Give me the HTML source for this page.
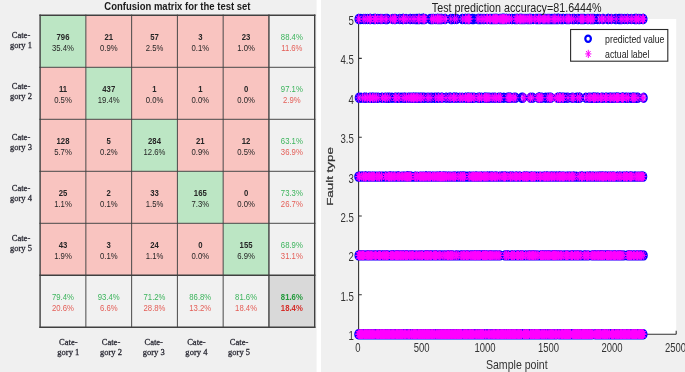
<!DOCTYPE html><html><head><meta charset="utf-8"><title>Confusion matrix and test prediction</title>
<style>html,body{margin:0;padding:0;background:#f0f0f0;overflow:hidden}svg{display:block}text{white-space:pre}.s{font-family:"Liberation Sans",Arial,sans-serif}.r{font-family:"Liberation Serif","Times New Roman",serif}</style></head><body>
<svg width="685" height="372" viewBox="0 0 685 372">
<rect width="685" height="372" fill="#f0f0f0"/>
<rect x="316.6" y="0" width="4.4" height="372" fill="#ffffff"/>
<rect x="40.10" y="15.30" width="45.77" height="52.00" fill="#bce6c4"/>
<rect x="85.87" y="15.30" width="45.77" height="52.00" fill="#f9c4c0"/>
<rect x="131.63" y="15.30" width="45.77" height="52.00" fill="#f9c4c0"/>
<rect x="177.40" y="15.30" width="45.77" height="52.00" fill="#f9c4c0"/>
<rect x="223.17" y="15.30" width="45.77" height="52.00" fill="#f9c4c0"/>
<rect x="268.93" y="15.30" width="45.77" height="52.00" fill="#f1f1f1"/>
<rect x="40.10" y="67.30" width="45.77" height="52.00" fill="#f9c4c0"/>
<rect x="85.87" y="67.30" width="45.77" height="52.00" fill="#bce6c4"/>
<rect x="131.63" y="67.30" width="45.77" height="52.00" fill="#f9c4c0"/>
<rect x="177.40" y="67.30" width="45.77" height="52.00" fill="#f9c4c0"/>
<rect x="223.17" y="67.30" width="45.77" height="52.00" fill="#f9c4c0"/>
<rect x="268.93" y="67.30" width="45.77" height="52.00" fill="#f1f1f1"/>
<rect x="40.10" y="119.30" width="45.77" height="52.00" fill="#f9c4c0"/>
<rect x="85.87" y="119.30" width="45.77" height="52.00" fill="#f9c4c0"/>
<rect x="131.63" y="119.30" width="45.77" height="52.00" fill="#bce6c4"/>
<rect x="177.40" y="119.30" width="45.77" height="52.00" fill="#f9c4c0"/>
<rect x="223.17" y="119.30" width="45.77" height="52.00" fill="#f9c4c0"/>
<rect x="268.93" y="119.30" width="45.77" height="52.00" fill="#f1f1f1"/>
<rect x="40.10" y="171.30" width="45.77" height="52.00" fill="#f9c4c0"/>
<rect x="85.87" y="171.30" width="45.77" height="52.00" fill="#f9c4c0"/>
<rect x="131.63" y="171.30" width="45.77" height="52.00" fill="#f9c4c0"/>
<rect x="177.40" y="171.30" width="45.77" height="52.00" fill="#bce6c4"/>
<rect x="223.17" y="171.30" width="45.77" height="52.00" fill="#f9c4c0"/>
<rect x="268.93" y="171.30" width="45.77" height="52.00" fill="#f1f1f1"/>
<rect x="40.10" y="223.30" width="45.77" height="52.00" fill="#f9c4c0"/>
<rect x="85.87" y="223.30" width="45.77" height="52.00" fill="#f9c4c0"/>
<rect x="131.63" y="223.30" width="45.77" height="52.00" fill="#f9c4c0"/>
<rect x="177.40" y="223.30" width="45.77" height="52.00" fill="#f9c4c0"/>
<rect x="223.17" y="223.30" width="45.77" height="52.00" fill="#bce6c4"/>
<rect x="268.93" y="223.30" width="45.77" height="52.00" fill="#f1f1f1"/>
<rect x="40.10" y="275.30" width="45.77" height="52.00" fill="#f1f1f1"/>
<rect x="85.87" y="275.30" width="45.77" height="52.00" fill="#f1f1f1"/>
<rect x="131.63" y="275.30" width="45.77" height="52.00" fill="#f1f1f1"/>
<rect x="177.40" y="275.30" width="45.77" height="52.00" fill="#f1f1f1"/>
<rect x="223.17" y="275.30" width="45.77" height="52.00" fill="#f1f1f1"/>
<rect x="268.93" y="275.30" width="45.77" height="52.00" fill="#d9d9d9"/>
<line x1="40.10" y1="14.60" x2="40.10" y2="328.00" stroke="#404040" stroke-width="1.4"/>
<line x1="39.40" y1="15.30" x2="315.40" y2="15.30" stroke="#404040" stroke-width="1.4"/>
<line x1="85.87" y1="14.60" x2="85.87" y2="328.00" stroke="#404040" stroke-width="0.95"/>
<line x1="39.40" y1="67.30" x2="315.40" y2="67.30" stroke="#404040" stroke-width="0.95"/>
<line x1="131.63" y1="14.60" x2="131.63" y2="328.00" stroke="#404040" stroke-width="0.95"/>
<line x1="39.40" y1="119.30" x2="315.40" y2="119.30" stroke="#404040" stroke-width="0.95"/>
<line x1="177.40" y1="14.60" x2="177.40" y2="328.00" stroke="#404040" stroke-width="0.95"/>
<line x1="39.40" y1="171.30" x2="315.40" y2="171.30" stroke="#404040" stroke-width="0.95"/>
<line x1="223.17" y1="14.60" x2="223.17" y2="328.00" stroke="#404040" stroke-width="0.95"/>
<line x1="39.40" y1="223.30" x2="315.40" y2="223.30" stroke="#404040" stroke-width="0.95"/>
<line x1="268.93" y1="14.60" x2="268.93" y2="328.00" stroke="#404040" stroke-width="1.4"/>
<line x1="39.40" y1="275.30" x2="315.40" y2="275.30" stroke="#404040" stroke-width="1.4"/>
<line x1="314.70" y1="14.60" x2="314.70" y2="328.00" stroke="#404040" stroke-width="1.4"/>
<line x1="39.40" y1="327.30" x2="315.40" y2="327.30" stroke="#404040" stroke-width="1.4"/>
<text class="s" transform="translate(62.98,39.55) scale(0.86,1.0)" font-size="9" fill="#262626" font-weight="bold" text-anchor="middle">796</text>
<text class="s" transform="translate(62.98,50.90) scale(0.86,1.0)" font-size="9" fill="#262626" font-weight="normal" text-anchor="middle">35.4%</text>
<text class="s" transform="translate(108.75,39.55) scale(0.86,1.0)" font-size="9" fill="#262626" font-weight="bold" text-anchor="middle">21</text>
<text class="s" transform="translate(108.75,50.90) scale(0.86,1.0)" font-size="9" fill="#262626" font-weight="normal" text-anchor="middle">0.9%</text>
<text class="s" transform="translate(154.52,39.55) scale(0.86,1.0)" font-size="9" fill="#262626" font-weight="bold" text-anchor="middle">57</text>
<text class="s" transform="translate(154.52,50.90) scale(0.86,1.0)" font-size="9" fill="#262626" font-weight="normal" text-anchor="middle">2.5%</text>
<text class="s" transform="translate(200.28,39.55) scale(0.86,1.0)" font-size="9" fill="#262626" font-weight="bold" text-anchor="middle">3</text>
<text class="s" transform="translate(200.28,50.90) scale(0.86,1.0)" font-size="9" fill="#262626" font-weight="normal" text-anchor="middle">0.1%</text>
<text class="s" transform="translate(246.05,39.55) scale(0.86,1.0)" font-size="9" fill="#262626" font-weight="bold" text-anchor="middle">23</text>
<text class="s" transform="translate(246.05,50.90) scale(0.86,1.0)" font-size="9" fill="#262626" font-weight="normal" text-anchor="middle">1.0%</text>
<text class="s" transform="translate(291.82,39.55) scale(0.86,1.0)" font-size="9" fill="#3cb45c" font-weight="normal" text-anchor="middle">88.4%</text>
<text class="s" transform="translate(291.82,50.90) scale(0.86,1.0)" font-size="9" fill="#e45e57" font-weight="normal" text-anchor="middle">11.6%</text>
<text class="s" transform="translate(62.98,91.55) scale(0.86,1.0)" font-size="9" fill="#262626" font-weight="bold" text-anchor="middle">11</text>
<text class="s" transform="translate(62.98,102.90) scale(0.86,1.0)" font-size="9" fill="#262626" font-weight="normal" text-anchor="middle">0.5%</text>
<text class="s" transform="translate(108.75,91.55) scale(0.86,1.0)" font-size="9" fill="#262626" font-weight="bold" text-anchor="middle">437</text>
<text class="s" transform="translate(108.75,102.90) scale(0.86,1.0)" font-size="9" fill="#262626" font-weight="normal" text-anchor="middle">19.4%</text>
<text class="s" transform="translate(154.52,91.55) scale(0.86,1.0)" font-size="9" fill="#262626" font-weight="bold" text-anchor="middle">1</text>
<text class="s" transform="translate(154.52,102.90) scale(0.86,1.0)" font-size="9" fill="#262626" font-weight="normal" text-anchor="middle">0.0%</text>
<text class="s" transform="translate(200.28,91.55) scale(0.86,1.0)" font-size="9" fill="#262626" font-weight="bold" text-anchor="middle">1</text>
<text class="s" transform="translate(200.28,102.90) scale(0.86,1.0)" font-size="9" fill="#262626" font-weight="normal" text-anchor="middle">0.0%</text>
<text class="s" transform="translate(246.05,91.55) scale(0.86,1.0)" font-size="9" fill="#262626" font-weight="bold" text-anchor="middle">0</text>
<text class="s" transform="translate(246.05,102.90) scale(0.86,1.0)" font-size="9" fill="#262626" font-weight="normal" text-anchor="middle">0.0%</text>
<text class="s" transform="translate(291.82,91.55) scale(0.86,1.0)" font-size="9" fill="#3cb45c" font-weight="normal" text-anchor="middle">97.1%</text>
<text class="s" transform="translate(291.82,102.90) scale(0.86,1.0)" font-size="9" fill="#e45e57" font-weight="normal" text-anchor="middle">2.9%</text>
<text class="s" transform="translate(62.98,143.55) scale(0.86,1.0)" font-size="9" fill="#262626" font-weight="bold" text-anchor="middle">128</text>
<text class="s" transform="translate(62.98,154.90) scale(0.86,1.0)" font-size="9" fill="#262626" font-weight="normal" text-anchor="middle">5.7%</text>
<text class="s" transform="translate(108.75,143.55) scale(0.86,1.0)" font-size="9" fill="#262626" font-weight="bold" text-anchor="middle">5</text>
<text class="s" transform="translate(108.75,154.90) scale(0.86,1.0)" font-size="9" fill="#262626" font-weight="normal" text-anchor="middle">0.2%</text>
<text class="s" transform="translate(154.52,143.55) scale(0.86,1.0)" font-size="9" fill="#262626" font-weight="bold" text-anchor="middle">284</text>
<text class="s" transform="translate(154.52,154.90) scale(0.86,1.0)" font-size="9" fill="#262626" font-weight="normal" text-anchor="middle">12.6%</text>
<text class="s" transform="translate(200.28,143.55) scale(0.86,1.0)" font-size="9" fill="#262626" font-weight="bold" text-anchor="middle">21</text>
<text class="s" transform="translate(200.28,154.90) scale(0.86,1.0)" font-size="9" fill="#262626" font-weight="normal" text-anchor="middle">0.9%</text>
<text class="s" transform="translate(246.05,143.55) scale(0.86,1.0)" font-size="9" fill="#262626" font-weight="bold" text-anchor="middle">12</text>
<text class="s" transform="translate(246.05,154.90) scale(0.86,1.0)" font-size="9" fill="#262626" font-weight="normal" text-anchor="middle">0.5%</text>
<text class="s" transform="translate(291.82,143.55) scale(0.86,1.0)" font-size="9" fill="#3cb45c" font-weight="normal" text-anchor="middle">63.1%</text>
<text class="s" transform="translate(291.82,154.90) scale(0.86,1.0)" font-size="9" fill="#e45e57" font-weight="normal" text-anchor="middle">36.9%</text>
<text class="s" transform="translate(62.98,195.55) scale(0.86,1.0)" font-size="9" fill="#262626" font-weight="bold" text-anchor="middle">25</text>
<text class="s" transform="translate(62.98,206.90) scale(0.86,1.0)" font-size="9" fill="#262626" font-weight="normal" text-anchor="middle">1.1%</text>
<text class="s" transform="translate(108.75,195.55) scale(0.86,1.0)" font-size="9" fill="#262626" font-weight="bold" text-anchor="middle">2</text>
<text class="s" transform="translate(108.75,206.90) scale(0.86,1.0)" font-size="9" fill="#262626" font-weight="normal" text-anchor="middle">0.1%</text>
<text class="s" transform="translate(154.52,195.55) scale(0.86,1.0)" font-size="9" fill="#262626" font-weight="bold" text-anchor="middle">33</text>
<text class="s" transform="translate(154.52,206.90) scale(0.86,1.0)" font-size="9" fill="#262626" font-weight="normal" text-anchor="middle">1.5%</text>
<text class="s" transform="translate(200.28,195.55) scale(0.86,1.0)" font-size="9" fill="#262626" font-weight="bold" text-anchor="middle">165</text>
<text class="s" transform="translate(200.28,206.90) scale(0.86,1.0)" font-size="9" fill="#262626" font-weight="normal" text-anchor="middle">7.3%</text>
<text class="s" transform="translate(246.05,195.55) scale(0.86,1.0)" font-size="9" fill="#262626" font-weight="bold" text-anchor="middle">0</text>
<text class="s" transform="translate(246.05,206.90) scale(0.86,1.0)" font-size="9" fill="#262626" font-weight="normal" text-anchor="middle">0.0%</text>
<text class="s" transform="translate(291.82,195.55) scale(0.86,1.0)" font-size="9" fill="#3cb45c" font-weight="normal" text-anchor="middle">73.3%</text>
<text class="s" transform="translate(291.82,206.90) scale(0.86,1.0)" font-size="9" fill="#e45e57" font-weight="normal" text-anchor="middle">26.7%</text>
<text class="s" transform="translate(62.98,247.55) scale(0.86,1.0)" font-size="9" fill="#262626" font-weight="bold" text-anchor="middle">43</text>
<text class="s" transform="translate(62.98,258.90) scale(0.86,1.0)" font-size="9" fill="#262626" font-weight="normal" text-anchor="middle">1.9%</text>
<text class="s" transform="translate(108.75,247.55) scale(0.86,1.0)" font-size="9" fill="#262626" font-weight="bold" text-anchor="middle">3</text>
<text class="s" transform="translate(108.75,258.90) scale(0.86,1.0)" font-size="9" fill="#262626" font-weight="normal" text-anchor="middle">0.1%</text>
<text class="s" transform="translate(154.52,247.55) scale(0.86,1.0)" font-size="9" fill="#262626" font-weight="bold" text-anchor="middle">24</text>
<text class="s" transform="translate(154.52,258.90) scale(0.86,1.0)" font-size="9" fill="#262626" font-weight="normal" text-anchor="middle">1.1%</text>
<text class="s" transform="translate(200.28,247.55) scale(0.86,1.0)" font-size="9" fill="#262626" font-weight="bold" text-anchor="middle">0</text>
<text class="s" transform="translate(200.28,258.90) scale(0.86,1.0)" font-size="9" fill="#262626" font-weight="normal" text-anchor="middle">0.0%</text>
<text class="s" transform="translate(246.05,247.55) scale(0.86,1.0)" font-size="9" fill="#262626" font-weight="bold" text-anchor="middle">155</text>
<text class="s" transform="translate(246.05,258.90) scale(0.86,1.0)" font-size="9" fill="#262626" font-weight="normal" text-anchor="middle">6.9%</text>
<text class="s" transform="translate(291.82,247.55) scale(0.86,1.0)" font-size="9" fill="#3cb45c" font-weight="normal" text-anchor="middle">68.9%</text>
<text class="s" transform="translate(291.82,258.90) scale(0.86,1.0)" font-size="9" fill="#e45e57" font-weight="normal" text-anchor="middle">31.1%</text>
<text class="s" transform="translate(62.98,299.55) scale(0.86,1.0)" font-size="9" fill="#3cb45c" font-weight="normal" text-anchor="middle">79.4%</text>
<text class="s" transform="translate(62.98,310.90) scale(0.86,1.0)" font-size="9" fill="#e45e57" font-weight="normal" text-anchor="middle">20.6%</text>
<text class="s" transform="translate(108.75,299.55) scale(0.86,1.0)" font-size="9" fill="#3cb45c" font-weight="normal" text-anchor="middle">93.4%</text>
<text class="s" transform="translate(108.75,310.90) scale(0.86,1.0)" font-size="9" fill="#e45e57" font-weight="normal" text-anchor="middle">6.6%</text>
<text class="s" transform="translate(154.52,299.55) scale(0.86,1.0)" font-size="9" fill="#3cb45c" font-weight="normal" text-anchor="middle">71.2%</text>
<text class="s" transform="translate(154.52,310.90) scale(0.86,1.0)" font-size="9" fill="#e45e57" font-weight="normal" text-anchor="middle">28.8%</text>
<text class="s" transform="translate(200.28,299.55) scale(0.86,1.0)" font-size="9" fill="#3cb45c" font-weight="normal" text-anchor="middle">86.8%</text>
<text class="s" transform="translate(200.28,310.90) scale(0.86,1.0)" font-size="9" fill="#e45e57" font-weight="normal" text-anchor="middle">13.2%</text>
<text class="s" transform="translate(246.05,299.55) scale(0.86,1.0)" font-size="9" fill="#3cb45c" font-weight="normal" text-anchor="middle">81.6%</text>
<text class="s" transform="translate(246.05,310.90) scale(0.86,1.0)" font-size="9" fill="#e45e57" font-weight="normal" text-anchor="middle">18.4%</text>
<text class="s" transform="translate(291.82,299.55) scale(0.86,1.0)" font-size="9" fill="#239a3c" font-weight="bold" text-anchor="middle">81.6%</text>
<text class="s" transform="translate(291.82,310.90) scale(0.86,1.0)" font-size="9" fill="#d62d28" font-weight="bold" text-anchor="middle">18.4%</text>
<text class="s" transform="translate(177.40,10.40) scale(0.95,1.0)" font-size="10" fill="#1a1a1a" font-weight="bold" text-anchor="middle">Confusion matrix for the test set</text>
<text class="r" transform="translate(21.00,38.20) scale(0.95,1.0)" font-size="9" fill="#1f1f2a" stroke="#1f1f2a" stroke-width="0.25" font-weight="normal" text-anchor="middle">Cate-</text>
<text class="r" transform="translate(21.00,48.10) scale(0.95,1.0)" font-size="9" fill="#1f1f2a" stroke="#1f1f2a" stroke-width="0.25" font-weight="normal" text-anchor="middle">gory 1</text>
<text class="r" transform="translate(21.00,89.00) scale(0.95,1.0)" font-size="9" fill="#1f1f2a" stroke="#1f1f2a" stroke-width="0.25" font-weight="normal" text-anchor="middle">Cate-</text>
<text class="r" transform="translate(21.00,98.90) scale(0.95,1.0)" font-size="9" fill="#1f1f2a" stroke="#1f1f2a" stroke-width="0.25" font-weight="normal" text-anchor="middle">gory 2</text>
<text class="r" transform="translate(21.00,139.80) scale(0.95,1.0)" font-size="9" fill="#1f1f2a" stroke="#1f1f2a" stroke-width="0.25" font-weight="normal" text-anchor="middle">Cate-</text>
<text class="r" transform="translate(21.00,149.70) scale(0.95,1.0)" font-size="9" fill="#1f1f2a" stroke="#1f1f2a" stroke-width="0.25" font-weight="normal" text-anchor="middle">gory 3</text>
<text class="r" transform="translate(21.00,190.60) scale(0.95,1.0)" font-size="9" fill="#1f1f2a" stroke="#1f1f2a" stroke-width="0.25" font-weight="normal" text-anchor="middle">Cate-</text>
<text class="r" transform="translate(21.00,200.50) scale(0.95,1.0)" font-size="9" fill="#1f1f2a" stroke="#1f1f2a" stroke-width="0.25" font-weight="normal" text-anchor="middle">gory 4</text>
<text class="r" transform="translate(21.00,241.40) scale(0.95,1.0)" font-size="9" fill="#1f1f2a" stroke="#1f1f2a" stroke-width="0.25" font-weight="normal" text-anchor="middle">Cate-</text>
<text class="r" transform="translate(21.00,251.30) scale(0.95,1.0)" font-size="9" fill="#1f1f2a" stroke="#1f1f2a" stroke-width="0.25" font-weight="normal" text-anchor="middle">gory 5</text>
<text class="r" transform="translate(68.30,345.00) scale(0.95,1.0)" font-size="9" fill="#1f1f2a" stroke="#1f1f2a" stroke-width="0.25" font-weight="normal" text-anchor="middle">Cate-</text>
<text class="r" transform="translate(68.30,354.90) scale(0.95,1.0)" font-size="9" fill="#1f1f2a" stroke="#1f1f2a" stroke-width="0.25" font-weight="normal" text-anchor="middle">gory 1</text>
<text class="r" transform="translate(111.00,345.00) scale(0.95,1.0)" font-size="9" fill="#1f1f2a" stroke="#1f1f2a" stroke-width="0.25" font-weight="normal" text-anchor="middle">Cate-</text>
<text class="r" transform="translate(111.00,354.90) scale(0.95,1.0)" font-size="9" fill="#1f1f2a" stroke="#1f1f2a" stroke-width="0.25" font-weight="normal" text-anchor="middle">gory 2</text>
<text class="r" transform="translate(153.70,345.00) scale(0.95,1.0)" font-size="9" fill="#1f1f2a" stroke="#1f1f2a" stroke-width="0.25" font-weight="normal" text-anchor="middle">Cate-</text>
<text class="r" transform="translate(153.70,354.90) scale(0.95,1.0)" font-size="9" fill="#1f1f2a" stroke="#1f1f2a" stroke-width="0.25" font-weight="normal" text-anchor="middle">gory 3</text>
<text class="r" transform="translate(196.40,345.00) scale(0.95,1.0)" font-size="9" fill="#1f1f2a" stroke="#1f1f2a" stroke-width="0.25" font-weight="normal" text-anchor="middle">Cate-</text>
<text class="r" transform="translate(196.40,354.90) scale(0.95,1.0)" font-size="9" fill="#1f1f2a" stroke="#1f1f2a" stroke-width="0.25" font-weight="normal" text-anchor="middle">gory 4</text>
<text class="r" transform="translate(239.10,345.00) scale(0.95,1.0)" font-size="9" fill="#1f1f2a" stroke="#1f1f2a" stroke-width="0.25" font-weight="normal" text-anchor="middle">Cate-</text>
<text class="r" transform="translate(239.10,354.90) scale(0.95,1.0)" font-size="9" fill="#1f1f2a" stroke="#1f1f2a" stroke-width="0.25" font-weight="normal" text-anchor="middle">gory 5</text>
<rect x="358.60" y="19.00" width="317.60" height="315.20" fill="#ffffff"/>
<path d="M358.60,19.00V334.20H676.20" fill="none" stroke="#333333" stroke-width="1.1"/>
<path d="M358.60,334.20h3.2M358.60,294.80h3.2M358.60,255.40h3.2M358.60,216.00h3.2M358.60,176.60h3.2M358.60,137.20h3.2M358.60,97.80h3.2M358.60,58.40h3.2M358.60,19.00h3.2M358.60,334.20v-3.4M422.12,334.20v-3.4M485.64,334.20v-3.4M549.16,334.20v-3.4M612.68,334.20v-3.4M676.20,334.20v-3.4" fill="none" stroke="#333333" stroke-width="1.1"/>
<path d="M355.3,334.2a2.95,4.1 0 1,0 5.9,0a2.95,4.1 0 1,0 -5.9,0m.5,0a2.95,4.1 0 1,0 5.9,0a2.95,4.1 0 1,0 -5.9,0m.75,0a2.95,4.1 0 1,0 5.9,0a2.95,4.1 0 1,0 -5.9,0m.25,0a2.95,4.1 0 1,0 5.9,0a2.95,4.1 0 1,0 -5.9,0m.5,0a2.95,4.1 0 1,0 5.9,0a2.95,4.1 0 1,0 -5.9,0m.25,0a2.95,4.1 0 1,0 5.9,0a2.95,4.1 0 1,0 -5.9,0m.25,0a2.95,4.1 0 1,0 5.9,0a2.95,4.1 0 1,0 -5.9,0m.25,0a2.95,4.1 0 1,0 5.9,0a2.95,4.1 0 1,0 -5.9,0m.5,0a2.95,4.1 0 1,0 5.9,0a2.95,4.1 0 1,0 -5.9,0m.25,0a2.95,4.1 0 1,0 5.9,0a2.95,4.1 0 1,0 -5.9,0m.25,0a2.95,4.1 0 1,0 5.9,0a2.95,4.1 0 1,0 -5.9,0m.25,0a2.95,4.1 0 1,0 5.9,0a2.95,4.1 0 1,0 -5.9,0m.75,0a2.95,4.1 0 1,0 5.9,0a2.95,4.1 0 1,0 -5.9,0m.25,0a2.95,4.1 0 1,0 5.9,0a2.95,4.1 0 1,0 -5.9,0m.25,0a2.95,4.1 0 1,0 5.9,0a2.95,4.1 0 1,0 -5.9,0m.25,0a2.95,4.1 0 1,0 5.9,0a2.95,4.1 0 1,0 -5.9,0m.5,0a2.95,4.1 0 1,0 5.9,0a2.95,4.1 0 1,0 -5.9,0m.25,0a2.95,4.1 0 1,0 5.9,0a2.95,4.1 0 1,0 -5.9,0m.25,0a2.95,4.1 0 1,0 5.9,0a2.95,4.1 0 1,0 -5.9,0m.25,0a2.95,4.1 0 1,0 5.9,0a2.95,4.1 0 1,0 -5.9,0m.25,0a2.95,4.1 0 1,0 5.9,0a2.95,4.1 0 1,0 -5.9,0m1.25,0a2.95,4.1 0 1,0 5.9,0a2.95,4.1 0 1,0 -5.9,0m.25,0a2.95,4.1 0 1,0 5.9,0a2.95,4.1 0 1,0 -5.9,0m.25,0a2.95,4.1 0 1,0 5.9,0a2.95,4.1 0 1,0 -5.9,0m.25,0a2.95,4.1 0 1,0 5.9,0a2.95,4.1 0 1,0 -5.9,0m.5,0a2.95,4.1 0 1,0 5.9,0a2.95,4.1 0 1,0 -5.9,0m.25,0a2.95,4.1 0 1,0 5.9,0a2.95,4.1 0 1,0 -5.9,0m.5,0a2.95,4.1 0 1,0 5.9,0a2.95,4.1 0 1,0 -5.9,0m.25,0a2.95,4.1 0 1,0 5.9,0a2.95,4.1 0 1,0 -5.9,0m.25,0a2.95,4.1 0 1,0 5.9,0a2.95,4.1 0 1,0 -5.9,0m.25,0a2.95,4.1 0 1,0 5.9,0a2.95,4.1 0 1,0 -5.9,0m.75,0a2.95,4.1 0 1,0 5.9,0a2.95,4.1 0 1,0 -5.9,0m.25,0a2.95,4.1 0 1,0 5.9,0a2.95,4.1 0 1,0 -5.9,0m.5,0a2.95,4.1 0 1,0 5.9,0a2.95,4.1 0 1,0 -5.9,0m.25,0a2.95,4.1 0 1,0 5.9,0a2.95,4.1 0 1,0 -5.9,0m.25,0a2.95,4.1 0 1,0 5.9,0a2.95,4.1 0 1,0 -5.9,0m.5,0a2.95,4.1 0 1,0 5.9,0a2.95,4.1 0 1,0 -5.9,0m.5,0a2.95,4.1 0 1,0 5.9,0a2.95,4.1 0 1,0 -5.9,0m.25,0a2.95,4.1 0 1,0 5.9,0a2.95,4.1 0 1,0 -5.9,0m.25,0a2.95,4.1 0 1,0 5.9,0a2.95,4.1 0 1,0 -5.9,0m.5,0a2.95,4.1 0 1,0 5.9,0a2.95,4.1 0 1,0 -5.9,0m.5,0a2.95,4.1 0 1,0 5.9,0a2.95,4.1 0 1,0 -5.9,0m.5,0a2.95,4.1 0 1,0 5.9,0a2.95,4.1 0 1,0 -5.9,0m.75,0a2.95,4.1 0 1,0 5.9,0a2.95,4.1 0 1,0 -5.9,0m.75,0a2.95,4.1 0 1,0 5.9,0a2.95,4.1 0 1,0 -5.9,0m.25,0a2.95,4.1 0 1,0 5.9,0a2.95,4.1 0 1,0 -5.9,0m.25,0a2.95,4.1 0 1,0 5.9,0a2.95,4.1 0 1,0 -5.9,0m.25,0a2.95,4.1 0 1,0 5.9,0a2.95,4.1 0 1,0 -5.9,0m.25,0a2.95,4.1 0 1,0 5.9,0a2.95,4.1 0 1,0 -5.9,0m.25,0a2.95,4.1 0 1,0 5.9,0a2.95,4.1 0 1,0 -5.9,0m.5,0a2.95,4.1 0 1,0 5.9,0a2.95,4.1 0 1,0 -5.9,0m.25,0a2.95,4.1 0 1,0 5.9,0a2.95,4.1 0 1,0 -5.9,0m.25,0a2.95,4.1 0 1,0 5.9,0a2.95,4.1 0 1,0 -5.9,0m.25,0a2.95,4.1 0 1,0 5.9,0a2.95,4.1 0 1,0 -5.9,0m.25,0a2.95,4.1 0 1,0 5.9,0a2.95,4.1 0 1,0 -5.9,0m.5,0a2.95,4.1 0 1,0 5.9,0a2.95,4.1 0 1,0 -5.9,0m.25,0a2.95,4.1 0 1,0 5.9,0a2.95,4.1 0 1,0 -5.9,0m.25,0a2.95,4.1 0 1,0 5.9,0a2.95,4.1 0 1,0 -5.9,0m.5,0a2.95,4.1 0 1,0 5.9,0a2.95,4.1 0 1,0 -5.9,0m.25,0a2.95,4.1 0 1,0 5.9,0a2.95,4.1 0 1,0 -5.9,0m.25,0a2.95,4.1 0 1,0 5.9,0a2.95,4.1 0 1,0 -5.9,0m.25,0a2.95,4.1 0 1,0 5.9,0a2.95,4.1 0 1,0 -5.9,0m.25,0a2.95,4.1 0 1,0 5.9,0a2.95,4.1 0 1,0 -5.9,0m.25,0a2.95,4.1 0 1,0 5.9,0a2.95,4.1 0 1,0 -5.9,0m.5,0a2.95,4.1 0 1,0 5.9,0a2.95,4.1 0 1,0 -5.9,0m.75,0a2.95,4.1 0 1,0 5.9,0a2.95,4.1 0 1,0 -5.9,0m.25,0a2.95,4.1 0 1,0 5.9,0a2.95,4.1 0 1,0 -5.9,0m.25,0a2.95,4.1 0 1,0 5.9,0a2.95,4.1 0 1,0 -5.9,0m.25,0a2.95,4.1 0 1,0 5.9,0a2.95,4.1 0 1,0 -5.9,0m.25,0a2.95,4.1 0 1,0 5.9,0a2.95,4.1 0 1,0 -5.9,0m.25,0a2.95,4.1 0 1,0 5.9,0a2.95,4.1 0 1,0 -5.9,0m.25,0a2.95,4.1 0 1,0 5.9,0a2.95,4.1 0 1,0 -5.9,0m.25,0a2.95,4.1 0 1,0 5.9,0a2.95,4.1 0 1,0 -5.9,0m.25,0a2.95,4.1 0 1,0 5.9,0a2.95,4.1 0 1,0 -5.9,0m.25,0a2.95,4.1 0 1,0 5.9,0a2.95,4.1 0 1,0 -5.9,0m.75,0a2.95,4.1 0 1,0 5.9,0a2.95,4.1 0 1,0 -5.9,0m.25,0a2.95,4.1 0 1,0 5.9,0a2.95,4.1 0 1,0 -5.9,0m.5,0a2.95,4.1 0 1,0 5.9,0a2.95,4.1 0 1,0 -5.9,0m.25,0a2.95,4.1 0 1,0 5.9,0a2.95,4.1 0 1,0 -5.9,0m.5,0a2.95,4.1 0 1,0 5.9,0a2.95,4.1 0 1,0 -5.9,0m.5,0a2.95,4.1 0 1,0 5.9,0a2.95,4.1 0 1,0 -5.9,0m.75,0a2.95,4.1 0 1,0 5.9,0a2.95,4.1 0 1,0 -5.9,0m.25,0a2.95,4.1 0 1,0 5.9,0a2.95,4.1 0 1,0 -5.9,0m.25,0a2.95,4.1 0 1,0 5.9,0a2.95,4.1 0 1,0 -5.9,0m.25,0a2.95,4.1 0 1,0 5.9,0a2.95,4.1 0 1,0 -5.9,0m.5,0a2.95,4.1 0 1,0 5.9,0a2.95,4.1 0 1,0 -5.9,0m.25,0a2.95,4.1 0 1,0 5.9,0a2.95,4.1 0 1,0 -5.9,0m.25,0a2.95,4.1 0 1,0 5.9,0a2.95,4.1 0 1,0 -5.9,0m.25,0a2.95,4.1 0 1,0 5.9,0a2.95,4.1 0 1,0 -5.9,0m.25,0a2.95,4.1 0 1,0 5.9,0a2.95,4.1 0 1,0 -5.9,0m.5,0a2.95,4.1 0 1,0 5.9,0a2.95,4.1 0 1,0 -5.9,0m.25,0a2.95,4.1 0 1,0 5.9,0a2.95,4.1 0 1,0 -5.9,0m.75,0a2.95,4.1 0 1,0 5.9,0a2.95,4.1 0 1,0 -5.9,0m.25,0a2.95,4.1 0 1,0 5.9,0a2.95,4.1 0 1,0 -5.9,0m.25,0a2.95,4.1 0 1,0 5.9,0a2.95,4.1 0 1,0 -5.9,0m.75,0a2.95,4.1 0 1,0 5.9,0a2.95,4.1 0 1,0 -5.9,0m.25,0a2.95,4.1 0 1,0 5.9,0a2.95,4.1 0 1,0 -5.9,0m.5,0a2.95,4.1 0 1,0 5.9,0a2.95,4.1 0 1,0 -5.9,0m.25,0a2.95,4.1 0 1,0 5.9,0a2.95,4.1 0 1,0 -5.9,0m.25,0a2.95,4.1 0 1,0 5.9,0a2.95,4.1 0 1,0 -5.9,0m.25,0a2.95,4.1 0 1,0 5.9,0a2.95,4.1 0 1,0 -5.9,0m1,0a2.95,4.1 0 1,0 5.9,0a2.95,4.1 0 1,0 -5.9,0m.25,0a2.95,4.1 0 1,0 5.9,0a2.95,4.1 0 1,0 -5.9,0m.25,0a2.95,4.1 0 1,0 5.9,0a2.95,4.1 0 1,0 -5.9,0m.5,0a2.95,4.1 0 1,0 5.9,0a2.95,4.1 0 1,0 -5.9,0m.25,0a2.95,4.1 0 1,0 5.9,0a2.95,4.1 0 1,0 -5.9,0m.5,0a2.95,4.1 0 1,0 5.9,0a2.95,4.1 0 1,0 -5.9,0m.75,0a2.95,4.1 0 1,0 5.9,0a2.95,4.1 0 1,0 -5.9,0m1.25,0a2.95,4.1 0 1,0 5.9,0a2.95,4.1 0 1,0 -5.9,0m.25,0a2.95,4.1 0 1,0 5.9,0a2.95,4.1 0 1,0 -5.9,0m.25,0a2.95,4.1 0 1,0 5.9,0a2.95,4.1 0 1,0 -5.9,0m.25,0a2.95,4.1 0 1,0 5.9,0a2.95,4.1 0 1,0 -5.9,0m.25,0a2.95,4.1 0 1,0 5.9,0a2.95,4.1 0 1,0 -5.9,0m.25,0a2.95,4.1 0 1,0 5.9,0a2.95,4.1 0 1,0 -5.9,0m.5,0a2.95,4.1 0 1,0 5.9,0a2.95,4.1 0 1,0 -5.9,0m.25,0a2.95,4.1 0 1,0 5.9,0a2.95,4.1 0 1,0 -5.9,0m.5,0a2.95,4.1 0 1,0 5.9,0a2.95,4.1 0 1,0 -5.9,0m.25,0a2.95,4.1 0 1,0 5.9,0a2.95,4.1 0 1,0 -5.9,0m.5,0a2.95,4.1 0 1,0 5.9,0a2.95,4.1 0 1,0 -5.9,0m1,0a2.95,4.1 0 1,0 5.9,0a2.95,4.1 0 1,0 -5.9,0m.75,0a2.95,4.1 0 1,0 5.9,0a2.95,4.1 0 1,0 -5.9,0m.25,0a2.95,4.1 0 1,0 5.9,0a2.95,4.1 0 1,0 -5.9,0m.25,0a2.95,4.1 0 1,0 5.9,0a2.95,4.1 0 1,0 -5.9,0m.25,0a2.95,4.1 0 1,0 5.9,0a2.95,4.1 0 1,0 -5.9,0m.25,0a2.95,4.1 0 1,0 5.9,0a2.95,4.1 0 1,0 -5.9,0m1.25,0a2.95,4.1 0 1,0 5.9,0a2.95,4.1 0 1,0 -5.9,0m.25,0a2.95,4.1 0 1,0 5.9,0a2.95,4.1 0 1,0 -5.9,0m.75,0a2.95,4.1 0 1,0 5.9,0a2.95,4.1 0 1,0 -5.9,0m.75,0a2.95,4.1 0 1,0 5.9,0a2.95,4.1 0 1,0 -5.9,0m.25,0a2.95,4.1 0 1,0 5.9,0a2.95,4.1 0 1,0 -5.9,0m.25,0a2.95,4.1 0 1,0 5.9,0a2.95,4.1 0 1,0 -5.9,0m.25,0a2.95,4.1 0 1,0 5.9,0a2.95,4.1 0 1,0 -5.9,0m.25,0a2.95,4.1 0 1,0 5.9,0a2.95,4.1 0 1,0 -5.9,0m.25,0a2.95,4.1 0 1,0 5.9,0a2.95,4.1 0 1,0 -5.9,0m.5,0a2.95,4.1 0 1,0 5.9,0a2.95,4.1 0 1,0 -5.9,0m.5,0a2.95,4.1 0 1,0 5.9,0a2.95,4.1 0 1,0 -5.9,0m.25,0a2.95,4.1 0 1,0 5.9,0a2.95,4.1 0 1,0 -5.9,0m.25,0a2.95,4.1 0 1,0 5.9,0a2.95,4.1 0 1,0 -5.9,0m.5,0a2.95,4.1 0 1,0 5.9,0a2.95,4.1 0 1,0 -5.9,0m.25,0a2.95,4.1 0 1,0 5.9,0a2.95,4.1 0 1,0 -5.9,0m.75,0a2.95,4.1 0 1,0 5.9,0a2.95,4.1 0 1,0 -5.9,0m.25,0a2.95,4.1 0 1,0 5.9,0a2.95,4.1 0 1,0 -5.9,0m.25,0a2.95,4.1 0 1,0 5.9,0a2.95,4.1 0 1,0 -5.9,0m.25,0a2.95,4.1 0 1,0 5.9,0a2.95,4.1 0 1,0 -5.9,0m.25,0a2.95,4.1 0 1,0 5.9,0a2.95,4.1 0 1,0 -5.9,0m.25,0a2.95,4.1 0 1,0 5.9,0a2.95,4.1 0 1,0 -5.9,0m.25,0a2.95,4.1 0 1,0 5.9,0a2.95,4.1 0 1,0 -5.9,0m.25,0a2.95,4.1 0 1,0 5.9,0a2.95,4.1 0 1,0 -5.9,0m.5,0a2.95,4.1 0 1,0 5.9,0a2.95,4.1 0 1,0 -5.9,0m.75,0a2.95,4.1 0 1,0 5.9,0a2.95,4.1 0 1,0 -5.9,0m.25,0a2.95,4.1 0 1,0 5.9,0a2.95,4.1 0 1,0 -5.9,0m.25,0a2.95,4.1 0 1,0 5.9,0a2.95,4.1 0 1,0 -5.9,0m.25,0a2.95,4.1 0 1,0 5.9,0a2.95,4.1 0 1,0 -5.9,0m.25,0a2.95,4.1 0 1,0 5.9,0a2.95,4.1 0 1,0 -5.9,0m.25,0a2.95,4.1 0 1,0 5.9,0a2.95,4.1 0 1,0 -5.9,0m.75,0a2.95,4.1 0 1,0 5.9,0a2.95,4.1 0 1,0 -5.9,0m.25,0a2.95,4.1 0 1,0 5.9,0a2.95,4.1 0 1,0 -5.9,0m.5,0a2.95,4.1 0 1,0 5.9,0a2.95,4.1 0 1,0 -5.9,0m.25,0a2.95,4.1 0 1,0 5.9,0a2.95,4.1 0 1,0 -5.9,0m.25,0a2.95,4.1 0 1,0 5.9,0a2.95,4.1 0 1,0 -5.9,0m.25,0a2.95,4.1 0 1,0 5.9,0a2.95,4.1 0 1,0 -5.9,0m.25,0a2.95,4.1 0 1,0 5.9,0a2.95,4.1 0 1,0 -5.9,0m.25,0a2.95,4.1 0 1,0 5.9,0a2.95,4.1 0 1,0 -5.9,0m.5,0a2.95,4.1 0 1,0 5.9,0a2.95,4.1 0 1,0 -5.9,0m.25,0a2.95,4.1 0 1,0 5.9,0a2.95,4.1 0 1,0 -5.9,0m.25,0a2.95,4.1 0 1,0 5.9,0a2.95,4.1 0 1,0 -5.9,0m.25,0a2.95,4.1 0 1,0 5.9,0a2.95,4.1 0 1,0 -5.9,0m.5,0a2.95,4.1 0 1,0 5.9,0a2.95,4.1 0 1,0 -5.9,0m.25,0a2.95,4.1 0 1,0 5.9,0a2.95,4.1 0 1,0 -5.9,0m.25,0a2.95,4.1 0 1,0 5.9,0a2.95,4.1 0 1,0 -5.9,0m.5,0a2.95,4.1 0 1,0 5.9,0a2.95,4.1 0 1,0 -5.9,0m.25,0a2.95,4.1 0 1,0 5.9,0a2.95,4.1 0 1,0 -5.9,0m.5,0a2.95,4.1 0 1,0 5.9,0a2.95,4.1 0 1,0 -5.9,0m.75,0a2.95,4.1 0 1,0 5.9,0a2.95,4.1 0 1,0 -5.9,0m.25,0a2.95,4.1 0 1,0 5.9,0a2.95,4.1 0 1,0 -5.9,0m.25,0a2.95,4.1 0 1,0 5.9,0a2.95,4.1 0 1,0 -5.9,0m.5,0a2.95,4.1 0 1,0 5.9,0a2.95,4.1 0 1,0 -5.9,0m.5,0a2.95,4.1 0 1,0 5.9,0a2.95,4.1 0 1,0 -5.9,0m.75,0a2.95,4.1 0 1,0 5.9,0a2.95,4.1 0 1,0 -5.9,0m.25,0a2.95,4.1 0 1,0 5.9,0a2.95,4.1 0 1,0 -5.9,0m.5,0a2.95,4.1 0 1,0 5.9,0a2.95,4.1 0 1,0 -5.9,0m.5,0a2.95,4.1 0 1,0 5.9,0a2.95,4.1 0 1,0 -5.9,0m.25,0a2.95,4.1 0 1,0 5.9,0a2.95,4.1 0 1,0 -5.9,0m.25,0a2.95,4.1 0 1,0 5.9,0a2.95,4.1 0 1,0 -5.9,0m.25,0a2.95,4.1 0 1,0 5.9,0a2.95,4.1 0 1,0 -5.9,0m.25,0a2.95,4.1 0 1,0 5.9,0a2.95,4.1 0 1,0 -5.9,0m.5,0a2.95,4.1 0 1,0 5.9,0a2.95,4.1 0 1,0 -5.9,0m.5,0a2.95,4.1 0 1,0 5.9,0a2.95,4.1 0 1,0 -5.9,0m.25,0a2.95,4.1 0 1,0 5.9,0a2.95,4.1 0 1,0 -5.9,0m.5,0a2.95,4.1 0 1,0 5.9,0a2.95,4.1 0 1,0 -5.9,0m.75,0a2.95,4.1 0 1,0 5.9,0a2.95,4.1 0 1,0 -5.9,0m.25,0a2.95,4.1 0 1,0 5.9,0a2.95,4.1 0 1,0 -5.9,0m.25,0a2.95,4.1 0 1,0 5.9,0a2.95,4.1 0 1,0 -5.9,0m.5,0a2.95,4.1 0 1,0 5.9,0a2.95,4.1 0 1,0 -5.9,0m.25,0a2.95,4.1 0 1,0 5.9,0a2.95,4.1 0 1,0 -5.9,0m.25,0a2.95,4.1 0 1,0 5.9,0a2.95,4.1 0 1,0 -5.9,0m.25,0a2.95,4.1 0 1,0 5.9,0a2.95,4.1 0 1,0 -5.9,0m.25,0a2.95,4.1 0 1,0 5.9,0a2.95,4.1 0 1,0 -5.9,0m.5,0a2.95,4.1 0 1,0 5.9,0a2.95,4.1 0 1,0 -5.9,0m.25,0a2.95,4.1 0 1,0 5.9,0a2.95,4.1 0 1,0 -5.9,0m.25,0a2.95,4.1 0 1,0 5.9,0a2.95,4.1 0 1,0 -5.9,0m.25,0a2.95,4.1 0 1,0 5.9,0a2.95,4.1 0 1,0 -5.9,0m.5,0a2.95,4.1 0 1,0 5.9,0a2.95,4.1 0 1,0 -5.9,0m.25,0a2.95,4.1 0 1,0 5.9,0a2.95,4.1 0 1,0 -5.9,0m1,0a2.95,4.1 0 1,0 5.9,0a2.95,4.1 0 1,0 -5.9,0m.5,0a2.95,4.1 0 1,0 5.9,0a2.95,4.1 0 1,0 -5.9,0m.25,0a2.95,4.1 0 1,0 5.9,0a2.95,4.1 0 1,0 -5.9,0m.5,0a2.95,4.1 0 1,0 5.9,0a2.95,4.1 0 1,0 -5.9,0m.5,0a2.95,4.1 0 1,0 5.9,0a2.95,4.1 0 1,0 -5.9,0m.25,0a2.95,4.1 0 1,0 5.9,0a2.95,4.1 0 1,0 -5.9,0m.5,0a2.95,4.1 0 1,0 5.9,0a2.95,4.1 0 1,0 -5.9,0m.5,0a2.95,4.1 0 1,0 5.9,0a2.95,4.1 0 1,0 -5.9,0m.25,0a2.95,4.1 0 1,0 5.9,0a2.95,4.1 0 1,0 -5.9,0m.25,0a2.95,4.1 0 1,0 5.9,0a2.95,4.1 0 1,0 -5.9,0m1,0a2.95,4.1 0 1,0 5.9,0a2.95,4.1 0 1,0 -5.9,0m.5,0a2.95,4.1 0 1,0 5.9,0a2.95,4.1 0 1,0 -5.9,0m.25,0a2.95,4.1 0 1,0 5.9,0a2.95,4.1 0 1,0 -5.9,0m.25,0a2.95,4.1 0 1,0 5.9,0a2.95,4.1 0 1,0 -5.9,0m.25,0a2.95,4.1 0 1,0 5.9,0a2.95,4.1 0 1,0 -5.9,0m.5,0a2.95,4.1 0 1,0 5.9,0a2.95,4.1 0 1,0 -5.9,0m.25,0a2.95,4.1 0 1,0 5.9,0a2.95,4.1 0 1,0 -5.9,0m.5,0a2.95,4.1 0 1,0 5.9,0a2.95,4.1 0 1,0 -5.9,0m.25,0a2.95,4.1 0 1,0 5.9,0a2.95,4.1 0 1,0 -5.9,0m.25,0a2.95,4.1 0 1,0 5.9,0a2.95,4.1 0 1,0 -5.9,0m.5,0a2.95,4.1 0 1,0 5.9,0a2.95,4.1 0 1,0 -5.9,0m.5,0a2.95,4.1 0 1,0 5.9,0a2.95,4.1 0 1,0 -5.9,0m.25,0a2.95,4.1 0 1,0 5.9,0a2.95,4.1 0 1,0 -5.9,0m.25,0a2.95,4.1 0 1,0 5.9,0a2.95,4.1 0 1,0 -5.9,0m.5,0a2.95,4.1 0 1,0 5.9,0a2.95,4.1 0 1,0 -5.9,0m.25,0a2.95,4.1 0 1,0 5.9,0a2.95,4.1 0 1,0 -5.9,0m.5,0a2.95,4.1 0 1,0 5.9,0a2.95,4.1 0 1,0 -5.9,0m.5,0a2.95,4.1 0 1,0 5.9,0a2.95,4.1 0 1,0 -5.9,0m.75,0a2.95,4.1 0 1,0 5.9,0a2.95,4.1 0 1,0 -5.9,0m.25,0a2.95,4.1 0 1,0 5.9,0a2.95,4.1 0 1,0 -5.9,0m.25,0a2.95,4.1 0 1,0 5.9,0a2.95,4.1 0 1,0 -5.9,0m.5,0a2.95,4.1 0 1,0 5.9,0a2.95,4.1 0 1,0 -5.9,0m.25,0a2.95,4.1 0 1,0 5.9,0a2.95,4.1 0 1,0 -5.9,0m.5,0a2.95,4.1 0 1,0 5.9,0a2.95,4.1 0 1,0 -5.9,0m.25,0a2.95,4.1 0 1,0 5.9,0a2.95,4.1 0 1,0 -5.9,0m.25,0a2.95,4.1 0 1,0 5.9,0a2.95,4.1 0 1,0 -5.9,0m.25,0a2.95,4.1 0 1,0 5.9,0a2.95,4.1 0 1,0 -5.9,0m.5,0a2.95,4.1 0 1,0 5.9,0a2.95,4.1 0 1,0 -5.9,0m.5,0a2.95,4.1 0 1,0 5.9,0a2.95,4.1 0 1,0 -5.9,0m.5,0a2.95,4.1 0 1,0 5.9,0a2.95,4.1 0 1,0 -5.9,0m.25,0a2.95,4.1 0 1,0 5.9,0a2.95,4.1 0 1,0 -5.9,0m.25,0a2.95,4.1 0 1,0 5.9,0a2.95,4.1 0 1,0 -5.9,0m.75,0a2.95,4.1 0 1,0 5.9,0a2.95,4.1 0 1,0 -5.9,0m.25,0a2.95,4.1 0 1,0 5.9,0a2.95,4.1 0 1,0 -5.9,0m.5,0a2.95,4.1 0 1,0 5.9,0a2.95,4.1 0 1,0 -5.9,0m.5,0a2.95,4.1 0 1,0 5.9,0a2.95,4.1 0 1,0 -5.9,0m.25,0a2.95,4.1 0 1,0 5.9,0a2.95,4.1 0 1,0 -5.9,0m.75,0a2.95,4.1 0 1,0 5.9,0a2.95,4.1 0 1,0 -5.9,0m.25,0a2.95,4.1 0 1,0 5.9,0a2.95,4.1 0 1,0 -5.9,0m.25,0a2.95,4.1 0 1,0 5.9,0a2.95,4.1 0 1,0 -5.9,0m.25,0a2.95,4.1 0 1,0 5.9,0a2.95,4.1 0 1,0 -5.9,0m.25,0a2.95,4.1 0 1,0 5.9,0a2.95,4.1 0 1,0 -5.9,0m.5,0a2.95,4.1 0 1,0 5.9,0a2.95,4.1 0 1,0 -5.9,0m.5,0a2.95,4.1 0 1,0 5.9,0a2.95,4.1 0 1,0 -5.9,0m.25,0a2.95,4.1 0 1,0 5.9,0a2.95,4.1 0 1,0 -5.9,0m.25,0a2.95,4.1 0 1,0 5.9,0a2.95,4.1 0 1,0 -5.9,0m.25,0a2.95,4.1 0 1,0 5.9,0a2.95,4.1 0 1,0 -5.9,0m.25,0a2.95,4.1 0 1,0 5.9,0a2.95,4.1 0 1,0 -5.9,0m.5,0a2.95,4.1 0 1,0 5.9,0a2.95,4.1 0 1,0 -5.9,0m.25,0a2.95,4.1 0 1,0 5.9,0a2.95,4.1 0 1,0 -5.9,0m.25,0a2.95,4.1 0 1,0 5.9,0a2.95,4.1 0 1,0 -5.9,0m.25,0a2.95,4.1 0 1,0 5.9,0a2.95,4.1 0 1,0 -5.9,0m.25,0a2.95,4.1 0 1,0 5.9,0a2.95,4.1 0 1,0 -5.9,0m.25,0a2.95,4.1 0 1,0 5.9,0a2.95,4.1 0 1,0 -5.9,0m.25,0a2.95,4.1 0 1,0 5.9,0a2.95,4.1 0 1,0 -5.9,0m.25,0a2.95,4.1 0 1,0 5.9,0a2.95,4.1 0 1,0 -5.9,0m.5,0a2.95,4.1 0 1,0 5.9,0a2.95,4.1 0 1,0 -5.9,0m.25,0a2.95,4.1 0 1,0 5.9,0a2.95,4.1 0 1,0 -5.9,0m.75,0a2.95,4.1 0 1,0 5.9,0a2.95,4.1 0 1,0 -5.9,0m.25,0a2.95,4.1 0 1,0 5.9,0a2.95,4.1 0 1,0 -5.9,0m1,0a2.95,4.1 0 1,0 5.9,0a2.95,4.1 0 1,0 -5.9,0m.5,0a2.95,4.1 0 1,0 5.9,0a2.95,4.1 0 1,0 -5.9,0m.25,0a2.95,4.1 0 1,0 5.9,0a2.95,4.1 0 1,0 -5.9,0m.25,0a2.95,4.1 0 1,0 5.9,0a2.95,4.1 0 1,0 -5.9,0m.25,0a2.95,4.1 0 1,0 5.9,0a2.95,4.1 0 1,0 -5.9,0m.75,0a2.95,4.1 0 1,0 5.9,0a2.95,4.1 0 1,0 -5.9,0m.25,0a2.95,4.1 0 1,0 5.9,0a2.95,4.1 0 1,0 -5.9,0m.5,0a2.95,4.1 0 1,0 5.9,0a2.95,4.1 0 1,0 -5.9,0m.25,0a2.95,4.1 0 1,0 5.9,0a2.95,4.1 0 1,0 -5.9,0m.5,0a2.95,4.1 0 1,0 5.9,0a2.95,4.1 0 1,0 -5.9,0m.25,0a2.95,4.1 0 1,0 5.9,0a2.95,4.1 0 1,0 -5.9,0m.75,0a2.95,4.1 0 1,0 5.9,0a2.95,4.1 0 1,0 -5.9,0m1,0a2.95,4.1 0 1,0 5.9,0a2.95,4.1 0 1,0 -5.9,0m.5,0a2.95,4.1 0 1,0 5.9,0a2.95,4.1 0 1,0 -5.9,0m.5,0a2.95,4.1 0 1,0 5.9,0a2.95,4.1 0 1,0 -5.9,0m.5,0a2.95,4.1 0 1,0 5.9,0a2.95,4.1 0 1,0 -5.9,0m.25,0a2.95,4.1 0 1,0 5.9,0a2.95,4.1 0 1,0 -5.9,0m.25,0a2.95,4.1 0 1,0 5.9,0a2.95,4.1 0 1,0 -5.9,0m.5,0a2.95,4.1 0 1,0 5.9,0a2.95,4.1 0 1,0 -5.9,0m.5,0a2.95,4.1 0 1,0 5.9,0a2.95,4.1 0 1,0 -5.9,0m.25,0a2.95,4.1 0 1,0 5.9,0a2.95,4.1 0 1,0 -5.9,0m.25,0a2.95,4.1 0 1,0 5.9,0a2.95,4.1 0 1,0 -5.9,0m.5,0a2.95,4.1 0 1,0 5.9,0a2.95,4.1 0 1,0 -5.9,0m.25,0a2.95,4.1 0 1,0 5.9,0a2.95,4.1 0 1,0 -5.9,0m.25,0a2.95,4.1 0 1,0 5.9,0a2.95,4.1 0 1,0 -5.9,0m.25,0a2.95,4.1 0 1,0 5.9,0a2.95,4.1 0 1,0 -5.9,0m.25,0a2.95,4.1 0 1,0 5.9,0a2.95,4.1 0 1,0 -5.9,0m.25,0a2.95,4.1 0 1,0 5.9,0a2.95,4.1 0 1,0 -5.9,0m.25,0a2.95,4.1 0 1,0 5.9,0a2.95,4.1 0 1,0 -5.9,0m.25,0a2.95,4.1 0 1,0 5.9,0a2.95,4.1 0 1,0 -5.9,0m.75,0a2.95,4.1 0 1,0 5.9,0a2.95,4.1 0 1,0 -5.9,0m.75,0a2.95,4.1 0 1,0 5.9,0a2.95,4.1 0 1,0 -5.9,0m.75,0a2.95,4.1 0 1,0 5.9,0a2.95,4.1 0 1,0 -5.9,0m.25,0a2.95,4.1 0 1,0 5.9,0a2.95,4.1 0 1,0 -5.9,0m.25,0a2.95,4.1 0 1,0 5.9,0a2.95,4.1 0 1,0 -5.9,0m.25,0a2.95,4.1 0 1,0 5.9,0a2.95,4.1 0 1,0 -5.9,0m.5,0a2.95,4.1 0 1,0 5.9,0a2.95,4.1 0 1,0 -5.9,0m.5,0a2.95,4.1 0 1,0 5.9,0a2.95,4.1 0 1,0 -5.9,0m.25,0a2.95,4.1 0 1,0 5.9,0a2.95,4.1 0 1,0 -5.9,0m.75,0a2.95,4.1 0 1,0 5.9,0a2.95,4.1 0 1,0 -5.9,0m.25,0a2.95,4.1 0 1,0 5.9,0a2.95,4.1 0 1,0 -5.9,0m.75,0a2.95,4.1 0 1,0 5.9,0a2.95,4.1 0 1,0 -5.9,0m.25,0a2.95,4.1 0 1,0 5.9,0a2.95,4.1 0 1,0 -5.9,0m.25,0a2.95,4.1 0 1,0 5.9,0a2.95,4.1 0 1,0 -5.9,0m.25,0a2.95,4.1 0 1,0 5.9,0a2.95,4.1 0 1,0 -5.9,0m.75,0a2.95,4.1 0 1,0 5.9,0a2.95,4.1 0 1,0 -5.9,0m.25,0a2.95,4.1 0 1,0 5.9,0a2.95,4.1 0 1,0 -5.9,0m.25,0a2.95,4.1 0 1,0 5.9,0a2.95,4.1 0 1,0 -5.9,0m.5,0a2.95,4.1 0 1,0 5.9,0a2.95,4.1 0 1,0 -5.9,0m.25,0a2.95,4.1 0 1,0 5.9,0a2.95,4.1 0 1,0 -5.9,0m.25,0a2.95,4.1 0 1,0 5.9,0a2.95,4.1 0 1,0 -5.9,0m.25,0a2.95,4.1 0 1,0 5.9,0a2.95,4.1 0 1,0 -5.9,0m.25,0a2.95,4.1 0 1,0 5.9,0a2.95,4.1 0 1,0 -5.9,0m1.25,0a2.95,4.1 0 1,0 5.9,0a2.95,4.1 0 1,0 -5.9,0m.25,0a2.95,4.1 0 1,0 5.9,0a2.95,4.1 0 1,0 -5.9,0m.25,0a2.95,4.1 0 1,0 5.9,0a2.95,4.1 0 1,0 -5.9,0m.25,0a2.95,4.1 0 1,0 5.9,0a2.95,4.1 0 1,0 -5.9,0m.25,0a2.95,4.1 0 1,0 5.9,0a2.95,4.1 0 1,0 -5.9,0m.75,0a2.95,4.1 0 1,0 5.9,0a2.95,4.1 0 1,0 -5.9,0m.25,0a2.95,4.1 0 1,0 5.9,0a2.95,4.1 0 1,0 -5.9,0m1,0a2.95,4.1 0 1,0 5.9,0a2.95,4.1 0 1,0 -5.9,0m.25,0a2.95,4.1 0 1,0 5.9,0a2.95,4.1 0 1,0 -5.9,0m.25,0a2.95,4.1 0 1,0 5.9,0a2.95,4.1 0 1,0 -5.9,0m.5,0a2.95,4.1 0 1,0 5.9,0a2.95,4.1 0 1,0 -5.9,0m.25,0a2.95,4.1 0 1,0 5.9,0a2.95,4.1 0 1,0 -5.9,0m1.5,0a2.95,4.1 0 1,0 5.9,0a2.95,4.1 0 1,0 -5.9,0m.75,0a2.95,4.1 0 1,0 5.9,0a2.95,4.1 0 1,0 -5.9,0m.5,0a2.95,4.1 0 1,0 5.9,0a2.95,4.1 0 1,0 -5.9,0m.75,0a2.95,4.1 0 1,0 5.9,0a2.95,4.1 0 1,0 -5.9,0m.25,0a2.95,4.1 0 1,0 5.9,0a2.95,4.1 0 1,0 -5.9,0m.25,0a2.95,4.1 0 1,0 5.9,0a2.95,4.1 0 1,0 -5.9,0m.25,0a2.95,4.1 0 1,0 5.9,0a2.95,4.1 0 1,0 -5.9,0m.25,0a2.95,4.1 0 1,0 5.9,0a2.95,4.1 0 1,0 -5.9,0m.25,0a2.95,4.1 0 1,0 5.9,0a2.95,4.1 0 1,0 -5.9,0m.75,0a2.95,4.1 0 1,0 5.9,0a2.95,4.1 0 1,0 -5.9,0m.25,0a2.95,4.1 0 1,0 5.9,0a2.95,4.1 0 1,0 -5.9,0m.75,0a2.95,4.1 0 1,0 5.9,0a2.95,4.1 0 1,0 -5.9,0m.5,0a2.95,4.1 0 1,0 5.9,0a2.95,4.1 0 1,0 -5.9,0m.5,0a2.95,4.1 0 1,0 5.9,0a2.95,4.1 0 1,0 -5.9,0m.25,0a2.95,4.1 0 1,0 5.9,0a2.95,4.1 0 1,0 -5.9,0m.5,0a2.95,4.1 0 1,0 5.9,0a2.95,4.1 0 1,0 -5.9,0m.25,0a2.95,4.1 0 1,0 5.9,0a2.95,4.1 0 1,0 -5.9,0m.25,0a2.95,4.1 0 1,0 5.9,0a2.95,4.1 0 1,0 -5.9,0m.25,0a2.95,4.1 0 1,0 5.9,0a2.95,4.1 0 1,0 -5.9,0m.25,0a2.95,4.1 0 1,0 5.9,0a2.95,4.1 0 1,0 -5.9,0m.25,0a2.95,4.1 0 1,0 5.9,0a2.95,4.1 0 1,0 -5.9,0m.25,0a2.95,4.1 0 1,0 5.9,0a2.95,4.1 0 1,0 -5.9,0m.5,0a2.95,4.1 0 1,0 5.9,0a2.95,4.1 0 1,0 -5.9,0m.75,0a2.95,4.1 0 1,0 5.9,0a2.95,4.1 0 1,0 -5.9,0m.25,0a2.95,4.1 0 1,0 5.9,0a2.95,4.1 0 1,0 -5.9,0m.25,0a2.95,4.1 0 1,0 5.9,0a2.95,4.1 0 1,0 -5.9,0m.25,0a2.95,4.1 0 1,0 5.9,0a2.95,4.1 0 1,0 -5.9,0m.5,0a2.95,4.1 0 1,0 5.9,0a2.95,4.1 0 1,0 -5.9,0m.25,0a2.95,4.1 0 1,0 5.9,0a2.95,4.1 0 1,0 -5.9,0m.5,0a2.95,4.1 0 1,0 5.9,0a2.95,4.1 0 1,0 -5.9,0m.75,0a2.95,4.1 0 1,0 5.9,0a2.95,4.1 0 1,0 -5.9,0m.25,0a2.95,4.1 0 1,0 5.9,0a2.95,4.1 0 1,0 -5.9,0m.25,0a2.95,4.1 0 1,0 5.9,0a2.95,4.1 0 1,0 -5.9,0m.5,0a2.95,4.1 0 1,0 5.9,0a2.95,4.1 0 1,0 -5.9,0m.5,0a2.95,4.1 0 1,0 5.9,0a2.95,4.1 0 1,0 -5.9,0m.5,0a2.95,4.1 0 1,0 5.9,0a2.95,4.1 0 1,0 -5.9,0m.5,0a2.95,4.1 0 1,0 5.9,0a2.95,4.1 0 1,0 -5.9,0m.25,0a2.95,4.1 0 1,0 5.9,0a2.95,4.1 0 1,0 -5.9,0m.25,0a2.95,4.1 0 1,0 5.9,0a2.95,4.1 0 1,0 -5.9,0m.75,0a2.95,4.1 0 1,0 5.9,0a2.95,4.1 0 1,0 -5.9,0m.25,0a2.95,4.1 0 1,0 5.9,0a2.95,4.1 0 1,0 -5.9,0m.25,0a2.95,4.1 0 1,0 5.9,0a2.95,4.1 0 1,0 -5.9,0m.25,0a2.95,4.1 0 1,0 5.9,0a2.95,4.1 0 1,0 -5.9,0m.25,0a2.95,4.1 0 1,0 5.9,0a2.95,4.1 0 1,0 -5.9,0m.25,0a2.95,4.1 0 1,0 5.9,0a2.95,4.1 0 1,0 -5.9,0m.25,0a2.95,4.1 0 1,0 5.9,0a2.95,4.1 0 1,0 -5.9,0m.5,0a2.95,4.1 0 1,0 5.9,0a2.95,4.1 0 1,0 -5.9,0m.25,0a2.95,4.1 0 1,0 5.9,0a2.95,4.1 0 1,0 -5.9,0m.25,0a2.95,4.1 0 1,0 5.9,0a2.95,4.1 0 1,0 -5.9,0m.5,0a2.95,4.1 0 1,0 5.9,0a2.95,4.1 0 1,0 -5.9,0m.25,0a2.95,4.1 0 1,0 5.9,0a2.95,4.1 0 1,0 -5.9,0m.25,0a2.95,4.1 0 1,0 5.9,0a2.95,4.1 0 1,0 -5.9,0m.25,0a2.95,4.1 0 1,0 5.9,0a2.95,4.1 0 1,0 -5.9,0m.5,0a2.95,4.1 0 1,0 5.9,0a2.95,4.1 0 1,0 -5.9,0m.75,0a2.95,4.1 0 1,0 5.9,0a2.95,4.1 0 1,0 -5.9,0m.25,0a2.95,4.1 0 1,0 5.9,0a2.95,4.1 0 1,0 -5.9,0m.75,0a2.95,4.1 0 1,0 5.9,0a2.95,4.1 0 1,0 -5.9,0m.25,0a2.95,4.1 0 1,0 5.9,0a2.95,4.1 0 1,0 -5.9,0m.25,0a2.95,4.1 0 1,0 5.9,0a2.95,4.1 0 1,0 -5.9,0m.25,0a2.95,4.1 0 1,0 5.9,0a2.95,4.1 0 1,0 -5.9,0m.25,0a2.95,4.1 0 1,0 5.9,0a2.95,4.1 0 1,0 -5.9,0m.25,0a2.95,4.1 0 1,0 5.9,0a2.95,4.1 0 1,0 -5.9,0m.25,0a2.95,4.1 0 1,0 5.9,0a2.95,4.1 0 1,0 -5.9,0m.5,0a2.95,4.1 0 1,0 5.9,0a2.95,4.1 0 1,0 -5.9,0m.25,0a2.95,4.1 0 1,0 5.9,0a2.95,4.1 0 1,0 -5.9,0m.25,0a2.95,4.1 0 1,0 5.9,0a2.95,4.1 0 1,0 -5.9,0m.25,0a2.95,4.1 0 1,0 5.9,0a2.95,4.1 0 1,0 -5.9,0m.5,0a2.95,4.1 0 1,0 5.9,0a2.95,4.1 0 1,0 -5.9,0m.25,0a2.95,4.1 0 1,0 5.9,0a2.95,4.1 0 1,0 -5.9,0m1,0a2.95,4.1 0 1,0 5.9,0a2.95,4.1 0 1,0 -5.9,0m.5,0a2.95,4.1 0 1,0 5.9,0a2.95,4.1 0 1,0 -5.9,0m.25,0a2.95,4.1 0 1,0 5.9,0a2.95,4.1 0 1,0 -5.9,0m.25,0a2.95,4.1 0 1,0 5.9,0a2.95,4.1 0 1,0 -5.9,0m.25,0a2.95,4.1 0 1,0 5.9,0a2.95,4.1 0 1,0 -5.9,0m.25,0a2.95,4.1 0 1,0 5.9,0a2.95,4.1 0 1,0 -5.9,0m.5,0a2.95,4.1 0 1,0 5.9,0a2.95,4.1 0 1,0 -5.9,0m.5,0a2.95,4.1 0 1,0 5.9,0a2.95,4.1 0 1,0 -5.9,0m.25,0a2.95,4.1 0 1,0 5.9,0a2.95,4.1 0 1,0 -5.9,0m.5,0a2.95,4.1 0 1,0 5.9,0a2.95,4.1 0 1,0 -5.9,0m.75,0a2.95,4.1 0 1,0 5.9,0a2.95,4.1 0 1,0 -5.9,0m.5,0a2.95,4.1 0 1,0 5.9,0a2.95,4.1 0 1,0 -5.9,0m.75,0a2.95,4.1 0 1,0 5.9,0a2.95,4.1 0 1,0 -5.9,0m.75,0a2.95,4.1 0 1,0 5.9,0a2.95,4.1 0 1,0 -5.9,0m.25,0a2.95,4.1 0 1,0 5.9,0a2.95,4.1 0 1,0 -5.9,0m.25,0a2.95,4.1 0 1,0 5.9,0a2.95,4.1 0 1,0 -5.9,0m.75,0a2.95,4.1 0 1,0 5.9,0a2.95,4.1 0 1,0 -5.9,0m.25,0a2.95,4.1 0 1,0 5.9,0a2.95,4.1 0 1,0 -5.9,0m.5,0a2.95,4.1 0 1,0 5.9,0a2.95,4.1 0 1,0 -5.9,0m.25,0a2.95,4.1 0 1,0 5.9,0a2.95,4.1 0 1,0 -5.9,0m.25,0a2.95,4.1 0 1,0 5.9,0a2.95,4.1 0 1,0 -5.9,0m.5,0a2.95,4.1 0 1,0 5.9,0a2.95,4.1 0 1,0 -5.9,0m.25,0a2.95,4.1 0 1,0 5.9,0a2.95,4.1 0 1,0 -5.9,0m.25,0a2.95,4.1 0 1,0 5.9,0a2.95,4.1 0 1,0 -5.9,0m.25,0a2.95,4.1 0 1,0 5.9,0a2.95,4.1 0 1,0 -5.9,0m.5,0a2.95,4.1 0 1,0 5.9,0a2.95,4.1 0 1,0 -5.9,0m.25,0a2.95,4.1 0 1,0 5.9,0a2.95,4.1 0 1,0 -5.9,0m.25,0a2.95,4.1 0 1,0 5.9,0a2.95,4.1 0 1,0 -5.9,0m.25,0a2.95,4.1 0 1,0 5.9,0a2.95,4.1 0 1,0 -5.9,0m.25,0a2.95,4.1 0 1,0 5.9,0a2.95,4.1 0 1,0 -5.9,0m.5,0a2.95,4.1 0 1,0 5.9,0a2.95,4.1 0 1,0 -5.9,0m1,0a2.95,4.1 0 1,0 5.9,0a2.95,4.1 0 1,0 -5.9,0m.25,0a2.95,4.1 0 1,0 5.9,0a2.95,4.1 0 1,0 -5.9,0m.25,0a2.95,4.1 0 1,0 5.9,0a2.95,4.1 0 1,0 -5.9,0m.75,0a2.95,4.1 0 1,0 5.9,0a2.95,4.1 0 1,0 -5.9,0m.5,0a2.95,4.1 0 1,0 5.9,0a2.95,4.1 0 1,0 -5.9,0m.25,0a2.95,4.1 0 1,0 5.9,0a2.95,4.1 0 1,0 -5.9,0m.25,0a2.95,4.1 0 1,0 5.9,0a2.95,4.1 0 1,0 -5.9,0m.25,0a2.95,4.1 0 1,0 5.9,0a2.95,4.1 0 1,0 -5.9,0m.25,0a2.95,4.1 0 1,0 5.9,0a2.95,4.1 0 1,0 -5.9,0m.25,0a2.95,4.1 0 1,0 5.9,0a2.95,4.1 0 1,0 -5.9,0m.25,0a2.95,4.1 0 1,0 5.9,0a2.95,4.1 0 1,0 -5.9,0m.25,0a2.95,4.1 0 1,0 5.9,0a2.95,4.1 0 1,0 -5.9,0m.5,0a2.95,4.1 0 1,0 5.9,0a2.95,4.1 0 1,0 -5.9,0m.25,0a2.95,4.1 0 1,0 5.9,0a2.95,4.1 0 1,0 -5.9,0m.5,0a2.95,4.1 0 1,0 5.9,0a2.95,4.1 0 1,0 -5.9,0m.25,0a2.95,4.1 0 1,0 5.9,0a2.95,4.1 0 1,0 -5.9,0m.25,0a2.95,4.1 0 1,0 5.9,0a2.95,4.1 0 1,0 -5.9,0m.25,0a2.95,4.1 0 1,0 5.9,0a2.95,4.1 0 1,0 -5.9,0m.25,0a2.95,4.1 0 1,0 5.9,0a2.95,4.1 0 1,0 -5.9,0m.25,0a2.95,4.1 0 1,0 5.9,0a2.95,4.1 0 1,0 -5.9,0m.5,0a2.95,4.1 0 1,0 5.9,0a2.95,4.1 0 1,0 -5.9,0m.25,0a2.95,4.1 0 1,0 5.9,0a2.95,4.1 0 1,0 -5.9,0m.25,0a2.95,4.1 0 1,0 5.9,0a2.95,4.1 0 1,0 -5.9,0m.25,0a2.95,4.1 0 1,0 5.9,0a2.95,4.1 0 1,0 -5.9,0m.75,0a2.95,4.1 0 1,0 5.9,0a2.95,4.1 0 1,0 -5.9,0m.25,0a2.95,4.1 0 1,0 5.9,0a2.95,4.1 0 1,0 -5.9,0m.25,0a2.95,4.1 0 1,0 5.9,0a2.95,4.1 0 1,0 -5.9,0m1,0a2.95,4.1 0 1,0 5.9,0a2.95,4.1 0 1,0 -5.9,0m.25,0a2.95,4.1 0 1,0 5.9,0a2.95,4.1 0 1,0 -5.9,0m.25,0a2.95,4.1 0 1,0 5.9,0a2.95,4.1 0 1,0 -5.9,0m.5,0a2.95,4.1 0 1,0 5.9,0a2.95,4.1 0 1,0 -5.9,0m.75,0a2.95,4.1 0 1,0 5.9,0a2.95,4.1 0 1,0 -5.9,0m.5,0a2.95,4.1 0 1,0 5.9,0a2.95,4.1 0 1,0 -5.9,0m.25,0a2.95,4.1 0 1,0 5.9,0a2.95,4.1 0 1,0 -5.9,0m.25,0a2.95,4.1 0 1,0 5.9,0a2.95,4.1 0 1,0 -5.9,0m.5,0a2.95,4.1 0 1,0 5.9,0a2.95,4.1 0 1,0 -5.9,0m.5,0a2.95,4.1 0 1,0 5.9,0a2.95,4.1 0 1,0 -5.9,0m.5,0a2.95,4.1 0 1,0 5.9,0a2.95,4.1 0 1,0 -5.9,0m.25,0a2.95,4.1 0 1,0 5.9,0a2.95,4.1 0 1,0 -5.9,0m.5,0a2.95,4.1 0 1,0 5.9,0a2.95,4.1 0 1,0 -5.9,0m.5,0a2.95,4.1 0 1,0 5.9,0a2.95,4.1 0 1,0 -5.9,0m.25,0a2.95,4.1 0 1,0 5.9,0a2.95,4.1 0 1,0 -5.9,0m1,0a2.95,4.1 0 1,0 5.9,0a2.95,4.1 0 1,0 -5.9,0m.25,0a2.95,4.1 0 1,0 5.9,0a2.95,4.1 0 1,0 -5.9,0m.5,0a2.95,4.1 0 1,0 5.9,0a2.95,4.1 0 1,0 -5.9,0m1,0a2.95,4.1 0 1,0 5.9,0a2.95,4.1 0 1,0 -5.9,0m.75,0a2.95,4.1 0 1,0 5.9,0a2.95,4.1 0 1,0 -5.9,0m.25,0a2.95,4.1 0 1,0 5.9,0a2.95,4.1 0 1,0 -5.9,0m.25,0a2.95,4.1 0 1,0 5.9,0a2.95,4.1 0 1,0 -5.9,0m.75,0a2.95,4.1 0 1,0 5.9,0a2.95,4.1 0 1,0 -5.9,0m.5,0a2.95,4.1 0 1,0 5.9,0a2.95,4.1 0 1,0 -5.9,0m.75,0a2.95,4.1 0 1,0 5.9,0a2.95,4.1 0 1,0 -5.9,0m.25,0a2.95,4.1 0 1,0 5.9,0a2.95,4.1 0 1,0 -5.9,0m.25,0a2.95,4.1 0 1,0 5.9,0a2.95,4.1 0 1,0 -5.9,0m.25,0a2.95,4.1 0 1,0 5.9,0a2.95,4.1 0 1,0 -5.9,0m.5,0a2.95,4.1 0 1,0 5.9,0a2.95,4.1 0 1,0 -5.9,0m1,0a2.95,4.1 0 1,0 5.9,0a2.95,4.1 0 1,0 -5.9,0m.25,0a2.95,4.1 0 1,0 5.9,0a2.95,4.1 0 1,0 -5.9,0m1.5,0a2.95,4.1 0 1,0 5.9,0a2.95,4.1 0 1,0 -5.9,0m.25,0a2.95,4.1 0 1,0 5.9,0a2.95,4.1 0 1,0 -5.9,0m.25,0a2.95,4.1 0 1,0 5.9,0a2.95,4.1 0 1,0 -5.9,0m.25,0a2.95,4.1 0 1,0 5.9,0a2.95,4.1 0 1,0 -5.9,0m1,0a2.95,4.1 0 1,0 5.9,0a2.95,4.1 0 1,0 -5.9,0m1.75,0a2.95,4.1 0 1,0 5.9,0a2.95,4.1 0 1,0 -5.9,0m.5,0a2.95,4.1 0 1,0 5.9,0a2.95,4.1 0 1,0 -5.9,0m.75,0a2.95,4.1 0 1,0 5.9,0a2.95,4.1 0 1,0 -5.9,0m1.25,0a2.95,4.1 0 1,0 5.9,0a2.95,4.1 0 1,0 -5.9,0m.25,0a2.95,4.1 0 1,0 5.9,0a2.95,4.1 0 1,0 -5.9,0m.25,0a2.95,4.1 0 1,0 5.9,0a2.95,4.1 0 1,0 -5.9,0m.25,0a2.95,4.1 0 1,0 5.9,0a2.95,4.1 0 1,0 -5.9,0m.5,0a2.95,4.1 0 1,0 5.9,0a2.95,4.1 0 1,0 -5.9,0m.25,0a2.95,4.1 0 1,0 5.9,0a2.95,4.1 0 1,0 -5.9,0m.25,0a2.95,4.1 0 1,0 5.9,0a2.95,4.1 0 1,0 -5.9,0m.5,0a2.95,4.1 0 1,0 5.9,0a2.95,4.1 0 1,0 -5.9,0m.75,0a2.95,4.1 0 1,0 5.9,0a2.95,4.1 0 1,0 -5.9,0m.25,0a2.95,4.1 0 1,0 5.9,0a2.95,4.1 0 1,0 -5.9,0m.25,0a2.95,4.1 0 1,0 5.9,0a2.95,4.1 0 1,0 -5.9,0m.25,0a2.95,4.1 0 1,0 5.9,0a2.95,4.1 0 1,0 -5.9,0m.25,0a2.95,4.1 0 1,0 5.9,0a2.95,4.1 0 1,0 -5.9,0m.25,0a2.95,4.1 0 1,0 5.9,0a2.95,4.1 0 1,0 -5.9,0m.25,0a2.95,4.1 0 1,0 5.9,0a2.95,4.1 0 1,0 -5.9,0m.25,0a2.95,4.1 0 1,0 5.9,0a2.95,4.1 0 1,0 -5.9,0m.25,0a2.95,4.1 0 1,0 5.9,0a2.95,4.1 0 1,0 -5.9,0m.25,0a2.95,4.1 0 1,0 5.9,0a2.95,4.1 0 1,0 -5.9,0m.5,0a2.95,4.1 0 1,0 5.9,0a2.95,4.1 0 1,0 -5.9,0m.25,0a2.95,4.1 0 1,0 5.9,0a2.95,4.1 0 1,0 -5.9,0m.75,0a2.95,4.1 0 1,0 5.9,0a2.95,4.1 0 1,0 -5.9,0m.25,0a2.95,4.1 0 1,0 5.9,0a2.95,4.1 0 1,0 -5.9,0m.25,0a2.95,4.1 0 1,0 5.9,0a2.95,4.1 0 1,0 -5.9,0m.5,0a2.95,4.1 0 1,0 5.9,0a2.95,4.1 0 1,0 -5.9,0m.25,0a2.95,4.1 0 1,0 5.9,0a2.95,4.1 0 1,0 -5.9,0m.25,0a2.95,4.1 0 1,0 5.9,0a2.95,4.1 0 1,0 -5.9,0m.75,0a2.95,4.1 0 1,0 5.9,0a2.95,4.1 0 1,0 -5.9,0m.25,0a2.95,4.1 0 1,0 5.9,0a2.95,4.1 0 1,0 -5.9,0m.25,0a2.95,4.1 0 1,0 5.9,0a2.95,4.1 0 1,0 -5.9,0m.25,0a2.95,4.1 0 1,0 5.9,0a2.95,4.1 0 1,0 -5.9,0m.5,0a2.95,4.1 0 1,0 5.9,0a2.95,4.1 0 1,0 -5.9,0m1.25,0a2.95,4.1 0 1,0 5.9,0a2.95,4.1 0 1,0 -5.9,0m.5,0a2.95,4.1 0 1,0 5.9,0a2.95,4.1 0 1,0 -5.9,0m.25,0a2.95,4.1 0 1,0 5.9,0a2.95,4.1 0 1,0 -5.9,0m.5,0a2.95,4.1 0 1,0 5.9,0a2.95,4.1 0 1,0 -5.9,0m.25,0a2.95,4.1 0 1,0 5.9,0a2.95,4.1 0 1,0 -5.9,0m.5,0a2.95,4.1 0 1,0 5.9,0a2.95,4.1 0 1,0 -5.9,0m.5,0a2.95,4.1 0 1,0 5.9,0a2.95,4.1 0 1,0 -5.9,0m.25,0a2.95,4.1 0 1,0 5.9,0a2.95,4.1 0 1,0 -5.9,0m.25,0a2.95,4.1 0 1,0 5.9,0a2.95,4.1 0 1,0 -5.9,0m.25,0a2.95,4.1 0 1,0 5.9,0a2.95,4.1 0 1,0 -5.9,0m.25,0a2.95,4.1 0 1,0 5.9,0a2.95,4.1 0 1,0 -5.9,0m.25,0a2.95,4.1 0 1,0 5.9,0a2.95,4.1 0 1,0 -5.9,0m.25,0a2.95,4.1 0 1,0 5.9,0a2.95,4.1 0 1,0 -5.9,0m.25,0a2.95,4.1 0 1,0 5.9,0a2.95,4.1 0 1,0 -5.9,0m.25,0a2.95,4.1 0 1,0 5.9,0a2.95,4.1 0 1,0 -5.9,0m.5,0a2.95,4.1 0 1,0 5.9,0a2.95,4.1 0 1,0 -5.9,0m.25,0a2.95,4.1 0 1,0 5.9,0a2.95,4.1 0 1,0 -5.9,0m.25,0a2.95,4.1 0 1,0 5.9,0a2.95,4.1 0 1,0 -5.9,0m.25,0a2.95,4.1 0 1,0 5.9,0a2.95,4.1 0 1,0 -5.9,0m.25,0a2.95,4.1 0 1,0 5.9,0a2.95,4.1 0 1,0 -5.9,0m.25,0a2.95,4.1 0 1,0 5.9,0a2.95,4.1 0 1,0 -5.9,0m.25,0a2.95,4.1 0 1,0 5.9,0a2.95,4.1 0 1,0 -5.9,0m.25,0a2.95,4.1 0 1,0 5.9,0a2.95,4.1 0 1,0 -5.9,0m.5,0a2.95,4.1 0 1,0 5.9,0a2.95,4.1 0 1,0 -5.9,0m.25,0a2.95,4.1 0 1,0 5.9,0a2.95,4.1 0 1,0 -5.9,0m.25,0a2.95,4.1 0 1,0 5.9,0a2.95,4.1 0 1,0 -5.9,0m.75,0a2.95,4.1 0 1,0 5.9,0a2.95,4.1 0 1,0 -5.9,0m.75,0a2.95,4.1 0 1,0 5.9,0a2.95,4.1 0 1,0 -5.9,0m.25,0a2.95,4.1 0 1,0 5.9,0a2.95,4.1 0 1,0 -5.9,0m.25,0a2.95,4.1 0 1,0 5.9,0a2.95,4.1 0 1,0 -5.9,0m.25,0a2.95,4.1 0 1,0 5.9,0a2.95,4.1 0 1,0 -5.9,0m.25,0a2.95,4.1 0 1,0 5.9,0a2.95,4.1 0 1,0 -5.9,0m.25,0a2.95,4.1 0 1,0 5.9,0a2.95,4.1 0 1,0 -5.9,0m.25,0a2.95,4.1 0 1,0 5.9,0a2.95,4.1 0 1,0 -5.9,0m.25,0a2.95,4.1 0 1,0 5.9,0a2.95,4.1 0 1,0 -5.9,0m.25,0a2.95,4.1 0 1,0 5.9,0a2.95,4.1 0 1,0 -5.9,0m.25,0a2.95,4.1 0 1,0 5.9,0a2.95,4.1 0 1,0 -5.9,0m.25,0a2.95,4.1 0 1,0 5.9,0a2.95,4.1 0 1,0 -5.9,0m.25,0a2.95,4.1 0 1,0 5.9,0a2.95,4.1 0 1,0 -5.9,0m.75,0a2.95,4.1 0 1,0 5.9,0a2.95,4.1 0 1,0 -5.9,0m.5,0a2.95,4.1 0 1,0 5.9,0a2.95,4.1 0 1,0 -5.9,0m.25,0a2.95,4.1 0 1,0 5.9,0a2.95,4.1 0 1,0 -5.9,0m.25,0a2.95,4.1 0 1,0 5.9,0a2.95,4.1 0 1,0 -5.9,0m.25,0a2.95,4.1 0 1,0 5.9,0a2.95,4.1 0 1,0 -5.9,0m.25,0a2.95,4.1 0 1,0 5.9,0a2.95,4.1 0 1,0 -5.9,0m.25,0a2.95,4.1 0 1,0 5.9,0a2.95,4.1 0 1,0 -5.9,0m.5,0a2.95,4.1 0 1,0 5.9,0a2.95,4.1 0 1,0 -5.9,0m.25,0a2.95,4.1 0 1,0 5.9,0a2.95,4.1 0 1,0 -5.9,0m.25,0a2.95,4.1 0 1,0 5.9,0a2.95,4.1 0 1,0 -5.9,0m.5,0a2.95,4.1 0 1,0 5.9,0a2.95,4.1 0 1,0 -5.9,0m.25,0a2.95,4.1 0 1,0 5.9,0a2.95,4.1 0 1,0 -5.9,0m.5,0a2.95,4.1 0 1,0 5.9,0a2.95,4.1 0 1,0 -5.9,0m.25,0a2.95,4.1 0 1,0 5.9,0a2.95,4.1 0 1,0 -5.9,0m.25,0a2.95,4.1 0 1,0 5.9,0a2.95,4.1 0 1,0 -5.9,0m.5,0a2.95,4.1 0 1,0 5.9,0a2.95,4.1 0 1,0 -5.9,0m.5,0a2.95,4.1 0 1,0 5.9,0a2.95,4.1 0 1,0 -5.9,0m.25,0a2.95,4.1 0 1,0 5.9,0a2.95,4.1 0 1,0 -5.9,0m.25,0a2.95,4.1 0 1,0 5.9,0a2.95,4.1 0 1,0 -5.9,0m.25,0a2.95,4.1 0 1,0 5.9,0a2.95,4.1 0 1,0 -5.9,0m.5,0a2.95,4.1 0 1,0 5.9,0a2.95,4.1 0 1,0 -5.9,0m2.75,0a2.95,4.1 0 1,0 5.9,0a2.95,4.1 0 1,0 -5.9,0m.25,0a2.95,4.1 0 1,0 5.9,0a2.95,4.1 0 1,0 -5.9,0m.75,0a2.95,4.1 0 1,0 5.9,0a2.95,4.1 0 1,0 -5.9,0m.25,0a2.95,4.1 0 1,0 5.9,0a2.95,4.1 0 1,0 -5.9,0m.25,0a2.95,4.1 0 1,0 5.9,0a2.95,4.1 0 1,0 -5.9,0m.25,0a2.95,4.1 0 1,0 5.9,0a2.95,4.1 0 1,0 -5.9,0m.5,0a2.95,4.1 0 1,0 5.9,0a2.95,4.1 0 1,0 -5.9,0m1,0a2.95,4.1 0 1,0 5.9,0a2.95,4.1 0 1,0 -5.9,0m.25,0a2.95,4.1 0 1,0 5.9,0a2.95,4.1 0 1,0 -5.9,0m.5,0a2.95,4.1 0 1,0 5.9,0a2.95,4.1 0 1,0 -5.9,0m.5,0a2.95,4.1 0 1,0 5.9,0a2.95,4.1 0 1,0 -5.9,0m.25,0a2.95,4.1 0 1,0 5.9,0a2.95,4.1 0 1,0 -5.9,0m.25,0a2.95,4.1 0 1,0 5.9,0a2.95,4.1 0 1,0 -5.9,0m.5,0a2.95,4.1 0 1,0 5.9,0a2.95,4.1 0 1,0 -5.9,0m.5,0a2.95,4.1 0 1,0 5.9,0a2.95,4.1 0 1,0 -5.9,0m.25,0a2.95,4.1 0 1,0 5.9,0a2.95,4.1 0 1,0 -5.9,0m.5,0a2.95,4.1 0 1,0 5.9,0a2.95,4.1 0 1,0 -5.9,0m1,0a2.95,4.1 0 1,0 5.9,0a2.95,4.1 0 1,0 -5.9,0m.5,0a2.95,4.1 0 1,0 5.9,0a2.95,4.1 0 1,0 -5.9,0m.25,0a2.95,4.1 0 1,0 5.9,0a2.95,4.1 0 1,0 -5.9,0m.25,0a2.95,4.1 0 1,0 5.9,0a2.95,4.1 0 1,0 -5.9,0m.25,0a2.95,4.1 0 1,0 5.9,0a2.95,4.1 0 1,0 -5.9,0m.25,0a2.95,4.1 0 1,0 5.9,0a2.95,4.1 0 1,0 -5.9,0m.25,0a2.95,4.1 0 1,0 5.9,0a2.95,4.1 0 1,0 -5.9,0m.25,0a2.95,4.1 0 1,0 5.9,0a2.95,4.1 0 1,0 -5.9,0m.25,0a2.95,4.1 0 1,0 5.9,0a2.95,4.1 0 1,0 -5.9,0m.5,0a2.95,4.1 0 1,0 5.9,0a2.95,4.1 0 1,0 -5.9,0m.25,0a2.95,4.1 0 1,0 5.9,0a2.95,4.1 0 1,0 -5.9,0m.5,0a2.95,4.1 0 1,0 5.9,0a2.95,4.1 0 1,0 -5.9,0m.5,0a2.95,4.1 0 1,0 5.9,0a2.95,4.1 0 1,0 -5.9,0m.25,0a2.95,4.1 0 1,0 5.9,0a2.95,4.1 0 1,0 -5.9,0m.25,0a2.95,4.1 0 1,0 5.9,0a2.95,4.1 0 1,0 -5.9,0m.25,0a2.95,4.1 0 1,0 5.9,0a2.95,4.1 0 1,0 -5.9,0m.25,0a2.95,4.1 0 1,0 5.9,0a2.95,4.1 0 1,0 -5.9,0m1.5,0a2.95,4.1 0 1,0 5.9,0a2.95,4.1 0 1,0 -5.9,0m.25,0a2.95,4.1 0 1,0 5.9,0a2.95,4.1 0 1,0 -5.9,0m.25,0a2.95,4.1 0 1,0 5.9,0a2.95,4.1 0 1,0 -5.9,0m.75,0a2.95,4.1 0 1,0 5.9,0a2.95,4.1 0 1,0 -5.9,0m.25,0a2.95,4.1 0 1,0 5.9,0a2.95,4.1 0 1,0 -5.9,0m.5,0a2.95,4.1 0 1,0 5.9,0a2.95,4.1 0 1,0 -5.9,0m.25,0a2.95,4.1 0 1,0 5.9,0a2.95,4.1 0 1,0 -5.9,0m.25,0a2.95,4.1 0 1,0 5.9,0a2.95,4.1 0 1,0 -5.9,0m.25,0a2.95,4.1 0 1,0 5.9,0a2.95,4.1 0 1,0 -5.9,0m.25,0a2.95,4.1 0 1,0 5.9,0a2.95,4.1 0 1,0 -5.9,0m.5,0a2.95,4.1 0 1,0 5.9,0a2.95,4.1 0 1,0 -5.9,0m.25,0a2.95,4.1 0 1,0 5.9,0a2.95,4.1 0 1,0 -5.9,0m.5,0a2.95,4.1 0 1,0 5.9,0a2.95,4.1 0 1,0 -5.9,0m.25,0a2.95,4.1 0 1,0 5.9,0a2.95,4.1 0 1,0 -5.9,0m.5,0a2.95,4.1 0 1,0 5.9,0a2.95,4.1 0 1,0 -5.9,0m1.25,0a2.95,4.1 0 1,0 5.9,0a2.95,4.1 0 1,0 -5.9,0m.25,0a2.95,4.1 0 1,0 5.9,0a2.95,4.1 0 1,0 -5.9,0m.25,0a2.95,4.1 0 1,0 5.9,0a2.95,4.1 0 1,0 -5.9,0m.25,0a2.95,4.1 0 1,0 5.9,0a2.95,4.1 0 1,0 -5.9,0m.5,0a2.95,4.1 0 1,0 5.9,0a2.95,4.1 0 1,0 -5.9,0m.75,0a2.95,4.1 0 1,0 5.9,0a2.95,4.1 0 1,0 -5.9,0m.5,0a2.95,4.1 0 1,0 5.9,0a2.95,4.1 0 1,0 -5.9,0m.5,0a2.95,4.1 0 1,0 5.9,0a2.95,4.1 0 1,0 -5.9,0m.5,0a2.95,4.1 0 1,0 5.9,0a2.95,4.1 0 1,0 -5.9,0m.5,0a2.95,4.1 0 1,0 5.9,0a2.95,4.1 0 1,0 -5.9,0m.75,0a2.95,4.1 0 1,0 5.9,0a2.95,4.1 0 1,0 -5.9,0m.25,0a2.95,4.1 0 1,0 5.9,0a2.95,4.1 0 1,0 -5.9,0m.25,0a2.95,4.1 0 1,0 5.9,0a2.95,4.1 0 1,0 -5.9,0m.25,0a2.95,4.1 0 1,0 5.9,0a2.95,4.1 0 1,0 -5.9,0m.25,0a2.95,4.1 0 1,0 5.9,0a2.95,4.1 0 1,0 -5.9,0m.25,0a2.95,4.1 0 1,0 5.9,0a2.95,4.1 0 1,0 -5.9,0m.5,0a2.95,4.1 0 1,0 5.9,0a2.95,4.1 0 1,0 -5.9,0m.25,0a2.95,4.1 0 1,0 5.9,0a2.95,4.1 0 1,0 -5.9,0m.75,0a2.95,4.1 0 1,0 5.9,0a2.95,4.1 0 1,0 -5.9,0m.25,0a2.95,4.1 0 1,0 5.9,0a2.95,4.1 0 1,0 -5.9,0m.5,0a2.95,4.1 0 1,0 5.9,0a2.95,4.1 0 1,0 -5.9,0m.25,0a2.95,4.1 0 1,0 5.9,0a2.95,4.1 0 1,0 -5.9,0m.25,0a2.95,4.1 0 1,0 5.9,0a2.95,4.1 0 1,0 -5.9,0m.25,0a2.95,4.1 0 1,0 5.9,0a2.95,4.1 0 1,0 -5.9,0m.25,0a2.95,4.1 0 1,0 5.9,0a2.95,4.1 0 1,0 -5.9,0m.25,0a2.95,4.1 0 1,0 5.9,0a2.95,4.1 0 1,0 -5.9,0m.25,0a2.95,4.1 0 1,0 5.9,0a2.95,4.1 0 1,0 -5.9,0m.25,0a2.95,4.1 0 1,0 5.9,0a2.95,4.1 0 1,0 -5.9,0m.25,0a2.95,4.1 0 1,0 5.9,0a2.95,4.1 0 1,0 -5.9,0m.25,0a2.95,4.1 0 1,0 5.9,0a2.95,4.1 0 1,0 -5.9,0m.5,0a2.95,4.1 0 1,0 5.9,0a2.95,4.1 0 1,0 -5.9,0m.75,0a2.95,4.1 0 1,0 5.9,0a2.95,4.1 0 1,0 -5.9,0m.25,0a2.95,4.1 0 1,0 5.9,0a2.95,4.1 0 1,0 -5.9,0m.5,0a2.95,4.1 0 1,0 5.9,0a2.95,4.1 0 1,0 -5.9,0m.5,0a2.95,4.1 0 1,0 5.9,0a2.95,4.1 0 1,0 -5.9,0m.25,0a2.95,4.1 0 1,0 5.9,0a2.95,4.1 0 1,0 -5.9,0m.25,0a2.95,4.1 0 1,0 5.9,0a2.95,4.1 0 1,0 -5.9,0m.25,0a2.95,4.1 0 1,0 5.9,0a2.95,4.1 0 1,0 -5.9,0m.25,0a2.95,4.1 0 1,0 5.9,0a2.95,4.1 0 1,0 -5.9,0m.75,0a2.95,4.1 0 1,0 5.9,0a2.95,4.1 0 1,0 -5.9,0m.75,0a2.95,4.1 0 1,0 5.9,0a2.95,4.1 0 1,0 -5.9,0m.75,0a2.95,4.1 0 1,0 5.9,0a2.95,4.1 0 1,0 -5.9,0m.25,0a2.95,4.1 0 1,0 5.9,0a2.95,4.1 0 1,0 -5.9,0m.25,0a2.95,4.1 0 1,0 5.9,0a2.95,4.1 0 1,0 -5.9,0m.25,0a2.95,4.1 0 1,0 5.9,0a2.95,4.1 0 1,0 -5.9,0m.25,0a2.95,4.1 0 1,0 5.9,0a2.95,4.1 0 1,0 -5.9,0m.75,0a2.95,4.1 0 1,0 5.9,0a2.95,4.1 0 1,0 -5.9,0m.25,0a2.95,4.1 0 1,0 5.9,0a2.95,4.1 0 1,0 -5.9,0m.25,0a2.95,4.1 0 1,0 5.9,0a2.95,4.1 0 1,0 -5.9,0m.25,0a2.95,4.1 0 1,0 5.9,0a2.95,4.1 0 1,0 -5.9,0m.75,0a2.95,4.1 0 1,0 5.9,0a2.95,4.1 0 1,0 -5.9,0m.5,0a2.95,4.1 0 1,0 5.9,0a2.95,4.1 0 1,0 -5.9,0m.25,0a2.95,4.1 0 1,0 5.9,0a2.95,4.1 0 1,0 -5.9,0m.25,0a2.95,4.1 0 1,0 5.9,0a2.95,4.1 0 1,0 -5.9,0m.25,0a2.95,4.1 0 1,0 5.9,0a2.95,4.1 0 1,0 -5.9,0m.75,0a2.95,4.1 0 1,0 5.9,0a2.95,4.1 0 1,0 -5.9,0m.25,0a2.95,4.1 0 1,0 5.9,0a2.95,4.1 0 1,0 -5.9,0m1.5,0a2.95,4.1 0 1,0 5.9,0a2.95,4.1 0 1,0 -5.9,0m.25,0a2.95,4.1 0 1,0 5.9,0a2.95,4.1 0 1,0 -5.9,0m.25,0a2.95,4.1 0 1,0 5.9,0a2.95,4.1 0 1,0 -5.9,0m.25,0a2.95,4.1 0 1,0 5.9,0a2.95,4.1 0 1,0 -5.9,0m.25,0a2.95,4.1 0 1,0 5.9,0a2.95,4.1 0 1,0 -5.9,0m.25,0a2.95,4.1 0 1,0 5.9,0a2.95,4.1 0 1,0 -5.9,0m.5,0a2.95,4.1 0 1,0 5.9,0a2.95,4.1 0 1,0 -5.9,0m.25,0a2.95,4.1 0 1,0 5.9,0a2.95,4.1 0 1,0 -5.9,0m.25,0a2.95,4.1 0 1,0 5.9,0a2.95,4.1 0 1,0 -5.9,0m.25,0a2.95,4.1 0 1,0 5.9,0a2.95,4.1 0 1,0 -5.9,0m.25,0a2.95,4.1 0 1,0 5.9,0a2.95,4.1 0 1,0 -5.9,0m.25,0a2.95,4.1 0 1,0 5.9,0a2.95,4.1 0 1,0 -5.9,0m.25,0a2.95,4.1 0 1,0 5.9,0a2.95,4.1 0 1,0 -5.9,0m.25,0a2.95,4.1 0 1,0 5.9,0a2.95,4.1 0 1,0 -5.9,0m.25,0a2.95,4.1 0 1,0 5.9,0a2.95,4.1 0 1,0 -5.9,0m.25,0a2.95,4.1 0 1,0 5.9,0a2.95,4.1 0 1,0 -5.9,0m.25,0a2.95,4.1 0 1,0 5.9,0a2.95,4.1 0 1,0 -5.9,0m.5,0a2.95,4.1 0 1,0 5.9,0a2.95,4.1 0 1,0 -5.9,0" fill="none" stroke="#0000ff" stroke-width="2.2"/>
<path d="M355.55,255.4a2.95,4.1 0 1,0 5.9,0a2.95,4.1 0 1,0 -5.9,0m.5,0a2.95,4.1 0 1,0 5.9,0a2.95,4.1 0 1,0 -5.9,0m.25,0a2.95,4.1 0 1,0 5.9,0a2.95,4.1 0 1,0 -5.9,0m.5,0a2.95,4.1 0 1,0 5.9,0a2.95,4.1 0 1,0 -5.9,0m.25,0a2.95,4.1 0 1,0 5.9,0a2.95,4.1 0 1,0 -5.9,0m.25,0a2.95,4.1 0 1,0 5.9,0a2.95,4.1 0 1,0 -5.9,0m1,0a2.95,4.1 0 1,0 5.9,0a2.95,4.1 0 1,0 -5.9,0m.75,0a2.95,4.1 0 1,0 5.9,0a2.95,4.1 0 1,0 -5.9,0m.25,0a2.95,4.1 0 1,0 5.9,0a2.95,4.1 0 1,0 -5.9,0m.25,0a2.95,4.1 0 1,0 5.9,0a2.95,4.1 0 1,0 -5.9,0m.25,0a2.95,4.1 0 1,0 5.9,0a2.95,4.1 0 1,0 -5.9,0m.25,0a2.95,4.1 0 1,0 5.9,0a2.95,4.1 0 1,0 -5.9,0m.5,0a2.95,4.1 0 1,0 5.9,0a2.95,4.1 0 1,0 -5.9,0m.5,0a2.95,4.1 0 1,0 5.9,0a2.95,4.1 0 1,0 -5.9,0m2,0a2.95,4.1 0 1,0 5.9,0a2.95,4.1 0 1,0 -5.9,0m1,0a2.95,4.1 0 1,0 5.9,0a2.95,4.1 0 1,0 -5.9,0m.25,0a2.95,4.1 0 1,0 5.9,0a2.95,4.1 0 1,0 -5.9,0m.25,0a2.95,4.1 0 1,0 5.9,0a2.95,4.1 0 1,0 -5.9,0m.25,0a2.95,4.1 0 1,0 5.9,0a2.95,4.1 0 1,0 -5.9,0m.5,0a2.95,4.1 0 1,0 5.9,0a2.95,4.1 0 1,0 -5.9,0m.25,0a2.95,4.1 0 1,0 5.9,0a2.95,4.1 0 1,0 -5.9,0m.5,0a2.95,4.1 0 1,0 5.9,0a2.95,4.1 0 1,0 -5.9,0m.25,0a2.95,4.1 0 1,0 5.9,0a2.95,4.1 0 1,0 -5.9,0m1.25,0a2.95,4.1 0 1,0 5.9,0a2.95,4.1 0 1,0 -5.9,0m.5,0a2.95,4.1 0 1,0 5.9,0a2.95,4.1 0 1,0 -5.9,0m.5,0a2.95,4.1 0 1,0 5.9,0a2.95,4.1 0 1,0 -5.9,0m.5,0a2.95,4.1 0 1,0 5.9,0a2.95,4.1 0 1,0 -5.9,0m1,0a2.95,4.1 0 1,0 5.9,0a2.95,4.1 0 1,0 -5.9,0m1.75,0a2.95,4.1 0 1,0 5.9,0a2.95,4.1 0 1,0 -5.9,0m.5,0a2.95,4.1 0 1,0 5.9,0a2.95,4.1 0 1,0 -5.9,0m.25,0a2.95,4.1 0 1,0 5.9,0a2.95,4.1 0 1,0 -5.9,0m.25,0a2.95,4.1 0 1,0 5.9,0a2.95,4.1 0 1,0 -5.9,0m1,0a2.95,4.1 0 1,0 5.9,0a2.95,4.1 0 1,0 -5.9,0m1.75,0a2.95,4.1 0 1,0 5.9,0a2.95,4.1 0 1,0 -5.9,0m.25,0a2.95,4.1 0 1,0 5.9,0a2.95,4.1 0 1,0 -5.9,0m.75,0a2.95,4.1 0 1,0 5.9,0a2.95,4.1 0 1,0 -5.9,0m.25,0a2.95,4.1 0 1,0 5.9,0a2.95,4.1 0 1,0 -5.9,0m.25,0a2.95,4.1 0 1,0 5.9,0a2.95,4.1 0 1,0 -5.9,0m.5,0a2.95,4.1 0 1,0 5.9,0a2.95,4.1 0 1,0 -5.9,0m1.5,0a2.95,4.1 0 1,0 5.9,0a2.95,4.1 0 1,0 -5.9,0m.25,0a2.95,4.1 0 1,0 5.9,0a2.95,4.1 0 1,0 -5.9,0m.5,0a2.95,4.1 0 1,0 5.9,0a2.95,4.1 0 1,0 -5.9,0m1,0a2.95,4.1 0 1,0 5.9,0a2.95,4.1 0 1,0 -5.9,0m.5,0a2.95,4.1 0 1,0 5.9,0a2.95,4.1 0 1,0 -5.9,0m.75,0a2.95,4.1 0 1,0 5.9,0a2.95,4.1 0 1,0 -5.9,0m1,0a2.95,4.1 0 1,0 5.9,0a2.95,4.1 0 1,0 -5.9,0m.25,0a2.95,4.1 0 1,0 5.9,0a2.95,4.1 0 1,0 -5.9,0m.5,0a2.95,4.1 0 1,0 5.9,0a2.95,4.1 0 1,0 -5.9,0m.25,0a2.95,4.1 0 1,0 5.9,0a2.95,4.1 0 1,0 -5.9,0m.75,0a2.95,4.1 0 1,0 5.9,0a2.95,4.1 0 1,0 -5.9,0m.25,0a2.95,4.1 0 1,0 5.9,0a2.95,4.1 0 1,0 -5.9,0m2.5,0a2.95,4.1 0 1,0 5.9,0a2.95,4.1 0 1,0 -5.9,0m.75,0a2.95,4.1 0 1,0 5.9,0a2.95,4.1 0 1,0 -5.9,0m.5,0a2.95,4.1 0 1,0 5.9,0a2.95,4.1 0 1,0 -5.9,0m.5,0a2.95,4.1 0 1,0 5.9,0a2.95,4.1 0 1,0 -5.9,0m.25,0a2.95,4.1 0 1,0 5.9,0a2.95,4.1 0 1,0 -5.9,0m.5,0a2.95,4.1 0 1,0 5.9,0a2.95,4.1 0 1,0 -5.9,0m.5,0a2.95,4.1 0 1,0 5.9,0a2.95,4.1 0 1,0 -5.9,0m.25,0a2.95,4.1 0 1,0 5.9,0a2.95,4.1 0 1,0 -5.9,0m1.25,0a2.95,4.1 0 1,0 5.9,0a2.95,4.1 0 1,0 -5.9,0m.5,0a2.95,4.1 0 1,0 5.9,0a2.95,4.1 0 1,0 -5.9,0m.75,0a2.95,4.1 0 1,0 5.9,0a2.95,4.1 0 1,0 -5.9,0m.25,0a2.95,4.1 0 1,0 5.9,0a2.95,4.1 0 1,0 -5.9,0m.25,0a2.95,4.1 0 1,0 5.9,0a2.95,4.1 0 1,0 -5.9,0m.75,0a2.95,4.1 0 1,0 5.9,0a2.95,4.1 0 1,0 -5.9,0m.25,0a2.95,4.1 0 1,0 5.9,0a2.95,4.1 0 1,0 -5.9,0m.25,0a2.95,4.1 0 1,0 5.9,0a2.95,4.1 0 1,0 -5.9,0m.75,0a2.95,4.1 0 1,0 5.9,0a2.95,4.1 0 1,0 -5.9,0m.25,0a2.95,4.1 0 1,0 5.9,0a2.95,4.1 0 1,0 -5.9,0m1,0a2.95,4.1 0 1,0 5.9,0a2.95,4.1 0 1,0 -5.9,0m.25,0a2.95,4.1 0 1,0 5.9,0a2.95,4.1 0 1,0 -5.9,0m.75,0a2.95,4.1 0 1,0 5.9,0a2.95,4.1 0 1,0 -5.9,0m.75,0a2.95,4.1 0 1,0 5.9,0a2.95,4.1 0 1,0 -5.9,0m.5,0a2.95,4.1 0 1,0 5.9,0a2.95,4.1 0 1,0 -5.9,0m.75,0a2.95,4.1 0 1,0 5.9,0a2.95,4.1 0 1,0 -5.9,0m.25,0a2.95,4.1 0 1,0 5.9,0a2.95,4.1 0 1,0 -5.9,0m.5,0a2.95,4.1 0 1,0 5.9,0a2.95,4.1 0 1,0 -5.9,0m.25,0a2.95,4.1 0 1,0 5.9,0a2.95,4.1 0 1,0 -5.9,0m1.5,0a2.95,4.1 0 1,0 5.9,0a2.95,4.1 0 1,0 -5.9,0m.25,0a2.95,4.1 0 1,0 5.9,0a2.95,4.1 0 1,0 -5.9,0m.25,0a2.95,4.1 0 1,0 5.9,0a2.95,4.1 0 1,0 -5.9,0m.5,0a2.95,4.1 0 1,0 5.9,0a2.95,4.1 0 1,0 -5.9,0m.75,0a2.95,4.1 0 1,0 5.9,0a2.95,4.1 0 1,0 -5.9,0m.25,0a2.95,4.1 0 1,0 5.9,0a2.95,4.1 0 1,0 -5.9,0m.5,0a2.95,4.1 0 1,0 5.9,0a2.95,4.1 0 1,0 -5.9,0m1.5,0a2.95,4.1 0 1,0 5.9,0a2.95,4.1 0 1,0 -5.9,0m.75,0a2.95,4.1 0 1,0 5.9,0a2.95,4.1 0 1,0 -5.9,0m.75,0a2.95,4.1 0 1,0 5.9,0a2.95,4.1 0 1,0 -5.9,0m.75,0a2.95,4.1 0 1,0 5.9,0a2.95,4.1 0 1,0 -5.9,0m.5,0a2.95,4.1 0 1,0 5.9,0a2.95,4.1 0 1,0 -5.9,0m.25,0a2.95,4.1 0 1,0 5.9,0a2.95,4.1 0 1,0 -5.9,0m.75,0a2.95,4.1 0 1,0 5.9,0a2.95,4.1 0 1,0 -5.9,0m2,0a2.95,4.1 0 1,0 5.9,0a2.95,4.1 0 1,0 -5.9,0m1.5,0a2.95,4.1 0 1,0 5.9,0a2.95,4.1 0 1,0 -5.9,0m1.5,0a2.95,4.1 0 1,0 5.9,0a2.95,4.1 0 1,0 -5.9,0m1,0a2.95,4.1 0 1,0 5.9,0a2.95,4.1 0 1,0 -5.9,0m1.75,0a2.95,4.1 0 1,0 5.9,0a2.95,4.1 0 1,0 -5.9,0m.25,0a2.95,4.1 0 1,0 5.9,0a2.95,4.1 0 1,0 -5.9,0m.75,0a2.95,4.1 0 1,0 5.9,0a2.95,4.1 0 1,0 -5.9,0m.5,0a2.95,4.1 0 1,0 5.9,0a2.95,4.1 0 1,0 -5.9,0m2.25,0a2.95,4.1 0 1,0 5.9,0a2.95,4.1 0 1,0 -5.9,0m.5,0a2.95,4.1 0 1,0 5.9,0a2.95,4.1 0 1,0 -5.9,0m.5,0a2.95,4.1 0 1,0 5.9,0a2.95,4.1 0 1,0 -5.9,0m.25,0a2.95,4.1 0 1,0 5.9,0a2.95,4.1 0 1,0 -5.9,0m.25,0a2.95,4.1 0 1,0 5.9,0a2.95,4.1 0 1,0 -5.9,0m1,0a2.95,4.1 0 1,0 5.9,0a2.95,4.1 0 1,0 -5.9,0m.25,0a2.95,4.1 0 1,0 5.9,0a2.95,4.1 0 1,0 -5.9,0m.25,0a2.95,4.1 0 1,0 5.9,0a2.95,4.1 0 1,0 -5.9,0m1,0a2.95,4.1 0 1,0 5.9,0a2.95,4.1 0 1,0 -5.9,0m.25,0a2.95,4.1 0 1,0 5.9,0a2.95,4.1 0 1,0 -5.9,0m1,0a2.95,4.1 0 1,0 5.9,0a2.95,4.1 0 1,0 -5.9,0m.5,0a2.95,4.1 0 1,0 5.9,0a2.95,4.1 0 1,0 -5.9,0m.25,0a2.95,4.1 0 1,0 5.9,0a2.95,4.1 0 1,0 -5.9,0m.5,0a2.95,4.1 0 1,0 5.9,0a2.95,4.1 0 1,0 -5.9,0m.5,0a2.95,4.1 0 1,0 5.9,0a2.95,4.1 0 1,0 -5.9,0m1.75,0a2.95,4.1 0 1,0 5.9,0a2.95,4.1 0 1,0 -5.9,0m1,0a2.95,4.1 0 1,0 5.9,0a2.95,4.1 0 1,0 -5.9,0m.5,0a2.95,4.1 0 1,0 5.9,0a2.95,4.1 0 1,0 -5.9,0m.5,0a2.95,4.1 0 1,0 5.9,0a2.95,4.1 0 1,0 -5.9,0m.25,0a2.95,4.1 0 1,0 5.9,0a2.95,4.1 0 1,0 -5.9,0m.25,0a2.95,4.1 0 1,0 5.9,0a2.95,4.1 0 1,0 -5.9,0m.25,0a2.95,4.1 0 1,0 5.9,0a2.95,4.1 0 1,0 -5.9,0m.5,0a2.95,4.1 0 1,0 5.9,0a2.95,4.1 0 1,0 -5.9,0m1.5,0a2.95,4.1 0 1,0 5.9,0a2.95,4.1 0 1,0 -5.9,0m1.25,0a2.95,4.1 0 1,0 5.9,0a2.95,4.1 0 1,0 -5.9,0m.5,0a2.95,4.1 0 1,0 5.9,0a2.95,4.1 0 1,0 -5.9,0m.75,0a2.95,4.1 0 1,0 5.9,0a2.95,4.1 0 1,0 -5.9,0m2,0a2.95,4.1 0 1,0 5.9,0a2.95,4.1 0 1,0 -5.9,0m1.25,0a2.95,4.1 0 1,0 5.9,0a2.95,4.1 0 1,0 -5.9,0m.75,0a2.95,4.1 0 1,0 5.9,0a2.95,4.1 0 1,0 -5.9,0m1.25,0a2.95,4.1 0 1,0 5.9,0a2.95,4.1 0 1,0 -5.9,0m1.25,0a2.95,4.1 0 1,0 5.9,0a2.95,4.1 0 1,0 -5.9,0m.25,0a2.95,4.1 0 1,0 5.9,0a2.95,4.1 0 1,0 -5.9,0m.25,0a2.95,4.1 0 1,0 5.9,0a2.95,4.1 0 1,0 -5.9,0m.5,0a2.95,4.1 0 1,0 5.9,0a2.95,4.1 0 1,0 -5.9,0m.5,0a2.95,4.1 0 1,0 5.9,0a2.95,4.1 0 1,0 -5.9,0m.25,0a2.95,4.1 0 1,0 5.9,0a2.95,4.1 0 1,0 -5.9,0m1.25,0a2.95,4.1 0 1,0 5.9,0a2.95,4.1 0 1,0 -5.9,0m.25,0a2.95,4.1 0 1,0 5.9,0a2.95,4.1 0 1,0 -5.9,0m.75,0a2.95,4.1 0 1,0 5.9,0a2.95,4.1 0 1,0 -5.9,0m.5,0a2.95,4.1 0 1,0 5.9,0a2.95,4.1 0 1,0 -5.9,0m.75,0a2.95,4.1 0 1,0 5.9,0a2.95,4.1 0 1,0 -5.9,0m.5,0a2.95,4.1 0 1,0 5.9,0a2.95,4.1 0 1,0 -5.9,0m3,0a2.95,4.1 0 1,0 5.9,0a2.95,4.1 0 1,0 -5.9,0m.25,0a2.95,4.1 0 1,0 5.9,0a2.95,4.1 0 1,0 -5.9,0m.75,0a2.95,4.1 0 1,0 5.9,0a2.95,4.1 0 1,0 -5.9,0m1.25,0a2.95,4.1 0 1,0 5.9,0a2.95,4.1 0 1,0 -5.9,0m2.5,0a2.95,4.1 0 1,0 5.9,0a2.95,4.1 0 1,0 -5.9,0m.5,0a2.95,4.1 0 1,0 5.9,0a2.95,4.1 0 1,0 -5.9,0m.25,0a2.95,4.1 0 1,0 5.9,0a2.95,4.1 0 1,0 -5.9,0m1.25,0a2.95,4.1 0 1,0 5.9,0a2.95,4.1 0 1,0 -5.9,0m.5,0a2.95,4.1 0 1,0 5.9,0a2.95,4.1 0 1,0 -5.9,0m.75,0a2.95,4.1 0 1,0 5.9,0a2.95,4.1 0 1,0 -5.9,0m.25,0a2.95,4.1 0 1,0 5.9,0a2.95,4.1 0 1,0 -5.9,0m2,0a2.95,4.1 0 1,0 5.9,0a2.95,4.1 0 1,0 -5.9,0m.5,0a2.95,4.1 0 1,0 5.9,0a2.95,4.1 0 1,0 -5.9,0m.25,0a2.95,4.1 0 1,0 5.9,0a2.95,4.1 0 1,0 -5.9,0m.25,0a2.95,4.1 0 1,0 5.9,0a2.95,4.1 0 1,0 -5.9,0m.75,0a2.95,4.1 0 1,0 5.9,0a2.95,4.1 0 1,0 -5.9,0m.75,0a2.95,4.1 0 1,0 5.9,0a2.95,4.1 0 1,0 -5.9,0m1.5,0a2.95,4.1 0 1,0 5.9,0a2.95,4.1 0 1,0 -5.9,0m.75,0a2.95,4.1 0 1,0 5.9,0a2.95,4.1 0 1,0 -5.9,0m.25,0a2.95,4.1 0 1,0 5.9,0a2.95,4.1 0 1,0 -5.9,0m1,0a2.95,4.1 0 1,0 5.9,0a2.95,4.1 0 1,0 -5.9,0m.5,0a2.95,4.1 0 1,0 5.9,0a2.95,4.1 0 1,0 -5.9,0m.75,0a2.95,4.1 0 1,0 5.9,0a2.95,4.1 0 1,0 -5.9,0m1,0a2.95,4.1 0 1,0 5.9,0a2.95,4.1 0 1,0 -5.9,0m.25,0a2.95,4.1 0 1,0 5.9,0a2.95,4.1 0 1,0 -5.9,0m.25,0a2.95,4.1 0 1,0 5.9,0a2.95,4.1 0 1,0 -5.9,0m.25,0a2.95,4.1 0 1,0 5.9,0a2.95,4.1 0 1,0 -5.9,0m.25,0a2.95,4.1 0 1,0 5.9,0a2.95,4.1 0 1,0 -5.9,0m.25,0a2.95,4.1 0 1,0 5.9,0a2.95,4.1 0 1,0 -5.9,0m.5,0a2.95,4.1 0 1,0 5.9,0a2.95,4.1 0 1,0 -5.9,0m.75,0a2.95,4.1 0 1,0 5.9,0a2.95,4.1 0 1,0 -5.9,0m.5,0a2.95,4.1 0 1,0 5.9,0a2.95,4.1 0 1,0 -5.9,0m.5,0a2.95,4.1 0 1,0 5.9,0a2.95,4.1 0 1,0 -5.9,0m.5,0a2.95,4.1 0 1,0 5.9,0a2.95,4.1 0 1,0 -5.9,0m.75,0a2.95,4.1 0 1,0 5.9,0a2.95,4.1 0 1,0 -5.9,0m.5,0a2.95,4.1 0 1,0 5.9,0a2.95,4.1 0 1,0 -5.9,0m.25,0a2.95,4.1 0 1,0 5.9,0a2.95,4.1 0 1,0 -5.9,0m.25,0a2.95,4.1 0 1,0 5.9,0a2.95,4.1 0 1,0 -5.9,0m1.25,0a2.95,4.1 0 1,0 5.9,0a2.95,4.1 0 1,0 -5.9,0m.75,0a2.95,4.1 0 1,0 5.9,0a2.95,4.1 0 1,0 -5.9,0m.25,0a2.95,4.1 0 1,0 5.9,0a2.95,4.1 0 1,0 -5.9,0m.25,0a2.95,4.1 0 1,0 5.9,0a2.95,4.1 0 1,0 -5.9,0m.75,0a2.95,4.1 0 1,0 5.9,0a2.95,4.1 0 1,0 -5.9,0m.5,0a2.95,4.1 0 1,0 5.9,0a2.95,4.1 0 1,0 -5.9,0m.5,0a2.95,4.1 0 1,0 5.9,0a2.95,4.1 0 1,0 -5.9,0m.25,0a2.95,4.1 0 1,0 5.9,0a2.95,4.1 0 1,0 -5.9,0m1,0a2.95,4.1 0 1,0 5.9,0a2.95,4.1 0 1,0 -5.9,0m.5,0a2.95,4.1 0 1,0 5.9,0a2.95,4.1 0 1,0 -5.9,0m.25,0a2.95,4.1 0 1,0 5.9,0a2.95,4.1 0 1,0 -5.9,0m1,0a2.95,4.1 0 1,0 5.9,0a2.95,4.1 0 1,0 -5.9,0m1.25,0a2.95,4.1 0 1,0 5.9,0a2.95,4.1 0 1,0 -5.9,0m.75,0a2.95,4.1 0 1,0 5.9,0a2.95,4.1 0 1,0 -5.9,0m.5,0a2.95,4.1 0 1,0 5.9,0a2.95,4.1 0 1,0 -5.9,0m.5,0a2.95,4.1 0 1,0 5.9,0a2.95,4.1 0 1,0 -5.9,0m.25,0a2.95,4.1 0 1,0 5.9,0a2.95,4.1 0 1,0 -5.9,0m.25,0a2.95,4.1 0 1,0 5.9,0a2.95,4.1 0 1,0 -5.9,0m.75,0a2.95,4.1 0 1,0 5.9,0a2.95,4.1 0 1,0 -5.9,0m.75,0a2.95,4.1 0 1,0 5.9,0a2.95,4.1 0 1,0 -5.9,0m1.25,0a2.95,4.1 0 1,0 5.9,0a2.95,4.1 0 1,0 -5.9,0m.5,0a2.95,4.1 0 1,0 5.9,0a2.95,4.1 0 1,0 -5.9,0m1,0a2.95,4.1 0 1,0 5.9,0a2.95,4.1 0 1,0 -5.9,0m.75,0a2.95,4.1 0 1,0 5.9,0a2.95,4.1 0 1,0 -5.9,0m.5,0a2.95,4.1 0 1,0 5.9,0a2.95,4.1 0 1,0 -5.9,0m.75,0a2.95,4.1 0 1,0 5.9,0a2.95,4.1 0 1,0 -5.9,0m1.5,0a2.95,4.1 0 1,0 5.9,0a2.95,4.1 0 1,0 -5.9,0m1,0a2.95,4.1 0 1,0 5.9,0a2.95,4.1 0 1,0 -5.9,0m.25,0a2.95,4.1 0 1,0 5.9,0a2.95,4.1 0 1,0 -5.9,0m4.75,0a2.95,4.1 0 1,0 5.9,0a2.95,4.1 0 1,0 -5.9,0m.5,0a2.95,4.1 0 1,0 5.9,0a2.95,4.1 0 1,0 -5.9,0m1,0a2.95,4.1 0 1,0 5.9,0a2.95,4.1 0 1,0 -5.9,0m.25,0a2.95,4.1 0 1,0 5.9,0a2.95,4.1 0 1,0 -5.9,0m1,0a2.95,4.1 0 1,0 5.9,0a2.95,4.1 0 1,0 -5.9,0m.5,0a2.95,4.1 0 1,0 5.9,0a2.95,4.1 0 1,0 -5.9,0m.5,0a2.95,4.1 0 1,0 5.9,0a2.95,4.1 0 1,0 -5.9,0m2.75,0a2.95,4.1 0 1,0 5.9,0a2.95,4.1 0 1,0 -5.9,0m.25,0a2.95,4.1 0 1,0 5.9,0a2.95,4.1 0 1,0 -5.9,0m.25,0a2.95,4.1 0 1,0 5.9,0a2.95,4.1 0 1,0 -5.9,0m.5,0a2.95,4.1 0 1,0 5.9,0a2.95,4.1 0 1,0 -5.9,0m.5,0a2.95,4.1 0 1,0 5.9,0a2.95,4.1 0 1,0 -5.9,0m1.5,0a2.95,4.1 0 1,0 5.9,0a2.95,4.1 0 1,0 -5.9,0m.25,0a2.95,4.1 0 1,0 5.9,0a2.95,4.1 0 1,0 -5.9,0m2.25,0a2.95,4.1 0 1,0 5.9,0a2.95,4.1 0 1,0 -5.9,0m.5,0a2.95,4.1 0 1,0 5.9,0a2.95,4.1 0 1,0 -5.9,0m.25,0a2.95,4.1 0 1,0 5.9,0a2.95,4.1 0 1,0 -5.9,0m.5,0a2.95,4.1 0 1,0 5.9,0a2.95,4.1 0 1,0 -5.9,0m.5,0a2.95,4.1 0 1,0 5.9,0a2.95,4.1 0 1,0 -5.9,0m.25,0a2.95,4.1 0 1,0 5.9,0a2.95,4.1 0 1,0 -5.9,0m1.5,0a2.95,4.1 0 1,0 5.9,0a2.95,4.1 0 1,0 -5.9,0m.5,0a2.95,4.1 0 1,0 5.9,0a2.95,4.1 0 1,0 -5.9,0m.25,0a2.95,4.1 0 1,0 5.9,0a2.95,4.1 0 1,0 -5.9,0m1,0a2.95,4.1 0 1,0 5.9,0a2.95,4.1 0 1,0 -5.9,0m.25,0a2.95,4.1 0 1,0 5.9,0a2.95,4.1 0 1,0 -5.9,0m.5,0a2.95,4.1 0 1,0 5.9,0a2.95,4.1 0 1,0 -5.9,0m.25,0a2.95,4.1 0 1,0 5.9,0a2.95,4.1 0 1,0 -5.9,0m2.5,0a2.95,4.1 0 1,0 5.9,0a2.95,4.1 0 1,0 -5.9,0m.25,0a2.95,4.1 0 1,0 5.9,0a2.95,4.1 0 1,0 -5.9,0m1.5,0a2.95,4.1 0 1,0 5.9,0a2.95,4.1 0 1,0 -5.9,0m1.5,0a2.95,4.1 0 1,0 5.9,0a2.95,4.1 0 1,0 -5.9,0m.25,0a2.95,4.1 0 1,0 5.9,0a2.95,4.1 0 1,0 -5.9,0m.5,0a2.95,4.1 0 1,0 5.9,0a2.95,4.1 0 1,0 -5.9,0m.25,0a2.95,4.1 0 1,0 5.9,0a2.95,4.1 0 1,0 -5.9,0m.25,0a2.95,4.1 0 1,0 5.9,0a2.95,4.1 0 1,0 -5.9,0m1,0a2.95,4.1 0 1,0 5.9,0a2.95,4.1 0 1,0 -5.9,0m.75,0a2.95,4.1 0 1,0 5.9,0a2.95,4.1 0 1,0 -5.9,0m.75,0a2.95,4.1 0 1,0 5.9,0a2.95,4.1 0 1,0 -5.9,0m.5,0a2.95,4.1 0 1,0 5.9,0a2.95,4.1 0 1,0 -5.9,0m.5,0a2.95,4.1 0 1,0 5.9,0a2.95,4.1 0 1,0 -5.9,0m.25,0a2.95,4.1 0 1,0 5.9,0a2.95,4.1 0 1,0 -5.9,0m1,0a2.95,4.1 0 1,0 5.9,0a2.95,4.1 0 1,0 -5.9,0m.75,0a2.95,4.1 0 1,0 5.9,0a2.95,4.1 0 1,0 -5.9,0m.75,0a2.95,4.1 0 1,0 5.9,0a2.95,4.1 0 1,0 -5.9,0m1.5,0a2.95,4.1 0 1,0 5.9,0a2.95,4.1 0 1,0 -5.9,0m2.75,0a2.95,4.1 0 1,0 5.9,0a2.95,4.1 0 1,0 -5.9,0m.25,0a2.95,4.1 0 1,0 5.9,0a2.95,4.1 0 1,0 -5.9,0m.75,0a2.95,4.1 0 1,0 5.9,0a2.95,4.1 0 1,0 -5.9,0m.75,0a2.95,4.1 0 1,0 5.9,0a2.95,4.1 0 1,0 -5.9,0m.25,0a2.95,4.1 0 1,0 5.9,0a2.95,4.1 0 1,0 -5.9,0m.5,0a2.95,4.1 0 1,0 5.9,0a2.95,4.1 0 1,0 -5.9,0m.5,0a2.95,4.1 0 1,0 5.9,0a2.95,4.1 0 1,0 -5.9,0m.75,0a2.95,4.1 0 1,0 5.9,0a2.95,4.1 0 1,0 -5.9,0m.75,0a2.95,4.1 0 1,0 5.9,0a2.95,4.1 0 1,0 -5.9,0m.5,0a2.95,4.1 0 1,0 5.9,0a2.95,4.1 0 1,0 -5.9,0m.5,0a2.95,4.1 0 1,0 5.9,0a2.95,4.1 0 1,0 -5.9,0m.25,0a2.95,4.1 0 1,0 5.9,0a2.95,4.1 0 1,0 -5.9,0m1.25,0a2.95,4.1 0 1,0 5.9,0a2.95,4.1 0 1,0 -5.9,0m.25,0a2.95,4.1 0 1,0 5.9,0a2.95,4.1 0 1,0 -5.9,0m.5,0a2.95,4.1 0 1,0 5.9,0a2.95,4.1 0 1,0 -5.9,0m.5,0a2.95,4.1 0 1,0 5.9,0a2.95,4.1 0 1,0 -5.9,0m.5,0a2.95,4.1 0 1,0 5.9,0a2.95,4.1 0 1,0 -5.9,0m.5,0a2.95,4.1 0 1,0 5.9,0a2.95,4.1 0 1,0 -5.9,0m1,0a2.95,4.1 0 1,0 5.9,0a2.95,4.1 0 1,0 -5.9,0m1.25,0a2.95,4.1 0 1,0 5.9,0a2.95,4.1 0 1,0 -5.9,0m.75,0a2.95,4.1 0 1,0 5.9,0a2.95,4.1 0 1,0 -5.9,0m.25,0a2.95,4.1 0 1,0 5.9,0a2.95,4.1 0 1,0 -5.9,0m.25,0a2.95,4.1 0 1,0 5.9,0a2.95,4.1 0 1,0 -5.9,0m.25,0a2.95,4.1 0 1,0 5.9,0a2.95,4.1 0 1,0 -5.9,0m.5,0a2.95,4.1 0 1,0 5.9,0a2.95,4.1 0 1,0 -5.9,0m.25,0a2.95,4.1 0 1,0 5.9,0a2.95,4.1 0 1,0 -5.9,0m.25,0a2.95,4.1 0 1,0 5.9,0a2.95,4.1 0 1,0 -5.9,0m.5,0a2.95,4.1 0 1,0 5.9,0a2.95,4.1 0 1,0 -5.9,0m.5,0a2.95,4.1 0 1,0 5.9,0a2.95,4.1 0 1,0 -5.9,0m.75,0a2.95,4.1 0 1,0 5.9,0a2.95,4.1 0 1,0 -5.9,0m.5,0a2.95,4.1 0 1,0 5.9,0a2.95,4.1 0 1,0 -5.9,0m.5,0a2.95,4.1 0 1,0 5.9,0a2.95,4.1 0 1,0 -5.9,0m1,0a2.95,4.1 0 1,0 5.9,0a2.95,4.1 0 1,0 -5.9,0m.25,0a2.95,4.1 0 1,0 5.9,0a2.95,4.1 0 1,0 -5.9,0m1.75,0a2.95,4.1 0 1,0 5.9,0a2.95,4.1 0 1,0 -5.9,0m.75,0a2.95,4.1 0 1,0 5.9,0a2.95,4.1 0 1,0 -5.9,0m.5,0a2.95,4.1 0 1,0 5.9,0a2.95,4.1 0 1,0 -5.9,0m2.25,0a2.95,4.1 0 1,0 5.9,0a2.95,4.1 0 1,0 -5.9,0m1.75,0a2.95,4.1 0 1,0 5.9,0a2.95,4.1 0 1,0 -5.9,0m1,0a2.95,4.1 0 1,0 5.9,0a2.95,4.1 0 1,0 -5.9,0m.75,0a2.95,4.1 0 1,0 5.9,0a2.95,4.1 0 1,0 -5.9,0m.25,0a2.95,4.1 0 1,0 5.9,0a2.95,4.1 0 1,0 -5.9,0m1.25,0a2.95,4.1 0 1,0 5.9,0a2.95,4.1 0 1,0 -5.9,0m2.25,0a2.95,4.1 0 1,0 5.9,0a2.95,4.1 0 1,0 -5.9,0m.25,0a2.95,4.1 0 1,0 5.9,0a2.95,4.1 0 1,0 -5.9,0m.25,0a2.95,4.1 0 1,0 5.9,0a2.95,4.1 0 1,0 -5.9,0m.25,0a2.95,4.1 0 1,0 5.9,0a2.95,4.1 0 1,0 -5.9,0m.25,0a2.95,4.1 0 1,0 5.9,0a2.95,4.1 0 1,0 -5.9,0m.5,0a2.95,4.1 0 1,0 5.9,0a2.95,4.1 0 1,0 -5.9,0m.25,0a2.95,4.1 0 1,0 5.9,0a2.95,4.1 0 1,0 -5.9,0m1.75,0a2.95,4.1 0 1,0 5.9,0a2.95,4.1 0 1,0 -5.9,0m.5,0a2.95,4.1 0 1,0 5.9,0a2.95,4.1 0 1,0 -5.9,0m.25,0a2.95,4.1 0 1,0 5.9,0a2.95,4.1 0 1,0 -5.9,0m1.5,0a2.95,4.1 0 1,0 5.9,0a2.95,4.1 0 1,0 -5.9,0m.25,0a2.95,4.1 0 1,0 5.9,0a2.95,4.1 0 1,0 -5.9,0m.5,0a2.95,4.1 0 1,0 5.9,0a2.95,4.1 0 1,0 -5.9,0m.25,0a2.95,4.1 0 1,0 5.9,0a2.95,4.1 0 1,0 -5.9,0m.75,0a2.95,4.1 0 1,0 5.9,0a2.95,4.1 0 1,0 -5.9,0m.5,0a2.95,4.1 0 1,0 5.9,0a2.95,4.1 0 1,0 -5.9,0m1.75,0a2.95,4.1 0 1,0 5.9,0a2.95,4.1 0 1,0 -5.9,0m.25,0a2.95,4.1 0 1,0 5.9,0a2.95,4.1 0 1,0 -5.9,0m3,0a2.95,4.1 0 1,0 5.9,0a2.95,4.1 0 1,0 -5.9,0m.5,0a2.95,4.1 0 1,0 5.9,0a2.95,4.1 0 1,0 -5.9,0m.5,0a2.95,4.1 0 1,0 5.9,0a2.95,4.1 0 1,0 -5.9,0m.25,0a2.95,4.1 0 1,0 5.9,0a2.95,4.1 0 1,0 -5.9,0m1.5,0a2.95,4.1 0 1,0 5.9,0a2.95,4.1 0 1,0 -5.9,0m1,0a2.95,4.1 0 1,0 5.9,0a2.95,4.1 0 1,0 -5.9,0m.75,0a2.95,4.1 0 1,0 5.9,0a2.95,4.1 0 1,0 -5.9,0m3.5,0a2.95,4.1 0 1,0 5.9,0a2.95,4.1 0 1,0 -5.9,0m.5,0a2.95,4.1 0 1,0 5.9,0a2.95,4.1 0 1,0 -5.9,0m.5,0a2.95,4.1 0 1,0 5.9,0a2.95,4.1 0 1,0 -5.9,0m.75,0a2.95,4.1 0 1,0 5.9,0a2.95,4.1 0 1,0 -5.9,0m.75,0a2.95,4.1 0 1,0 5.9,0a2.95,4.1 0 1,0 -5.9,0m.25,0a2.95,4.1 0 1,0 5.9,0a2.95,4.1 0 1,0 -5.9,0m.25,0a2.95,4.1 0 1,0 5.9,0a2.95,4.1 0 1,0 -5.9,0m.75,0a2.95,4.1 0 1,0 5.9,0a2.95,4.1 0 1,0 -5.9,0m.25,0a2.95,4.1 0 1,0 5.9,0a2.95,4.1 0 1,0 -5.9,0m1,0a2.95,4.1 0 1,0 5.9,0a2.95,4.1 0 1,0 -5.9,0m.75,0a2.95,4.1 0 1,0 5.9,0a2.95,4.1 0 1,0 -5.9,0m.25,0a2.95,4.1 0 1,0 5.9,0a2.95,4.1 0 1,0 -5.9,0m.5,0a2.95,4.1 0 1,0 5.9,0a2.95,4.1 0 1,0 -5.9,0m.25,0a2.95,4.1 0 1,0 5.9,0a2.95,4.1 0 1,0 -5.9,0m.25,0a2.95,4.1 0 1,0 5.9,0a2.95,4.1 0 1,0 -5.9,0m1,0a2.95,4.1 0 1,0 5.9,0a2.95,4.1 0 1,0 -5.9,0m.25,0a2.95,4.1 0 1,0 5.9,0a2.95,4.1 0 1,0 -5.9,0m.5,0a2.95,4.1 0 1,0 5.9,0a2.95,4.1 0 1,0 -5.9,0m.25,0a2.95,4.1 0 1,0 5.9,0a2.95,4.1 0 1,0 -5.9,0m.25,0a2.95,4.1 0 1,0 5.9,0a2.95,4.1 0 1,0 -5.9,0m.75,0a2.95,4.1 0 1,0 5.9,0a2.95,4.1 0 1,0 -5.9,0m.25,0a2.95,4.1 0 1,0 5.9,0a2.95,4.1 0 1,0 -5.9,0m.25,0a2.95,4.1 0 1,0 5.9,0a2.95,4.1 0 1,0 -5.9,0m1.25,0a2.95,4.1 0 1,0 5.9,0a2.95,4.1 0 1,0 -5.9,0m.25,0a2.95,4.1 0 1,0 5.9,0a2.95,4.1 0 1,0 -5.9,0m.5,0a2.95,4.1 0 1,0 5.9,0a2.95,4.1 0 1,0 -5.9,0m1.75,0a2.95,4.1 0 1,0 5.9,0a2.95,4.1 0 1,0 -5.9,0m.25,0a2.95,4.1 0 1,0 5.9,0a2.95,4.1 0 1,0 -5.9,0m.75,0a2.95,4.1 0 1,0 5.9,0a2.95,4.1 0 1,0 -5.9,0m.25,0a2.95,4.1 0 1,0 5.9,0a2.95,4.1 0 1,0 -5.9,0m.5,0a2.95,4.1 0 1,0 5.9,0a2.95,4.1 0 1,0 -5.9,0m.5,0a2.95,4.1 0 1,0 5.9,0a2.95,4.1 0 1,0 -5.9,0m.25,0a2.95,4.1 0 1,0 5.9,0a2.95,4.1 0 1,0 -5.9,0m.25,0a2.95,4.1 0 1,0 5.9,0a2.95,4.1 0 1,0 -5.9,0m.25,0a2.95,4.1 0 1,0 5.9,0a2.95,4.1 0 1,0 -5.9,0m1.25,0a2.95,4.1 0 1,0 5.9,0a2.95,4.1 0 1,0 -5.9,0m1,0a2.95,4.1 0 1,0 5.9,0a2.95,4.1 0 1,0 -5.9,0m.75,0a2.95,4.1 0 1,0 5.9,0a2.95,4.1 0 1,0 -5.9,0m1.25,0a2.95,4.1 0 1,0 5.9,0a2.95,4.1 0 1,0 -5.9,0m.5,0a2.95,4.1 0 1,0 5.9,0a2.95,4.1 0 1,0 -5.9,0m.25,0a2.95,4.1 0 1,0 5.9,0a2.95,4.1 0 1,0 -5.9,0m.25,0a2.95,4.1 0 1,0 5.9,0a2.95,4.1 0 1,0 -5.9,0m.5,0a2.95,4.1 0 1,0 5.9,0a2.95,4.1 0 1,0 -5.9,0m.25,0a2.95,4.1 0 1,0 5.9,0a2.95,4.1 0 1,0 -5.9,0m.5,0a2.95,4.1 0 1,0 5.9,0a2.95,4.1 0 1,0 -5.9,0m1.5,0a2.95,4.1 0 1,0 5.9,0a2.95,4.1 0 1,0 -5.9,0m.5,0a2.95,4.1 0 1,0 5.9,0a2.95,4.1 0 1,0 -5.9,0m.5,0a2.95,4.1 0 1,0 5.9,0a2.95,4.1 0 1,0 -5.9,0m.75,0a2.95,4.1 0 1,0 5.9,0a2.95,4.1 0 1,0 -5.9,0m.25,0a2.95,4.1 0 1,0 5.9,0a2.95,4.1 0 1,0 -5.9,0m.25,0a2.95,4.1 0 1,0 5.9,0a2.95,4.1 0 1,0 -5.9,0m.5,0a2.95,4.1 0 1,0 5.9,0a2.95,4.1 0 1,0 -5.9,0m.5,0a2.95,4.1 0 1,0 5.9,0a2.95,4.1 0 1,0 -5.9,0m.25,0a2.95,4.1 0 1,0 5.9,0a2.95,4.1 0 1,0 -5.9,0m1,0a2.95,4.1 0 1,0 5.9,0a2.95,4.1 0 1,0 -5.9,0m.5,0a2.95,4.1 0 1,0 5.9,0a2.95,4.1 0 1,0 -5.9,0m1.5,0a2.95,4.1 0 1,0 5.9,0a2.95,4.1 0 1,0 -5.9,0m3.75,0a2.95,4.1 0 1,0 5.9,0a2.95,4.1 0 1,0 -5.9,0m.75,0a2.95,4.1 0 1,0 5.9,0a2.95,4.1 0 1,0 -5.9,0m.5,0a2.95,4.1 0 1,0 5.9,0a2.95,4.1 0 1,0 -5.9,0m.25,0a2.95,4.1 0 1,0 5.9,0a2.95,4.1 0 1,0 -5.9,0m.5,0a2.95,4.1 0 1,0 5.9,0a2.95,4.1 0 1,0 -5.9,0m.5,0a2.95,4.1 0 1,0 5.9,0a2.95,4.1 0 1,0 -5.9,0m.5,0a2.95,4.1 0 1,0 5.9,0a2.95,4.1 0 1,0 -5.9,0m1,0a2.95,4.1 0 1,0 5.9,0a2.95,4.1 0 1,0 -5.9,0m.25,0a2.95,4.1 0 1,0 5.9,0a2.95,4.1 0 1,0 -5.9,0m1.5,0a2.95,4.1 0 1,0 5.9,0a2.95,4.1 0 1,0 -5.9,0m.25,0a2.95,4.1 0 1,0 5.9,0a2.95,4.1 0 1,0 -5.9,0m.5,0a2.95,4.1 0 1,0 5.9,0a2.95,4.1 0 1,0 -5.9,0m.75,0a2.95,4.1 0 1,0 5.9,0a2.95,4.1 0 1,0 -5.9,0m1.5,0a2.95,4.1 0 1,0 5.9,0a2.95,4.1 0 1,0 -5.9,0m.75,0a2.95,4.1 0 1,0 5.9,0a2.95,4.1 0 1,0 -5.9,0m.25,0a2.95,4.1 0 1,0 5.9,0a2.95,4.1 0 1,0 -5.9,0m.25,0a2.95,4.1 0 1,0 5.9,0a2.95,4.1 0 1,0 -5.9,0m.5,0a2.95,4.1 0 1,0 5.9,0a2.95,4.1 0 1,0 -5.9,0m1.75,0a2.95,4.1 0 1,0 5.9,0a2.95,4.1 0 1,0 -5.9,0m.5,0a2.95,4.1 0 1,0 5.9,0a2.95,4.1 0 1,0 -5.9,0m.5,0a2.95,4.1 0 1,0 5.9,0a2.95,4.1 0 1,0 -5.9,0m.5,0a2.95,4.1 0 1,0 5.9,0a2.95,4.1 0 1,0 -5.9,0m.5,0a2.95,4.1 0 1,0 5.9,0a2.95,4.1 0 1,0 -5.9,0m2,0a2.95,4.1 0 1,0 5.9,0a2.95,4.1 0 1,0 -5.9,0" fill="none" stroke="#0000ff" stroke-width="2.2"/>
<path d="M355.3,176.6a2.95,4.1 0 1,0 5.9,0a2.95,4.1 0 1,0 -5.9,0m1,0a2.95,4.1 0 1,0 5.9,0a2.95,4.1 0 1,0 -5.9,0m.75,0a2.95,4.1 0 1,0 5.9,0a2.95,4.1 0 1,0 -5.9,0m.5,0a2.95,4.1 0 1,0 5.9,0a2.95,4.1 0 1,0 -5.9,0m1,0a2.95,4.1 0 1,0 5.9,0a2.95,4.1 0 1,0 -5.9,0m.25,0a2.95,4.1 0 1,0 5.9,0a2.95,4.1 0 1,0 -5.9,0m.75,0a2.95,4.1 0 1,0 5.9,0a2.95,4.1 0 1,0 -5.9,0m.25,0a2.95,4.1 0 1,0 5.9,0a2.95,4.1 0 1,0 -5.9,0m.5,0a2.95,4.1 0 1,0 5.9,0a2.95,4.1 0 1,0 -5.9,0m1.5,0a2.95,4.1 0 1,0 5.9,0a2.95,4.1 0 1,0 -5.9,0m.25,0a2.95,4.1 0 1,0 5.9,0a2.95,4.1 0 1,0 -5.9,0m.25,0a2.95,4.1 0 1,0 5.9,0a2.95,4.1 0 1,0 -5.9,0m.25,0a2.95,4.1 0 1,0 5.9,0a2.95,4.1 0 1,0 -5.9,0m.25,0a2.95,4.1 0 1,0 5.9,0a2.95,4.1 0 1,0 -5.9,0m.5,0a2.95,4.1 0 1,0 5.9,0a2.95,4.1 0 1,0 -5.9,0m.5,0a2.95,4.1 0 1,0 5.9,0a2.95,4.1 0 1,0 -5.9,0m1.25,0a2.95,4.1 0 1,0 5.9,0a2.95,4.1 0 1,0 -5.9,0m.25,0a2.95,4.1 0 1,0 5.9,0a2.95,4.1 0 1,0 -5.9,0m.5,0a2.95,4.1 0 1,0 5.9,0a2.95,4.1 0 1,0 -5.9,0m.75,0a2.95,4.1 0 1,0 5.9,0a2.95,4.1 0 1,0 -5.9,0m.5,0a2.95,4.1 0 1,0 5.9,0a2.95,4.1 0 1,0 -5.9,0m.5,0a2.95,4.1 0 1,0 5.9,0a2.95,4.1 0 1,0 -5.9,0m1.5,0a2.95,4.1 0 1,0 5.9,0a2.95,4.1 0 1,0 -5.9,0m.25,0a2.95,4.1 0 1,0 5.9,0a2.95,4.1 0 1,0 -5.9,0m.75,0a2.95,4.1 0 1,0 5.9,0a2.95,4.1 0 1,0 -5.9,0m1,0a2.95,4.1 0 1,0 5.9,0a2.95,4.1 0 1,0 -5.9,0m.5,0a2.95,4.1 0 1,0 5.9,0a2.95,4.1 0 1,0 -5.9,0m1.75,0a2.95,4.1 0 1,0 5.9,0a2.95,4.1 0 1,0 -5.9,0m1,0a2.95,4.1 0 1,0 5.9,0a2.95,4.1 0 1,0 -5.9,0m1.5,0a2.95,4.1 0 1,0 5.9,0a2.95,4.1 0 1,0 -5.9,0m.5,0a2.95,4.1 0 1,0 5.9,0a2.95,4.1 0 1,0 -5.9,0m.5,0a2.95,4.1 0 1,0 5.9,0a2.95,4.1 0 1,0 -5.9,0m1.75,0a2.95,4.1 0 1,0 5.9,0a2.95,4.1 0 1,0 -5.9,0m1,0a2.95,4.1 0 1,0 5.9,0a2.95,4.1 0 1,0 -5.9,0m.5,0a2.95,4.1 0 1,0 5.9,0a2.95,4.1 0 1,0 -5.9,0m1,0a2.95,4.1 0 1,0 5.9,0a2.95,4.1 0 1,0 -5.9,0m1.25,0a2.95,4.1 0 1,0 5.9,0a2.95,4.1 0 1,0 -5.9,0m.25,0a2.95,4.1 0 1,0 5.9,0a2.95,4.1 0 1,0 -5.9,0m.5,0a2.95,4.1 0 1,0 5.9,0a2.95,4.1 0 1,0 -5.9,0m.5,0a2.95,4.1 0 1,0 5.9,0a2.95,4.1 0 1,0 -5.9,0m2,0a2.95,4.1 0 1,0 5.9,0a2.95,4.1 0 1,0 -5.9,0m.75,0a2.95,4.1 0 1,0 5.9,0a2.95,4.1 0 1,0 -5.9,0m.25,0a2.95,4.1 0 1,0 5.9,0a2.95,4.1 0 1,0 -5.9,0m.5,0a2.95,4.1 0 1,0 5.9,0a2.95,4.1 0 1,0 -5.9,0m.25,0a2.95,4.1 0 1,0 5.9,0a2.95,4.1 0 1,0 -5.9,0m.5,0a2.95,4.1 0 1,0 5.9,0a2.95,4.1 0 1,0 -5.9,0m.25,0a2.95,4.1 0 1,0 5.9,0a2.95,4.1 0 1,0 -5.9,0m.5,0a2.95,4.1 0 1,0 5.9,0a2.95,4.1 0 1,0 -5.9,0m1.25,0a2.95,4.1 0 1,0 5.9,0a2.95,4.1 0 1,0 -5.9,0m.25,0a2.95,4.1 0 1,0 5.9,0a2.95,4.1 0 1,0 -5.9,0m.75,0a2.95,4.1 0 1,0 5.9,0a2.95,4.1 0 1,0 -5.9,0m.25,0a2.95,4.1 0 1,0 5.9,0a2.95,4.1 0 1,0 -5.9,0m1.25,0a2.95,4.1 0 1,0 5.9,0a2.95,4.1 0 1,0 -5.9,0m.75,0a2.95,4.1 0 1,0 5.9,0a2.95,4.1 0 1,0 -5.9,0m.5,0a2.95,4.1 0 1,0 5.9,0a2.95,4.1 0 1,0 -5.9,0m.75,0a2.95,4.1 0 1,0 5.9,0a2.95,4.1 0 1,0 -5.9,0m.5,0a2.95,4.1 0 1,0 5.9,0a2.95,4.1 0 1,0 -5.9,0m.25,0a2.95,4.1 0 1,0 5.9,0a2.95,4.1 0 1,0 -5.9,0m.25,0a2.95,4.1 0 1,0 5.9,0a2.95,4.1 0 1,0 -5.9,0m.25,0a2.95,4.1 0 1,0 5.9,0a2.95,4.1 0 1,0 -5.9,0m.5,0a2.95,4.1 0 1,0 5.9,0a2.95,4.1 0 1,0 -5.9,0m.25,0a2.95,4.1 0 1,0 5.9,0a2.95,4.1 0 1,0 -5.9,0m2.5,0a2.95,4.1 0 1,0 5.9,0a2.95,4.1 0 1,0 -5.9,0m1.75,0a2.95,4.1 0 1,0 5.9,0a2.95,4.1 0 1,0 -5.9,0m.5,0a2.95,4.1 0 1,0 5.9,0a2.95,4.1 0 1,0 -5.9,0m.25,0a2.95,4.1 0 1,0 5.9,0a2.95,4.1 0 1,0 -5.9,0m2,0a2.95,4.1 0 1,0 5.9,0a2.95,4.1 0 1,0 -5.9,0m.25,0a2.95,4.1 0 1,0 5.9,0a2.95,4.1 0 1,0 -5.9,0m.5,0a2.95,4.1 0 1,0 5.9,0a2.95,4.1 0 1,0 -5.9,0m.25,0a2.95,4.1 0 1,0 5.9,0a2.95,4.1 0 1,0 -5.9,0m.25,0a2.95,4.1 0 1,0 5.9,0a2.95,4.1 0 1,0 -5.9,0m.25,0a2.95,4.1 0 1,0 5.9,0a2.95,4.1 0 1,0 -5.9,0m.25,0a2.95,4.1 0 1,0 5.9,0a2.95,4.1 0 1,0 -5.9,0m.25,0a2.95,4.1 0 1,0 5.9,0a2.95,4.1 0 1,0 -5.9,0m.25,0a2.95,4.1 0 1,0 5.9,0a2.95,4.1 0 1,0 -5.9,0m.75,0a2.95,4.1 0 1,0 5.9,0a2.95,4.1 0 1,0 -5.9,0m.5,0a2.95,4.1 0 1,0 5.9,0a2.95,4.1 0 1,0 -5.9,0m.25,0a2.95,4.1 0 1,0 5.9,0a2.95,4.1 0 1,0 -5.9,0m.5,0a2.95,4.1 0 1,0 5.9,0a2.95,4.1 0 1,0 -5.9,0m.75,0a2.95,4.1 0 1,0 5.9,0a2.95,4.1 0 1,0 -5.9,0m.25,0a2.95,4.1 0 1,0 5.9,0a2.95,4.1 0 1,0 -5.9,0m3.25,0a2.95,4.1 0 1,0 5.9,0a2.95,4.1 0 1,0 -5.9,0m.75,0a2.95,4.1 0 1,0 5.9,0a2.95,4.1 0 1,0 -5.9,0m.25,0a2.95,4.1 0 1,0 5.9,0a2.95,4.1 0 1,0 -5.9,0m1.5,0a2.95,4.1 0 1,0 5.9,0a2.95,4.1 0 1,0 -5.9,0m2.75,0a2.95,4.1 0 1,0 5.9,0a2.95,4.1 0 1,0 -5.9,0m.5,0a2.95,4.1 0 1,0 5.9,0a2.95,4.1 0 1,0 -5.9,0m1.25,0a2.95,4.1 0 1,0 5.9,0a2.95,4.1 0 1,0 -5.9,0m.5,0a2.95,4.1 0 1,0 5.9,0a2.95,4.1 0 1,0 -5.9,0m1.25,0a2.95,4.1 0 1,0 5.9,0a2.95,4.1 0 1,0 -5.9,0m.5,0a2.95,4.1 0 1,0 5.9,0a2.95,4.1 0 1,0 -5.9,0m1.25,0a2.95,4.1 0 1,0 5.9,0a2.95,4.1 0 1,0 -5.9,0m.25,0a2.95,4.1 0 1,0 5.9,0a2.95,4.1 0 1,0 -5.9,0m.25,0a2.95,4.1 0 1,0 5.9,0a2.95,4.1 0 1,0 -5.9,0m.25,0a2.95,4.1 0 1,0 5.9,0a2.95,4.1 0 1,0 -5.9,0m.5,0a2.95,4.1 0 1,0 5.9,0a2.95,4.1 0 1,0 -5.9,0m.25,0a2.95,4.1 0 1,0 5.9,0a2.95,4.1 0 1,0 -5.9,0m.25,0a2.95,4.1 0 1,0 5.9,0a2.95,4.1 0 1,0 -5.9,0m1.25,0a2.95,4.1 0 1,0 5.9,0a2.95,4.1 0 1,0 -5.9,0m.25,0a2.95,4.1 0 1,0 5.9,0a2.95,4.1 0 1,0 -5.9,0m.75,0a2.95,4.1 0 1,0 5.9,0a2.95,4.1 0 1,0 -5.9,0m.5,0a2.95,4.1 0 1,0 5.9,0a2.95,4.1 0 1,0 -5.9,0m.75,0a2.95,4.1 0 1,0 5.9,0a2.95,4.1 0 1,0 -5.9,0m.25,0a2.95,4.1 0 1,0 5.9,0a2.95,4.1 0 1,0 -5.9,0m1.5,0a2.95,4.1 0 1,0 5.9,0a2.95,4.1 0 1,0 -5.9,0m.5,0a2.95,4.1 0 1,0 5.9,0a2.95,4.1 0 1,0 -5.9,0m.5,0a2.95,4.1 0 1,0 5.9,0a2.95,4.1 0 1,0 -5.9,0m1,0a2.95,4.1 0 1,0 5.9,0a2.95,4.1 0 1,0 -5.9,0m1,0a2.95,4.1 0 1,0 5.9,0a2.95,4.1 0 1,0 -5.9,0m1,0a2.95,4.1 0 1,0 5.9,0a2.95,4.1 0 1,0 -5.9,0m.75,0a2.95,4.1 0 1,0 5.9,0a2.95,4.1 0 1,0 -5.9,0m.25,0a2.95,4.1 0 1,0 5.9,0a2.95,4.1 0 1,0 -5.9,0m.75,0a2.95,4.1 0 1,0 5.9,0a2.95,4.1 0 1,0 -5.9,0m1,0a2.95,4.1 0 1,0 5.9,0a2.95,4.1 0 1,0 -5.9,0m.25,0a2.95,4.1 0 1,0 5.9,0a2.95,4.1 0 1,0 -5.9,0m.5,0a2.95,4.1 0 1,0 5.9,0a2.95,4.1 0 1,0 -5.9,0m.25,0a2.95,4.1 0 1,0 5.9,0a2.95,4.1 0 1,0 -5.9,0m.25,0a2.95,4.1 0 1,0 5.9,0a2.95,4.1 0 1,0 -5.9,0m.25,0a2.95,4.1 0 1,0 5.9,0a2.95,4.1 0 1,0 -5.9,0m.5,0a2.95,4.1 0 1,0 5.9,0a2.95,4.1 0 1,0 -5.9,0m1.5,0a2.95,4.1 0 1,0 5.9,0a2.95,4.1 0 1,0 -5.9,0m.5,0a2.95,4.1 0 1,0 5.9,0a2.95,4.1 0 1,0 -5.9,0m.25,0a2.95,4.1 0 1,0 5.9,0a2.95,4.1 0 1,0 -5.9,0m.5,0a2.95,4.1 0 1,0 5.9,0a2.95,4.1 0 1,0 -5.9,0m.5,0a2.95,4.1 0 1,0 5.9,0a2.95,4.1 0 1,0 -5.9,0m.25,0a2.95,4.1 0 1,0 5.9,0a2.95,4.1 0 1,0 -5.9,0m.75,0a2.95,4.1 0 1,0 5.9,0a2.95,4.1 0 1,0 -5.9,0m.5,0a2.95,4.1 0 1,0 5.9,0a2.95,4.1 0 1,0 -5.9,0m.75,0a2.95,4.1 0 1,0 5.9,0a2.95,4.1 0 1,0 -5.9,0m.5,0a2.95,4.1 0 1,0 5.9,0a2.95,4.1 0 1,0 -5.9,0m1.25,0a2.95,4.1 0 1,0 5.9,0a2.95,4.1 0 1,0 -5.9,0m.25,0a2.95,4.1 0 1,0 5.9,0a2.95,4.1 0 1,0 -5.9,0m.75,0a2.95,4.1 0 1,0 5.9,0a2.95,4.1 0 1,0 -5.9,0m1.75,0a2.95,4.1 0 1,0 5.9,0a2.95,4.1 0 1,0 -5.9,0m1.25,0a2.95,4.1 0 1,0 5.9,0a2.95,4.1 0 1,0 -5.9,0m1,0a2.95,4.1 0 1,0 5.9,0a2.95,4.1 0 1,0 -5.9,0m.5,0a2.95,4.1 0 1,0 5.9,0a2.95,4.1 0 1,0 -5.9,0m.5,0a2.95,4.1 0 1,0 5.9,0a2.95,4.1 0 1,0 -5.9,0m.5,0a2.95,4.1 0 1,0 5.9,0a2.95,4.1 0 1,0 -5.9,0m.5,0a2.95,4.1 0 1,0 5.9,0a2.95,4.1 0 1,0 -5.9,0m.25,0a2.95,4.1 0 1,0 5.9,0a2.95,4.1 0 1,0 -5.9,0m2,0a2.95,4.1 0 1,0 5.9,0a2.95,4.1 0 1,0 -5.9,0m.25,0a2.95,4.1 0 1,0 5.9,0a2.95,4.1 0 1,0 -5.9,0m.5,0a2.95,4.1 0 1,0 5.9,0a2.95,4.1 0 1,0 -5.9,0m.75,0a2.95,4.1 0 1,0 5.9,0a2.95,4.1 0 1,0 -5.9,0m1,0a2.95,4.1 0 1,0 5.9,0a2.95,4.1 0 1,0 -5.9,0m.25,0a2.95,4.1 0 1,0 5.9,0a2.95,4.1 0 1,0 -5.9,0m.25,0a2.95,4.1 0 1,0 5.9,0a2.95,4.1 0 1,0 -5.9,0m.75,0a2.95,4.1 0 1,0 5.9,0a2.95,4.1 0 1,0 -5.9,0m.25,0a2.95,4.1 0 1,0 5.9,0a2.95,4.1 0 1,0 -5.9,0m1,0a2.95,4.1 0 1,0 5.9,0a2.95,4.1 0 1,0 -5.9,0m.25,0a2.95,4.1 0 1,0 5.9,0a2.95,4.1 0 1,0 -5.9,0m.25,0a2.95,4.1 0 1,0 5.9,0a2.95,4.1 0 1,0 -5.9,0m.25,0a2.95,4.1 0 1,0 5.9,0a2.95,4.1 0 1,0 -5.9,0m.5,0a2.95,4.1 0 1,0 5.9,0a2.95,4.1 0 1,0 -5.9,0m.75,0a2.95,4.1 0 1,0 5.9,0a2.95,4.1 0 1,0 -5.9,0m.25,0a2.95,4.1 0 1,0 5.9,0a2.95,4.1 0 1,0 -5.9,0m.5,0a2.95,4.1 0 1,0 5.9,0a2.95,4.1 0 1,0 -5.9,0m1,0a2.95,4.1 0 1,0 5.9,0a2.95,4.1 0 1,0 -5.9,0m1.25,0a2.95,4.1 0 1,0 5.9,0a2.95,4.1 0 1,0 -5.9,0m1.5,0a2.95,4.1 0 1,0 5.9,0a2.95,4.1 0 1,0 -5.9,0m.25,0a2.95,4.1 0 1,0 5.9,0a2.95,4.1 0 1,0 -5.9,0m.5,0a2.95,4.1 0 1,0 5.9,0a2.95,4.1 0 1,0 -5.9,0m1,0a2.95,4.1 0 1,0 5.9,0a2.95,4.1 0 1,0 -5.9,0m1,0a2.95,4.1 0 1,0 5.9,0a2.95,4.1 0 1,0 -5.9,0m1.25,0a2.95,4.1 0 1,0 5.9,0a2.95,4.1 0 1,0 -5.9,0m.25,0a2.95,4.1 0 1,0 5.9,0a2.95,4.1 0 1,0 -5.9,0m2,0a2.95,4.1 0 1,0 5.9,0a2.95,4.1 0 1,0 -5.9,0m.25,0a2.95,4.1 0 1,0 5.9,0a2.95,4.1 0 1,0 -5.9,0m.5,0a2.95,4.1 0 1,0 5.9,0a2.95,4.1 0 1,0 -5.9,0m.5,0a2.95,4.1 0 1,0 5.9,0a2.95,4.1 0 1,0 -5.9,0m.25,0a2.95,4.1 0 1,0 5.9,0a2.95,4.1 0 1,0 -5.9,0m.75,0a2.95,4.1 0 1,0 5.9,0a2.95,4.1 0 1,0 -5.9,0m1.25,0a2.95,4.1 0 1,0 5.9,0a2.95,4.1 0 1,0 -5.9,0m1,0a2.95,4.1 0 1,0 5.9,0a2.95,4.1 0 1,0 -5.9,0m1.25,0a2.95,4.1 0 1,0 5.9,0a2.95,4.1 0 1,0 -5.9,0m.25,0a2.95,4.1 0 1,0 5.9,0a2.95,4.1 0 1,0 -5.9,0m.5,0a2.95,4.1 0 1,0 5.9,0a2.95,4.1 0 1,0 -5.9,0m.25,0a2.95,4.1 0 1,0 5.9,0a2.95,4.1 0 1,0 -5.9,0m1.25,0a2.95,4.1 0 1,0 5.9,0a2.95,4.1 0 1,0 -5.9,0m.75,0a2.95,4.1 0 1,0 5.9,0a2.95,4.1 0 1,0 -5.9,0m.25,0a2.95,4.1 0 1,0 5.9,0a2.95,4.1 0 1,0 -5.9,0m1.25,0a2.95,4.1 0 1,0 5.9,0a2.95,4.1 0 1,0 -5.9,0m1.75,0a2.95,4.1 0 1,0 5.9,0a2.95,4.1 0 1,0 -5.9,0m.25,0a2.95,4.1 0 1,0 5.9,0a2.95,4.1 0 1,0 -5.9,0m.25,0a2.95,4.1 0 1,0 5.9,0a2.95,4.1 0 1,0 -5.9,0m1,0a2.95,4.1 0 1,0 5.9,0a2.95,4.1 0 1,0 -5.9,0m.5,0a2.95,4.1 0 1,0 5.9,0a2.95,4.1 0 1,0 -5.9,0m.5,0a2.95,4.1 0 1,0 5.9,0a2.95,4.1 0 1,0 -5.9,0m.25,0a2.95,4.1 0 1,0 5.9,0a2.95,4.1 0 1,0 -5.9,0m.25,0a2.95,4.1 0 1,0 5.9,0a2.95,4.1 0 1,0 -5.9,0m1,0a2.95,4.1 0 1,0 5.9,0a2.95,4.1 0 1,0 -5.9,0m.5,0a2.95,4.1 0 1,0 5.9,0a2.95,4.1 0 1,0 -5.9,0m.25,0a2.95,4.1 0 1,0 5.9,0a2.95,4.1 0 1,0 -5.9,0m.25,0a2.95,4.1 0 1,0 5.9,0a2.95,4.1 0 1,0 -5.9,0m.5,0a2.95,4.1 0 1,0 5.9,0a2.95,4.1 0 1,0 -5.9,0m1.25,0a2.95,4.1 0 1,0 5.9,0a2.95,4.1 0 1,0 -5.9,0m.5,0a2.95,4.1 0 1,0 5.9,0a2.95,4.1 0 1,0 -5.9,0m1,0a2.95,4.1 0 1,0 5.9,0a2.95,4.1 0 1,0 -5.9,0m.25,0a2.95,4.1 0 1,0 5.9,0a2.95,4.1 0 1,0 -5.9,0m.25,0a2.95,4.1 0 1,0 5.9,0a2.95,4.1 0 1,0 -5.9,0m.5,0a2.95,4.1 0 1,0 5.9,0a2.95,4.1 0 1,0 -5.9,0m.75,0a2.95,4.1 0 1,0 5.9,0a2.95,4.1 0 1,0 -5.9,0m2.5,0a2.95,4.1 0 1,0 5.9,0a2.95,4.1 0 1,0 -5.9,0m.25,0a2.95,4.1 0 1,0 5.9,0a2.95,4.1 0 1,0 -5.9,0m1.25,0a2.95,4.1 0 1,0 5.9,0a2.95,4.1 0 1,0 -5.9,0m.25,0a2.95,4.1 0 1,0 5.9,0a2.95,4.1 0 1,0 -5.9,0m.5,0a2.95,4.1 0 1,0 5.9,0a2.95,4.1 0 1,0 -5.9,0m.5,0a2.95,4.1 0 1,0 5.9,0a2.95,4.1 0 1,0 -5.9,0m.25,0a2.95,4.1 0 1,0 5.9,0a2.95,4.1 0 1,0 -5.9,0m1,0a2.95,4.1 0 1,0 5.9,0a2.95,4.1 0 1,0 -5.9,0m.25,0a2.95,4.1 0 1,0 5.9,0a2.95,4.1 0 1,0 -5.9,0m.5,0a2.95,4.1 0 1,0 5.9,0a2.95,4.1 0 1,0 -5.9,0m.75,0a2.95,4.1 0 1,0 5.9,0a2.95,4.1 0 1,0 -5.9,0m.25,0a2.95,4.1 0 1,0 5.9,0a2.95,4.1 0 1,0 -5.9,0m.25,0a2.95,4.1 0 1,0 5.9,0a2.95,4.1 0 1,0 -5.9,0m1,0a2.95,4.1 0 1,0 5.9,0a2.95,4.1 0 1,0 -5.9,0m1,0a2.95,4.1 0 1,0 5.9,0a2.95,4.1 0 1,0 -5.9,0m1.75,0a2.95,4.1 0 1,0 5.9,0a2.95,4.1 0 1,0 -5.9,0m1,0a2.95,4.1 0 1,0 5.9,0a2.95,4.1 0 1,0 -5.9,0m.25,0a2.95,4.1 0 1,0 5.9,0a2.95,4.1 0 1,0 -5.9,0m.5,0a2.95,4.1 0 1,0 5.9,0a2.95,4.1 0 1,0 -5.9,0m1,0a2.95,4.1 0 1,0 5.9,0a2.95,4.1 0 1,0 -5.9,0m.25,0a2.95,4.1 0 1,0 5.9,0a2.95,4.1 0 1,0 -5.9,0m.5,0a2.95,4.1 0 1,0 5.9,0a2.95,4.1 0 1,0 -5.9,0m.25,0a2.95,4.1 0 1,0 5.9,0a2.95,4.1 0 1,0 -5.9,0m2.25,0a2.95,4.1 0 1,0 5.9,0a2.95,4.1 0 1,0 -5.9,0m.25,0a2.95,4.1 0 1,0 5.9,0a2.95,4.1 0 1,0 -5.9,0m.75,0a2.95,4.1 0 1,0 5.9,0a2.95,4.1 0 1,0 -5.9,0m.25,0a2.95,4.1 0 1,0 5.9,0a2.95,4.1 0 1,0 -5.9,0m.25,0a2.95,4.1 0 1,0 5.9,0a2.95,4.1 0 1,0 -5.9,0m2,0a2.95,4.1 0 1,0 5.9,0a2.95,4.1 0 1,0 -5.9,0m.5,0a2.95,4.1 0 1,0 5.9,0a2.95,4.1 0 1,0 -5.9,0m.5,0a2.95,4.1 0 1,0 5.9,0a2.95,4.1 0 1,0 -5.9,0m.25,0a2.95,4.1 0 1,0 5.9,0a2.95,4.1 0 1,0 -5.9,0m3.25,0a2.95,4.1 0 1,0 5.9,0a2.95,4.1 0 1,0 -5.9,0m.5,0a2.95,4.1 0 1,0 5.9,0a2.95,4.1 0 1,0 -5.9,0m.25,0a2.95,4.1 0 1,0 5.9,0a2.95,4.1 0 1,0 -5.9,0m.5,0a2.95,4.1 0 1,0 5.9,0a2.95,4.1 0 1,0 -5.9,0m.25,0a2.95,4.1 0 1,0 5.9,0a2.95,4.1 0 1,0 -5.9,0m1,0a2.95,4.1 0 1,0 5.9,0a2.95,4.1 0 1,0 -5.9,0m.25,0a2.95,4.1 0 1,0 5.9,0a2.95,4.1 0 1,0 -5.9,0m.25,0a2.95,4.1 0 1,0 5.9,0a2.95,4.1 0 1,0 -5.9,0m.75,0a2.95,4.1 0 1,0 5.9,0a2.95,4.1 0 1,0 -5.9,0m.5,0a2.95,4.1 0 1,0 5.9,0a2.95,4.1 0 1,0 -5.9,0m1,0a2.95,4.1 0 1,0 5.9,0a2.95,4.1 0 1,0 -5.9,0m2,0a2.95,4.1 0 1,0 5.9,0a2.95,4.1 0 1,0 -5.9,0m.5,0a2.95,4.1 0 1,0 5.9,0a2.95,4.1 0 1,0 -5.9,0m.25,0a2.95,4.1 0 1,0 5.9,0a2.95,4.1 0 1,0 -5.9,0m.5,0a2.95,4.1 0 1,0 5.9,0a2.95,4.1 0 1,0 -5.9,0m.25,0a2.95,4.1 0 1,0 5.9,0a2.95,4.1 0 1,0 -5.9,0m1.5,0a2.95,4.1 0 1,0 5.9,0a2.95,4.1 0 1,0 -5.9,0m.75,0a2.95,4.1 0 1,0 5.9,0a2.95,4.1 0 1,0 -5.9,0m.5,0a2.95,4.1 0 1,0 5.9,0a2.95,4.1 0 1,0 -5.9,0m.25,0a2.95,4.1 0 1,0 5.9,0a2.95,4.1 0 1,0 -5.9,0m1.25,0a2.95,4.1 0 1,0 5.9,0a2.95,4.1 0 1,0 -5.9,0m1,0a2.95,4.1 0 1,0 5.9,0a2.95,4.1 0 1,0 -5.9,0m1.25,0a2.95,4.1 0 1,0 5.9,0a2.95,4.1 0 1,0 -5.9,0m.75,0a2.95,4.1 0 1,0 5.9,0a2.95,4.1 0 1,0 -5.9,0m1.25,0a2.95,4.1 0 1,0 5.9,0a2.95,4.1 0 1,0 -5.9,0m2.25,0a2.95,4.1 0 1,0 5.9,0a2.95,4.1 0 1,0 -5.9,0m1,0a2.95,4.1 0 1,0 5.9,0a2.95,4.1 0 1,0 -5.9,0m.25,0a2.95,4.1 0 1,0 5.9,0a2.95,4.1 0 1,0 -5.9,0m.5,0a2.95,4.1 0 1,0 5.9,0a2.95,4.1 0 1,0 -5.9,0m.5,0a2.95,4.1 0 1,0 5.9,0a2.95,4.1 0 1,0 -5.9,0m1.25,0a2.95,4.1 0 1,0 5.9,0a2.95,4.1 0 1,0 -5.9,0m.25,0a2.95,4.1 0 1,0 5.9,0a2.95,4.1 0 1,0 -5.9,0m.25,0a2.95,4.1 0 1,0 5.9,0a2.95,4.1 0 1,0 -5.9,0m.25,0a2.95,4.1 0 1,0 5.9,0a2.95,4.1 0 1,0 -5.9,0m.25,0a2.95,4.1 0 1,0 5.9,0a2.95,4.1 0 1,0 -5.9,0m1,0a2.95,4.1 0 1,0 5.9,0a2.95,4.1 0 1,0 -5.9,0m1,0a2.95,4.1 0 1,0 5.9,0a2.95,4.1 0 1,0 -5.9,0m.75,0a2.95,4.1 0 1,0 5.9,0a2.95,4.1 0 1,0 -5.9,0m.75,0a2.95,4.1 0 1,0 5.9,0a2.95,4.1 0 1,0 -5.9,0m.5,0a2.95,4.1 0 1,0 5.9,0a2.95,4.1 0 1,0 -5.9,0m.25,0a2.95,4.1 0 1,0 5.9,0a2.95,4.1 0 1,0 -5.9,0m.5,0a2.95,4.1 0 1,0 5.9,0a2.95,4.1 0 1,0 -5.9,0m.75,0a2.95,4.1 0 1,0 5.9,0a2.95,4.1 0 1,0 -5.9,0m.25,0a2.95,4.1 0 1,0 5.9,0a2.95,4.1 0 1,0 -5.9,0m1,0a2.95,4.1 0 1,0 5.9,0a2.95,4.1 0 1,0 -5.9,0m.5,0a2.95,4.1 0 1,0 5.9,0a2.95,4.1 0 1,0 -5.9,0m.5,0a2.95,4.1 0 1,0 5.9,0a2.95,4.1 0 1,0 -5.9,0m1,0a2.95,4.1 0 1,0 5.9,0a2.95,4.1 0 1,0 -5.9,0m.25,0a2.95,4.1 0 1,0 5.9,0a2.95,4.1 0 1,0 -5.9,0m.5,0a2.95,4.1 0 1,0 5.9,0a2.95,4.1 0 1,0 -5.9,0m1,0a2.95,4.1 0 1,0 5.9,0a2.95,4.1 0 1,0 -5.9,0m.5,0a2.95,4.1 0 1,0 5.9,0a2.95,4.1 0 1,0 -5.9,0m.75,0a2.95,4.1 0 1,0 5.9,0a2.95,4.1 0 1,0 -5.9,0m.25,0a2.95,4.1 0 1,0 5.9,0a2.95,4.1 0 1,0 -5.9,0m.25,0a2.95,4.1 0 1,0 5.9,0a2.95,4.1 0 1,0 -5.9,0m.25,0a2.95,4.1 0 1,0 5.9,0a2.95,4.1 0 1,0 -5.9,0m.75,0a2.95,4.1 0 1,0 5.9,0a2.95,4.1 0 1,0 -5.9,0m.5,0a2.95,4.1 0 1,0 5.9,0a2.95,4.1 0 1,0 -5.9,0m1.25,0a2.95,4.1 0 1,0 5.9,0a2.95,4.1 0 1,0 -5.9,0m.25,0a2.95,4.1 0 1,0 5.9,0a2.95,4.1 0 1,0 -5.9,0m1,0a2.95,4.1 0 1,0 5.9,0a2.95,4.1 0 1,0 -5.9,0m.25,0a2.95,4.1 0 1,0 5.9,0a2.95,4.1 0 1,0 -5.9,0m2.25,0a2.95,4.1 0 1,0 5.9,0a2.95,4.1 0 1,0 -5.9,0m1.25,0a2.95,4.1 0 1,0 5.9,0a2.95,4.1 0 1,0 -5.9,0m.25,0a2.95,4.1 0 1,0 5.9,0a2.95,4.1 0 1,0 -5.9,0m1,0a2.95,4.1 0 1,0 5.9,0a2.95,4.1 0 1,0 -5.9,0m.5,0a2.95,4.1 0 1,0 5.9,0a2.95,4.1 0 1,0 -5.9,0m.75,0a2.95,4.1 0 1,0 5.9,0a2.95,4.1 0 1,0 -5.9,0m.75,0a2.95,4.1 0 1,0 5.9,0a2.95,4.1 0 1,0 -5.9,0m1,0a2.95,4.1 0 1,0 5.9,0a2.95,4.1 0 1,0 -5.9,0m1.25,0a2.95,4.1 0 1,0 5.9,0a2.95,4.1 0 1,0 -5.9,0m.25,0a2.95,4.1 0 1,0 5.9,0a2.95,4.1 0 1,0 -5.9,0m.5,0a2.95,4.1 0 1,0 5.9,0a2.95,4.1 0 1,0 -5.9,0m.5,0a2.95,4.1 0 1,0 5.9,0a2.95,4.1 0 1,0 -5.9,0m.75,0a2.95,4.1 0 1,0 5.9,0a2.95,4.1 0 1,0 -5.9,0m1.5,0a2.95,4.1 0 1,0 5.9,0a2.95,4.1 0 1,0 -5.9,0m3.25,0a2.95,4.1 0 1,0 5.9,0a2.95,4.1 0 1,0 -5.9,0m1.75,0a2.95,4.1 0 1,0 5.9,0a2.95,4.1 0 1,0 -5.9,0m.25,0a2.95,4.1 0 1,0 5.9,0a2.95,4.1 0 1,0 -5.9,0m.25,0a2.95,4.1 0 1,0 5.9,0a2.95,4.1 0 1,0 -5.9,0m.25,0a2.95,4.1 0 1,0 5.9,0a2.95,4.1 0 1,0 -5.9,0m.5,0a2.95,4.1 0 1,0 5.9,0a2.95,4.1 0 1,0 -5.9,0m2.25,0a2.95,4.1 0 1,0 5.9,0a2.95,4.1 0 1,0 -5.9,0m2,0a2.95,4.1 0 1,0 5.9,0a2.95,4.1 0 1,0 -5.9,0m.5,0a2.95,4.1 0 1,0 5.9,0a2.95,4.1 0 1,0 -5.9,0m.75,0a2.95,4.1 0 1,0 5.9,0a2.95,4.1 0 1,0 -5.9,0m1.25,0a2.95,4.1 0 1,0 5.9,0a2.95,4.1 0 1,0 -5.9,0m.25,0a2.95,4.1 0 1,0 5.9,0a2.95,4.1 0 1,0 -5.9,0m.25,0a2.95,4.1 0 1,0 5.9,0a2.95,4.1 0 1,0 -5.9,0m.25,0a2.95,4.1 0 1,0 5.9,0a2.95,4.1 0 1,0 -5.9,0m.5,0a2.95,4.1 0 1,0 5.9,0a2.95,4.1 0 1,0 -5.9,0m1.25,0a2.95,4.1 0 1,0 5.9,0a2.95,4.1 0 1,0 -5.9,0m.75,0a2.95,4.1 0 1,0 5.9,0a2.95,4.1 0 1,0 -5.9,0m.25,0a2.95,4.1 0 1,0 5.9,0a2.95,4.1 0 1,0 -5.9,0m.5,0a2.95,4.1 0 1,0 5.9,0a2.95,4.1 0 1,0 -5.9,0m2,0a2.95,4.1 0 1,0 5.9,0a2.95,4.1 0 1,0 -5.9,0m.75,0a2.95,4.1 0 1,0 5.9,0a2.95,4.1 0 1,0 -5.9,0m1.25,0a2.95,4.1 0 1,0 5.9,0a2.95,4.1 0 1,0 -5.9,0m.5,0a2.95,4.1 0 1,0 5.9,0a2.95,4.1 0 1,0 -5.9,0m.75,0a2.95,4.1 0 1,0 5.9,0a2.95,4.1 0 1,0 -5.9,0m.75,0a2.95,4.1 0 1,0 5.9,0a2.95,4.1 0 1,0 -5.9,0m.25,0a2.95,4.1 0 1,0 5.9,0a2.95,4.1 0 1,0 -5.9,0m.5,0a2.95,4.1 0 1,0 5.9,0a2.95,4.1 0 1,0 -5.9,0m.25,0a2.95,4.1 0 1,0 5.9,0a2.95,4.1 0 1,0 -5.9,0m1,0a2.95,4.1 0 1,0 5.9,0a2.95,4.1 0 1,0 -5.9,0m.25,0a2.95,4.1 0 1,0 5.9,0a2.95,4.1 0 1,0 -5.9,0m.5,0a2.95,4.1 0 1,0 5.9,0a2.95,4.1 0 1,0 -5.9,0m.25,0a2.95,4.1 0 1,0 5.9,0a2.95,4.1 0 1,0 -5.9,0m.5,0a2.95,4.1 0 1,0 5.9,0a2.95,4.1 0 1,0 -5.9,0m.5,0a2.95,4.1 0 1,0 5.9,0a2.95,4.1 0 1,0 -5.9,0m.75,0a2.95,4.1 0 1,0 5.9,0a2.95,4.1 0 1,0 -5.9,0m1,0a2.95,4.1 0 1,0 5.9,0a2.95,4.1 0 1,0 -5.9,0m.25,0a2.95,4.1 0 1,0 5.9,0a2.95,4.1 0 1,0 -5.9,0m.5,0a2.95,4.1 0 1,0 5.9,0a2.95,4.1 0 1,0 -5.9,0m.5,0a2.95,4.1 0 1,0 5.9,0a2.95,4.1 0 1,0 -5.9,0m1.75,0a2.95,4.1 0 1,0 5.9,0a2.95,4.1 0 1,0 -5.9,0m.5,0a2.95,4.1 0 1,0 5.9,0a2.95,4.1 0 1,0 -5.9,0m1.25,0a2.95,4.1 0 1,0 5.9,0a2.95,4.1 0 1,0 -5.9,0m.25,0a2.95,4.1 0 1,0 5.9,0a2.95,4.1 0 1,0 -5.9,0m.5,0a2.95,4.1 0 1,0 5.9,0a2.95,4.1 0 1,0 -5.9,0m1,0a2.95,4.1 0 1,0 5.9,0a2.95,4.1 0 1,0 -5.9,0m.75,0a2.95,4.1 0 1,0 5.9,0a2.95,4.1 0 1,0 -5.9,0m.25,0a2.95,4.1 0 1,0 5.9,0a2.95,4.1 0 1,0 -5.9,0m.5,0a2.95,4.1 0 1,0 5.9,0a2.95,4.1 0 1,0 -5.9,0m.5,0a2.95,4.1 0 1,0 5.9,0a2.95,4.1 0 1,0 -5.9,0m.75,0a2.95,4.1 0 1,0 5.9,0a2.95,4.1 0 1,0 -5.9,0m2.5,0a2.95,4.1 0 1,0 5.9,0a2.95,4.1 0 1,0 -5.9,0m.25,0a2.95,4.1 0 1,0 5.9,0a2.95,4.1 0 1,0 -5.9,0m.5,0a2.95,4.1 0 1,0 5.9,0a2.95,4.1 0 1,0 -5.9,0m1.5,0a2.95,4.1 0 1,0 5.9,0a2.95,4.1 0 1,0 -5.9,0m.5,0a2.95,4.1 0 1,0 5.9,0a2.95,4.1 0 1,0 -5.9,0m.25,0a2.95,4.1 0 1,0 5.9,0a2.95,4.1 0 1,0 -5.9,0m.25,0a2.95,4.1 0 1,0 5.9,0a2.95,4.1 0 1,0 -5.9,0m1.5,0a2.95,4.1 0 1,0 5.9,0a2.95,4.1 0 1,0 -5.9,0m1.75,0a2.95,4.1 0 1,0 5.9,0a2.95,4.1 0 1,0 -5.9,0m.5,0a2.95,4.1 0 1,0 5.9,0a2.95,4.1 0 1,0 -5.9,0m.5,0a2.95,4.1 0 1,0 5.9,0a2.95,4.1 0 1,0 -5.9,0m.75,0a2.95,4.1 0 1,0 5.9,0a2.95,4.1 0 1,0 -5.9,0m1,0a2.95,4.1 0 1,0 5.9,0a2.95,4.1 0 1,0 -5.9,0m.25,0a2.95,4.1 0 1,0 5.9,0a2.95,4.1 0 1,0 -5.9,0m.25,0a2.95,4.1 0 1,0 5.9,0a2.95,4.1 0 1,0 -5.9,0m.25,0a2.95,4.1 0 1,0 5.9,0a2.95,4.1 0 1,0 -5.9,0m.75,0a2.95,4.1 0 1,0 5.9,0a2.95,4.1 0 1,0 -5.9,0m2,0a2.95,4.1 0 1,0 5.9,0a2.95,4.1 0 1,0 -5.9,0m.25,0a2.95,4.1 0 1,0 5.9,0a2.95,4.1 0 1,0 -5.9,0m.25,0a2.95,4.1 0 1,0 5.9,0a2.95,4.1 0 1,0 -5.9,0m.5,0a2.95,4.1 0 1,0 5.9,0a2.95,4.1 0 1,0 -5.9,0m.5,0a2.95,4.1 0 1,0 5.9,0a2.95,4.1 0 1,0 -5.9,0m.25,0a2.95,4.1 0 1,0 5.9,0a2.95,4.1 0 1,0 -5.9,0m1,0a2.95,4.1 0 1,0 5.9,0a2.95,4.1 0 1,0 -5.9,0m.5,0a2.95,4.1 0 1,0 5.9,0a2.95,4.1 0 1,0 -5.9,0m1.5,0a2.95,4.1 0 1,0 5.9,0a2.95,4.1 0 1,0 -5.9,0m.25,0a2.95,4.1 0 1,0 5.9,0a2.95,4.1 0 1,0 -5.9,0m.5,0a2.95,4.1 0 1,0 5.9,0a2.95,4.1 0 1,0 -5.9,0m.25,0a2.95,4.1 0 1,0 5.9,0a2.95,4.1 0 1,0 -5.9,0m1,0a2.95,4.1 0 1,0 5.9,0a2.95,4.1 0 1,0 -5.9,0m1.25,0a2.95,4.1 0 1,0 5.9,0a2.95,4.1 0 1,0 -5.9,0m.5,0a2.95,4.1 0 1,0 5.9,0a2.95,4.1 0 1,0 -5.9,0m1,0a2.95,4.1 0 1,0 5.9,0a2.95,4.1 0 1,0 -5.9,0m1,0a2.95,4.1 0 1,0 5.9,0a2.95,4.1 0 1,0 -5.9,0m.75,0a2.95,4.1 0 1,0 5.9,0a2.95,4.1 0 1,0 -5.9,0m.5,0a2.95,4.1 0 1,0 5.9,0a2.95,4.1 0 1,0 -5.9,0m.5,0a2.95,4.1 0 1,0 5.9,0a2.95,4.1 0 1,0 -5.9,0m.25,0a2.95,4.1 0 1,0 5.9,0a2.95,4.1 0 1,0 -5.9,0m.75,0a2.95,4.1 0 1,0 5.9,0a2.95,4.1 0 1,0 -5.9,0m.25,0a2.95,4.1 0 1,0 5.9,0a2.95,4.1 0 1,0 -5.9,0" fill="none" stroke="#0000ff" stroke-width="2.2"/>
<path d="M355.8,97.8a2.95,4.1 0 1,0 5.9,0a2.95,4.1 0 1,0 -5.9,0m2.25,0a2.95,4.1 0 1,0 5.9,0a2.95,4.1 0 1,0 -5.9,0m3.25,0a2.95,4.1 0 1,0 5.9,0a2.95,4.1 0 1,0 -5.9,0m.25,0a2.95,4.1 0 1,0 5.9,0a2.95,4.1 0 1,0 -5.9,0m1.5,0a2.95,4.1 0 1,0 5.9,0a2.95,4.1 0 1,0 -5.9,0m.25,0a2.95,4.1 0 1,0 5.9,0a2.95,4.1 0 1,0 -5.9,0m3.25,0a2.95,4.1 0 1,0 5.9,0a2.95,4.1 0 1,0 -5.9,0m1.75,0a2.95,4.1 0 1,0 5.9,0a2.95,4.1 0 1,0 -5.9,0m1.25,0a2.95,4.1 0 1,0 5.9,0a2.95,4.1 0 1,0 -5.9,0m.25,0a2.95,4.1 0 1,0 5.9,0a2.95,4.1 0 1,0 -5.9,0m.75,0a2.95,4.1 0 1,0 5.9,0a2.95,4.1 0 1,0 -5.9,0m1.5,0a2.95,4.1 0 1,0 5.9,0a2.95,4.1 0 1,0 -5.9,0m2,0a2.95,4.1 0 1,0 5.9,0a2.95,4.1 0 1,0 -5.9,0m1.25,0a2.95,4.1 0 1,0 5.9,0a2.95,4.1 0 1,0 -5.9,0m3.5,0a2.95,4.1 0 1,0 5.9,0a2.95,4.1 0 1,0 -5.9,0m.5,0a2.95,4.1 0 1,0 5.9,0a2.95,4.1 0 1,0 -5.9,0m2.75,0a2.95,4.1 0 1,0 5.9,0a2.95,4.1 0 1,0 -5.9,0m.75,0a2.95,4.1 0 1,0 5.9,0a2.95,4.1 0 1,0 -5.9,0m1.5,0a2.95,4.1 0 1,0 5.9,0a2.95,4.1 0 1,0 -5.9,0m.75,0a2.95,4.1 0 1,0 5.9,0a2.95,4.1 0 1,0 -5.9,0m1,0a2.95,4.1 0 1,0 5.9,0a2.95,4.1 0 1,0 -5.9,0m.75,0a2.95,4.1 0 1,0 5.9,0a2.95,4.1 0 1,0 -5.9,0m2.25,0a2.95,4.1 0 1,0 5.9,0a2.95,4.1 0 1,0 -5.9,0m3,0a2.95,4.1 0 1,0 5.9,0a2.95,4.1 0 1,0 -5.9,0m.25,0a2.95,4.1 0 1,0 5.9,0a2.95,4.1 0 1,0 -5.9,0m2,0a2.95,4.1 0 1,0 5.9,0a2.95,4.1 0 1,0 -5.9,0m1.25,0a2.95,4.1 0 1,0 5.9,0a2.95,4.1 0 1,0 -5.9,0m.25,0a2.95,4.1 0 1,0 5.9,0a2.95,4.1 0 1,0 -5.9,0m2.25,0a2.95,4.1 0 1,0 5.9,0a2.95,4.1 0 1,0 -5.9,0m2,0a2.95,4.1 0 1,0 5.9,0a2.95,4.1 0 1,0 -5.9,0m1.25,0a2.95,4.1 0 1,0 5.9,0a2.95,4.1 0 1,0 -5.9,0m.25,0a2.95,4.1 0 1,0 5.9,0a2.95,4.1 0 1,0 -5.9,0m1.25,0a2.95,4.1 0 1,0 5.9,0a2.95,4.1 0 1,0 -5.9,0m2.5,0a2.95,4.1 0 1,0 5.9,0a2.95,4.1 0 1,0 -5.9,0m.75,0a2.95,4.1 0 1,0 5.9,0a2.95,4.1 0 1,0 -5.9,0m1.75,0a2.95,4.1 0 1,0 5.9,0a2.95,4.1 0 1,0 -5.9,0m.75,0a2.95,4.1 0 1,0 5.9,0a2.95,4.1 0 1,0 -5.9,0m1.25,0a2.95,4.1 0 1,0 5.9,0a2.95,4.1 0 1,0 -5.9,0m.75,0a2.95,4.1 0 1,0 5.9,0a2.95,4.1 0 1,0 -5.9,0m.25,0a2.95,4.1 0 1,0 5.9,0a2.95,4.1 0 1,0 -5.9,0m.5,0a2.95,4.1 0 1,0 5.9,0a2.95,4.1 0 1,0 -5.9,0m1.25,0a2.95,4.1 0 1,0 5.9,0a2.95,4.1 0 1,0 -5.9,0m.5,0a2.95,4.1 0 1,0 5.9,0a2.95,4.1 0 1,0 -5.9,0m.25,0a2.95,4.1 0 1,0 5.9,0a2.95,4.1 0 1,0 -5.9,0m1.25,0a2.95,4.1 0 1,0 5.9,0a2.95,4.1 0 1,0 -5.9,0m.75,0a2.95,4.1 0 1,0 5.9,0a2.95,4.1 0 1,0 -5.9,0m.75,0a2.95,4.1 0 1,0 5.9,0a2.95,4.1 0 1,0 -5.9,0m1,0a2.95,4.1 0 1,0 5.9,0a2.95,4.1 0 1,0 -5.9,0m.75,0a2.95,4.1 0 1,0 5.9,0a2.95,4.1 0 1,0 -5.9,0m.5,0a2.95,4.1 0 1,0 5.9,0a2.95,4.1 0 1,0 -5.9,0m1.75,0a2.95,4.1 0 1,0 5.9,0a2.95,4.1 0 1,0 -5.9,0m.75,0a2.95,4.1 0 1,0 5.9,0a2.95,4.1 0 1,0 -5.9,0m1,0a2.95,4.1 0 1,0 5.9,0a2.95,4.1 0 1,0 -5.9,0m2.5,0a2.95,4.1 0 1,0 5.9,0a2.95,4.1 0 1,0 -5.9,0m1.5,0a2.95,4.1 0 1,0 5.9,0a2.95,4.1 0 1,0 -5.9,0m2.25,0a2.95,4.1 0 1,0 5.9,0a2.95,4.1 0 1,0 -5.9,0m1,0a2.95,4.1 0 1,0 5.9,0a2.95,4.1 0 1,0 -5.9,0m2.5,0a2.95,4.1 0 1,0 5.9,0a2.95,4.1 0 1,0 -5.9,0m1,0a2.95,4.1 0 1,0 5.9,0a2.95,4.1 0 1,0 -5.9,0m2,0a2.95,4.1 0 1,0 5.9,0a2.95,4.1 0 1,0 -5.9,0m.75,0a2.95,4.1 0 1,0 5.9,0a2.95,4.1 0 1,0 -5.9,0m.5,0a2.95,4.1 0 1,0 5.9,0a2.95,4.1 0 1,0 -5.9,0m2.5,0a2.95,4.1 0 1,0 5.9,0a2.95,4.1 0 1,0 -5.9,0m.75,0a2.95,4.1 0 1,0 5.9,0a2.95,4.1 0 1,0 -5.9,0m.25,0a2.95,4.1 0 1,0 5.9,0a2.95,4.1 0 1,0 -5.9,0m3.75,0a2.95,4.1 0 1,0 5.9,0a2.95,4.1 0 1,0 -5.9,0m.25,0a2.95,4.1 0 1,0 5.9,0a2.95,4.1 0 1,0 -5.9,0m2.75,0a2.95,4.1 0 1,0 5.9,0a2.95,4.1 0 1,0 -5.9,0m.75,0a2.95,4.1 0 1,0 5.9,0a2.95,4.1 0 1,0 -5.9,0m.5,0a2.95,4.1 0 1,0 5.9,0a2.95,4.1 0 1,0 -5.9,0m.5,0a2.95,4.1 0 1,0 5.9,0a2.95,4.1 0 1,0 -5.9,0m2.75,0a2.95,4.1 0 1,0 5.9,0a2.95,4.1 0 1,0 -5.9,0m.25,0a2.95,4.1 0 1,0 5.9,0a2.95,4.1 0 1,0 -5.9,0m.75,0a2.95,4.1 0 1,0 5.9,0a2.95,4.1 0 1,0 -5.9,0m.25,0a2.95,4.1 0 1,0 5.9,0a2.95,4.1 0 1,0 -5.9,0m1.75,0a2.95,4.1 0 1,0 5.9,0a2.95,4.1 0 1,0 -5.9,0m.25,0a2.95,4.1 0 1,0 5.9,0a2.95,4.1 0 1,0 -5.9,0m3,0a2.95,4.1 0 1,0 5.9,0a2.95,4.1 0 1,0 -5.9,0m2.5,0a2.95,4.1 0 1,0 5.9,0a2.95,4.1 0 1,0 -5.9,0m3.25,0a2.95,4.1 0 1,0 5.9,0a2.95,4.1 0 1,0 -5.9,0m.25,0a2.95,4.1 0 1,0 5.9,0a2.95,4.1 0 1,0 -5.9,0m1.5,0a2.95,4.1 0 1,0 5.9,0a2.95,4.1 0 1,0 -5.9,0m.5,0a2.95,4.1 0 1,0 5.9,0a2.95,4.1 0 1,0 -5.9,0m.5,0a2.95,4.1 0 1,0 5.9,0a2.95,4.1 0 1,0 -5.9,0m.5,0a2.95,4.1 0 1,0 5.9,0a2.95,4.1 0 1,0 -5.9,0m.75,0a2.95,4.1 0 1,0 5.9,0a2.95,4.1 0 1,0 -5.9,0m1.25,0a2.95,4.1 0 1,0 5.9,0a2.95,4.1 0 1,0 -5.9,0m.75,0a2.95,4.1 0 1,0 5.9,0a2.95,4.1 0 1,0 -5.9,0m.75,0a2.95,4.1 0 1,0 5.9,0a2.95,4.1 0 1,0 -5.9,0m1.5,0a2.95,4.1 0 1,0 5.9,0a2.95,4.1 0 1,0 -5.9,0m.5,0a2.95,4.1 0 1,0 5.9,0a2.95,4.1 0 1,0 -5.9,0m3.75,0a2.95,4.1 0 1,0 5.9,0a2.95,4.1 0 1,0 -5.9,0m1,0a2.95,4.1 0 1,0 5.9,0a2.95,4.1 0 1,0 -5.9,0m.5,0a2.95,4.1 0 1,0 5.9,0a2.95,4.1 0 1,0 -5.9,0m.5,0a2.95,4.1 0 1,0 5.9,0a2.95,4.1 0 1,0 -5.9,0m1.5,0a2.95,4.1 0 1,0 5.9,0a2.95,4.1 0 1,0 -5.9,0m3,0a2.95,4.1 0 1,0 5.9,0a2.95,4.1 0 1,0 -5.9,0m.25,0a2.95,4.1 0 1,0 5.9,0a2.95,4.1 0 1,0 -5.9,0m.5,0a2.95,4.1 0 1,0 5.9,0a2.95,4.1 0 1,0 -5.9,0m.75,0a2.95,4.1 0 1,0 5.9,0a2.95,4.1 0 1,0 -5.9,0m.5,0a2.95,4.1 0 1,0 5.9,0a2.95,4.1 0 1,0 -5.9,0m1.25,0a2.95,4.1 0 1,0 5.9,0a2.95,4.1 0 1,0 -5.9,0m.5,0a2.95,4.1 0 1,0 5.9,0a2.95,4.1 0 1,0 -5.9,0m1.5,0a2.95,4.1 0 1,0 5.9,0a2.95,4.1 0 1,0 -5.9,0m2.5,0a2.95,4.1 0 1,0 5.9,0a2.95,4.1 0 1,0 -5.9,0m2,0a2.95,4.1 0 1,0 5.9,0a2.95,4.1 0 1,0 -5.9,0m1,0a2.95,4.1 0 1,0 5.9,0a2.95,4.1 0 1,0 -5.9,0m3.25,0a2.95,4.1 0 1,0 5.9,0a2.95,4.1 0 1,0 -5.9,0m.75,0a2.95,4.1 0 1,0 5.9,0a2.95,4.1 0 1,0 -5.9,0m1.25,0a2.95,4.1 0 1,0 5.9,0a2.95,4.1 0 1,0 -5.9,0m.25,0a2.95,4.1 0 1,0 5.9,0a2.95,4.1 0 1,0 -5.9,0m3,0a2.95,4.1 0 1,0 5.9,0a2.95,4.1 0 1,0 -5.9,0m3.5,0a2.95,4.1 0 1,0 5.9,0a2.95,4.1 0 1,0 -5.9,0m1,0a2.95,4.1 0 1,0 5.9,0a2.95,4.1 0 1,0 -5.9,0m.25,0a2.95,4.1 0 1,0 5.9,0a2.95,4.1 0 1,0 -5.9,0m1,0a2.95,4.1 0 1,0 5.9,0a2.95,4.1 0 1,0 -5.9,0m.75,0a2.95,4.1 0 1,0 5.9,0a2.95,4.1 0 1,0 -5.9,0m.5,0a2.95,4.1 0 1,0 5.9,0a2.95,4.1 0 1,0 -5.9,0m3.25,0a2.95,4.1 0 1,0 5.9,0a2.95,4.1 0 1,0 -5.9,0m1.75,0a2.95,4.1 0 1,0 5.9,0a2.95,4.1 0 1,0 -5.9,0m5.75,0a2.95,4.1 0 1,0 5.9,0a2.95,4.1 0 1,0 -5.9,0m1,0a2.95,4.1 0 1,0 5.9,0a2.95,4.1 0 1,0 -5.9,0m.5,0a2.95,4.1 0 1,0 5.9,0a2.95,4.1 0 1,0 -5.9,0m7.5,0a2.95,4.1 0 1,0 5.9,0a2.95,4.1 0 1,0 -5.9,0m2.25,0a2.95,4.1 0 1,0 5.9,0a2.95,4.1 0 1,0 -5.9,0m5.5,0a2.95,4.1 0 1,0 5.9,0a2.95,4.1 0 1,0 -5.9,0m.5,0a2.95,4.1 0 1,0 5.9,0a2.95,4.1 0 1,0 -5.9,0m.25,0a2.95,4.1 0 1,0 5.9,0a2.95,4.1 0 1,0 -5.9,0m.25,0a2.95,4.1 0 1,0 5.9,0a2.95,4.1 0 1,0 -5.9,0m.5,0a2.95,4.1 0 1,0 5.9,0a2.95,4.1 0 1,0 -5.9,0m.25,0a2.95,4.1 0 1,0 5.9,0a2.95,4.1 0 1,0 -5.9,0m1,0a2.95,4.1 0 1,0 5.9,0a2.95,4.1 0 1,0 -5.9,0m1,0a2.95,4.1 0 1,0 5.9,0a2.95,4.1 0 1,0 -5.9,0m3.5,0a2.95,4.1 0 1,0 5.9,0a2.95,4.1 0 1,0 -5.9,0m2.25,0a2.95,4.1 0 1,0 5.9,0a2.95,4.1 0 1,0 -5.9,0m1.75,0a2.95,4.1 0 1,0 5.9,0a2.95,4.1 0 1,0 -5.9,0m.75,0a2.95,4.1 0 1,0 5.9,0a2.95,4.1 0 1,0 -5.9,0m.75,0a2.95,4.1 0 1,0 5.9,0a2.95,4.1 0 1,0 -5.9,0m6.5,0a2.95,4.1 0 1,0 5.9,0a2.95,4.1 0 1,0 -5.9,0m.25,0a2.95,4.1 0 1,0 5.9,0a2.95,4.1 0 1,0 -5.9,0m1.25,0a2.95,4.1 0 1,0 5.9,0a2.95,4.1 0 1,0 -5.9,0m.5,0a2.95,4.1 0 1,0 5.9,0a2.95,4.1 0 1,0 -5.9,0m.25,0a2.95,4.1 0 1,0 5.9,0a2.95,4.1 0 1,0 -5.9,0m.5,0a2.95,4.1 0 1,0 5.9,0a2.95,4.1 0 1,0 -5.9,0m.25,0a2.95,4.1 0 1,0 5.9,0a2.95,4.1 0 1,0 -5.9,0m1.75,0a2.95,4.1 0 1,0 5.9,0a2.95,4.1 0 1,0 -5.9,0m.75,0a2.95,4.1 0 1,0 5.9,0a2.95,4.1 0 1,0 -5.9,0m.25,0a2.95,4.1 0 1,0 5.9,0a2.95,4.1 0 1,0 -5.9,0m1.5,0a2.95,4.1 0 1,0 5.9,0a2.95,4.1 0 1,0 -5.9,0m2.25,0a2.95,4.1 0 1,0 5.9,0a2.95,4.1 0 1,0 -5.9,0m1,0a2.95,4.1 0 1,0 5.9,0a2.95,4.1 0 1,0 -5.9,0m4,0a2.95,4.1 0 1,0 5.9,0a2.95,4.1 0 1,0 -5.9,0m1,0a2.95,4.1 0 1,0 5.9,0a2.95,4.1 0 1,0 -5.9,0m3.25,0a2.95,4.1 0 1,0 5.9,0a2.95,4.1 0 1,0 -5.9,0m1.25,0a2.95,4.1 0 1,0 5.9,0a2.95,4.1 0 1,0 -5.9,0m.5,0a2.95,4.1 0 1,0 5.9,0a2.95,4.1 0 1,0 -5.9,0m1.5,0a2.95,4.1 0 1,0 5.9,0a2.95,4.1 0 1,0 -5.9,0m.25,0a2.95,4.1 0 1,0 5.9,0a2.95,4.1 0 1,0 -5.9,0m.25,0a2.95,4.1 0 1,0 5.9,0a2.95,4.1 0 1,0 -5.9,0m5.75,0a2.95,4.1 0 1,0 5.9,0a2.95,4.1 0 1,0 -5.9,0m3,0a2.95,4.1 0 1,0 5.9,0a2.95,4.1 0 1,0 -5.9,0m.5,0a2.95,4.1 0 1,0 5.9,0a2.95,4.1 0 1,0 -5.9,0m1.5,0a2.95,4.1 0 1,0 5.9,0a2.95,4.1 0 1,0 -5.9,0m1.5,0a2.95,4.1 0 1,0 5.9,0a2.95,4.1 0 1,0 -5.9,0m1,0a2.95,4.1 0 1,0 5.9,0a2.95,4.1 0 1,0 -5.9,0m.25,0a2.95,4.1 0 1,0 5.9,0a2.95,4.1 0 1,0 -5.9,0m.5,0a2.95,4.1 0 1,0 5.9,0a2.95,4.1 0 1,0 -5.9,0m.25,0a2.95,4.1 0 1,0 5.9,0a2.95,4.1 0 1,0 -5.9,0m1,0a2.95,4.1 0 1,0 5.9,0a2.95,4.1 0 1,0 -5.9,0m.25,0a2.95,4.1 0 1,0 5.9,0a2.95,4.1 0 1,0 -5.9,0m1.5,0a2.95,4.1 0 1,0 5.9,0a2.95,4.1 0 1,0 -5.9,0m.25,0a2.95,4.1 0 1,0 5.9,0a2.95,4.1 0 1,0 -5.9,0m1,0a2.95,4.1 0 1,0 5.9,0a2.95,4.1 0 1,0 -5.9,0m3.25,0a2.95,4.1 0 1,0 5.9,0a2.95,4.1 0 1,0 -5.9,0m.5,0a2.95,4.1 0 1,0 5.9,0a2.95,4.1 0 1,0 -5.9,0m1,0a2.95,4.1 0 1,0 5.9,0a2.95,4.1 0 1,0 -5.9,0m2.75,0a2.95,4.1 0 1,0 5.9,0a2.95,4.1 0 1,0 -5.9,0m.25,0a2.95,4.1 0 1,0 5.9,0a2.95,4.1 0 1,0 -5.9,0m.75,0a2.95,4.1 0 1,0 5.9,0a2.95,4.1 0 1,0 -5.9,0m2.25,0a2.95,4.1 0 1,0 5.9,0a2.95,4.1 0 1,0 -5.9,0m1,0a2.95,4.1 0 1,0 5.9,0a2.95,4.1 0 1,0 -5.9,0m.25,0a2.95,4.1 0 1,0 5.9,0a2.95,4.1 0 1,0 -5.9,0m.75,0a2.95,4.1 0 1,0 5.9,0a2.95,4.1 0 1,0 -5.9,0m1,0a2.95,4.1 0 1,0 5.9,0a2.95,4.1 0 1,0 -5.9,0m1,0a2.95,4.1 0 1,0 5.9,0a2.95,4.1 0 1,0 -5.9,0m1,0a2.95,4.1 0 1,0 5.9,0a2.95,4.1 0 1,0 -5.9,0m.75,0a2.95,4.1 0 1,0 5.9,0a2.95,4.1 0 1,0 -5.9,0m1.75,0a2.95,4.1 0 1,0 5.9,0a2.95,4.1 0 1,0 -5.9,0m.25,0a2.95,4.1 0 1,0 5.9,0a2.95,4.1 0 1,0 -5.9,0m.25,0a2.95,4.1 0 1,0 5.9,0a2.95,4.1 0 1,0 -5.9,0m.5,0a2.95,4.1 0 1,0 5.9,0a2.95,4.1 0 1,0 -5.9,0m.75,0a2.95,4.1 0 1,0 5.9,0a2.95,4.1 0 1,0 -5.9,0m.5,0a2.95,4.1 0 1,0 5.9,0a2.95,4.1 0 1,0 -5.9,0m2.75,0a2.95,4.1 0 1,0 5.9,0a2.95,4.1 0 1,0 -5.9,0m1,0a2.95,4.1 0 1,0 5.9,0a2.95,4.1 0 1,0 -5.9,0m.25,0a2.95,4.1 0 1,0 5.9,0a2.95,4.1 0 1,0 -5.9,0m.25,0a2.95,4.1 0 1,0 5.9,0a2.95,4.1 0 1,0 -5.9,0m.25,0a2.95,4.1 0 1,0 5.9,0a2.95,4.1 0 1,0 -5.9,0m2.25,0a2.95,4.1 0 1,0 5.9,0a2.95,4.1 0 1,0 -5.9,0m.75,0a2.95,4.1 0 1,0 5.9,0a2.95,4.1 0 1,0 -5.9,0m.75,0a2.95,4.1 0 1,0 5.9,0a2.95,4.1 0 1,0 -5.9,0m1.5,0a2.95,4.1 0 1,0 5.9,0a2.95,4.1 0 1,0 -5.9,0m2.25,0a2.95,4.1 0 1,0 5.9,0a2.95,4.1 0 1,0 -5.9,0m1.5,0a2.95,4.1 0 1,0 5.9,0a2.95,4.1 0 1,0 -5.9,0m.5,0a2.95,4.1 0 1,0 5.9,0a2.95,4.1 0 1,0 -5.9,0m.5,0a2.95,4.1 0 1,0 5.9,0a2.95,4.1 0 1,0 -5.9,0m.5,0a2.95,4.1 0 1,0 5.9,0a2.95,4.1 0 1,0 -5.9,0m.5,0a2.95,4.1 0 1,0 5.9,0a2.95,4.1 0 1,0 -5.9,0m1,0a2.95,4.1 0 1,0 5.9,0a2.95,4.1 0 1,0 -5.9,0m1.25,0a2.95,4.1 0 1,0 5.9,0a2.95,4.1 0 1,0 -5.9,0m1.25,0a2.95,4.1 0 1,0 5.9,0a2.95,4.1 0 1,0 -5.9,0m.25,0a2.95,4.1 0 1,0 5.9,0a2.95,4.1 0 1,0 -5.9,0m5.75,0a2.95,4.1 0 1,0 5.9,0a2.95,4.1 0 1,0 -5.9,0" fill="none" stroke="#0000ff" stroke-width="2.2"/>
<path d="M355.55,19a2.95,4.1 0 1,0 5.9,0a2.95,4.1 0 1,0 -5.9,0m.5,0a2.95,4.1 0 1,0 5.9,0a2.95,4.1 0 1,0 -5.9,0m1.75,0a2.95,4.1 0 1,0 5.9,0a2.95,4.1 0 1,0 -5.9,0m3,0a2.95,4.1 0 1,0 5.9,0a2.95,4.1 0 1,0 -5.9,0m1.75,0a2.95,4.1 0 1,0 5.9,0a2.95,4.1 0 1,0 -5.9,0m2,0a2.95,4.1 0 1,0 5.9,0a2.95,4.1 0 1,0 -5.9,0m2.25,0a2.95,4.1 0 1,0 5.9,0a2.95,4.1 0 1,0 -5.9,0m.5,0a2.95,4.1 0 1,0 5.9,0a2.95,4.1 0 1,0 -5.9,0m.5,0a2.95,4.1 0 1,0 5.9,0a2.95,4.1 0 1,0 -5.9,0m3,0a2.95,4.1 0 1,0 5.9,0a2.95,4.1 0 1,0 -5.9,0m1,0a2.95,4.1 0 1,0 5.9,0a2.95,4.1 0 1,0 -5.9,0m.5,0a2.95,4.1 0 1,0 5.9,0a2.95,4.1 0 1,0 -5.9,0m.25,0a2.95,4.1 0 1,0 5.9,0a2.95,4.1 0 1,0 -5.9,0m2.25,0a2.95,4.1 0 1,0 5.9,0a2.95,4.1 0 1,0 -5.9,0m2.5,0a2.95,4.1 0 1,0 5.9,0a2.95,4.1 0 1,0 -5.9,0m1.75,0a2.95,4.1 0 1,0 5.9,0a2.95,4.1 0 1,0 -5.9,0m3.25,0a2.95,4.1 0 1,0 5.9,0a2.95,4.1 0 1,0 -5.9,0m1.5,0a2.95,4.1 0 1,0 5.9,0a2.95,4.1 0 1,0 -5.9,0m.75,0a2.95,4.1 0 1,0 5.9,0a2.95,4.1 0 1,0 -5.9,0m5.25,0a2.95,4.1 0 1,0 5.9,0a2.95,4.1 0 1,0 -5.9,0m1.75,0a2.95,4.1 0 1,0 5.9,0a2.95,4.1 0 1,0 -5.9,0m1,0a2.95,4.1 0 1,0 5.9,0a2.95,4.1 0 1,0 -5.9,0m4.25,0a2.95,4.1 0 1,0 5.9,0a2.95,4.1 0 1,0 -5.9,0m2.75,0a2.95,4.1 0 1,0 5.9,0a2.95,4.1 0 1,0 -5.9,0m.75,0a2.95,4.1 0 1,0 5.9,0a2.95,4.1 0 1,0 -5.9,0m.25,0a2.95,4.1 0 1,0 5.9,0a2.95,4.1 0 1,0 -5.9,0m2.5,0a2.95,4.1 0 1,0 5.9,0a2.95,4.1 0 1,0 -5.9,0m4,0a2.95,4.1 0 1,0 5.9,0a2.95,4.1 0 1,0 -5.9,0m.5,0a2.95,4.1 0 1,0 5.9,0a2.95,4.1 0 1,0 -5.9,0m2.5,0a2.95,4.1 0 1,0 5.9,0a2.95,4.1 0 1,0 -5.9,0m2,0a2.95,4.1 0 1,0 5.9,0a2.95,4.1 0 1,0 -5.9,0m1.5,0a2.95,4.1 0 1,0 5.9,0a2.95,4.1 0 1,0 -5.9,0m1.25,0a2.95,4.1 0 1,0 5.9,0a2.95,4.1 0 1,0 -5.9,0m1,0a2.95,4.1 0 1,0 5.9,0a2.95,4.1 0 1,0 -5.9,0m.75,0a2.95,4.1 0 1,0 5.9,0a2.95,4.1 0 1,0 -5.9,0m.25,0a2.95,4.1 0 1,0 5.9,0a2.95,4.1 0 1,0 -5.9,0m1.75,0a2.95,4.1 0 1,0 5.9,0a2.95,4.1 0 1,0 -5.9,0m1.25,0a2.95,4.1 0 1,0 5.9,0a2.95,4.1 0 1,0 -5.9,0m.25,0a2.95,4.1 0 1,0 5.9,0a2.95,4.1 0 1,0 -5.9,0m.25,0a2.95,4.1 0 1,0 5.9,0a2.95,4.1 0 1,0 -5.9,0m.25,0a2.95,4.1 0 1,0 5.9,0a2.95,4.1 0 1,0 -5.9,0m.25,0a2.95,4.1 0 1,0 5.9,0a2.95,4.1 0 1,0 -5.9,0m1.25,0a2.95,4.1 0 1,0 5.9,0a2.95,4.1 0 1,0 -5.9,0m5,0a2.95,4.1 0 1,0 5.9,0a2.95,4.1 0 1,0 -5.9,0m1.5,0a2.95,4.1 0 1,0 5.9,0a2.95,4.1 0 1,0 -5.9,0m1.5,0a2.95,4.1 0 1,0 5.9,0a2.95,4.1 0 1,0 -5.9,0m.25,0a2.95,4.1 0 1,0 5.9,0a2.95,4.1 0 1,0 -5.9,0m2,0a2.95,4.1 0 1,0 5.9,0a2.95,4.1 0 1,0 -5.9,0m1.75,0a2.95,4.1 0 1,0 5.9,0a2.95,4.1 0 1,0 -5.9,0m.5,0a2.95,4.1 0 1,0 5.9,0a2.95,4.1 0 1,0 -5.9,0m.25,0a2.95,4.1 0 1,0 5.9,0a2.95,4.1 0 1,0 -5.9,0m1,0a2.95,4.1 0 1,0 5.9,0a2.95,4.1 0 1,0 -5.9,0m1,0a2.95,4.1 0 1,0 5.9,0a2.95,4.1 0 1,0 -5.9,0m1,0a2.95,4.1 0 1,0 5.9,0a2.95,4.1 0 1,0 -5.9,0m.75,0a2.95,4.1 0 1,0 5.9,0a2.95,4.1 0 1,0 -5.9,0m.5,0a2.95,4.1 0 1,0 5.9,0a2.95,4.1 0 1,0 -5.9,0m3,0a2.95,4.1 0 1,0 5.9,0a2.95,4.1 0 1,0 -5.9,0m.25,0a2.95,4.1 0 1,0 5.9,0a2.95,4.1 0 1,0 -5.9,0m5.5,0a2.95,4.1 0 1,0 5.9,0a2.95,4.1 0 1,0 -5.9,0m1.5,0a2.95,4.1 0 1,0 5.9,0a2.95,4.1 0 1,0 -5.9,0m2.25,0a2.95,4.1 0 1,0 5.9,0a2.95,4.1 0 1,0 -5.9,0m2.25,0a2.95,4.1 0 1,0 5.9,0a2.95,4.1 0 1,0 -5.9,0m5.25,0a2.95,4.1 0 1,0 5.9,0a2.95,4.1 0 1,0 -5.9,0m.5,0a2.95,4.1 0 1,0 5.9,0a2.95,4.1 0 1,0 -5.9,0m2.5,0a2.95,4.1 0 1,0 5.9,0a2.95,4.1 0 1,0 -5.9,0m.5,0a2.95,4.1 0 1,0 5.9,0a2.95,4.1 0 1,0 -5.9,0m.5,0a2.95,4.1 0 1,0 5.9,0a2.95,4.1 0 1,0 -5.9,0m1.75,0a2.95,4.1 0 1,0 5.9,0a2.95,4.1 0 1,0 -5.9,0m.25,0a2.95,4.1 0 1,0 5.9,0a2.95,4.1 0 1,0 -5.9,0m.25,0a2.95,4.1 0 1,0 5.9,0a2.95,4.1 0 1,0 -5.9,0m1,0a2.95,4.1 0 1,0 5.9,0a2.95,4.1 0 1,0 -5.9,0m.5,0a2.95,4.1 0 1,0 5.9,0a2.95,4.1 0 1,0 -5.9,0m2.25,0a2.95,4.1 0 1,0 5.9,0a2.95,4.1 0 1,0 -5.9,0m.5,0a2.95,4.1 0 1,0 5.9,0a2.95,4.1 0 1,0 -5.9,0m1.5,0a2.95,4.1 0 1,0 5.9,0a2.95,4.1 0 1,0 -5.9,0m3.75,0a2.95,4.1 0 1,0 5.9,0a2.95,4.1 0 1,0 -5.9,0m1,0a2.95,4.1 0 1,0 5.9,0a2.95,4.1 0 1,0 -5.9,0m.25,0a2.95,4.1 0 1,0 5.9,0a2.95,4.1 0 1,0 -5.9,0m1.5,0a2.95,4.1 0 1,0 5.9,0a2.95,4.1 0 1,0 -5.9,0m.75,0a2.95,4.1 0 1,0 5.9,0a2.95,4.1 0 1,0 -5.9,0m1.75,0a2.95,4.1 0 1,0 5.9,0a2.95,4.1 0 1,0 -5.9,0m1.25,0a2.95,4.1 0 1,0 5.9,0a2.95,4.1 0 1,0 -5.9,0m2.5,0a2.95,4.1 0 1,0 5.9,0a2.95,4.1 0 1,0 -5.9,0m.5,0a2.95,4.1 0 1,0 5.9,0a2.95,4.1 0 1,0 -5.9,0m2.25,0a2.95,4.1 0 1,0 5.9,0a2.95,4.1 0 1,0 -5.9,0m1,0a2.95,4.1 0 1,0 5.9,0a2.95,4.1 0 1,0 -5.9,0m1,0a2.95,4.1 0 1,0 5.9,0a2.95,4.1 0 1,0 -5.9,0m1.5,0a2.95,4.1 0 1,0 5.9,0a2.95,4.1 0 1,0 -5.9,0m.25,0a2.95,4.1 0 1,0 5.9,0a2.95,4.1 0 1,0 -5.9,0m1.5,0a2.95,4.1 0 1,0 5.9,0a2.95,4.1 0 1,0 -5.9,0m.25,0a2.95,4.1 0 1,0 5.9,0a2.95,4.1 0 1,0 -5.9,0m.5,0a2.95,4.1 0 1,0 5.9,0a2.95,4.1 0 1,0 -5.9,0m.75,0a2.95,4.1 0 1,0 5.9,0a2.95,4.1 0 1,0 -5.9,0m.5,0a2.95,4.1 0 1,0 5.9,0a2.95,4.1 0 1,0 -5.9,0m.75,0a2.95,4.1 0 1,0 5.9,0a2.95,4.1 0 1,0 -5.9,0m1.75,0a2.95,4.1 0 1,0 5.9,0a2.95,4.1 0 1,0 -5.9,0m1,0a2.95,4.1 0 1,0 5.9,0a2.95,4.1 0 1,0 -5.9,0m.75,0a2.95,4.1 0 1,0 5.9,0a2.95,4.1 0 1,0 -5.9,0m.75,0a2.95,4.1 0 1,0 5.9,0a2.95,4.1 0 1,0 -5.9,0m.75,0a2.95,4.1 0 1,0 5.9,0a2.95,4.1 0 1,0 -5.9,0m.25,0a2.95,4.1 0 1,0 5.9,0a2.95,4.1 0 1,0 -5.9,0m.25,0a2.95,4.1 0 1,0 5.9,0a2.95,4.1 0 1,0 -5.9,0m.25,0a2.95,4.1 0 1,0 5.9,0a2.95,4.1 0 1,0 -5.9,0m.25,0a2.95,4.1 0 1,0 5.9,0a2.95,4.1 0 1,0 -5.9,0m.75,0a2.95,4.1 0 1,0 5.9,0a2.95,4.1 0 1,0 -5.9,0m.5,0a2.95,4.1 0 1,0 5.9,0a2.95,4.1 0 1,0 -5.9,0m.25,0a2.95,4.1 0 1,0 5.9,0a2.95,4.1 0 1,0 -5.9,0m1.25,0a2.95,4.1 0 1,0 5.9,0a2.95,4.1 0 1,0 -5.9,0m.25,0a2.95,4.1 0 1,0 5.9,0a2.95,4.1 0 1,0 -5.9,0m.5,0a2.95,4.1 0 1,0 5.9,0a2.95,4.1 0 1,0 -5.9,0m2,0a2.95,4.1 0 1,0 5.9,0a2.95,4.1 0 1,0 -5.9,0m.25,0a2.95,4.1 0 1,0 5.9,0a2.95,4.1 0 1,0 -5.9,0m2.25,0a2.95,4.1 0 1,0 5.9,0a2.95,4.1 0 1,0 -5.9,0m1,0a2.95,4.1 0 1,0 5.9,0a2.95,4.1 0 1,0 -5.9,0m2,0a2.95,4.1 0 1,0 5.9,0a2.95,4.1 0 1,0 -5.9,0m1.5,0a2.95,4.1 0 1,0 5.9,0a2.95,4.1 0 1,0 -5.9,0m.25,0a2.95,4.1 0 1,0 5.9,0a2.95,4.1 0 1,0 -5.9,0m1.25,0a2.95,4.1 0 1,0 5.9,0a2.95,4.1 0 1,0 -5.9,0m.25,0a2.95,4.1 0 1,0 5.9,0a2.95,4.1 0 1,0 -5.9,0m1.75,0a2.95,4.1 0 1,0 5.9,0a2.95,4.1 0 1,0 -5.9,0m.25,0a2.95,4.1 0 1,0 5.9,0a2.95,4.1 0 1,0 -5.9,0m.75,0a2.95,4.1 0 1,0 5.9,0a2.95,4.1 0 1,0 -5.9,0m.25,0a2.95,4.1 0 1,0 5.9,0a2.95,4.1 0 1,0 -5.9,0m.5,0a2.95,4.1 0 1,0 5.9,0a2.95,4.1 0 1,0 -5.9,0m.5,0a2.95,4.1 0 1,0 5.9,0a2.95,4.1 0 1,0 -5.9,0m1,0a2.95,4.1 0 1,0 5.9,0a2.95,4.1 0 1,0 -5.9,0m1.25,0a2.95,4.1 0 1,0 5.9,0a2.95,4.1 0 1,0 -5.9,0m1.25,0a2.95,4.1 0 1,0 5.9,0a2.95,4.1 0 1,0 -5.9,0m1.75,0a2.95,4.1 0 1,0 5.9,0a2.95,4.1 0 1,0 -5.9,0m1,0a2.95,4.1 0 1,0 5.9,0a2.95,4.1 0 1,0 -5.9,0m1.25,0a2.95,4.1 0 1,0 5.9,0a2.95,4.1 0 1,0 -5.9,0m.25,0a2.95,4.1 0 1,0 5.9,0a2.95,4.1 0 1,0 -5.9,0m.75,0a2.95,4.1 0 1,0 5.9,0a2.95,4.1 0 1,0 -5.9,0m.5,0a2.95,4.1 0 1,0 5.9,0a2.95,4.1 0 1,0 -5.9,0m.75,0a2.95,4.1 0 1,0 5.9,0a2.95,4.1 0 1,0 -5.9,0m1.75,0a2.95,4.1 0 1,0 5.9,0a2.95,4.1 0 1,0 -5.9,0m2.5,0a2.95,4.1 0 1,0 5.9,0a2.95,4.1 0 1,0 -5.9,0m.5,0a2.95,4.1 0 1,0 5.9,0a2.95,4.1 0 1,0 -5.9,0m1.5,0a2.95,4.1 0 1,0 5.9,0a2.95,4.1 0 1,0 -5.9,0m.75,0a2.95,4.1 0 1,0 5.9,0a2.95,4.1 0 1,0 -5.9,0m.75,0a2.95,4.1 0 1,0 5.9,0a2.95,4.1 0 1,0 -5.9,0m1,0a2.95,4.1 0 1,0 5.9,0a2.95,4.1 0 1,0 -5.9,0m.75,0a2.95,4.1 0 1,0 5.9,0a2.95,4.1 0 1,0 -5.9,0m1.75,0a2.95,4.1 0 1,0 5.9,0a2.95,4.1 0 1,0 -5.9,0m.75,0a2.95,4.1 0 1,0 5.9,0a2.95,4.1 0 1,0 -5.9,0m1,0a2.95,4.1 0 1,0 5.9,0a2.95,4.1 0 1,0 -5.9,0m1.25,0a2.95,4.1 0 1,0 5.9,0a2.95,4.1 0 1,0 -5.9,0m1.5,0a2.95,4.1 0 1,0 5.9,0a2.95,4.1 0 1,0 -5.9,0m1.25,0a2.95,4.1 0 1,0 5.9,0a2.95,4.1 0 1,0 -5.9,0m1.25,0a2.95,4.1 0 1,0 5.9,0a2.95,4.1 0 1,0 -5.9,0m1.5,0a2.95,4.1 0 1,0 5.9,0a2.95,4.1 0 1,0 -5.9,0m1.5,0a2.95,4.1 0 1,0 5.9,0a2.95,4.1 0 1,0 -5.9,0m1.25,0a2.95,4.1 0 1,0 5.9,0a2.95,4.1 0 1,0 -5.9,0m.5,0a2.95,4.1 0 1,0 5.9,0a2.95,4.1 0 1,0 -5.9,0m.25,0a2.95,4.1 0 1,0 5.9,0a2.95,4.1 0 1,0 -5.9,0m1,0a2.95,4.1 0 1,0 5.9,0a2.95,4.1 0 1,0 -5.9,0m1,0a2.95,4.1 0 1,0 5.9,0a2.95,4.1 0 1,0 -5.9,0m.75,0a2.95,4.1 0 1,0 5.9,0a2.95,4.1 0 1,0 -5.9,0m.5,0a2.95,4.1 0 1,0 5.9,0a2.95,4.1 0 1,0 -5.9,0m.25,0a2.95,4.1 0 1,0 5.9,0a2.95,4.1 0 1,0 -5.9,0m.5,0a2.95,4.1 0 1,0 5.9,0a2.95,4.1 0 1,0 -5.9,0m.25,0a2.95,4.1 0 1,0 5.9,0a2.95,4.1 0 1,0 -5.9,0m1.75,0a2.95,4.1 0 1,0 5.9,0a2.95,4.1 0 1,0 -5.9,0m1.5,0a2.95,4.1 0 1,0 5.9,0a2.95,4.1 0 1,0 -5.9,0m1,0a2.95,4.1 0 1,0 5.9,0a2.95,4.1 0 1,0 -5.9,0m.25,0a2.95,4.1 0 1,0 5.9,0a2.95,4.1 0 1,0 -5.9,0m2.5,0a2.95,4.1 0 1,0 5.9,0a2.95,4.1 0 1,0 -5.9,0m.75,0a2.95,4.1 0 1,0 5.9,0a2.95,4.1 0 1,0 -5.9,0m1,0a2.95,4.1 0 1,0 5.9,0a2.95,4.1 0 1,0 -5.9,0m1.25,0a2.95,4.1 0 1,0 5.9,0a2.95,4.1 0 1,0 -5.9,0m.75,0a2.95,4.1 0 1,0 5.9,0a2.95,4.1 0 1,0 -5.9,0m2.5,0a2.95,4.1 0 1,0 5.9,0a2.95,4.1 0 1,0 -5.9,0m1.5,0a2.95,4.1 0 1,0 5.9,0a2.95,4.1 0 1,0 -5.9,0m.75,0a2.95,4.1 0 1,0 5.9,0a2.95,4.1 0 1,0 -5.9,0m2.75,0a2.95,4.1 0 1,0 5.9,0a2.95,4.1 0 1,0 -5.9,0m1.5,0a2.95,4.1 0 1,0 5.9,0a2.95,4.1 0 1,0 -5.9,0m1.75,0a2.95,4.1 0 1,0 5.9,0a2.95,4.1 0 1,0 -5.9,0m1,0a2.95,4.1 0 1,0 5.9,0a2.95,4.1 0 1,0 -5.9,0m1,0a2.95,4.1 0 1,0 5.9,0a2.95,4.1 0 1,0 -5.9,0m1,0a2.95,4.1 0 1,0 5.9,0a2.95,4.1 0 1,0 -5.9,0m.75,0a2.95,4.1 0 1,0 5.9,0a2.95,4.1 0 1,0 -5.9,0m3,0a2.95,4.1 0 1,0 5.9,0a2.95,4.1 0 1,0 -5.9,0m1.25,0a2.95,4.1 0 1,0 5.9,0a2.95,4.1 0 1,0 -5.9,0m1.75,0a2.95,4.1 0 1,0 5.9,0a2.95,4.1 0 1,0 -5.9,0m1,0a2.95,4.1 0 1,0 5.9,0a2.95,4.1 0 1,0 -5.9,0m1.25,0a2.95,4.1 0 1,0 5.9,0a2.95,4.1 0 1,0 -5.9,0m.75,0a2.95,4.1 0 1,0 5.9,0a2.95,4.1 0 1,0 -5.9,0m1,0a2.95,4.1 0 1,0 5.9,0a2.95,4.1 0 1,0 -5.9,0m3.25,0a2.95,4.1 0 1,0 5.9,0a2.95,4.1 0 1,0 -5.9,0m1.75,0a2.95,4.1 0 1,0 5.9,0a2.95,4.1 0 1,0 -5.9,0m3.5,0a2.95,4.1 0 1,0 5.9,0a2.95,4.1 0 1,0 -5.9,0m.5,0a2.95,4.1 0 1,0 5.9,0a2.95,4.1 0 1,0 -5.9,0m4.5,0a2.95,4.1 0 1,0 5.9,0a2.95,4.1 0 1,0 -5.9,0m.5,0a2.95,4.1 0 1,0 5.9,0a2.95,4.1 0 1,0 -5.9,0m.25,0a2.95,4.1 0 1,0 5.9,0a2.95,4.1 0 1,0 -5.9,0m2.75,0a2.95,4.1 0 1,0 5.9,0a2.95,4.1 0 1,0 -5.9,0m4,0a2.95,4.1 0 1,0 5.9,0a2.95,4.1 0 1,0 -5.9,0m1,0a2.95,4.1 0 1,0 5.9,0a2.95,4.1 0 1,0 -5.9,0m2.5,0a2.95,4.1 0 1,0 5.9,0a2.95,4.1 0 1,0 -5.9,0m1,0a2.95,4.1 0 1,0 5.9,0a2.95,4.1 0 1,0 -5.9,0m1.25,0a2.95,4.1 0 1,0 5.9,0a2.95,4.1 0 1,0 -5.9,0m1,0a2.95,4.1 0 1,0 5.9,0a2.95,4.1 0 1,0 -5.9,0m2.75,0a2.95,4.1 0 1,0 5.9,0a2.95,4.1 0 1,0 -5.9,0m2.5,0a2.95,4.1 0 1,0 5.9,0a2.95,4.1 0 1,0 -5.9,0m.5,0a2.95,4.1 0 1,0 5.9,0a2.95,4.1 0 1,0 -5.9,0m3.5,0a2.95,4.1 0 1,0 5.9,0a2.95,4.1 0 1,0 -5.9,0m3.25,0a2.95,4.1 0 1,0 5.9,0a2.95,4.1 0 1,0 -5.9,0m1.25,0a2.95,4.1 0 1,0 5.9,0a2.95,4.1 0 1,0 -5.9,0m.25,0a2.95,4.1 0 1,0 5.9,0a2.95,4.1 0 1,0 -5.9,0m.75,0a2.95,4.1 0 1,0 5.9,0a2.95,4.1 0 1,0 -5.9,0m1.75,0a2.95,4.1 0 1,0 5.9,0a2.95,4.1 0 1,0 -5.9,0m1.5,0a2.95,4.1 0 1,0 5.9,0a2.95,4.1 0 1,0 -5.9,0m2.75,0a2.95,4.1 0 1,0 5.9,0a2.95,4.1 0 1,0 -5.9,0m.5,0a2.95,4.1 0 1,0 5.9,0a2.95,4.1 0 1,0 -5.9,0m.25,0a2.95,4.1 0 1,0 5.9,0a2.95,4.1 0 1,0 -5.9,0" fill="none" stroke="#0000ff" stroke-width="2.2"/>
<path d="M354.95,334.2h6.6m-3.3,-4.7v9.4m-2.3,-7.9l4.6,6.4m0,-6.4l-4.6,6.4m-.5,-3.2h6.6m-3.3,-4.7v9.4m-2.3,-7.9l4.6,6.4m0,-6.4l-4.6,6.4m-.25,-3.2h6.6m-3.3,-4.7v9.4m-2.3,-7.9l4.6,6.4m0,-6.4l-4.6,6.4m-.75,-3.2h6.6m-3.3,-4.7v9.4m-2.3,-7.9l4.6,6.4m0,-6.4l-4.6,6.4m-.75,-3.2h6.6m-3.3,-4.7v9.4m-2.3,-7.9l4.6,6.4m0,-6.4l-4.6,6.4m-.75,-3.2h6.6m-3.3,-4.7v9.4m-2.3,-7.9l4.6,6.4m0,-6.4l-4.6,6.4m-.75,-3.2h6.6m-3.3,-4.7v9.4m-2.3,-7.9l4.6,6.4m0,-6.4l-4.6,6.4m-.75,-3.2h6.6m-3.3,-4.7v9.4m-2.3,-7.9l4.6,6.4m0,-6.4l-4.6,6.4m-.75,-3.2h6.6m-3.3,-4.7v9.4m-2.3,-7.9l4.6,6.4m0,-6.4l-4.6,6.4m-.5,-3.2h6.6m-3.3,-4.7v9.4m-2.3,-7.9l4.6,6.4m0,-6.4l-4.6,6.4m-.75,-3.2h6.6m-3.3,-4.7v9.4m-2.3,-7.9l4.6,6.4m0,-6.4l-4.6,6.4m-.75,-3.2h6.6m-3.3,-4.7v9.4m-2.3,-7.9l4.6,6.4m0,-6.4l-4.6,6.4m-.75,-3.2h6.6m-3.3,-4.7v9.4m-2.3,-7.9l4.6,6.4m0,-6.4l-4.6,6.4m-.5,-3.2h6.6m-3.3,-4.7v9.4m-2.3,-7.9l4.6,6.4m0,-6.4l-4.6,6.4m-.75,-3.2h6.6m-3.3,-4.7v9.4m-2.3,-7.9l4.6,6.4m0,-6.4l-4.6,6.4m-.75,-3.2h6.6m-3.3,-4.7v9.4m-2.3,-7.9l4.6,6.4m0,-6.4l-4.6,6.4m0,-3.2h6.6m-3.3,-4.7v9.4m-2.3,-7.9l4.6,6.4m0,-6.4l-4.6,6.4m-.75,-3.2h6.6m-3.3,-4.7v9.4m-2.3,-7.9l4.6,6.4m0,-6.4l-4.6,6.4m-.75,-3.2h6.6m-3.3,-4.7v9.4m-2.3,-7.9l4.6,6.4m0,-6.4l-4.6,6.4m-.75,-3.2h6.6m-3.3,-4.7v9.4m-2.3,-7.9l4.6,6.4m0,-6.4l-4.6,6.4m-.75,-3.2h6.6m-3.3,-4.7v9.4m-2.3,-7.9l4.6,6.4m0,-6.4l-4.6,6.4m-.75,-3.2h6.6m-3.3,-4.7v9.4m-2.3,-7.9l4.6,6.4m0,-6.4l-4.6,6.4m-.25,-3.2h6.6m-3.3,-4.7v9.4m-2.3,-7.9l4.6,6.4m0,-6.4l-4.6,6.4m-.75,-3.2h6.6m-3.3,-4.7v9.4m-2.3,-7.9l4.6,6.4m0,-6.4l-4.6,6.4m-.75,-3.2h6.6m-3.3,-4.7v9.4m-2.3,-7.9l4.6,6.4m0,-6.4l-4.6,6.4m-.75,-3.2h6.6m-3.3,-4.7v9.4m-2.3,-7.9l4.6,6.4m0,-6.4l-4.6,6.4m-.75,-3.2h6.6m-3.3,-4.7v9.4m-2.3,-7.9l4.6,6.4m0,-6.4l-4.6,6.4m-.5,-3.2h6.6m-3.3,-4.7v9.4m-2.3,-7.9l4.6,6.4m0,-6.4l-4.6,6.4m-.75,-3.2h6.6m-3.3,-4.7v9.4m-2.3,-7.9l4.6,6.4m0,-6.4l-4.6,6.4m-.5,-3.2h6.6m-3.3,-4.7v9.4m-2.3,-7.9l4.6,6.4m0,-6.4l-4.6,6.4m-.5,-3.2h6.6m-3.3,-4.7v9.4m-2.3,-7.9l4.6,6.4m0,-6.4l-4.6,6.4m-.75,-3.2h6.6m-3.3,-4.7v9.4m-2.3,-7.9l4.6,6.4m0,-6.4l-4.6,6.4m-.75,-3.2h6.6m-3.3,-4.7v9.4m-2.3,-7.9l4.6,6.4m0,-6.4l-4.6,6.4m-.5,-3.2h6.6m-3.3,-4.7v9.4m-2.3,-7.9l4.6,6.4m0,-6.4l-4.6,6.4m-.75,-3.2h6.6m-3.3,-4.7v9.4m-2.3,-7.9l4.6,6.4m0,-6.4l-4.6,6.4m-.5,-3.2h6.6m-3.3,-4.7v9.4m-2.3,-7.9l4.6,6.4m0,-6.4l-4.6,6.4m-.75,-3.2h6.6m-3.3,-4.7v9.4m-2.3,-7.9l4.6,6.4m0,-6.4l-4.6,6.4m-.75,-3.2h6.6m-3.3,-4.7v9.4m-2.3,-7.9l4.6,6.4m0,-6.4l-4.6,6.4m-.5,-3.2h6.6m-3.3,-4.7v9.4m-2.3,-7.9l4.6,6.4m0,-6.4l-4.6,6.4m-.5,-3.2h6.6m-3.3,-4.7v9.4m-2.3,-7.9l4.6,6.4m0,-6.4l-4.6,6.4m-.75,-3.2h6.6m-3.3,-4.7v9.4m-2.3,-7.9l4.6,6.4m0,-6.4l-4.6,6.4m-.75,-3.2h6.6m-3.3,-4.7v9.4m-2.3,-7.9l4.6,6.4m0,-6.4l-4.6,6.4m-.5,-3.2h6.6m-3.3,-4.7v9.4m-2.3,-7.9l4.6,6.4m0,-6.4l-4.6,6.4m-.5,-3.2h6.6m-3.3,-4.7v9.4m-2.3,-7.9l4.6,6.4m0,-6.4l-4.6,6.4m-.75,-3.2h6.6m-3.3,-4.7v9.4m-2.3,-7.9l4.6,6.4m0,-6.4l-4.6,6.4m-.75,-3.2h6.6m-3.3,-4.7v9.4m-2.3,-7.9l4.6,6.4m0,-6.4l-4.6,6.4m-.25,-3.2h6.6m-3.3,-4.7v9.4m-2.3,-7.9l4.6,6.4m0,-6.4l-4.6,6.4m0,-3.2h6.6m-3.3,-4.7v9.4m-2.3,-7.9l4.6,6.4m0,-6.4l-4.6,6.4m-.75,-3.2h6.6m-3.3,-4.7v9.4m-2.3,-7.9l4.6,6.4m0,-6.4l-4.6,6.4m-.5,-3.2h6.6m-3.3,-4.7v9.4m-2.3,-7.9l4.6,6.4m0,-6.4l-4.6,6.4m-.75,-3.2h6.6m-3.3,-4.7v9.4m-2.3,-7.9l4.6,6.4m0,-6.4l-4.6,6.4m-.5,-3.2h6.6m-3.3,-4.7v9.4m-2.3,-7.9l4.6,6.4m0,-6.4l-4.6,6.4m-.75,-3.2h6.6m-3.3,-4.7v9.4m-2.3,-7.9l4.6,6.4m0,-6.4l-4.6,6.4m-.75,-3.2h6.6m-3.3,-4.7v9.4m-2.3,-7.9l4.6,6.4m0,-6.4l-4.6,6.4m-.75,-3.2h6.6m-3.3,-4.7v9.4m-2.3,-7.9l4.6,6.4m0,-6.4l-4.6,6.4m-.75,-3.2h6.6m-3.3,-4.7v9.4m-2.3,-7.9l4.6,6.4m0,-6.4l-4.6,6.4m-.5,-3.2h6.6m-3.3,-4.7v9.4m-2.3,-7.9l4.6,6.4m0,-6.4l-4.6,6.4m-.75,-3.2h6.6m-3.3,-4.7v9.4m-2.3,-7.9l4.6,6.4m0,-6.4l-4.6,6.4m-.25,-3.2h6.6m-3.3,-4.7v9.4m-2.3,-7.9l4.6,6.4m0,-6.4l-4.6,6.4m-.75,-3.2h6.6m-3.3,-4.7v9.4m-2.3,-7.9l4.6,6.4m0,-6.4l-4.6,6.4m-.75,-3.2h6.6m-3.3,-4.7v9.4m-2.3,-7.9l4.6,6.4m0,-6.4l-4.6,6.4m-.75,-3.2h6.6m-3.3,-4.7v9.4m-2.3,-7.9l4.6,6.4m0,-6.4l-4.6,6.4m-.75,-3.2h6.6m-3.3,-4.7v9.4m-2.3,-7.9l4.6,6.4m0,-6.4l-4.6,6.4m-.75,-3.2h6.6m-3.3,-4.7v9.4m-2.3,-7.9l4.6,6.4m0,-6.4l-4.6,6.4m-.75,-3.2h6.6m-3.3,-4.7v9.4m-2.3,-7.9l4.6,6.4m0,-6.4l-4.6,6.4m-.5,-3.2h6.6m-3.3,-4.7v9.4m-2.3,-7.9l4.6,6.4m0,-6.4l-4.6,6.4m-.5,-3.2h6.6m-3.3,-4.7v9.4m-2.3,-7.9l4.6,6.4m0,-6.4l-4.6,6.4m-.75,-3.2h6.6m-3.3,-4.7v9.4m-2.3,-7.9l4.6,6.4m0,-6.4l-4.6,6.4m-.75,-3.2h6.6m-3.3,-4.7v9.4m-2.3,-7.9l4.6,6.4m0,-6.4l-4.6,6.4m-.75,-3.2h6.6m-3.3,-4.7v9.4m-2.3,-7.9l4.6,6.4m0,-6.4l-4.6,6.4m-.75,-3.2h6.6m-3.3,-4.7v9.4m-2.3,-7.9l4.6,6.4m0,-6.4l-4.6,6.4m-.75,-3.2h6.6m-3.3,-4.7v9.4m-2.3,-7.9l4.6,6.4m0,-6.4l-4.6,6.4m-.75,-3.2h6.6m-3.3,-4.7v9.4m-2.3,-7.9l4.6,6.4m0,-6.4l-4.6,6.4m-.75,-3.2h6.6m-3.3,-4.7v9.4m-2.3,-7.9l4.6,6.4m0,-6.4l-4.6,6.4m-.75,-3.2h6.6m-3.3,-4.7v9.4m-2.3,-7.9l4.6,6.4m0,-6.4l-4.6,6.4m-.75,-3.2h6.6m-3.3,-4.7v9.4m-2.3,-7.9l4.6,6.4m0,-6.4l-4.6,6.4m-.25,-3.2h6.6m-3.3,-4.7v9.4m-2.3,-7.9l4.6,6.4m0,-6.4l-4.6,6.4m-.75,-3.2h6.6m-3.3,-4.7v9.4m-2.3,-7.9l4.6,6.4m0,-6.4l-4.6,6.4m-.5,-3.2h6.6m-3.3,-4.7v9.4m-2.3,-7.9l4.6,6.4m0,-6.4l-4.6,6.4m-.75,-3.2h6.6m-3.3,-4.7v9.4m-2.3,-7.9l4.6,6.4m0,-6.4l-4.6,6.4m-.5,-3.2h6.6m-3.3,-4.7v9.4m-2.3,-7.9l4.6,6.4m0,-6.4l-4.6,6.4m-.75,-3.2h6.6m-3.3,-4.7v9.4m-2.3,-7.9l4.6,6.4m0,-6.4l-4.6,6.4m-.75,-3.2h6.6m-3.3,-4.7v9.4m-2.3,-7.9l4.6,6.4m0,-6.4l-4.6,6.4m-.25,-3.2h6.6m-3.3,-4.7v9.4m-2.3,-7.9l4.6,6.4m0,-6.4l-4.6,6.4m-.75,-3.2h6.6m-3.3,-4.7v9.4m-2.3,-7.9l4.6,6.4m0,-6.4l-4.6,6.4m-.75,-3.2h6.6m-3.3,-4.7v9.4m-2.3,-7.9l4.6,6.4m0,-6.4l-4.6,6.4m-.75,-3.2h6.6m-3.3,-4.7v9.4m-2.3,-7.9l4.6,6.4m0,-6.4l-4.6,6.4m-.5,-3.2h6.6m-3.3,-4.7v9.4m-2.3,-7.9l4.6,6.4m0,-6.4l-4.6,6.4m-.75,-3.2h6.6m-3.3,-4.7v9.4m-2.3,-7.9l4.6,6.4m0,-6.4l-4.6,6.4m-.75,-3.2h6.6m-3.3,-4.7v9.4m-2.3,-7.9l4.6,6.4m0,-6.4l-4.6,6.4m-.75,-3.2h6.6m-3.3,-4.7v9.4m-2.3,-7.9l4.6,6.4m0,-6.4l-4.6,6.4m-.25,-3.2h6.6m-3.3,-4.7v9.4m-2.3,-7.9l4.6,6.4m0,-6.4l-4.6,6.4m-.5,-3.2h6.6m-3.3,-4.7v9.4m-2.3,-7.9l4.6,6.4m0,-6.4l-4.6,6.4m-.5,-3.2h6.6m-3.3,-4.7v9.4m-2.3,-7.9l4.6,6.4m0,-6.4l-4.6,6.4m-.75,-3.2h6.6m-3.3,-4.7v9.4m-2.3,-7.9l4.6,6.4m0,-6.4l-4.6,6.4m-.75,-3.2h6.6m-3.3,-4.7v9.4m-2.3,-7.9l4.6,6.4m0,-6.4l-4.6,6.4m-.5,-3.2h6.6m-3.3,-4.7v9.4m-2.3,-7.9l4.6,6.4m0,-6.4l-4.6,6.4m-.75,-3.2h6.6m-3.3,-4.7v9.4m-2.3,-7.9l4.6,6.4m0,-6.4l-4.6,6.4m-.75,-3.2h6.6m-3.3,-4.7v9.4m-2.3,-7.9l4.6,6.4m0,-6.4l-4.6,6.4m-.5,-3.2h6.6m-3.3,-4.7v9.4m-2.3,-7.9l4.6,6.4m0,-6.4l-4.6,6.4m-.75,-3.2h6.6m-3.3,-4.7v9.4m-2.3,-7.9l4.6,6.4m0,-6.4l-4.6,6.4m-.5,-3.2h6.6m-3.3,-4.7v9.4m-2.3,-7.9l4.6,6.4m0,-6.4l-4.6,6.4m0,-3.2h6.6m-3.3,-4.7v9.4m-2.3,-7.9l4.6,6.4m0,-6.4l-4.6,6.4m-.75,-3.2h6.6m-3.3,-4.7v9.4m-2.3,-7.9l4.6,6.4m0,-6.4l-4.6,6.4m-.75,-3.2h6.6m-3.3,-4.7v9.4m-2.3,-7.9l4.6,6.4m0,-6.4l-4.6,6.4m-.75,-3.2h6.6m-3.3,-4.7v9.4m-2.3,-7.9l4.6,6.4m0,-6.4l-4.6,6.4m-.75,-3.2h6.6m-3.3,-4.7v9.4m-2.3,-7.9l4.6,6.4m0,-6.4l-4.6,6.4m-.75,-3.2h6.6m-3.3,-4.7v9.4m-2.3,-7.9l4.6,6.4m0,-6.4l-4.6,6.4m-.75,-3.2h6.6m-3.3,-4.7v9.4m-2.3,-7.9l4.6,6.4m0,-6.4l-4.6,6.4m-.75,-3.2h6.6m-3.3,-4.7v9.4m-2.3,-7.9l4.6,6.4m0,-6.4l-4.6,6.4m-.75,-3.2h6.6m-3.3,-4.7v9.4m-2.3,-7.9l4.6,6.4m0,-6.4l-4.6,6.4m-.5,-3.2h6.6m-3.3,-4.7v9.4m-2.3,-7.9l4.6,6.4m0,-6.4l-4.6,6.4m-.75,-3.2h6.6m-3.3,-4.7v9.4m-2.3,-7.9l4.6,6.4m0,-6.4l-4.6,6.4m-.25,-3.2h6.6m-3.3,-4.7v9.4m-2.3,-7.9l4.6,6.4m0,-6.4l-4.6,6.4m-.75,-3.2h6.6m-3.3,-4.7v9.4m-2.3,-7.9l4.6,6.4m0,-6.4l-4.6,6.4m-.5,-3.2h6.6m-3.3,-4.7v9.4m-2.3,-7.9l4.6,6.4m0,-6.4l-4.6,6.4m-.75,-3.2h6.6m-3.3,-4.7v9.4m-2.3,-7.9l4.6,6.4m0,-6.4l-4.6,6.4m-.75,-3.2h6.6m-3.3,-4.7v9.4m-2.3,-7.9l4.6,6.4m0,-6.4l-4.6,6.4m-.75,-3.2h6.6m-3.3,-4.7v9.4m-2.3,-7.9l4.6,6.4m0,-6.4l-4.6,6.4m-.5,-3.2h6.6m-3.3,-4.7v9.4m-2.3,-7.9l4.6,6.4m0,-6.4l-4.6,6.4m-.75,-3.2h6.6m-3.3,-4.7v9.4m-2.3,-7.9l4.6,6.4m0,-6.4l-4.6,6.4m-.5,-3.2h6.6m-3.3,-4.7v9.4m-2.3,-7.9l4.6,6.4m0,-6.4l-4.6,6.4m-.75,-3.2h6.6m-3.3,-4.7v9.4m-2.3,-7.9l4.6,6.4m0,-6.4l-4.6,6.4m-.75,-3.2h6.6m-3.3,-4.7v9.4m-2.3,-7.9l4.6,6.4m0,-6.4l-4.6,6.4m-.75,-3.2h6.6m-3.3,-4.7v9.4m-2.3,-7.9l4.6,6.4m0,-6.4l-4.6,6.4m-.25,-3.2h6.6m-3.3,-4.7v9.4m-2.3,-7.9l4.6,6.4m0,-6.4l-4.6,6.4m0,-3.2h6.6m-3.3,-4.7v9.4m-2.3,-7.9l4.6,6.4m0,-6.4l-4.6,6.4m-.75,-3.2h6.6m-3.3,-4.7v9.4m-2.3,-7.9l4.6,6.4m0,-6.4l-4.6,6.4m-.75,-3.2h6.6m-3.3,-4.7v9.4m-2.3,-7.9l4.6,6.4m0,-6.4l-4.6,6.4m-.75,-3.2h6.6m-3.3,-4.7v9.4m-2.3,-7.9l4.6,6.4m0,-6.4l-4.6,6.4m-.75,-3.2h6.6m-3.3,-4.7v9.4m-2.3,-7.9l4.6,6.4m0,-6.4l-4.6,6.4m.25,-3.2h6.6m-3.3,-4.7v9.4m-2.3,-7.9l4.6,6.4m0,-6.4l-4.6,6.4m-.75,-3.2h6.6m-3.3,-4.7v9.4m-2.3,-7.9l4.6,6.4m0,-6.4l-4.6,6.4m-.25,-3.2h6.6m-3.3,-4.7v9.4m-2.3,-7.9l4.6,6.4m0,-6.4l-4.6,6.4m-.25,-3.2h6.6m-3.3,-4.7v9.4m-2.3,-7.9l4.6,6.4m0,-6.4l-4.6,6.4m-.75,-3.2h6.6m-3.3,-4.7v9.4m-2.3,-7.9l4.6,6.4m0,-6.4l-4.6,6.4m-.75,-3.2h6.6m-3.3,-4.7v9.4m-2.3,-7.9l4.6,6.4m0,-6.4l-4.6,6.4m-.75,-3.2h6.6m-3.3,-4.7v9.4m-2.3,-7.9l4.6,6.4m0,-6.4l-4.6,6.4m-.75,-3.2h6.6m-3.3,-4.7v9.4m-2.3,-7.9l4.6,6.4m0,-6.4l-4.6,6.4m-.75,-3.2h6.6m-3.3,-4.7v9.4m-2.3,-7.9l4.6,6.4m0,-6.4l-4.6,6.4m0,-3.2h6.6m-3.3,-4.7v9.4m-2.3,-7.9l4.6,6.4m0,-6.4l-4.6,6.4m-.5,-3.2h6.6m-3.3,-4.7v9.4m-2.3,-7.9l4.6,6.4m0,-6.4l-4.6,6.4m-.75,-3.2h6.6m-3.3,-4.7v9.4m-2.3,-7.9l4.6,6.4m0,-6.4l-4.6,6.4m-.75,-3.2h6.6m-3.3,-4.7v9.4m-2.3,-7.9l4.6,6.4m0,-6.4l-4.6,6.4m-.75,-3.2h6.6m-3.3,-4.7v9.4m-2.3,-7.9l4.6,6.4m0,-6.4l-4.6,6.4m-.25,-3.2h6.6m-3.3,-4.7v9.4m-2.3,-7.9l4.6,6.4m0,-6.4l-4.6,6.4m-.5,-3.2h6.6m-3.3,-4.7v9.4m-2.3,-7.9l4.6,6.4m0,-6.4l-4.6,6.4m-.75,-3.2h6.6m-3.3,-4.7v9.4m-2.3,-7.9l4.6,6.4m0,-6.4l-4.6,6.4m-.75,-3.2h6.6m-3.3,-4.7v9.4m-2.3,-7.9l4.6,6.4m0,-6.4l-4.6,6.4m-.75,-3.2h6.6m-3.3,-4.7v9.4m-2.3,-7.9l4.6,6.4m0,-6.4l-4.6,6.4m-.75,-3.2h6.6m-3.3,-4.7v9.4m-2.3,-7.9l4.6,6.4m0,-6.4l-4.6,6.4m-.75,-3.2h6.6m-3.3,-4.7v9.4m-2.3,-7.9l4.6,6.4m0,-6.4l-4.6,6.4m-.75,-3.2h6.6m-3.3,-4.7v9.4m-2.3,-7.9l4.6,6.4m0,-6.4l-4.6,6.4m-.75,-3.2h6.6m-3.3,-4.7v9.4m-2.3,-7.9l4.6,6.4m0,-6.4l-4.6,6.4m-.75,-3.2h6.6m-3.3,-4.7v9.4m-2.3,-7.9l4.6,6.4m0,-6.4l-4.6,6.4m-.75,-3.2h6.6m-3.3,-4.7v9.4m-2.3,-7.9l4.6,6.4m0,-6.4l-4.6,6.4m-.75,-3.2h6.6m-3.3,-4.7v9.4m-2.3,-7.9l4.6,6.4m0,-6.4l-4.6,6.4m-.75,-3.2h6.6m-3.3,-4.7v9.4m-2.3,-7.9l4.6,6.4m0,-6.4l-4.6,6.4m-.5,-3.2h6.6m-3.3,-4.7v9.4m-2.3,-7.9l4.6,6.4m0,-6.4l-4.6,6.4m-.75,-3.2h6.6m-3.3,-4.7v9.4m-2.3,-7.9l4.6,6.4m0,-6.4l-4.6,6.4m0,-3.2h6.6m-3.3,-4.7v9.4m-2.3,-7.9l4.6,6.4m0,-6.4l-4.6,6.4m-.75,-3.2h6.6m-3.3,-4.7v9.4m-2.3,-7.9l4.6,6.4m0,-6.4l-4.6,6.4m-.75,-3.2h6.6m-3.3,-4.7v9.4m-2.3,-7.9l4.6,6.4m0,-6.4l-4.6,6.4m-.75,-3.2h6.6m-3.3,-4.7v9.4m-2.3,-7.9l4.6,6.4m0,-6.4l-4.6,6.4m-.75,-3.2h6.6m-3.3,-4.7v9.4m-2.3,-7.9l4.6,6.4m0,-6.4l-4.6,6.4m-.75,-3.2h6.6m-3.3,-4.7v9.4m-2.3,-7.9l4.6,6.4m0,-6.4l-4.6,6.4m-.75,-3.2h6.6m-3.3,-4.7v9.4m-2.3,-7.9l4.6,6.4m0,-6.4l-4.6,6.4m-.75,-3.2h6.6m-3.3,-4.7v9.4m-2.3,-7.9l4.6,6.4m0,-6.4l-4.6,6.4m-.75,-3.2h6.6m-3.3,-4.7v9.4m-2.3,-7.9l4.6,6.4m0,-6.4l-4.6,6.4m-.5,-3.2h6.6m-3.3,-4.7v9.4m-2.3,-7.9l4.6,6.4m0,-6.4l-4.6,6.4m-.75,-3.2h6.6m-3.3,-4.7v9.4m-2.3,-7.9l4.6,6.4m0,-6.4l-4.6,6.4m-.75,-3.2h6.6m-3.3,-4.7v9.4m-2.3,-7.9l4.6,6.4m0,-6.4l-4.6,6.4m-.25,-3.2h6.6m-3.3,-4.7v9.4m-2.3,-7.9l4.6,6.4m0,-6.4l-4.6,6.4m-.75,-3.2h6.6m-3.3,-4.7v9.4m-2.3,-7.9l4.6,6.4m0,-6.4l-4.6,6.4m-.75,-3.2h6.6m-3.3,-4.7v9.4m-2.3,-7.9l4.6,6.4m0,-6.4l-4.6,6.4m-.75,-3.2h6.6m-3.3,-4.7v9.4m-2.3,-7.9l4.6,6.4m0,-6.4l-4.6,6.4m-.75,-3.2h6.6m-3.3,-4.7v9.4m-2.3,-7.9l4.6,6.4m0,-6.4l-4.6,6.4m-.75,-3.2h6.6m-3.3,-4.7v9.4m-2.3,-7.9l4.6,6.4m0,-6.4l-4.6,6.4m-.5,-3.2h6.6m-3.3,-4.7v9.4m-2.3,-7.9l4.6,6.4m0,-6.4l-4.6,6.4m-.75,-3.2h6.6m-3.3,-4.7v9.4m-2.3,-7.9l4.6,6.4m0,-6.4l-4.6,6.4m-.5,-3.2h6.6m-3.3,-4.7v9.4m-2.3,-7.9l4.6,6.4m0,-6.4l-4.6,6.4m-.75,-3.2h6.6m-3.3,-4.7v9.4m-2.3,-7.9l4.6,6.4m0,-6.4l-4.6,6.4m-.75,-3.2h6.6m-3.3,-4.7v9.4m-2.3,-7.9l4.6,6.4m0,-6.4l-4.6,6.4m-.75,-3.2h6.6m-3.3,-4.7v9.4m-2.3,-7.9l4.6,6.4m0,-6.4l-4.6,6.4m-.75,-3.2h6.6m-3.3,-4.7v9.4m-2.3,-7.9l4.6,6.4m0,-6.4l-4.6,6.4m-.5,-3.2h6.6m-3.3,-4.7v9.4m-2.3,-7.9l4.6,6.4m0,-6.4l-4.6,6.4m-.5,-3.2h6.6m-3.3,-4.7v9.4m-2.3,-7.9l4.6,6.4m0,-6.4l-4.6,6.4m-.75,-3.2h6.6m-3.3,-4.7v9.4m-2.3,-7.9l4.6,6.4m0,-6.4l-4.6,6.4m-.75,-3.2h6.6m-3.3,-4.7v9.4m-2.3,-7.9l4.6,6.4m0,-6.4l-4.6,6.4m-.75,-3.2h6.6m-3.3,-4.7v9.4m-2.3,-7.9l4.6,6.4m0,-6.4l-4.6,6.4m-.75,-3.2h6.6m-3.3,-4.7v9.4m-2.3,-7.9l4.6,6.4m0,-6.4l-4.6,6.4m-.5,-3.2h6.6m-3.3,-4.7v9.4m-2.3,-7.9l4.6,6.4m0,-6.4l-4.6,6.4m-.75,-3.2h6.6m-3.3,-4.7v9.4m-2.3,-7.9l4.6,6.4m0,-6.4l-4.6,6.4m-.75,-3.2h6.6m-3.3,-4.7v9.4m-2.3,-7.9l4.6,6.4m0,-6.4l-4.6,6.4m-.75,-3.2h6.6m-3.3,-4.7v9.4m-2.3,-7.9l4.6,6.4m0,-6.4l-4.6,6.4m-.75,-3.2h6.6m-3.3,-4.7v9.4m-2.3,-7.9l4.6,6.4m0,-6.4l-4.6,6.4m-.5,-3.2h6.6m-3.3,-4.7v9.4m-2.3,-7.9l4.6,6.4m0,-6.4l-4.6,6.4m-.5,-3.2h6.6m-3.3,-4.7v9.4m-2.3,-7.9l4.6,6.4m0,-6.4l-4.6,6.4m-.75,-3.2h6.6m-3.3,-4.7v9.4m-2.3,-7.9l4.6,6.4m0,-6.4l-4.6,6.4m-.75,-3.2h6.6m-3.3,-4.7v9.4m-2.3,-7.9l4.6,6.4m0,-6.4l-4.6,6.4m-.75,-3.2h6.6m-3.3,-4.7v9.4m-2.3,-7.9l4.6,6.4m0,-6.4l-4.6,6.4m-.25,-3.2h6.6m-3.3,-4.7v9.4m-2.3,-7.9l4.6,6.4m0,-6.4l-4.6,6.4m-.75,-3.2h6.6m-3.3,-4.7v9.4m-2.3,-7.9l4.6,6.4m0,-6.4l-4.6,6.4m-.75,-3.2h6.6m-3.3,-4.7v9.4m-2.3,-7.9l4.6,6.4m0,-6.4l-4.6,6.4m-.5,-3.2h6.6m-3.3,-4.7v9.4m-2.3,-7.9l4.6,6.4m0,-6.4l-4.6,6.4m-.75,-3.2h6.6m-3.3,-4.7v9.4m-2.3,-7.9l4.6,6.4m0,-6.4l-4.6,6.4m-.75,-3.2h6.6m-3.3,-4.7v9.4m-2.3,-7.9l4.6,6.4m0,-6.4l-4.6,6.4m-.75,-3.2h6.6m-3.3,-4.7v9.4m-2.3,-7.9l4.6,6.4m0,-6.4l-4.6,6.4m-.75,-3.2h6.6m-3.3,-4.7v9.4m-2.3,-7.9l4.6,6.4m0,-6.4l-4.6,6.4m-.25,-3.2h6.6m-3.3,-4.7v9.4m-2.3,-7.9l4.6,6.4m0,-6.4l-4.6,6.4m-.75,-3.2h6.6m-3.3,-4.7v9.4m-2.3,-7.9l4.6,6.4m0,-6.4l-4.6,6.4m-.75,-3.2h6.6m-3.3,-4.7v9.4m-2.3,-7.9l4.6,6.4m0,-6.4l-4.6,6.4m-.5,-3.2h6.6m-3.3,-4.7v9.4m-2.3,-7.9l4.6,6.4m0,-6.4l-4.6,6.4m-.75,-3.2h6.6m-3.3,-4.7v9.4m-2.3,-7.9l4.6,6.4m0,-6.4l-4.6,6.4m0,-3.2h6.6m-3.3,-4.7v9.4m-2.3,-7.9l4.6,6.4m0,-6.4l-4.6,6.4m-.5,-3.2h6.6m-3.3,-4.7v9.4m-2.3,-7.9l4.6,6.4m0,-6.4l-4.6,6.4m-.75,-3.2h6.6m-3.3,-4.7v9.4m-2.3,-7.9l4.6,6.4m0,-6.4l-4.6,6.4m-.5,-3.2h6.6m-3.3,-4.7v9.4m-2.3,-7.9l4.6,6.4m0,-6.4l-4.6,6.4m-.5,-3.2h6.6m-3.3,-4.7v9.4m-2.3,-7.9l4.6,6.4m0,-6.4l-4.6,6.4m-.75,-3.2h6.6m-3.3,-4.7v9.4m-2.3,-7.9l4.6,6.4m0,-6.4l-4.6,6.4m-.5,-3.2h6.6m-3.3,-4.7v9.4m-2.3,-7.9l4.6,6.4m0,-6.4l-4.6,6.4m-.5,-3.2h6.6m-3.3,-4.7v9.4m-2.3,-7.9l4.6,6.4m0,-6.4l-4.6,6.4m-.75,-3.2h6.6m-3.3,-4.7v9.4m-2.3,-7.9l4.6,6.4m0,-6.4l-4.6,6.4m-.75,-3.2h6.6m-3.3,-4.7v9.4m-2.3,-7.9l4.6,6.4m0,-6.4l-4.6,6.4m-.25,-3.2h6.6m-3.3,-4.7v9.4m-2.3,-7.9l4.6,6.4m0,-6.4l-4.6,6.4m-.75,-3.2h6.6m-3.3,-4.7v9.4m-2.3,-7.9l4.6,6.4m0,-6.4l-4.6,6.4m-.5,-3.2h6.6m-3.3,-4.7v9.4m-2.3,-7.9l4.6,6.4m0,-6.4l-4.6,6.4m-.75,-3.2h6.6m-3.3,-4.7v9.4m-2.3,-7.9l4.6,6.4m0,-6.4l-4.6,6.4m-.75,-3.2h6.6m-3.3,-4.7v9.4m-2.3,-7.9l4.6,6.4m0,-6.4l-4.6,6.4m-.75,-3.2h6.6m-3.3,-4.7v9.4m-2.3,-7.9l4.6,6.4m0,-6.4l-4.6,6.4m-.5,-3.2h6.6m-3.3,-4.7v9.4m-2.3,-7.9l4.6,6.4m0,-6.4l-4.6,6.4m-.75,-3.2h6.6m-3.3,-4.7v9.4m-2.3,-7.9l4.6,6.4m0,-6.4l-4.6,6.4m-.5,-3.2h6.6m-3.3,-4.7v9.4m-2.3,-7.9l4.6,6.4m0,-6.4l-4.6,6.4m-.75,-3.2h6.6m-3.3,-4.7v9.4m-2.3,-7.9l4.6,6.4m0,-6.4l-4.6,6.4m-.75,-3.2h6.6m-3.3,-4.7v9.4m-2.3,-7.9l4.6,6.4m0,-6.4l-4.6,6.4m-.5,-3.2h6.6m-3.3,-4.7v9.4m-2.3,-7.9l4.6,6.4m0,-6.4l-4.6,6.4m-.5,-3.2h6.6m-3.3,-4.7v9.4m-2.3,-7.9l4.6,6.4m0,-6.4l-4.6,6.4m-.75,-3.2h6.6m-3.3,-4.7v9.4m-2.3,-7.9l4.6,6.4m0,-6.4l-4.6,6.4m-.75,-3.2h6.6m-3.3,-4.7v9.4m-2.3,-7.9l4.6,6.4m0,-6.4l-4.6,6.4m-.75,-3.2h6.6m-3.3,-4.7v9.4m-2.3,-7.9l4.6,6.4m0,-6.4l-4.6,6.4m-.75,-3.2h6.6m-3.3,-4.7v9.4m-2.3,-7.9l4.6,6.4m0,-6.4l-4.6,6.4m-.75,-3.2h6.6m-3.3,-4.7v9.4m-2.3,-7.9l4.6,6.4m0,-6.4l-4.6,6.4m-.5,-3.2h6.6m-3.3,-4.7v9.4m-2.3,-7.9l4.6,6.4m0,-6.4l-4.6,6.4m-.75,-3.2h6.6m-3.3,-4.7v9.4m-2.3,-7.9l4.6,6.4m0,-6.4l-4.6,6.4m-.75,-3.2h6.6m-3.3,-4.7v9.4m-2.3,-7.9l4.6,6.4m0,-6.4l-4.6,6.4m-.25,-3.2h6.6m-3.3,-4.7v9.4m-2.3,-7.9l4.6,6.4m0,-6.4l-4.6,6.4m-.75,-3.2h6.6m-3.3,-4.7v9.4m-2.3,-7.9l4.6,6.4m0,-6.4l-4.6,6.4m-.75,-3.2h6.6m-3.3,-4.7v9.4m-2.3,-7.9l4.6,6.4m0,-6.4l-4.6,6.4m-.75,-3.2h6.6m-3.3,-4.7v9.4m-2.3,-7.9l4.6,6.4m0,-6.4l-4.6,6.4m-.75,-3.2h6.6m-3.3,-4.7v9.4m-2.3,-7.9l4.6,6.4m0,-6.4l-4.6,6.4m-.75,-3.2h6.6m-3.3,-4.7v9.4m-2.3,-7.9l4.6,6.4m0,-6.4l-4.6,6.4m-.5,-3.2h6.6m-3.3,-4.7v9.4m-2.3,-7.9l4.6,6.4m0,-6.4l-4.6,6.4m-.75,-3.2h6.6m-3.3,-4.7v9.4m-2.3,-7.9l4.6,6.4m0,-6.4l-4.6,6.4m-.75,-3.2h6.6m-3.3,-4.7v9.4m-2.3,-7.9l4.6,6.4m0,-6.4l-4.6,6.4m-.75,-3.2h6.6m-3.3,-4.7v9.4m-2.3,-7.9l4.6,6.4m0,-6.4l-4.6,6.4m-.5,-3.2h6.6m-3.3,-4.7v9.4m-2.3,-7.9l4.6,6.4m0,-6.4l-4.6,6.4m-.5,-3.2h6.6m-3.3,-4.7v9.4m-2.3,-7.9l4.6,6.4m0,-6.4l-4.6,6.4m-.5,-3.2h6.6m-3.3,-4.7v9.4m-2.3,-7.9l4.6,6.4m0,-6.4l-4.6,6.4m-.75,-3.2h6.6m-3.3,-4.7v9.4m-2.3,-7.9l4.6,6.4m0,-6.4l-4.6,6.4m-.75,-3.2h6.6m-3.3,-4.7v9.4m-2.3,-7.9l4.6,6.4m0,-6.4l-4.6,6.4m-.75,-3.2h6.6m-3.3,-4.7v9.4m-2.3,-7.9l4.6,6.4m0,-6.4l-4.6,6.4m-.5,-3.2h6.6m-3.3,-4.7v9.4m-2.3,-7.9l4.6,6.4m0,-6.4l-4.6,6.4m-.75,-3.2h6.6m-3.3,-4.7v9.4m-2.3,-7.9l4.6,6.4m0,-6.4l-4.6,6.4m-.5,-3.2h6.6m-3.3,-4.7v9.4m-2.3,-7.9l4.6,6.4m0,-6.4l-4.6,6.4m-.5,-3.2h6.6m-3.3,-4.7v9.4m-2.3,-7.9l4.6,6.4m0,-6.4l-4.6,6.4m-.75,-3.2h6.6m-3.3,-4.7v9.4m-2.3,-7.9l4.6,6.4m0,-6.4l-4.6,6.4m-.75,-3.2h6.6m-3.3,-4.7v9.4m-2.3,-7.9l4.6,6.4m0,-6.4l-4.6,6.4m-.5,-3.2h6.6m-3.3,-4.7v9.4m-2.3,-7.9l4.6,6.4m0,-6.4l-4.6,6.4m-.75,-3.2h6.6m-3.3,-4.7v9.4m-2.3,-7.9l4.6,6.4m0,-6.4l-4.6,6.4m-.75,-3.2h6.6m-3.3,-4.7v9.4m-2.3,-7.9l4.6,6.4m0,-6.4l-4.6,6.4m-.75,-3.2h6.6m-3.3,-4.7v9.4m-2.3,-7.9l4.6,6.4m0,-6.4l-4.6,6.4m-.75,-3.2h6.6m-3.3,-4.7v9.4m-2.3,-7.9l4.6,6.4m0,-6.4l-4.6,6.4m-.5,-3.2h6.6m-3.3,-4.7v9.4m-2.3,-7.9l4.6,6.4m0,-6.4l-4.6,6.4m-.5,-3.2h6.6m-3.3,-4.7v9.4m-2.3,-7.9l4.6,6.4m0,-6.4l-4.6,6.4m-.75,-3.2h6.6m-3.3,-4.7v9.4m-2.3,-7.9l4.6,6.4m0,-6.4l-4.6,6.4m-.75,-3.2h6.6m-3.3,-4.7v9.4m-2.3,-7.9l4.6,6.4m0,-6.4l-4.6,6.4m-.75,-3.2h6.6m-3.3,-4.7v9.4m-2.3,-7.9l4.6,6.4m0,-6.4l-4.6,6.4m-.75,-3.2h6.6m-3.3,-4.7v9.4m-2.3,-7.9l4.6,6.4m0,-6.4l-4.6,6.4m-.5,-3.2h6.6m-3.3,-4.7v9.4m-2.3,-7.9l4.6,6.4m0,-6.4l-4.6,6.4m-.75,-3.2h6.6m-3.3,-4.7v9.4m-2.3,-7.9l4.6,6.4m0,-6.4l-4.6,6.4m-.75,-3.2h6.6m-3.3,-4.7v9.4m-2.3,-7.9l4.6,6.4m0,-6.4l-4.6,6.4m-.75,-3.2h6.6m-3.3,-4.7v9.4m-2.3,-7.9l4.6,6.4m0,-6.4l-4.6,6.4m-.75,-3.2h6.6m-3.3,-4.7v9.4m-2.3,-7.9l4.6,6.4m0,-6.4l-4.6,6.4m-.75,-3.2h6.6m-3.3,-4.7v9.4m-2.3,-7.9l4.6,6.4m0,-6.4l-4.6,6.4m-.75,-3.2h6.6m-3.3,-4.7v9.4m-2.3,-7.9l4.6,6.4m0,-6.4l-4.6,6.4m-.75,-3.2h6.6m-3.3,-4.7v9.4m-2.3,-7.9l4.6,6.4m0,-6.4l-4.6,6.4m-.75,-3.2h6.6m-3.3,-4.7v9.4m-2.3,-7.9l4.6,6.4m0,-6.4l-4.6,6.4m-.75,-3.2h6.6m-3.3,-4.7v9.4m-2.3,-7.9l4.6,6.4m0,-6.4l-4.6,6.4m-.75,-3.2h6.6m-3.3,-4.7v9.4m-2.3,-7.9l4.6,6.4m0,-6.4l-4.6,6.4m-.75,-3.2h6.6m-3.3,-4.7v9.4m-2.3,-7.9l4.6,6.4m0,-6.4l-4.6,6.4m-.75,-3.2h6.6m-3.3,-4.7v9.4m-2.3,-7.9l4.6,6.4m0,-6.4l-4.6,6.4m-.75,-3.2h6.6m-3.3,-4.7v9.4m-2.3,-7.9l4.6,6.4m0,-6.4l-4.6,6.4m-.75,-3.2h6.6m-3.3,-4.7v9.4m-2.3,-7.9l4.6,6.4m0,-6.4l-4.6,6.4m0,-3.2h6.6m-3.3,-4.7v9.4m-2.3,-7.9l4.6,6.4m0,-6.4l-4.6,6.4m-.5,-3.2h6.6m-3.3,-4.7v9.4m-2.3,-7.9l4.6,6.4m0,-6.4l-4.6,6.4m-.5,-3.2h6.6m-3.3,-4.7v9.4m-2.3,-7.9l4.6,6.4m0,-6.4l-4.6,6.4m-.75,-3.2h6.6m-3.3,-4.7v9.4m-2.3,-7.9l4.6,6.4m0,-6.4l-4.6,6.4m-.75,-3.2h6.6m-3.3,-4.7v9.4m-2.3,-7.9l4.6,6.4m0,-6.4l-4.6,6.4m-.5,-3.2h6.6m-3.3,-4.7v9.4m-2.3,-7.9l4.6,6.4m0,-6.4l-4.6,6.4m-.75,-3.2h6.6m-3.3,-4.7v9.4m-2.3,-7.9l4.6,6.4m0,-6.4l-4.6,6.4m-.5,-3.2h6.6m-3.3,-4.7v9.4m-2.3,-7.9l4.6,6.4m0,-6.4l-4.6,6.4m-.75,-3.2h6.6m-3.3,-4.7v9.4m-2.3,-7.9l4.6,6.4m0,-6.4l-4.6,6.4m-.75,-3.2h6.6m-3.3,-4.7v9.4m-2.3,-7.9l4.6,6.4m0,-6.4l-4.6,6.4m-.75,-3.2h6.6m-3.3,-4.7v9.4m-2.3,-7.9l4.6,6.4m0,-6.4l-4.6,6.4m-.75,-3.2h6.6m-3.3,-4.7v9.4m-2.3,-7.9l4.6,6.4m0,-6.4l-4.6,6.4m-.25,-3.2h6.6m-3.3,-4.7v9.4m-2.3,-7.9l4.6,6.4m0,-6.4l-4.6,6.4m-.75,-3.2h6.6m-3.3,-4.7v9.4m-2.3,-7.9l4.6,6.4m0,-6.4l-4.6,6.4m-.25,-3.2h6.6m-3.3,-4.7v9.4m-2.3,-7.9l4.6,6.4m0,-6.4l-4.6,6.4m-.5,-3.2h6.6m-3.3,-4.7v9.4m-2.3,-7.9l4.6,6.4m0,-6.4l-4.6,6.4m-.5,-3.2h6.6m-3.3,-4.7v9.4m-2.3,-7.9l4.6,6.4m0,-6.4l-4.6,6.4m-.75,-3.2h6.6m-3.3,-4.7v9.4m-2.3,-7.9l4.6,6.4m0,-6.4l-4.6,6.4m-.75,-3.2h6.6m-3.3,-4.7v9.4m-2.3,-7.9l4.6,6.4m0,-6.4l-4.6,6.4m-.75,-3.2h6.6m-3.3,-4.7v9.4m-2.3,-7.9l4.6,6.4m0,-6.4l-4.6,6.4m-.75,-3.2h6.6m-3.3,-4.7v9.4m-2.3,-7.9l4.6,6.4m0,-6.4l-4.6,6.4m-.75,-3.2h6.6m-3.3,-4.7v9.4m-2.3,-7.9l4.6,6.4m0,-6.4l-4.6,6.4m-.25,-3.2h6.6m-3.3,-4.7v9.4m-2.3,-7.9l4.6,6.4m0,-6.4l-4.6,6.4m-.75,-3.2h6.6m-3.3,-4.7v9.4m-2.3,-7.9l4.6,6.4m0,-6.4l-4.6,6.4m-.75,-3.2h6.6m-3.3,-4.7v9.4m-2.3,-7.9l4.6,6.4m0,-6.4l-4.6,6.4m-.5,-3.2h6.6m-3.3,-4.7v9.4m-2.3,-7.9l4.6,6.4m0,-6.4l-4.6,6.4m-.75,-3.2h6.6m-3.3,-4.7v9.4m-2.3,-7.9l4.6,6.4m0,-6.4l-4.6,6.4m-.75,-3.2h6.6m-3.3,-4.7v9.4m-2.3,-7.9l4.6,6.4m0,-6.4l-4.6,6.4m-.75,-3.2h6.6m-3.3,-4.7v9.4m-2.3,-7.9l4.6,6.4m0,-6.4l-4.6,6.4m-.5,-3.2h6.6m-3.3,-4.7v9.4m-2.3,-7.9l4.6,6.4m0,-6.4l-4.6,6.4m-.75,-3.2h6.6m-3.3,-4.7v9.4m-2.3,-7.9l4.6,6.4m0,-6.4l-4.6,6.4m0,-3.2h6.6m-3.3,-4.7v9.4m-2.3,-7.9l4.6,6.4m0,-6.4l-4.6,6.4m-.25,-3.2h6.6m-3.3,-4.7v9.4m-2.3,-7.9l4.6,6.4m0,-6.4l-4.6,6.4m-.75,-3.2h6.6m-3.3,-4.7v9.4m-2.3,-7.9l4.6,6.4m0,-6.4l-4.6,6.4m-.5,-3.2h6.6m-3.3,-4.7v9.4m-2.3,-7.9l4.6,6.4m0,-6.4l-4.6,6.4m-.75,-3.2h6.6m-3.3,-4.7v9.4m-2.3,-7.9l4.6,6.4m0,-6.4l-4.6,6.4m-.5,-3.2h6.6m-3.3,-4.7v9.4m-2.3,-7.9l4.6,6.4m0,-6.4l-4.6,6.4m-.5,-3.2h6.6m-3.3,-4.7v9.4m-2.3,-7.9l4.6,6.4m0,-6.4l-4.6,6.4m-.5,-3.2h6.6m-3.3,-4.7v9.4m-2.3,-7.9l4.6,6.4m0,-6.4l-4.6,6.4m-.75,-3.2h6.6m-3.3,-4.7v9.4m-2.3,-7.9l4.6,6.4m0,-6.4l-4.6,6.4m-.25,-3.2h6.6m-3.3,-4.7v9.4m-2.3,-7.9l4.6,6.4m0,-6.4l-4.6,6.4m-.75,-3.2h6.6m-3.3,-4.7v9.4m-2.3,-7.9l4.6,6.4m0,-6.4l-4.6,6.4m-.25,-3.2h6.6m-3.3,-4.7v9.4m-2.3,-7.9l4.6,6.4m0,-6.4l-4.6,6.4m-.75,-3.2h6.6m-3.3,-4.7v9.4m-2.3,-7.9l4.6,6.4m0,-6.4l-4.6,6.4m-.75,-3.2h6.6m-3.3,-4.7v9.4m-2.3,-7.9l4.6,6.4m0,-6.4l-4.6,6.4m-.75,-3.2h6.6m-3.3,-4.7v9.4m-2.3,-7.9l4.6,6.4m0,-6.4l-4.6,6.4m-.5,-3.2h6.6m-3.3,-4.7v9.4m-2.3,-7.9l4.6,6.4m0,-6.4l-4.6,6.4m-.75,-3.2h6.6m-3.3,-4.7v9.4m-2.3,-7.9l4.6,6.4m0,-6.4l-4.6,6.4m-.75,-3.2h6.6m-3.3,-4.7v9.4m-2.3,-7.9l4.6,6.4m0,-6.4l-4.6,6.4m-.75,-3.2h6.6m-3.3,-4.7v9.4m-2.3,-7.9l4.6,6.4m0,-6.4l-4.6,6.4m-.5,-3.2h6.6m-3.3,-4.7v9.4m-2.3,-7.9l4.6,6.4m0,-6.4l-4.6,6.4m-.75,-3.2h6.6m-3.3,-4.7v9.4m-2.3,-7.9l4.6,6.4m0,-6.4l-4.6,6.4m-.75,-3.2h6.6m-3.3,-4.7v9.4m-2.3,-7.9l4.6,6.4m0,-6.4l-4.6,6.4m-.75,-3.2h6.6m-3.3,-4.7v9.4m-2.3,-7.9l4.6,6.4m0,-6.4l-4.6,6.4m-.75,-3.2h6.6m-3.3,-4.7v9.4m-2.3,-7.9l4.6,6.4m0,-6.4l-4.6,6.4m.25,-3.2h6.6m-3.3,-4.7v9.4m-2.3,-7.9l4.6,6.4m0,-6.4l-4.6,6.4m-.75,-3.2h6.6m-3.3,-4.7v9.4m-2.3,-7.9l4.6,6.4m0,-6.4l-4.6,6.4m-.5,-3.2h6.6m-3.3,-4.7v9.4m-2.3,-7.9l4.6,6.4m0,-6.4l-4.6,6.4m-.75,-3.2h6.6m-3.3,-4.7v9.4m-2.3,-7.9l4.6,6.4m0,-6.4l-4.6,6.4m0,-3.2h6.6m-3.3,-4.7v9.4m-2.3,-7.9l4.6,6.4m0,-6.4l-4.6,6.4m0,-3.2h6.6m-3.3,-4.7v9.4m-2.3,-7.9l4.6,6.4m0,-6.4l-4.6,6.4m-.75,-3.2h6.6m-3.3,-4.7v9.4m-2.3,-7.9l4.6,6.4m0,-6.4l-4.6,6.4m-.75,-3.2h6.6m-3.3,-4.7v9.4m-2.3,-7.9l4.6,6.4m0,-6.4l-4.6,6.4m-.5,-3.2h6.6m-3.3,-4.7v9.4m-2.3,-7.9l4.6,6.4m0,-6.4l-4.6,6.4m-.75,-3.2h6.6m-3.3,-4.7v9.4m-2.3,-7.9l4.6,6.4m0,-6.4l-4.6,6.4m-.5,-3.2h6.6m-3.3,-4.7v9.4m-2.3,-7.9l4.6,6.4m0,-6.4l-4.6,6.4m-.75,-3.2h6.6m-3.3,-4.7v9.4m-2.3,-7.9l4.6,6.4m0,-6.4l-4.6,6.4m-.25,-3.2h6.6m-3.3,-4.7v9.4m-2.3,-7.9l4.6,6.4m0,-6.4l-4.6,6.4m-.25,-3.2h6.6m-3.3,-4.7v9.4m-2.3,-7.9l4.6,6.4m0,-6.4l-4.6,6.4m-.5,-3.2h6.6m-3.3,-4.7v9.4m-2.3,-7.9l4.6,6.4m0,-6.4l-4.6,6.4m-.25,-3.2h6.6m-3.3,-4.7v9.4m-2.3,-7.9l4.6,6.4m0,-6.4l-4.6,6.4m-.75,-3.2h6.6m-3.3,-4.7v9.4m-2.3,-7.9l4.6,6.4m0,-6.4l-4.6,6.4m-.75,-3.2h6.6m-3.3,-4.7v9.4m-2.3,-7.9l4.6,6.4m0,-6.4l-4.6,6.4m-.75,-3.2h6.6m-3.3,-4.7v9.4m-2.3,-7.9l4.6,6.4m0,-6.4l-4.6,6.4m-.5,-3.2h6.6m-3.3,-4.7v9.4m-2.3,-7.9l4.6,6.4m0,-6.4l-4.6,6.4m-.5,-3.2h6.6m-3.3,-4.7v9.4m-2.3,-7.9l4.6,6.4m0,-6.4l-4.6,6.4m-.75,-3.2h6.6m-3.3,-4.7v9.4m-2.3,-7.9l4.6,6.4m0,-6.4l-4.6,6.4m-.75,-3.2h6.6m-3.3,-4.7v9.4m-2.3,-7.9l4.6,6.4m0,-6.4l-4.6,6.4m-.25,-3.2h6.6m-3.3,-4.7v9.4m-2.3,-7.9l4.6,6.4m0,-6.4l-4.6,6.4m-.5,-3.2h6.6m-3.3,-4.7v9.4m-2.3,-7.9l4.6,6.4m0,-6.4l-4.6,6.4m-.5,-3.2h6.6m-3.3,-4.7v9.4m-2.3,-7.9l4.6,6.4m0,-6.4l-4.6,6.4m-.75,-3.2h6.6m-3.3,-4.7v9.4m-2.3,-7.9l4.6,6.4m0,-6.4l-4.6,6.4m-.5,-3.2h6.6m-3.3,-4.7v9.4m-2.3,-7.9l4.6,6.4m0,-6.4l-4.6,6.4m-.75,-3.2h6.6m-3.3,-4.7v9.4m-2.3,-7.9l4.6,6.4m0,-6.4l-4.6,6.4m-.75,-3.2h6.6m-3.3,-4.7v9.4m-2.3,-7.9l4.6,6.4m0,-6.4l-4.6,6.4m-.75,-3.2h6.6m-3.3,-4.7v9.4m-2.3,-7.9l4.6,6.4m0,-6.4l-4.6,6.4m-.75,-3.2h6.6m-3.3,-4.7v9.4m-2.3,-7.9l4.6,6.4m0,-6.4l-4.6,6.4m-.75,-3.2h6.6m-3.3,-4.7v9.4m-2.3,-7.9l4.6,6.4m0,-6.4l-4.6,6.4m-.75,-3.2h6.6m-3.3,-4.7v9.4m-2.3,-7.9l4.6,6.4m0,-6.4l-4.6,6.4m-.5,-3.2h6.6m-3.3,-4.7v9.4m-2.3,-7.9l4.6,6.4m0,-6.4l-4.6,6.4m0,-3.2h6.6m-3.3,-4.7v9.4m-2.3,-7.9l4.6,6.4m0,-6.4l-4.6,6.4m-.75,-3.2h6.6m-3.3,-4.7v9.4m-2.3,-7.9l4.6,6.4m0,-6.4l-4.6,6.4m-.75,-3.2h6.6m-3.3,-4.7v9.4m-2.3,-7.9l4.6,6.4m0,-6.4l-4.6,6.4m-.75,-3.2h6.6m-3.3,-4.7v9.4m-2.3,-7.9l4.6,6.4m0,-6.4l-4.6,6.4m-.75,-3.2h6.6m-3.3,-4.7v9.4m-2.3,-7.9l4.6,6.4m0,-6.4l-4.6,6.4m-.75,-3.2h6.6m-3.3,-4.7v9.4m-2.3,-7.9l4.6,6.4m0,-6.4l-4.6,6.4m-.5,-3.2h6.6m-3.3,-4.7v9.4m-2.3,-7.9l4.6,6.4m0,-6.4l-4.6,6.4m-.75,-3.2h6.6m-3.3,-4.7v9.4m-2.3,-7.9l4.6,6.4m0,-6.4l-4.6,6.4m-.75,-3.2h6.6m-3.3,-4.7v9.4m-2.3,-7.9l4.6,6.4m0,-6.4l-4.6,6.4m-.75,-3.2h6.6m-3.3,-4.7v9.4m-2.3,-7.9l4.6,6.4m0,-6.4l-4.6,6.4m-.75,-3.2h6.6m-3.3,-4.7v9.4m-2.3,-7.9l4.6,6.4m0,-6.4l-4.6,6.4m-.75,-3.2h6.6m-3.3,-4.7v9.4m-2.3,-7.9l4.6,6.4m0,-6.4l-4.6,6.4m-.5,-3.2h6.6m-3.3,-4.7v9.4m-2.3,-7.9l4.6,6.4m0,-6.4l-4.6,6.4m-.5,-3.2h6.6m-3.3,-4.7v9.4m-2.3,-7.9l4.6,6.4m0,-6.4l-4.6,6.4m-.5,-3.2h6.6m-3.3,-4.7v9.4m-2.3,-7.9l4.6,6.4m0,-6.4l-4.6,6.4m-.75,-3.2h6.6m-3.3,-4.7v9.4m-2.3,-7.9l4.6,6.4m0,-6.4l-4.6,6.4m-.75,-3.2h6.6m-3.3,-4.7v9.4m-2.3,-7.9l4.6,6.4m0,-6.4l-4.6,6.4m-.75,-3.2h6.6m-3.3,-4.7v9.4m-2.3,-7.9l4.6,6.4m0,-6.4l-4.6,6.4m-.75,-3.2h6.6m-3.3,-4.7v9.4m-2.3,-7.9l4.6,6.4m0,-6.4l-4.6,6.4m-.25,-3.2h6.6m-3.3,-4.7v9.4m-2.3,-7.9l4.6,6.4m0,-6.4l-4.6,6.4m-.75,-3.2h6.6m-3.3,-4.7v9.4m-2.3,-7.9l4.6,6.4m0,-6.4l-4.6,6.4m-.75,-3.2h6.6m-3.3,-4.7v9.4m-2.3,-7.9l4.6,6.4m0,-6.4l-4.6,6.4m-.75,-3.2h6.6m-3.3,-4.7v9.4m-2.3,-7.9l4.6,6.4m0,-6.4l-4.6,6.4m-.75,-3.2h6.6m-3.3,-4.7v9.4m-2.3,-7.9l4.6,6.4m0,-6.4l-4.6,6.4m-.75,-3.2h6.6m-3.3,-4.7v9.4m-2.3,-7.9l4.6,6.4m0,-6.4l-4.6,6.4m-.75,-3.2h6.6m-3.3,-4.7v9.4m-2.3,-7.9l4.6,6.4m0,-6.4l-4.6,6.4m-.5,-3.2h6.6m-3.3,-4.7v9.4m-2.3,-7.9l4.6,6.4m0,-6.4l-4.6,6.4m-.75,-3.2h6.6m-3.3,-4.7v9.4m-2.3,-7.9l4.6,6.4m0,-6.4l-4.6,6.4m-.75,-3.2h6.6m-3.3,-4.7v9.4m-2.3,-7.9l4.6,6.4m0,-6.4l-4.6,6.4m-.75,-3.2h6.6m-3.3,-4.7v9.4m-2.3,-7.9l4.6,6.4m0,-6.4l-4.6,6.4m-.75,-3.2h6.6m-3.3,-4.7v9.4m-2.3,-7.9l4.6,6.4m0,-6.4l-4.6,6.4m-.75,-3.2h6.6m-3.3,-4.7v9.4m-2.3,-7.9l4.6,6.4m0,-6.4l-4.6,6.4m-.75,-3.2h6.6m-3.3,-4.7v9.4m-2.3,-7.9l4.6,6.4m0,-6.4l-4.6,6.4m-.75,-3.2h6.6m-3.3,-4.7v9.4m-2.3,-7.9l4.6,6.4m0,-6.4l-4.6,6.4m-.5,-3.2h6.6m-3.3,-4.7v9.4m-2.3,-7.9l4.6,6.4m0,-6.4l-4.6,6.4m-.75,-3.2h6.6m-3.3,-4.7v9.4m-2.3,-7.9l4.6,6.4m0,-6.4l-4.6,6.4m-.5,-3.2h6.6m-3.3,-4.7v9.4m-2.3,-7.9l4.6,6.4m0,-6.4l-4.6,6.4m-.75,-3.2h6.6m-3.3,-4.7v9.4m-2.3,-7.9l4.6,6.4m0,-6.4l-4.6,6.4m-.5,-3.2h6.6m-3.3,-4.7v9.4m-2.3,-7.9l4.6,6.4m0,-6.4l-4.6,6.4m-.75,-3.2h6.6m-3.3,-4.7v9.4m-2.3,-7.9l4.6,6.4m0,-6.4l-4.6,6.4m-.75,-3.2h6.6m-3.3,-4.7v9.4m-2.3,-7.9l4.6,6.4m0,-6.4l-4.6,6.4m-.75,-3.2h6.6m-3.3,-4.7v9.4m-2.3,-7.9l4.6,6.4m0,-6.4l-4.6,6.4m-.75,-3.2h6.6m-3.3,-4.7v9.4m-2.3,-7.9l4.6,6.4m0,-6.4l-4.6,6.4m-.5,-3.2h6.6m-3.3,-4.7v9.4m-2.3,-7.9l4.6,6.4m0,-6.4l-4.6,6.4m-.75,-3.2h6.6m-3.3,-4.7v9.4m-2.3,-7.9l4.6,6.4m0,-6.4l-4.6,6.4m-.75,-3.2h6.6m-3.3,-4.7v9.4m-2.3,-7.9l4.6,6.4m0,-6.4l-4.6,6.4m-.75,-3.2h6.6m-3.3,-4.7v9.4m-2.3,-7.9l4.6,6.4m0,-6.4l-4.6,6.4m-.75,-3.2h6.6m-3.3,-4.7v9.4m-2.3,-7.9l4.6,6.4m0,-6.4l-4.6,6.4m-.75,-3.2h6.6m-3.3,-4.7v9.4m-2.3,-7.9l4.6,6.4m0,-6.4l-4.6,6.4m-.75,-3.2h6.6m-3.3,-4.7v9.4m-2.3,-7.9l4.6,6.4m0,-6.4l-4.6,6.4m-.5,-3.2h6.6m-3.3,-4.7v9.4m-2.3,-7.9l4.6,6.4m0,-6.4l-4.6,6.4m-.75,-3.2h6.6m-3.3,-4.7v9.4m-2.3,-7.9l4.6,6.4m0,-6.4l-4.6,6.4m-.25,-3.2h6.6m-3.3,-4.7v9.4m-2.3,-7.9l4.6,6.4m0,-6.4l-4.6,6.4m-.75,-3.2h6.6m-3.3,-4.7v9.4m-2.3,-7.9l4.6,6.4m0,-6.4l-4.6,6.4m-.5,-3.2h6.6m-3.3,-4.7v9.4m-2.3,-7.9l4.6,6.4m0,-6.4l-4.6,6.4m-.75,-3.2h6.6m-3.3,-4.7v9.4m-2.3,-7.9l4.6,6.4m0,-6.4l-4.6,6.4m-.75,-3.2h6.6m-3.3,-4.7v9.4m-2.3,-7.9l4.6,6.4m0,-6.4l-4.6,6.4m-.75,-3.2h6.6m-3.3,-4.7v9.4m-2.3,-7.9l4.6,6.4m0,-6.4l-4.6,6.4m-.75,-3.2h6.6m-3.3,-4.7v9.4m-2.3,-7.9l4.6,6.4m0,-6.4l-4.6,6.4m-.5,-3.2h6.6m-3.3,-4.7v9.4m-2.3,-7.9l4.6,6.4m0,-6.4l-4.6,6.4m-.75,-3.2h6.6m-3.3,-4.7v9.4m-2.3,-7.9l4.6,6.4m0,-6.4l-4.6,6.4m-.75,-3.2h6.6m-3.3,-4.7v9.4m-2.3,-7.9l4.6,6.4m0,-6.4l-4.6,6.4m-.75,-3.2h6.6m-3.3,-4.7v9.4m-2.3,-7.9l4.6,6.4m0,-6.4l-4.6,6.4m-.5,-3.2h6.6m-3.3,-4.7v9.4m-2.3,-7.9l4.6,6.4m0,-6.4l-4.6,6.4m-.25,-3.2h6.6m-3.3,-4.7v9.4m-2.3,-7.9l4.6,6.4m0,-6.4l-4.6,6.4m-.75,-3.2h6.6m-3.3,-4.7v9.4m-2.3,-7.9l4.6,6.4m0,-6.4l-4.6,6.4m-.75,-3.2h6.6m-3.3,-4.7v9.4m-2.3,-7.9l4.6,6.4m0,-6.4l-4.6,6.4m.5,-3.2h6.6m-3.3,-4.7v9.4m-2.3,-7.9l4.6,6.4m0,-6.4l-4.6,6.4m-.75,-3.2h6.6m-3.3,-4.7v9.4m-2.3,-7.9l4.6,6.4m0,-6.4l-4.6,6.4m-.75,-3.2h6.6m-3.3,-4.7v9.4m-2.3,-7.9l4.6,6.4m0,-6.4l-4.6,6.4m-.25,-3.2h6.6m-3.3,-4.7v9.4m-2.3,-7.9l4.6,6.4m0,-6.4l-4.6,6.4m-.75,-3.2h6.6m-3.3,-4.7v9.4m-2.3,-7.9l4.6,6.4m0,-6.4l-4.6,6.4m-.5,-3.2h6.6m-3.3,-4.7v9.4m-2.3,-7.9l4.6,6.4m0,-6.4l-4.6,6.4m-.75,-3.2h6.6m-3.3,-4.7v9.4m-2.3,-7.9l4.6,6.4m0,-6.4l-4.6,6.4m-.75,-3.2h6.6m-3.3,-4.7v9.4m-2.3,-7.9l4.6,6.4m0,-6.4l-4.6,6.4m-.75,-3.2h6.6m-3.3,-4.7v9.4m-2.3,-7.9l4.6,6.4m0,-6.4l-4.6,6.4m-.75,-3.2h6.6m-3.3,-4.7v9.4m-2.3,-7.9l4.6,6.4m0,-6.4l-4.6,6.4m-.5,-3.2h6.6m-3.3,-4.7v9.4m-2.3,-7.9l4.6,6.4m0,-6.4l-4.6,6.4m-.75,-3.2h6.6m-3.3,-4.7v9.4m-2.3,-7.9l4.6,6.4m0,-6.4l-4.6,6.4m-.5,-3.2h6.6m-3.3,-4.7v9.4m-2.3,-7.9l4.6,6.4m0,-6.4l-4.6,6.4m-.75,-3.2h6.6m-3.3,-4.7v9.4m-2.3,-7.9l4.6,6.4m0,-6.4l-4.6,6.4m-.75,-3.2h6.6m-3.3,-4.7v9.4m-2.3,-7.9l4.6,6.4m0,-6.4l-4.6,6.4m-.75,-3.2h6.6m-3.3,-4.7v9.4m-2.3,-7.9l4.6,6.4m0,-6.4l-4.6,6.4m-.75,-3.2h6.6m-3.3,-4.7v9.4m-2.3,-7.9l4.6,6.4m0,-6.4l-4.6,6.4m.5,-3.2h6.6m-3.3,-4.7v9.4m-2.3,-7.9l4.6,6.4m0,-6.4l-4.6,6.4m-.75,-3.2h6.6m-3.3,-4.7v9.4m-2.3,-7.9l4.6,6.4m0,-6.4l-4.6,6.4m-.75,-3.2h6.6m-3.3,-4.7v9.4m-2.3,-7.9l4.6,6.4m0,-6.4l-4.6,6.4m-.75,-3.2h6.6m-3.3,-4.7v9.4m-2.3,-7.9l4.6,6.4m0,-6.4l-4.6,6.4m-.5,-3.2h6.6m-3.3,-4.7v9.4m-2.3,-7.9l4.6,6.4m0,-6.4l-4.6,6.4m-.5,-3.2h6.6m-3.3,-4.7v9.4m-2.3,-7.9l4.6,6.4m0,-6.4l-4.6,6.4m-.75,-3.2h6.6m-3.3,-4.7v9.4m-2.3,-7.9l4.6,6.4m0,-6.4l-4.6,6.4m-.75,-3.2h6.6m-3.3,-4.7v9.4m-2.3,-7.9l4.6,6.4m0,-6.4l-4.6,6.4m-.5,-3.2h6.6m-3.3,-4.7v9.4m-2.3,-7.9l4.6,6.4m0,-6.4l-4.6,6.4m-.75,-3.2h6.6m-3.3,-4.7v9.4m-2.3,-7.9l4.6,6.4m0,-6.4l-4.6,6.4m-.75,-3.2h6.6m-3.3,-4.7v9.4m-2.3,-7.9l4.6,6.4m0,-6.4l-4.6,6.4m-.75,-3.2h6.6m-3.3,-4.7v9.4m-2.3,-7.9l4.6,6.4m0,-6.4l-4.6,6.4m-.75,-3.2h6.6m-3.3,-4.7v9.4m-2.3,-7.9l4.6,6.4m0,-6.4l-4.6,6.4m-.75,-3.2h6.6m-3.3,-4.7v9.4m-2.3,-7.9l4.6,6.4m0,-6.4l-4.6,6.4m-.75,-3.2h6.6m-3.3,-4.7v9.4m-2.3,-7.9l4.6,6.4m0,-6.4l-4.6,6.4m-.25,-3.2h6.6m-3.3,-4.7v9.4m-2.3,-7.9l4.6,6.4m0,-6.4l-4.6,6.4m-.75,-3.2h6.6m-3.3,-4.7v9.4m-2.3,-7.9l4.6,6.4m0,-6.4l-4.6,6.4m-.75,-3.2h6.6m-3.3,-4.7v9.4m-2.3,-7.9l4.6,6.4m0,-6.4l-4.6,6.4m-.75,-3.2h6.6m-3.3,-4.7v9.4m-2.3,-7.9l4.6,6.4m0,-6.4l-4.6,6.4m-.75,-3.2h6.6m-3.3,-4.7v9.4m-2.3,-7.9l4.6,6.4m0,-6.4l-4.6,6.4m-.75,-3.2h6.6m-3.3,-4.7v9.4m-2.3,-7.9l4.6,6.4m0,-6.4l-4.6,6.4m-.75,-3.2h6.6m-3.3,-4.7v9.4m-2.3,-7.9l4.6,6.4m0,-6.4l-4.6,6.4m-.75,-3.2h6.6m-3.3,-4.7v9.4m-2.3,-7.9l4.6,6.4m0,-6.4l-4.6,6.4m-.75,-3.2h6.6m-3.3,-4.7v9.4m-2.3,-7.9l4.6,6.4m0,-6.4l-4.6,6.4m-.75,-3.2h6.6m-3.3,-4.7v9.4m-2.3,-7.9l4.6,6.4m0,-6.4l-4.6,6.4m-.75,-3.2h6.6m-3.3,-4.7v9.4m-2.3,-7.9l4.6,6.4m0,-6.4l-4.6,6.4m-.75,-3.2h6.6m-3.3,-4.7v9.4m-2.3,-7.9l4.6,6.4m0,-6.4l-4.6,6.4m-.75,-3.2h6.6m-3.3,-4.7v9.4m-2.3,-7.9l4.6,6.4m0,-6.4l-4.6,6.4m-.75,-3.2h6.6m-3.3,-4.7v9.4m-2.3,-7.9l4.6,6.4m0,-6.4l-4.6,6.4m-.75,-3.2h6.6m-3.3,-4.7v9.4m-2.3,-7.9l4.6,6.4m0,-6.4l-4.6,6.4m-.5,-3.2h6.6m-3.3,-4.7v9.4m-2.3,-7.9l4.6,6.4m0,-6.4l-4.6,6.4m-.5,-3.2h6.6m-3.3,-4.7v9.4m-2.3,-7.9l4.6,6.4m0,-6.4l-4.6,6.4m-.75,-3.2h6.6m-3.3,-4.7v9.4m-2.3,-7.9l4.6,6.4m0,-6.4l-4.6,6.4m0,-3.2h6.6m-3.3,-4.7v9.4m-2.3,-7.9l4.6,6.4m0,-6.4l-4.6,6.4m-.5,-3.2h6.6m-3.3,-4.7v9.4m-2.3,-7.9l4.6,6.4m0,-6.4l-4.6,6.4m-.5,-3.2h6.6m-3.3,-4.7v9.4m-2.3,-7.9l4.6,6.4m0,-6.4l-4.6,6.4m-.75,-3.2h6.6m-3.3,-4.7v9.4m-2.3,-7.9l4.6,6.4m0,-6.4l-4.6,6.4m-.75,-3.2h6.6m-3.3,-4.7v9.4m-2.3,-7.9l4.6,6.4m0,-6.4l-4.6,6.4m-.5,-3.2h6.6m-3.3,-4.7v9.4m-2.3,-7.9l4.6,6.4m0,-6.4l-4.6,6.4m-.5,-3.2h6.6m-3.3,-4.7v9.4m-2.3,-7.9l4.6,6.4m0,-6.4l-4.6,6.4m-.5,-3.2h6.6m-3.3,-4.7v9.4m-2.3,-7.9l4.6,6.4m0,-6.4l-4.6,6.4m-.75,-3.2h6.6m-3.3,-4.7v9.4m-2.3,-7.9l4.6,6.4m0,-6.4l-4.6,6.4m-.5,-3.2h6.6m-3.3,-4.7v9.4m-2.3,-7.9l4.6,6.4m0,-6.4l-4.6,6.4m-.5,-3.2h6.6m-3.3,-4.7v9.4m-2.3,-7.9l4.6,6.4m0,-6.4l-4.6,6.4m-.75,-3.2h6.6m-3.3,-4.7v9.4m-2.3,-7.9l4.6,6.4m0,-6.4l-4.6,6.4m0,-3.2h6.6m-3.3,-4.7v9.4m-2.3,-7.9l4.6,6.4m0,-6.4l-4.6,6.4m-.75,-3.2h6.6m-3.3,-4.7v9.4m-2.3,-7.9l4.6,6.4m0,-6.4l-4.6,6.4m-.75,-3.2h6.6m-3.3,-4.7v9.4m-2.3,-7.9l4.6,6.4m0,-6.4l-4.6,6.4m-.75,-3.2h6.6m-3.3,-4.7v9.4m-2.3,-7.9l4.6,6.4m0,-6.4l-4.6,6.4m0,-3.2h6.6m-3.3,-4.7v9.4m-2.3,-7.9l4.6,6.4m0,-6.4l-4.6,6.4m-.25,-3.2h6.6m-3.3,-4.7v9.4m-2.3,-7.9l4.6,6.4m0,-6.4l-4.6,6.4m-.75,-3.2h6.6m-3.3,-4.7v9.4m-2.3,-7.9l4.6,6.4m0,-6.4l-4.6,6.4m-.75,-3.2h6.6m-3.3,-4.7v9.4m-2.3,-7.9l4.6,6.4m0,-6.4l-4.6,6.4m-.25,-3.2h6.6m-3.3,-4.7v9.4m-2.3,-7.9l4.6,6.4m0,-6.4l-4.6,6.4m-.75,-3.2h6.6m-3.3,-4.7v9.4m-2.3,-7.9l4.6,6.4m0,-6.4l-4.6,6.4m-.75,-3.2h6.6m-3.3,-4.7v9.4m-2.3,-7.9l4.6,6.4m0,-6.4l-4.6,6.4m-.25,-3.2h6.6m-3.3,-4.7v9.4m-2.3,-7.9l4.6,6.4m0,-6.4l-4.6,6.4m-.75,-3.2h6.6m-3.3,-4.7v9.4m-2.3,-7.9l4.6,6.4m0,-6.4l-4.6,6.4m-.75,-3.2h6.6m-3.3,-4.7v9.4m-2.3,-7.9l4.6,6.4m0,-6.4l-4.6,6.4m-.75,-3.2h6.6m-3.3,-4.7v9.4m-2.3,-7.9l4.6,6.4m0,-6.4l-4.6,6.4m-.5,-3.2h6.6m-3.3,-4.7v9.4m-2.3,-7.9l4.6,6.4m0,-6.4l-4.6,6.4m-.75,-3.2h6.6m-3.3,-4.7v9.4m-2.3,-7.9l4.6,6.4m0,-6.4l-4.6,6.4m-.25,-3.2h6.6m-3.3,-4.7v9.4m-2.3,-7.9l4.6,6.4m0,-6.4l-4.6,6.4m-.75,-3.2h6.6m-3.3,-4.7v9.4m-2.3,-7.9l4.6,6.4m0,-6.4l-4.6,6.4m-.5,-3.2h6.6m-3.3,-4.7v9.4m-2.3,-7.9l4.6,6.4m0,-6.4l-4.6,6.4m0,-3.2h6.6m-3.3,-4.7v9.4m-2.3,-7.9l4.6,6.4m0,-6.4l-4.6,6.4m-.75,-3.2h6.6m-3.3,-4.7v9.4m-2.3,-7.9l4.6,6.4m0,-6.4l-4.6,6.4m-.75,-3.2h6.6m-3.3,-4.7v9.4m-2.3,-7.9l4.6,6.4m0,-6.4l-4.6,6.4m-.75,-3.2h6.6m-3.3,-4.7v9.4m-2.3,-7.9l4.6,6.4m0,-6.4l-4.6,6.4m-.5,-3.2h6.6m-3.3,-4.7v9.4m-2.3,-7.9l4.6,6.4m0,-6.4l-4.6,6.4m-.75,-3.2h6.6m-3.3,-4.7v9.4m-2.3,-7.9l4.6,6.4m0,-6.4l-4.6,6.4m-.75,-3.2h6.6m-3.3,-4.7v9.4m-2.3,-7.9l4.6,6.4m0,-6.4l-4.6,6.4m0,-3.2h6.6m-3.3,-4.7v9.4m-2.3,-7.9l4.6,6.4m0,-6.4l-4.6,6.4m-.5,-3.2h6.6m-3.3,-4.7v9.4m-2.3,-7.9l4.6,6.4m0,-6.4l-4.6,6.4m-.75,-3.2h6.6m-3.3,-4.7v9.4m-2.3,-7.9l4.6,6.4m0,-6.4l-4.6,6.4m-.5,-3.2h6.6m-3.3,-4.7v9.4m-2.3,-7.9l4.6,6.4m0,-6.4l-4.6,6.4m-.5,-3.2h6.6m-3.3,-4.7v9.4m-2.3,-7.9l4.6,6.4m0,-6.4l-4.6,6.4m-.5,-3.2h6.6m-3.3,-4.7v9.4m-2.3,-7.9l4.6,6.4m0,-6.4l-4.6,6.4m0,-3.2h6.6m-3.3,-4.7v9.4m-2.3,-7.9l4.6,6.4m0,-6.4l-4.6,6.4m-.75,-3.2h6.6m-3.3,-4.7v9.4m-2.3,-7.9l4.6,6.4m0,-6.4l-4.6,6.4m-.75,-3.2h6.6m-3.3,-4.7v9.4m-2.3,-7.9l4.6,6.4m0,-6.4l-4.6,6.4m-.75,-3.2h6.6m-3.3,-4.7v9.4m-2.3,-7.9l4.6,6.4m0,-6.4l-4.6,6.4m-.75,-3.2h6.6m-3.3,-4.7v9.4m-2.3,-7.9l4.6,6.4m0,-6.4l-4.6,6.4m-.75,-3.2h6.6m-3.3,-4.7v9.4m-2.3,-7.9l4.6,6.4m0,-6.4l-4.6,6.4m-.75,-3.2h6.6m-3.3,-4.7v9.4m-2.3,-7.9l4.6,6.4m0,-6.4l-4.6,6.4m-.75,-3.2h6.6m-3.3,-4.7v9.4m-2.3,-7.9l4.6,6.4m0,-6.4l-4.6,6.4m-.5,-3.2h6.6m-3.3,-4.7v9.4m-2.3,-7.9l4.6,6.4m0,-6.4l-4.6,6.4m-.25,-3.2h6.6m-3.3,-4.7v9.4m-2.3,-7.9l4.6,6.4m0,-6.4l-4.6,6.4m-.75,-3.2h6.6m-3.3,-4.7v9.4m-2.3,-7.9l4.6,6.4m0,-6.4l-4.6,6.4m-.75,-3.2h6.6m-3.3,-4.7v9.4m-2.3,-7.9l4.6,6.4m0,-6.4l-4.6,6.4m-.75,-3.2h6.6m-3.3,-4.7v9.4m-2.3,-7.9l4.6,6.4m0,-6.4l-4.6,6.4m-.75,-3.2h6.6m-3.3,-4.7v9.4m-2.3,-7.9l4.6,6.4m0,-6.4l-4.6,6.4m-.75,-3.2h6.6m-3.3,-4.7v9.4m-2.3,-7.9l4.6,6.4m0,-6.4l-4.6,6.4m-.75,-3.2h6.6m-3.3,-4.7v9.4m-2.3,-7.9l4.6,6.4m0,-6.4l-4.6,6.4m-.75,-3.2h6.6m-3.3,-4.7v9.4m-2.3,-7.9l4.6,6.4m0,-6.4l-4.6,6.4m-.75,-3.2h6.6m-3.3,-4.7v9.4m-2.3,-7.9l4.6,6.4m0,-6.4l-4.6,6.4m-.75,-3.2h6.6m-3.3,-4.7v9.4m-2.3,-7.9l4.6,6.4m0,-6.4l-4.6,6.4m-.5,-3.2h6.6m-3.3,-4.7v9.4m-2.3,-7.9l4.6,6.4m0,-6.4l-4.6,6.4m-.75,-3.2h6.6m-3.3,-4.7v9.4m-2.3,-7.9l4.6,6.4m0,-6.4l-4.6,6.4m-.75,-3.2h6.6m-3.3,-4.7v9.4m-2.3,-7.9l4.6,6.4m0,-6.4l-4.6,6.4m-.75,-3.2h6.6m-3.3,-4.7v9.4m-2.3,-7.9l4.6,6.4m0,-6.4l-4.6,6.4m-.75,-3.2h6.6m-3.3,-4.7v9.4m-2.3,-7.9l4.6,6.4m0,-6.4l-4.6,6.4m-.75,-3.2h6.6m-3.3,-4.7v9.4m-2.3,-7.9l4.6,6.4m0,-6.4l-4.6,6.4m-.75,-3.2h6.6m-3.3,-4.7v9.4m-2.3,-7.9l4.6,6.4m0,-6.4l-4.6,6.4m-.5,-3.2h6.6m-3.3,-4.7v9.4m-2.3,-7.9l4.6,6.4m0,-6.4l-4.6,6.4m-.75,-3.2h6.6m-3.3,-4.7v9.4m-2.3,-7.9l4.6,6.4m0,-6.4l-4.6,6.4m-.75,-3.2h6.6m-3.3,-4.7v9.4m-2.3,-7.9l4.6,6.4m0,-6.4l-4.6,6.4m-.5,-3.2h6.6m-3.3,-4.7v9.4m-2.3,-7.9l4.6,6.4m0,-6.4l-4.6,6.4m-.75,-3.2h6.6m-3.3,-4.7v9.4m-2.3,-7.9l4.6,6.4m0,-6.4l-4.6,6.4m-.75,-3.2h6.6m-3.3,-4.7v9.4m-2.3,-7.9l4.6,6.4m0,-6.4l-4.6,6.4m-.75,-3.2h6.6m-3.3,-4.7v9.4m-2.3,-7.9l4.6,6.4m0,-6.4l-4.6,6.4m.5,-3.2h6.6m-3.3,-4.7v9.4m-2.3,-7.9l4.6,6.4m0,-6.4l-4.6,6.4m-.5,-3.2h6.6m-3.3,-4.7v9.4m-2.3,-7.9l4.6,6.4m0,-6.4l-4.6,6.4m-.5,-3.2h6.6m-3.3,-4.7v9.4m-2.3,-7.9l4.6,6.4m0,-6.4l-4.6,6.4m-.75,-3.2h6.6m-3.3,-4.7v9.4m-2.3,-7.9l4.6,6.4m0,-6.4l-4.6,6.4m-.5,-3.2h6.6m-3.3,-4.7v9.4m-2.3,-7.9l4.6,6.4m0,-6.4l-4.6,6.4m-.75,-3.2h6.6m-3.3,-4.7v9.4m-2.3,-7.9l4.6,6.4m0,-6.4l-4.6,6.4m-.75,-3.2h6.6m-3.3,-4.7v9.4m-2.3,-7.9l4.6,6.4m0,-6.4l-4.6,6.4m-.75,-3.2h6.6m-3.3,-4.7v9.4m-2.3,-7.9l4.6,6.4m0,-6.4l-4.6,6.4m-.5,-3.2h6.6m-3.3,-4.7v9.4m-2.3,-7.9l4.6,6.4m0,-6.4l-4.6,6.4m-.75,-3.2h6.6m-3.3,-4.7v9.4m-2.3,-7.9l4.6,6.4m0,-6.4l-4.6,6.4m-.75,-3.2h6.6m-3.3,-4.7v9.4m-2.3,-7.9l4.6,6.4m0,-6.4l-4.6,6.4m-.75,-3.2h6.6m-3.3,-4.7v9.4m-2.3,-7.9l4.6,6.4m0,-6.4l-4.6,6.4m-.75,-3.2h6.6m-3.3,-4.7v9.4m-2.3,-7.9l4.6,6.4m0,-6.4l-4.6,6.4m-.75,-3.2h6.6m-3.3,-4.7v9.4m-2.3,-7.9l4.6,6.4m0,-6.4l-4.6,6.4m-.75,-3.2h6.6m-3.3,-4.7v9.4m-2.3,-7.9l4.6,6.4m0,-6.4l-4.6,6.4m-.75,-3.2h6.6m-3.3,-4.7v9.4m-2.3,-7.9l4.6,6.4m0,-6.4l-4.6,6.4m-.75,-3.2h6.6m-3.3,-4.7v9.4m-2.3,-7.9l4.6,6.4m0,-6.4l-4.6,6.4m-.5,-3.2h6.6m-3.3,-4.7v9.4m-2.3,-7.9l4.6,6.4m0,-6.4l-4.6,6.4m-.75,-3.2h6.6m-3.3,-4.7v9.4m-2.3,-7.9l4.6,6.4m0,-6.4l-4.6,6.4m-.75,-3.2h6.6m-3.3,-4.7v9.4m-2.3,-7.9l4.6,6.4m0,-6.4l-4.6,6.4m-.75,-3.2h6.6m-3.3,-4.7v9.4m-2.3,-7.9l4.6,6.4m0,-6.4l-4.6,6.4m-.75,-3.2h6.6m-3.3,-4.7v9.4m-2.3,-7.9l4.6,6.4m0,-6.4l-4.6,6.4m-.75,-3.2h6.6m-3.3,-4.7v9.4m-2.3,-7.9l4.6,6.4m0,-6.4l-4.6,6.4m-.75,-3.2h6.6m-3.3,-4.7v9.4m-2.3,-7.9l4.6,6.4m0,-6.4l-4.6,6.4m-.5,-3.2h6.6m-3.3,-4.7v9.4m-2.3,-7.9l4.6,6.4m0,-6.4l-4.6,6.4m-.75,-3.2h6.6m-3.3,-4.7v9.4m-2.3,-7.9l4.6,6.4m0,-6.4l-4.6,6.4m-.75,-3.2h6.6m-3.3,-4.7v9.4m-2.3,-7.9l4.6,6.4m0,-6.4l-4.6,6.4m-.75,-3.2h6.6m-3.3,-4.7v9.4m-2.3,-7.9l4.6,6.4m0,-6.4l-4.6,6.4m-.25,-3.2h6.6m-3.3,-4.7v9.4m-2.3,-7.9l4.6,6.4m0,-6.4l-4.6,6.4m-.5,-3.2h6.6m-3.3,-4.7v9.4m-2.3,-7.9l4.6,6.4m0,-6.4l-4.6,6.4m-.5,-3.2h6.6m-3.3,-4.7v9.4m-2.3,-7.9l4.6,6.4m0,-6.4l-4.6,6.4m-.75,-3.2h6.6m-3.3,-4.7v9.4m-2.3,-7.9l4.6,6.4m0,-6.4l-4.6,6.4m-.75,-3.2h6.6m-3.3,-4.7v9.4m-2.3,-7.9l4.6,6.4m0,-6.4l-4.6,6.4m-.75,-3.2h6.6m-3.3,-4.7v9.4m-2.3,-7.9l4.6,6.4m0,-6.4l-4.6,6.4m-.75,-3.2h6.6m-3.3,-4.7v9.4m-2.3,-7.9l4.6,6.4m0,-6.4l-4.6,6.4m-.75,-3.2h6.6m-3.3,-4.7v9.4m-2.3,-7.9l4.6,6.4m0,-6.4l-4.6,6.4m-.75,-3.2h6.6m-3.3,-4.7v9.4m-2.3,-7.9l4.6,6.4m0,-6.4l-4.6,6.4m-.75,-3.2h6.6m-3.3,-4.7v9.4m-2.3,-7.9l4.6,6.4m0,-6.4l-4.6,6.4m-.75,-3.2h6.6m-3.3,-4.7v9.4m-2.3,-7.9l4.6,6.4m0,-6.4l-4.6,6.4m-.75,-3.2h6.6m-3.3,-4.7v9.4m-2.3,-7.9l4.6,6.4m0,-6.4l-4.6,6.4m-.75,-3.2h6.6m-3.3,-4.7v9.4m-2.3,-7.9l4.6,6.4m0,-6.4l-4.6,6.4m-.75,-3.2h6.6m-3.3,-4.7v9.4m-2.3,-7.9l4.6,6.4m0,-6.4l-4.6,6.4m-.5,-3.2h6.6m-3.3,-4.7v9.4m-2.3,-7.9l4.6,6.4m0,-6.4l-4.6,6.4m-.75,-3.2h6.6m-3.3,-4.7v9.4m-2.3,-7.9l4.6,6.4m0,-6.4l-4.6,6.4m-.75,-3.2h6.6m-3.3,-4.7v9.4m-2.3,-7.9l4.6,6.4m0,-6.4l-4.6,6.4m-.75,-3.2h6.6m-3.3,-4.7v9.4m-2.3,-7.9l4.6,6.4m0,-6.4l-4.6,6.4m-.75,-3.2h6.6m-3.3,-4.7v9.4m-2.3,-7.9l4.6,6.4m0,-6.4l-4.6,6.4m-.5,-3.2h6.6m-3.3,-4.7v9.4m-2.3,-7.9l4.6,6.4m0,-6.4l-4.6,6.4m-.75,-3.2h6.6m-3.3,-4.7v9.4m-2.3,-7.9l4.6,6.4m0,-6.4l-4.6,6.4m-.75,-3.2h6.6m-3.3,-4.7v9.4m-2.3,-7.9l4.6,6.4m0,-6.4l-4.6,6.4m-.75,-3.2h6.6m-3.3,-4.7v9.4m-2.3,-7.9l4.6,6.4m0,-6.4l-4.6,6.4m-.75,-3.2h6.6m-3.3,-4.7v9.4m-2.3,-7.9l4.6,6.4m0,-6.4l-4.6,6.4m-.75,-3.2h6.6m-3.3,-4.7v9.4m-2.3,-7.9l4.6,6.4m0,-6.4l-4.6,6.4m-.5,-3.2h6.6m-3.3,-4.7v9.4m-2.3,-7.9l4.6,6.4m0,-6.4l-4.6,6.4m-.75,-3.2h6.6m-3.3,-4.7v9.4m-2.3,-7.9l4.6,6.4m0,-6.4l-4.6,6.4m-.5,-3.2h6.6m-3.3,-4.7v9.4m-2.3,-7.9l4.6,6.4m0,-6.4l-4.6,6.4m-.75,-3.2h6.6m-3.3,-4.7v9.4m-2.3,-7.9l4.6,6.4m0,-6.4l-4.6,6.4m-.75,-3.2h6.6m-3.3,-4.7v9.4m-2.3,-7.9l4.6,6.4m0,-6.4l-4.6,6.4m-.75,-3.2h6.6m-3.3,-4.7v9.4m-2.3,-7.9l4.6,6.4m0,-6.4l-4.6,6.4m-.75,-3.2h6.6m-3.3,-4.7v9.4m-2.3,-7.9l4.6,6.4m0,-6.4l-4.6,6.4m-.75,-3.2h6.6m-3.3,-4.7v9.4m-2.3,-7.9l4.6,6.4m0,-6.4l-4.6,6.4m-.75,-3.2h6.6m-3.3,-4.7v9.4m-2.3,-7.9l4.6,6.4m0,-6.4l-4.6,6.4m-.5,-3.2h6.6m-3.3,-4.7v9.4m-2.3,-7.9l4.6,6.4m0,-6.4l-4.6,6.4m-.75,-3.2h6.6m-3.3,-4.7v9.4m-2.3,-7.9l4.6,6.4m0,-6.4l-4.6,6.4m-.5,-3.2h6.6m-3.3,-4.7v9.4m-2.3,-7.9l4.6,6.4m0,-6.4l-4.6,6.4m-.75,-3.2h6.6m-3.3,-4.7v9.4m-2.3,-7.9l4.6,6.4m0,-6.4l-4.6,6.4m-.5,-3.2h6.6m-3.3,-4.7v9.4m-2.3,-7.9l4.6,6.4m0,-6.4l-4.6,6.4m.25,-3.2h6.6m-3.3,-4.7v9.4m-2.3,-7.9l4.6,6.4m0,-6.4l-4.6,6.4m-.25,-3.2h6.6m-3.3,-4.7v9.4m-2.3,-7.9l4.6,6.4m0,-6.4l-4.6,6.4m-.75,-3.2h6.6m-3.3,-4.7v9.4m-2.3,-7.9l4.6,6.4m0,-6.4l-4.6,6.4m-.25,-3.2h6.6m-3.3,-4.7v9.4m-2.3,-7.9l4.6,6.4m0,-6.4l-4.6,6.4m-.75,-3.2h6.6m-3.3,-4.7v9.4m-2.3,-7.9l4.6,6.4m0,-6.4l-4.6,6.4m-.75,-3.2h6.6m-3.3,-4.7v9.4m-2.3,-7.9l4.6,6.4m0,-6.4l-4.6,6.4m-.75,-3.2h6.6m-3.3,-4.7v9.4m-2.3,-7.9l4.6,6.4m0,-6.4l-4.6,6.4m-.75,-3.2h6.6m-3.3,-4.7v9.4m-2.3,-7.9l4.6,6.4m0,-6.4l-4.6,6.4m-.75,-3.2h6.6m-3.3,-4.7v9.4m-2.3,-7.9l4.6,6.4m0,-6.4l-4.6,6.4m-.75,-3.2h6.6m-3.3,-4.7v9.4m-2.3,-7.9l4.6,6.4m0,-6.4l-4.6,6.4m-.5,-3.2h6.6m-3.3,-4.7v9.4m-2.3,-7.9l4.6,6.4m0,-6.4l-4.6,6.4m-.75,-3.2h6.6m-3.3,-4.7v9.4m-2.3,-7.9l4.6,6.4m0,-6.4l-4.6,6.4m-.75,-3.2h6.6m-3.3,-4.7v9.4m-2.3,-7.9l4.6,6.4m0,-6.4l-4.6,6.4m-.5,-3.2h6.6m-3.3,-4.7v9.4m-2.3,-7.9l4.6,6.4m0,-6.4l-4.6,6.4m-.5,-3.2h6.6m-3.3,-4.7v9.4m-2.3,-7.9l4.6,6.4m0,-6.4l-4.6,6.4m-.75,-3.2h6.6m-3.3,-4.7v9.4m-2.3,-7.9l4.6,6.4m0,-6.4l-4.6,6.4m-.75,-3.2h6.6m-3.3,-4.7v9.4m-2.3,-7.9l4.6,6.4m0,-6.4l-4.6,6.4m-.75,-3.2h6.6m-3.3,-4.7v9.4m-2.3,-7.9l4.6,6.4m0,-6.4l-4.6,6.4m-.75,-3.2h6.6m-3.3,-4.7v9.4m-2.3,-7.9l4.6,6.4m0,-6.4l-4.6,6.4m-.5,-3.2h6.6m-3.3,-4.7v9.4m-2.3,-7.9l4.6,6.4m0,-6.4l-4.6,6.4m-.75,-3.2h6.6m-3.3,-4.7v9.4m-2.3,-7.9l4.6,6.4m0,-6.4l-4.6,6.4m.25,-3.2h6.6m-3.3,-4.7v9.4m-2.3,-7.9l4.6,6.4m0,-6.4l-4.6,6.4m-.75,-3.2h6.6m-3.3,-4.7v9.4m-2.3,-7.9l4.6,6.4m0,-6.4l-4.6,6.4m-.5,-3.2h6.6m-3.3,-4.7v9.4m-2.3,-7.9l4.6,6.4m0,-6.4l-4.6,6.4m-.5,-3.2h6.6m-3.3,-4.7v9.4m-2.3,-7.9l4.6,6.4m0,-6.4l-4.6,6.4m-.75,-3.2h6.6m-3.3,-4.7v9.4m-2.3,-7.9l4.6,6.4m0,-6.4l-4.6,6.4m-.75,-3.2h6.6m-3.3,-4.7v9.4m-2.3,-7.9l4.6,6.4m0,-6.4l-4.6,6.4m-.75,-3.2h6.6m-3.3,-4.7v9.4m-2.3,-7.9l4.6,6.4m0,-6.4l-4.6,6.4m-.75,-3.2h6.6m-3.3,-4.7v9.4m-2.3,-7.9l4.6,6.4m0,-6.4l-4.6,6.4m-.75,-3.2h6.6m-3.3,-4.7v9.4m-2.3,-7.9l4.6,6.4m0,-6.4l-4.6,6.4m-.5,-3.2h6.6m-3.3,-4.7v9.4m-2.3,-7.9l4.6,6.4m0,-6.4l-4.6,6.4m-.75,-3.2h6.6m-3.3,-4.7v9.4m-2.3,-7.9l4.6,6.4m0,-6.4l-4.6,6.4m-.5,-3.2h6.6m-3.3,-4.7v9.4m-2.3,-7.9l4.6,6.4m0,-6.4l-4.6,6.4m-.5,-3.2h6.6m-3.3,-4.7v9.4m-2.3,-7.9l4.6,6.4m0,-6.4l-4.6,6.4m-.75,-3.2h6.6m-3.3,-4.7v9.4m-2.3,-7.9l4.6,6.4m0,-6.4l-4.6,6.4m-.75,-3.2h6.6m-3.3,-4.7v9.4m-2.3,-7.9l4.6,6.4m0,-6.4l-4.6,6.4m-.75,-3.2h6.6m-3.3,-4.7v9.4m-2.3,-7.9l4.6,6.4m0,-6.4l-4.6,6.4m-.75,-3.2h6.6m-3.3,-4.7v9.4m-2.3,-7.9l4.6,6.4m0,-6.4l-4.6,6.4m-.5,-3.2h6.6m-3.3,-4.7v9.4m-2.3,-7.9l4.6,6.4m0,-6.4l-4.6,6.4m0,-3.2h6.6m-3.3,-4.7v9.4m-2.3,-7.9l4.6,6.4m0,-6.4l-4.6,6.4m-.75,-3.2h6.6m-3.3,-4.7v9.4m-2.3,-7.9l4.6,6.4m0,-6.4l-4.6,6.4m-.75,-3.2h6.6m-3.3,-4.7v9.4m-2.3,-7.9l4.6,6.4m0,-6.4l-4.6,6.4m.5,-3.2h6.6m-3.3,-4.7v9.4m-2.3,-7.9l4.6,6.4m0,-6.4l-4.6,6.4m-.75,-3.2h6.6m-3.3,-4.7v9.4m-2.3,-7.9l4.6,6.4m0,-6.4l-4.6,6.4m-.5,-3.2h6.6m-3.3,-4.7v9.4m-2.3,-7.9l4.6,6.4m0,-6.4l-4.6,6.4m-.75,-3.2h6.6m-3.3,-4.7v9.4m-2.3,-7.9l4.6,6.4m0,-6.4l-4.6,6.4m-.75,-3.2h6.6m-3.3,-4.7v9.4m-2.3,-7.9l4.6,6.4m0,-6.4l-4.6,6.4m-.75,-3.2h6.6m-3.3,-4.7v9.4m-2.3,-7.9l4.6,6.4m0,-6.4l-4.6,6.4m-.75,-3.2h6.6m-3.3,-4.7v9.4m-2.3,-7.9l4.6,6.4m0,-6.4l-4.6,6.4m-.75,-3.2h6.6m-3.3,-4.7v9.4m-2.3,-7.9l4.6,6.4m0,-6.4l-4.6,6.4m-.75,-3.2h6.6m-3.3,-4.7v9.4m-2.3,-7.9l4.6,6.4m0,-6.4l-4.6,6.4m-.75,-3.2h6.6m-3.3,-4.7v9.4m-2.3,-7.9l4.6,6.4m0,-6.4l-4.6,6.4m-.5,-3.2h6.6m-3.3,-4.7v9.4m-2.3,-7.9l4.6,6.4m0,-6.4l-4.6,6.4m.25,-3.2h6.6m-3.3,-4.7v9.4m-2.3,-7.9l4.6,6.4m0,-6.4l-4.6,6.4m-.75,-3.2h6.6m-3.3,-4.7v9.4m-2.3,-7.9l4.6,6.4m0,-6.4l-4.6,6.4m-.75,-3.2h6.6m-3.3,-4.7v9.4m-2.3,-7.9l4.6,6.4m0,-6.4l-4.6,6.4m-.75,-3.2h6.6m-3.3,-4.7v9.4m-2.3,-7.9l4.6,6.4m0,-6.4l-4.6,6.4m-.5,-3.2h6.6m-3.3,-4.7v9.4m-2.3,-7.9l4.6,6.4m0,-6.4l-4.6,6.4m-.25,-3.2h6.6m-3.3,-4.7v9.4m-2.3,-7.9l4.6,6.4m0,-6.4l-4.6,6.4m-.75,-3.2h6.6m-3.3,-4.7v9.4m-2.3,-7.9l4.6,6.4m0,-6.4l-4.6,6.4m-.75,-3.2h6.6m-3.3,-4.7v9.4m-2.3,-7.9l4.6,6.4m0,-6.4l-4.6,6.4m-.5,-3.2h6.6m-3.3,-4.7v9.4m-2.3,-7.9l4.6,6.4m0,-6.4l-4.6,6.4m-.75,-3.2h6.6m-3.3,-4.7v9.4m-2.3,-7.9l4.6,6.4m0,-6.4l-4.6,6.4m0,-3.2h6.6m-3.3,-4.7v9.4m-2.3,-7.9l4.6,6.4m0,-6.4l-4.6,6.4m-.75,-3.2h6.6m-3.3,-4.7v9.4m-2.3,-7.9l4.6,6.4m0,-6.4l-4.6,6.4m-.75,-3.2h6.6m-3.3,-4.7v9.4m-2.3,-7.9l4.6,6.4m0,-6.4l-4.6,6.4m-.75,-3.2h6.6m-3.3,-4.7v9.4m-2.3,-7.9l4.6,6.4m0,-6.4l-4.6,6.4m-.75,-3.2h6.6m-3.3,-4.7v9.4m-2.3,-7.9l4.6,6.4m0,-6.4l-4.6,6.4m-.75,-3.2h6.6m-3.3,-4.7v9.4m-2.3,-7.9l4.6,6.4m0,-6.4l-4.6,6.4m-.75,-3.2h6.6m-3.3,-4.7v9.4m-2.3,-7.9l4.6,6.4m0,-6.4l-4.6,6.4m-.75,-3.2h6.6m-3.3,-4.7v9.4m-2.3,-7.9l4.6,6.4m0,-6.4l-4.6,6.4m-.75,-3.2h6.6m-3.3,-4.7v9.4m-2.3,-7.9l4.6,6.4m0,-6.4l-4.6,6.4m-.75,-3.2h6.6m-3.3,-4.7v9.4m-2.3,-7.9l4.6,6.4m0,-6.4l-4.6,6.4m-.75,-3.2h6.6m-3.3,-4.7v9.4m-2.3,-7.9l4.6,6.4m0,-6.4l-4.6,6.4m-.25,-3.2h6.6m-3.3,-4.7v9.4m-2.3,-7.9l4.6,6.4m0,-6.4l-4.6,6.4m-.75,-3.2h6.6m-3.3,-4.7v9.4m-2.3,-7.9l4.6,6.4m0,-6.4l-4.6,6.4m-.75,-3.2h6.6m-3.3,-4.7v9.4m-2.3,-7.9l4.6,6.4m0,-6.4l-4.6,6.4m-.75,-3.2h6.6m-3.3,-4.7v9.4m-2.3,-7.9l4.6,6.4m0,-6.4l-4.6,6.4m-.5,-3.2h6.6m-3.3,-4.7v9.4m-2.3,-7.9l4.6,6.4m0,-6.4l-4.6,6.4m-.75,-3.2h6.6m-3.3,-4.7v9.4m-2.3,-7.9l4.6,6.4m0,-6.4l-4.6,6.4m-.75,-3.2h6.6m-3.3,-4.7v9.4m-2.3,-7.9l4.6,6.4m0,-6.4l-4.6,6.4m-.75,-3.2h6.6m-3.3,-4.7v9.4m-2.3,-7.9l4.6,6.4m0,-6.4l-4.6,6.4m-.75,-3.2h6.6m-3.3,-4.7v9.4m-2.3,-7.9l4.6,6.4m0,-6.4l-4.6,6.4m-.75,-3.2h6.6m-3.3,-4.7v9.4m-2.3,-7.9l4.6,6.4m0,-6.4l-4.6,6.4m-.75,-3.2h6.6m-3.3,-4.7v9.4m-2.3,-7.9l4.6,6.4m0,-6.4l-4.6,6.4m-.75,-3.2h6.6m-3.3,-4.7v9.4m-2.3,-7.9l4.6,6.4m0,-6.4l-4.6,6.4m-.5,-3.2h6.6m-3.3,-4.7v9.4m-2.3,-7.9l4.6,6.4m0,-6.4l-4.6,6.4m-.25,-3.2h6.6m-3.3,-4.7v9.4m-2.3,-7.9l4.6,6.4m0,-6.4l-4.6,6.4m-.75,-3.2h6.6m-3.3,-4.7v9.4m-2.3,-7.9l4.6,6.4m0,-6.4l-4.6,6.4m-.5,-3.2h6.6m-3.3,-4.7v9.4m-2.3,-7.9l4.6,6.4m0,-6.4l-4.6,6.4m-.5,-3.2h6.6m-3.3,-4.7v9.4m-2.3,-7.9l4.6,6.4m0,-6.4l-4.6,6.4m-.75,-3.2h6.6m-3.3,-4.7v9.4m-2.3,-7.9l4.6,6.4m0,-6.4l-4.6,6.4m-.75,-3.2h6.6m-3.3,-4.7v9.4m-2.3,-7.9l4.6,6.4m0,-6.4l-4.6,6.4m-.75,-3.2h6.6m-3.3,-4.7v9.4m-2.3,-7.9l4.6,6.4m0,-6.4l-4.6,6.4m-.75,-3.2h6.6m-3.3,-4.7v9.4m-2.3,-7.9l4.6,6.4m0,-6.4l-4.6,6.4m-.75,-3.2h6.6m-3.3,-4.7v9.4m-2.3,-7.9l4.6,6.4m0,-6.4l-4.6,6.4m-.5,-3.2h6.6m-3.3,-4.7v9.4m-2.3,-7.9l4.6,6.4m0,-6.4l-4.6,6.4m-.25,-3.2h6.6m-3.3,-4.7v9.4m-2.3,-7.9l4.6,6.4m0,-6.4l-4.6,6.4m-.25,-3.2h6.6m-3.3,-4.7v9.4m-2.3,-7.9l4.6,6.4m0,-6.4l-4.6,6.4m-.75,-3.2h6.6m-3.3,-4.7v9.4m-2.3,-7.9l4.6,6.4m0,-6.4l-4.6,6.4m-.75,-3.2h6.6m-3.3,-4.7v9.4m-2.3,-7.9l4.6,6.4m0,-6.4l-4.6,6.4m-.75,-3.2h6.6m-3.3,-4.7v9.4m-2.3,-7.9l4.6,6.4m0,-6.4l-4.6,6.4m-.75,-3.2h6.6m-3.3,-4.7v9.4m-2.3,-7.9l4.6,6.4m0,-6.4l-4.6,6.4m-.75,-3.2h6.6m-3.3,-4.7v9.4m-2.3,-7.9l4.6,6.4m0,-6.4l-4.6,6.4m-.5,-3.2h6.6m-3.3,-4.7v9.4m-2.3,-7.9l4.6,6.4m0,-6.4l-4.6,6.4m-.75,-3.2h6.6m-3.3,-4.7v9.4m-2.3,-7.9l4.6,6.4m0,-6.4l-4.6,6.4m-.75,-3.2h6.6m-3.3,-4.7v9.4m-2.3,-7.9l4.6,6.4m0,-6.4l-4.6,6.4m-.75,-3.2h6.6m-3.3,-4.7v9.4m-2.3,-7.9l4.6,6.4m0,-6.4l-4.6,6.4m-.75,-3.2h6.6m-3.3,-4.7v9.4m-2.3,-7.9l4.6,6.4m0,-6.4l-4.6,6.4m-.75,-3.2h6.6m-3.3,-4.7v9.4m-2.3,-7.9l4.6,6.4m0,-6.4l-4.6,6.4m-.75,-3.2h6.6m-3.3,-4.7v9.4m-2.3,-7.9l4.6,6.4m0,-6.4l-4.6,6.4m-.5,-3.2h6.6m-3.3,-4.7v9.4m-2.3,-7.9l4.6,6.4m0,-6.4l-4.6,6.4m-.75,-3.2h6.6m-3.3,-4.7v9.4m-2.3,-7.9l4.6,6.4m0,-6.4l-4.6,6.4m-.75,-3.2h6.6m-3.3,-4.7v9.4m-2.3,-7.9l4.6,6.4m0,-6.4l-4.6,6.4m-.75,-3.2h6.6m-3.3,-4.7v9.4m-2.3,-7.9l4.6,6.4m0,-6.4l-4.6,6.4m-.75,-3.2h6.6m-3.3,-4.7v9.4m-2.3,-7.9l4.6,6.4m0,-6.4l-4.6,6.4m-.75,-3.2h6.6m-3.3,-4.7v9.4m-2.3,-7.9l4.6,6.4m0,-6.4l-4.6,6.4m-.75,-3.2h6.6m-3.3,-4.7v9.4m-2.3,-7.9l4.6,6.4m0,-6.4l-4.6,6.4m-.75,-3.2h6.6m-3.3,-4.7v9.4m-2.3,-7.9l4.6,6.4m0,-6.4l-4.6,6.4m.25,-3.2h6.6m-3.3,-4.7v9.4m-2.3,-7.9l4.6,6.4m0,-6.4l-4.6,6.4m-.75,-3.2h6.6m-3.3,-4.7v9.4m-2.3,-7.9l4.6,6.4m0,-6.4l-4.6,6.4m-.75,-3.2h6.6m-3.3,-4.7v9.4m-2.3,-7.9l4.6,6.4m0,-6.4l-4.6,6.4m-.75,-3.2h6.6m-3.3,-4.7v9.4m-2.3,-7.9l4.6,6.4m0,-6.4l-4.6,6.4m-.75,-3.2h6.6m-3.3,-4.7v9.4m-2.3,-7.9l4.6,6.4m0,-6.4l-4.6,6.4m-.75,-3.2h6.6m-3.3,-4.7v9.4m-2.3,-7.9l4.6,6.4m0,-6.4l-4.6,6.4m-.75,-3.2h6.6m-3.3,-4.7v9.4m-2.3,-7.9l4.6,6.4m0,-6.4l-4.6,6.4m-.5,-3.2h6.6m-3.3,-4.7v9.4m-2.3,-7.9l4.6,6.4m0,-6.4l-4.6,6.4m-.75,-3.2h6.6m-3.3,-4.7v9.4m-2.3,-7.9l4.6,6.4m0,-6.4l-4.6,6.4m-.75,-3.2h6.6m-3.3,-4.7v9.4m-2.3,-7.9l4.6,6.4m0,-6.4l-4.6,6.4m-.75,-3.2h6.6m-3.3,-4.7v9.4m-2.3,-7.9l4.6,6.4m0,-6.4l-4.6,6.4m-.75,-3.2h6.6m-3.3,-4.7v9.4m-2.3,-7.9l4.6,6.4m0,-6.4l-4.6,6.4m-.75,-3.2h6.6m-3.3,-4.7v9.4m-2.3,-7.9l4.6,6.4m0,-6.4l-4.6,6.4m-.75,-3.2h6.6m-3.3,-4.7v9.4m-2.3,-7.9l4.6,6.4m0,-6.4l-4.6,6.4m-.75,-3.2h6.6m-3.3,-4.7v9.4m-2.3,-7.9l4.6,6.4m0,-6.4l-4.6,6.4m-.75,-3.2h6.6m-3.3,-4.7v9.4m-2.3,-7.9l4.6,6.4m0,-6.4l-4.6,6.4m-.75,-3.2h6.6m-3.3,-4.7v9.4m-2.3,-7.9l4.6,6.4m0,-6.4l-4.6,6.4m-.75,-3.2h6.6m-3.3,-4.7v9.4m-2.3,-7.9l4.6,6.4m0,-6.4l-4.6,6.4m-.5,-3.2h6.6m-3.3,-4.7v9.4m-2.3,-7.9l4.6,6.4m0,-6.4l-4.6,6.4" fill="none" stroke="#ff00ff" stroke-width="0.85"/>
<path d="M355.2,255.4h6.6m-3.3,-4.7v9.4m-2.3,-7.9l4.6,6.4m0,-6.4l-4.6,6.4m-.5,-3.2h6.6m-3.3,-4.7v9.4m-2.3,-7.9l4.6,6.4m0,-6.4l-4.6,6.4m-.75,-3.2h6.6m-3.3,-4.7v9.4m-2.3,-7.9l4.6,6.4m0,-6.4l-4.6,6.4m-.5,-3.2h6.6m-3.3,-4.7v9.4m-2.3,-7.9l4.6,6.4m0,-6.4l-4.6,6.4m-.75,-3.2h6.6m-3.3,-4.7v9.4m-2.3,-7.9l4.6,6.4m0,-6.4l-4.6,6.4m-.75,-3.2h6.6m-3.3,-4.7v9.4m-2.3,-7.9l4.6,6.4m0,-6.4l-4.6,6.4m0,-3.2h6.6m-3.3,-4.7v9.4m-2.3,-7.9l4.6,6.4m0,-6.4l-4.6,6.4m-.25,-3.2h6.6m-3.3,-4.7v9.4m-2.3,-7.9l4.6,6.4m0,-6.4l-4.6,6.4m-.75,-3.2h6.6m-3.3,-4.7v9.4m-2.3,-7.9l4.6,6.4m0,-6.4l-4.6,6.4m-.75,-3.2h6.6m-3.3,-4.7v9.4m-2.3,-7.9l4.6,6.4m0,-6.4l-4.6,6.4m-.75,-3.2h6.6m-3.3,-4.7v9.4m-2.3,-7.9l4.6,6.4m0,-6.4l-4.6,6.4m-.75,-3.2h6.6m-3.3,-4.7v9.4m-2.3,-7.9l4.6,6.4m0,-6.4l-4.6,6.4m-.5,-3.2h6.6m-3.3,-4.7v9.4m-2.3,-7.9l4.6,6.4m0,-6.4l-4.6,6.4m-.75,-3.2h6.6m-3.3,-4.7v9.4m-2.3,-7.9l4.6,6.4m0,-6.4l-4.6,6.4m-.75,-3.2h6.6m-3.3,-4.7v9.4m-2.3,-7.9l4.6,6.4m0,-6.4l-4.6,6.4m1,-3.2h6.6m-3.3,-4.7v9.4m-2.3,-7.9l4.6,6.4m0,-6.4l-4.6,6.4m0,-3.2h6.6m-3.3,-4.7v9.4m-2.3,-7.9l4.6,6.4m0,-6.4l-4.6,6.4m-.75,-3.2h6.6m-3.3,-4.7v9.4m-2.3,-7.9l4.6,6.4m0,-6.4l-4.6,6.4m-.5,-3.2h6.6m-3.3,-4.7v9.4m-2.3,-7.9l4.6,6.4m0,-6.4l-4.6,6.4m-.5,-3.2h6.6m-3.3,-4.7v9.4m-2.3,-7.9l4.6,6.4m0,-6.4l-4.6,6.4m-.75,-3.2h6.6m-3.3,-4.7v9.4m-2.3,-7.9l4.6,6.4m0,-6.4l-4.6,6.4m-.5,-3.2h6.6m-3.3,-4.7v9.4m-2.3,-7.9l4.6,6.4m0,-6.4l-4.6,6.4m-.75,-3.2h6.6m-3.3,-4.7v9.4m-2.3,-7.9l4.6,6.4m0,-6.4l-4.6,6.4m.25,-3.2h6.6m-3.3,-4.7v9.4m-2.3,-7.9l4.6,6.4m0,-6.4l-4.6,6.4m-.5,-3.2h6.6m-3.3,-4.7v9.4m-2.3,-7.9l4.6,6.4m0,-6.4l-4.6,6.4m-.5,-3.2h6.6m-3.3,-4.7v9.4m-2.3,-7.9l4.6,6.4m0,-6.4l-4.6,6.4m-.5,-3.2h6.6m-3.3,-4.7v9.4m-2.3,-7.9l4.6,6.4m0,-6.4l-4.6,6.4m0,-3.2h6.6m-3.3,-4.7v9.4m-2.3,-7.9l4.6,6.4m0,-6.4l-4.6,6.4m.75,-3.2h6.6m-3.3,-4.7v9.4m-2.3,-7.9l4.6,6.4m0,-6.4l-4.6,6.4m-.5,-3.2h6.6m-3.3,-4.7v9.4m-2.3,-7.9l4.6,6.4m0,-6.4l-4.6,6.4m-.75,-3.2h6.6m-3.3,-4.7v9.4m-2.3,-7.9l4.6,6.4m0,-6.4l-4.6,6.4m-.75,-3.2h6.6m-3.3,-4.7v9.4m-2.3,-7.9l4.6,6.4m0,-6.4l-4.6,6.4m0,-3.2h6.6m-3.3,-4.7v9.4m-2.3,-7.9l4.6,6.4m0,-6.4l-4.6,6.4m.75,-3.2h6.6m-3.3,-4.7v9.4m-2.3,-7.9l4.6,6.4m0,-6.4l-4.6,6.4m-.75,-3.2h6.6m-3.3,-4.7v9.4m-2.3,-7.9l4.6,6.4m0,-6.4l-4.6,6.4m-.25,-3.2h6.6m-3.3,-4.7v9.4m-2.3,-7.9l4.6,6.4m0,-6.4l-4.6,6.4m-.75,-3.2h6.6m-3.3,-4.7v9.4m-2.3,-7.9l4.6,6.4m0,-6.4l-4.6,6.4m-.75,-3.2h6.6m-3.3,-4.7v9.4m-2.3,-7.9l4.6,6.4m0,-6.4l-4.6,6.4m-.5,-3.2h6.6m-3.3,-4.7v9.4m-2.3,-7.9l4.6,6.4m0,-6.4l-4.6,6.4m.75,-3.2h6.6m-3.3,-4.7v9.4m-2.3,-7.9l4.6,6.4m0,-6.4l-4.6,6.4m-.5,-3.2h6.6m-3.3,-4.7v9.4m-2.3,-7.9l4.6,6.4m0,-6.4l-4.6,6.4m0,-3.2h6.6m-3.3,-4.7v9.4m-2.3,-7.9l4.6,6.4m0,-6.4l-4.6,6.4m-.5,-3.2h6.6m-3.3,-4.7v9.4m-2.3,-7.9l4.6,6.4m0,-6.4l-4.6,6.4m-.25,-3.2h6.6m-3.3,-4.7v9.4m-2.3,-7.9l4.6,6.4m0,-6.4l-4.6,6.4m0,-3.2h6.6m-3.3,-4.7v9.4m-2.3,-7.9l4.6,6.4m0,-6.4l-4.6,6.4m-.75,-3.2h6.6m-3.3,-4.7v9.4m-2.3,-7.9l4.6,6.4m0,-6.4l-4.6,6.4m-.5,-3.2h6.6m-3.3,-4.7v9.4m-2.3,-7.9l4.6,6.4m0,-6.4l-4.6,6.4m-.75,-3.2h6.6m-3.3,-4.7v9.4m-2.3,-7.9l4.6,6.4m0,-6.4l-4.6,6.4m-.25,-3.2h6.6m-3.3,-4.7v9.4m-2.3,-7.9l4.6,6.4m0,-6.4l-4.6,6.4m-.75,-3.2h6.6m-3.3,-4.7v9.4m-2.3,-7.9l4.6,6.4m0,-6.4l-4.6,6.4m1.5,-3.2h6.6m-3.3,-4.7v9.4m-2.3,-7.9l4.6,6.4m0,-6.4l-4.6,6.4m-.25,-3.2h6.6m-3.3,-4.7v9.4m-2.3,-7.9l4.6,6.4m0,-6.4l-4.6,6.4m-.5,-3.2h6.6m-3.3,-4.7v9.4m-2.3,-7.9l4.6,6.4m0,-6.4l-4.6,6.4m-.5,-3.2h6.6m-3.3,-4.7v9.4m-2.3,-7.9l4.6,6.4m0,-6.4l-4.6,6.4m-.75,-3.2h6.6m-3.3,-4.7v9.4m-2.3,-7.9l4.6,6.4m0,-6.4l-4.6,6.4m-.5,-3.2h6.6m-3.3,-4.7v9.4m-2.3,-7.9l4.6,6.4m0,-6.4l-4.6,6.4m-.25,-3.2h6.6m-3.3,-4.7v9.4m-2.3,-7.9l4.6,6.4m0,-6.4l-4.6,6.4m.25,-3.2h6.6m-3.3,-4.7v9.4m-2.3,-7.9l4.6,6.4m0,-6.4l-4.6,6.4m-.5,-3.2h6.6m-3.3,-4.7v9.4m-2.3,-7.9l4.6,6.4m0,-6.4l-4.6,6.4m-.25,-3.2h6.6m-3.3,-4.7v9.4m-2.3,-7.9l4.6,6.4m0,-6.4l-4.6,6.4m-.75,-3.2h6.6m-3.3,-4.7v9.4m-2.3,-7.9l4.6,6.4m0,-6.4l-4.6,6.4m-.75,-3.2h6.6m-3.3,-4.7v9.4m-2.3,-7.9l4.6,6.4m0,-6.4l-4.6,6.4m-.25,-3.2h6.6m-3.3,-4.7v9.4m-2.3,-7.9l4.6,6.4m0,-6.4l-4.6,6.4m-.75,-3.2h6.6m-3.3,-4.7v9.4m-2.3,-7.9l4.6,6.4m0,-6.4l-4.6,6.4m-.75,-3.2h6.6m-3.3,-4.7v9.4m-2.3,-7.9l4.6,6.4m0,-6.4l-4.6,6.4m-.25,-3.2h6.6m-3.3,-4.7v9.4m-2.3,-7.9l4.6,6.4m0,-6.4l-4.6,6.4m-.75,-3.2h6.6m-3.3,-4.7v9.4m-2.3,-7.9l4.6,6.4m0,-6.4l-4.6,6.4m0,-3.2h6.6m-3.3,-4.7v9.4m-2.3,-7.9l4.6,6.4m0,-6.4l-4.6,6.4m-.75,-3.2h6.6m-3.3,-4.7v9.4m-2.3,-7.9l4.6,6.4m0,-6.4l-4.6,6.4m-.5,-3.2h6.6m-3.3,-4.7v9.4m-2.3,-7.9l4.6,6.4m0,-6.4l-4.6,6.4m-.75,-3.2h6.6m-3.3,-4.7v9.4m-2.3,-7.9l4.6,6.4m0,-6.4l-4.6,6.4m-.25,-3.2h6.6m-3.3,-4.7v9.4m-2.3,-7.9l4.6,6.4m0,-6.4l-4.6,6.4m-.5,-3.2h6.6m-3.3,-4.7v9.4m-2.3,-7.9l4.6,6.4m0,-6.4l-4.6,6.4m-.25,-3.2h6.6m-3.3,-4.7v9.4m-2.3,-7.9l4.6,6.4m0,-6.4l-4.6,6.4m-.75,-3.2h6.6m-3.3,-4.7v9.4m-2.3,-7.9l4.6,6.4m0,-6.4l-4.6,6.4m-.5,-3.2h6.6m-3.3,-4.7v9.4m-2.3,-7.9l4.6,6.4m0,-6.4l-4.6,6.4m-.75,-3.2h6.6m-3.3,-4.7v9.4m-2.3,-7.9l4.6,6.4m0,-6.4l-4.6,6.4m.5,-3.2h6.6m-3.3,-4.7v9.4m-2.3,-7.9l4.6,6.4m0,-6.4l-4.6,6.4m-.75,-3.2h6.6m-3.3,-4.7v9.4m-2.3,-7.9l4.6,6.4m0,-6.4l-4.6,6.4m-.75,-3.2h6.6m-3.3,-4.7v9.4m-2.3,-7.9l4.6,6.4m0,-6.4l-4.6,6.4m-.5,-3.2h6.6m-3.3,-4.7v9.4m-2.3,-7.9l4.6,6.4m0,-6.4l-4.6,6.4m-.25,-3.2h6.6m-3.3,-4.7v9.4m-2.3,-7.9l4.6,6.4m0,-6.4l-4.6,6.4m-.75,-3.2h6.6m-3.3,-4.7v9.4m-2.3,-7.9l4.6,6.4m0,-6.4l-4.6,6.4m-.5,-3.2h6.6m-3.3,-4.7v9.4m-2.3,-7.9l4.6,6.4m0,-6.4l-4.6,6.4m.5,-3.2h6.6m-3.3,-4.7v9.4m-2.3,-7.9l4.6,6.4m0,-6.4l-4.6,6.4m-.25,-3.2h6.6m-3.3,-4.7v9.4m-2.3,-7.9l4.6,6.4m0,-6.4l-4.6,6.4m-.25,-3.2h6.6m-3.3,-4.7v9.4m-2.3,-7.9l4.6,6.4m0,-6.4l-4.6,6.4m-.25,-3.2h6.6m-3.3,-4.7v9.4m-2.3,-7.9l4.6,6.4m0,-6.4l-4.6,6.4m-.5,-3.2h6.6m-3.3,-4.7v9.4m-2.3,-7.9l4.6,6.4m0,-6.4l-4.6,6.4m-.75,-3.2h6.6m-3.3,-4.7v9.4m-2.3,-7.9l4.6,6.4m0,-6.4l-4.6,6.4m-.5,-3.2h6.6m-3.3,-4.7v9.4m-2.3,-7.9l4.6,6.4m0,-6.4l-4.6,6.4m-.75,-3.2h6.6m-3.3,-4.7v9.4m-2.3,-7.9l4.6,6.4m0,-6.4l-4.6,6.4m1,-3.2h6.6m-3.3,-4.7v9.4m-2.3,-7.9l4.6,6.4m0,-6.4l-4.6,6.4m0,-3.2h6.6m-3.3,-4.7v9.4m-2.3,-7.9l4.6,6.4m0,-6.4l-4.6,6.4m-.5,-3.2h6.6m-3.3,-4.7v9.4m-2.3,-7.9l4.6,6.4m0,-6.4l-4.6,6.4m-.75,-3.2h6.6m-3.3,-4.7v9.4m-2.3,-7.9l4.6,6.4m0,-6.4l-4.6,6.4m.25,-3.2h6.6m-3.3,-4.7v9.4m-2.3,-7.9l4.6,6.4m0,-6.4l-4.6,6.4m0,-3.2h6.6m-3.3,-4.7v9.4m-2.3,-7.9l4.6,6.4m0,-6.4l-4.6,6.4m-.25,-3.2h6.6m-3.3,-4.7v9.4m-2.3,-7.9l4.6,6.4m0,-6.4l-4.6,6.4m0,-3.2h6.6m-3.3,-4.7v9.4m-2.3,-7.9l4.6,6.4m0,-6.4l-4.6,6.4m-.75,-3.2h6.6m-3.3,-4.7v9.4m-2.3,-7.9l4.6,6.4m0,-6.4l-4.6,6.4m-.25,-3.2h6.6m-3.3,-4.7v9.4m-2.3,-7.9l4.6,6.4m0,-6.4l-4.6,6.4m-.5,-3.2h6.6m-3.3,-4.7v9.4m-2.3,-7.9l4.6,6.4m0,-6.4l-4.6,6.4m-.75,-3.2h6.6m-3.3,-4.7v9.4m-2.3,-7.9l4.6,6.4m0,-6.4l-4.6,6.4m1,-3.2h6.6m-3.3,-4.7v9.4m-2.3,-7.9l4.6,6.4m0,-6.4l-4.6,6.4m-.5,-3.2h6.6m-3.3,-4.7v9.4m-2.3,-7.9l4.6,6.4m0,-6.4l-4.6,6.4m-.5,-3.2h6.6m-3.3,-4.7v9.4m-2.3,-7.9l4.6,6.4m0,-6.4l-4.6,6.4m-.75,-3.2h6.6m-3.3,-4.7v9.4m-2.3,-7.9l4.6,6.4m0,-6.4l-4.6,6.4m-.75,-3.2h6.6m-3.3,-4.7v9.4m-2.3,-7.9l4.6,6.4m0,-6.4l-4.6,6.4m0,-3.2h6.6m-3.3,-4.7v9.4m-2.3,-7.9l4.6,6.4m0,-6.4l-4.6,6.4m-.75,-3.2h6.6m-3.3,-4.7v9.4m-2.3,-7.9l4.6,6.4m0,-6.4l-4.6,6.4m-.75,-3.2h6.6m-3.3,-4.7v9.4m-2.3,-7.9l4.6,6.4m0,-6.4l-4.6,6.4m0,-3.2h6.6m-3.3,-4.7v9.4m-2.3,-7.9l4.6,6.4m0,-6.4l-4.6,6.4m-.75,-3.2h6.6m-3.3,-4.7v9.4m-2.3,-7.9l4.6,6.4m0,-6.4l-4.6,6.4m0,-3.2h6.6m-3.3,-4.7v9.4m-2.3,-7.9l4.6,6.4m0,-6.4l-4.6,6.4m-.5,-3.2h6.6m-3.3,-4.7v9.4m-2.3,-7.9l4.6,6.4m0,-6.4l-4.6,6.4m-.75,-3.2h6.6m-3.3,-4.7v9.4m-2.3,-7.9l4.6,6.4m0,-6.4l-4.6,6.4m-.5,-3.2h6.6m-3.3,-4.7v9.4m-2.3,-7.9l4.6,6.4m0,-6.4l-4.6,6.4m-.5,-3.2h6.6m-3.3,-4.7v9.4m-2.3,-7.9l4.6,6.4m0,-6.4l-4.6,6.4m.75,-3.2h6.6m-3.3,-4.7v9.4m-2.3,-7.9l4.6,6.4m0,-6.4l-4.6,6.4m0,-3.2h6.6m-3.3,-4.7v9.4m-2.3,-7.9l4.6,6.4m0,-6.4l-4.6,6.4m-.5,-3.2h6.6m-3.3,-4.7v9.4m-2.3,-7.9l4.6,6.4m0,-6.4l-4.6,6.4m-.5,-3.2h6.6m-3.3,-4.7v9.4m-2.3,-7.9l4.6,6.4m0,-6.4l-4.6,6.4m-.75,-3.2h6.6m-3.3,-4.7v9.4m-2.3,-7.9l4.6,6.4m0,-6.4l-4.6,6.4m-.75,-3.2h6.6m-3.3,-4.7v9.4m-2.3,-7.9l4.6,6.4m0,-6.4l-4.6,6.4m-.75,-3.2h6.6m-3.3,-4.7v9.4m-2.3,-7.9l4.6,6.4m0,-6.4l-4.6,6.4m-.5,-3.2h6.6m-3.3,-4.7v9.4m-2.3,-7.9l4.6,6.4m0,-6.4l-4.6,6.4m.5,-3.2h6.6m-3.3,-4.7v9.4m-2.3,-7.9l4.6,6.4m0,-6.4l-4.6,6.4m.25,-3.2h6.6m-3.3,-4.7v9.4m-2.3,-7.9l4.6,6.4m0,-6.4l-4.6,6.4m-.5,-3.2h6.6m-3.3,-4.7v9.4m-2.3,-7.9l4.6,6.4m0,-6.4l-4.6,6.4m-.25,-3.2h6.6m-3.3,-4.7v9.4m-2.3,-7.9l4.6,6.4m0,-6.4l-4.6,6.4m1,-3.2h6.6m-3.3,-4.7v9.4m-2.3,-7.9l4.6,6.4m0,-6.4l-4.6,6.4m.25,-3.2h6.6m-3.3,-4.7v9.4m-2.3,-7.9l4.6,6.4m0,-6.4l-4.6,6.4m-.25,-3.2h6.6m-3.3,-4.7v9.4m-2.3,-7.9l4.6,6.4m0,-6.4l-4.6,6.4m.25,-3.2h6.6m-3.3,-4.7v9.4m-2.3,-7.9l4.6,6.4m0,-6.4l-4.6,6.4m.25,-3.2h6.6m-3.3,-4.7v9.4m-2.3,-7.9l4.6,6.4m0,-6.4l-4.6,6.4m-.75,-3.2h6.6m-3.3,-4.7v9.4m-2.3,-7.9l4.6,6.4m0,-6.4l-4.6,6.4m-.75,-3.2h6.6m-3.3,-4.7v9.4m-2.3,-7.9l4.6,6.4m0,-6.4l-4.6,6.4m-.5,-3.2h6.6m-3.3,-4.7v9.4m-2.3,-7.9l4.6,6.4m0,-6.4l-4.6,6.4m-.5,-3.2h6.6m-3.3,-4.7v9.4m-2.3,-7.9l4.6,6.4m0,-6.4l-4.6,6.4m-.75,-3.2h6.6m-3.3,-4.7v9.4m-2.3,-7.9l4.6,6.4m0,-6.4l-4.6,6.4m.25,-3.2h6.6m-3.3,-4.7v9.4m-2.3,-7.9l4.6,6.4m0,-6.4l-4.6,6.4m-.75,-3.2h6.6m-3.3,-4.7v9.4m-2.3,-7.9l4.6,6.4m0,-6.4l-4.6,6.4m-.25,-3.2h6.6m-3.3,-4.7v9.4m-2.3,-7.9l4.6,6.4m0,-6.4l-4.6,6.4m-.5,-3.2h6.6m-3.3,-4.7v9.4m-2.3,-7.9l4.6,6.4m0,-6.4l-4.6,6.4m-.25,-3.2h6.6m-3.3,-4.7v9.4m-2.3,-7.9l4.6,6.4m0,-6.4l-4.6,6.4m-.5,-3.2h6.6m-3.3,-4.7v9.4m-2.3,-7.9l4.6,6.4m0,-6.4l-4.6,6.4m.25,-3.2h6.6m-3.3,-4.7v9.4m-2.3,-7.9l4.6,6.4m0,-6.4l-4.6,6.4m.75,-3.2h6.6m-3.3,-4.7v9.4m-2.3,-7.9l4.6,6.4m0,-6.4l-4.6,6.4m-.75,-3.2h6.6m-3.3,-4.7v9.4m-2.3,-7.9l4.6,6.4m0,-6.4l-4.6,6.4m-.25,-3.2h6.6m-3.3,-4.7v9.4m-2.3,-7.9l4.6,6.4m0,-6.4l-4.6,6.4m.25,-3.2h6.6m-3.3,-4.7v9.4m-2.3,-7.9l4.6,6.4m0,-6.4l-4.6,6.4m1.5,-3.2h6.6m-3.3,-4.7v9.4m-2.3,-7.9l4.6,6.4m0,-6.4l-4.6,6.4m-.25,-3.2h6.6m-3.3,-4.7v9.4m-2.3,-7.9l4.6,6.4m0,-6.4l-4.6,6.4m.25,-3.2h6.6m-3.3,-4.7v9.4m-2.3,-7.9l4.6,6.4m0,-6.4l-4.6,6.4m-.5,-3.2h6.6m-3.3,-4.7v9.4m-2.3,-7.9l4.6,6.4m0,-6.4l-4.6,6.4m-.75,-3.2h6.6m-3.3,-4.7v9.4m-2.3,-7.9l4.6,6.4m0,-6.4l-4.6,6.4m-.5,-3.2h6.6m-3.3,-4.7v9.4m-2.3,-7.9l4.6,6.4m0,-6.4l-4.6,6.4m-.75,-3.2h6.6m-3.3,-4.7v9.4m-2.3,-7.9l4.6,6.4m0,-6.4l-4.6,6.4m-.25,-3.2h6.6m-3.3,-4.7v9.4m-2.3,-7.9l4.6,6.4m0,-6.4l-4.6,6.4m.25,-3.2h6.6m-3.3,-4.7v9.4m-2.3,-7.9l4.6,6.4m0,-6.4l-4.6,6.4m-.75,-3.2h6.6m-3.3,-4.7v9.4m-2.3,-7.9l4.6,6.4m0,-6.4l-4.6,6.4m-.75,-3.2h6.6m-3.3,-4.7v9.4m-2.3,-7.9l4.6,6.4m0,-6.4l-4.6,6.4m-.75,-3.2h6.6m-3.3,-4.7v9.4m-2.3,-7.9l4.6,6.4m0,-6.4l-4.6,6.4m-.75,-3.2h6.6m-3.3,-4.7v9.4m-2.3,-7.9l4.6,6.4m0,-6.4l-4.6,6.4m-.25,-3.2h6.6m-3.3,-4.7v9.4m-2.3,-7.9l4.6,6.4m0,-6.4l-4.6,6.4m-.25,-3.2h6.6m-3.3,-4.7v9.4m-2.3,-7.9l4.6,6.4m0,-6.4l-4.6,6.4m.5,-3.2h6.6m-3.3,-4.7v9.4m-2.3,-7.9l4.6,6.4m0,-6.4l-4.6,6.4m-.25,-3.2h6.6m-3.3,-4.7v9.4m-2.3,-7.9l4.6,6.4m0,-6.4l-4.6,6.4m-.75,-3.2h6.6m-3.3,-4.7v9.4m-2.3,-7.9l4.6,6.4m0,-6.4l-4.6,6.4m0,-3.2h6.6m-3.3,-4.7v9.4m-2.3,-7.9l4.6,6.4m0,-6.4l-4.6,6.4m-.5,-3.2h6.6m-3.3,-4.7v9.4m-2.3,-7.9l4.6,6.4m0,-6.4l-4.6,6.4m-.25,-3.2h6.6m-3.3,-4.7v9.4m-2.3,-7.9l4.6,6.4m0,-6.4l-4.6,6.4m0,-3.2h6.6m-3.3,-4.7v9.4m-2.3,-7.9l4.6,6.4m0,-6.4l-4.6,6.4m-.75,-3.2h6.6m-3.3,-4.7v9.4m-2.3,-7.9l4.6,6.4m0,-6.4l-4.6,6.4m-.75,-3.2h6.6m-3.3,-4.7v9.4m-2.3,-7.9l4.6,6.4m0,-6.4l-4.6,6.4m-.75,-3.2h6.6m-3.3,-4.7v9.4m-2.3,-7.9l4.6,6.4m0,-6.4l-4.6,6.4m-.75,-3.2h6.6m-3.3,-4.7v9.4m-2.3,-7.9l4.6,6.4m0,-6.4l-4.6,6.4m-.75,-3.2h6.6m-3.3,-4.7v9.4m-2.3,-7.9l4.6,6.4m0,-6.4l-4.6,6.4m-.5,-3.2h6.6m-3.3,-4.7v9.4m-2.3,-7.9l4.6,6.4m0,-6.4l-4.6,6.4m-.25,-3.2h6.6m-3.3,-4.7v9.4m-2.3,-7.9l4.6,6.4m0,-6.4l-4.6,6.4m-.5,-3.2h6.6m-3.3,-4.7v9.4m-2.3,-7.9l4.6,6.4m0,-6.4l-4.6,6.4m-.5,-3.2h6.6m-3.3,-4.7v9.4m-2.3,-7.9l4.6,6.4m0,-6.4l-4.6,6.4m-.5,-3.2h6.6m-3.3,-4.7v9.4m-2.3,-7.9l4.6,6.4m0,-6.4l-4.6,6.4m-.25,-3.2h6.6m-3.3,-4.7v9.4m-2.3,-7.9l4.6,6.4m0,-6.4l-4.6,6.4m-.5,-3.2h6.6m-3.3,-4.7v9.4m-2.3,-7.9l4.6,6.4m0,-6.4l-4.6,6.4m-.75,-3.2h6.6m-3.3,-4.7v9.4m-2.3,-7.9l4.6,6.4m0,-6.4l-4.6,6.4m-.75,-3.2h6.6m-3.3,-4.7v9.4m-2.3,-7.9l4.6,6.4m0,-6.4l-4.6,6.4m1,-3.2h6.6m-3.3,-4.7v9.4m-2.3,-7.9l4.6,6.4m0,-6.4l-4.6,6.4m-.75,-3.2h6.6m-3.3,-4.7v9.4m-2.3,-7.9l4.6,6.4m0,-6.4l-4.6,6.4m-.75,-3.2h6.6m-3.3,-4.7v9.4m-2.3,-7.9l4.6,6.4m0,-6.4l-4.6,6.4m-.25,-3.2h6.6m-3.3,-4.7v9.4m-2.3,-7.9l4.6,6.4m0,-6.4l-4.6,6.4m-.5,-3.2h6.6m-3.3,-4.7v9.4m-2.3,-7.9l4.6,6.4m0,-6.4l-4.6,6.4m-.5,-3.2h6.6m-3.3,-4.7v9.4m-2.3,-7.9l4.6,6.4m0,-6.4l-4.6,6.4m-.75,-3.2h6.6m-3.3,-4.7v9.4m-2.3,-7.9l4.6,6.4m0,-6.4l-4.6,6.4m-.25,-3.2h6.6m-3.3,-4.7v9.4m-2.3,-7.9l4.6,6.4m0,-6.4l-4.6,6.4m-.75,-3.2h6.6m-3.3,-4.7v9.4m-2.3,-7.9l4.6,6.4m0,-6.4l-4.6,6.4m-.5,-3.2h6.6m-3.3,-4.7v9.4m-2.3,-7.9l4.6,6.4m0,-6.4l-4.6,6.4m-.75,-3.2h6.6m-3.3,-4.7v9.4m-2.3,-7.9l4.6,6.4m0,-6.4l-4.6,6.4m0,-3.2h6.6m-3.3,-4.7v9.4m-2.3,-7.9l4.6,6.4m0,-6.4l-4.6,6.4m.25,-3.2h6.6m-3.3,-4.7v9.4m-2.3,-7.9l4.6,6.4m0,-6.4l-4.6,6.4m-.25,-3.2h6.6m-3.3,-4.7v9.4m-2.3,-7.9l4.6,6.4m0,-6.4l-4.6,6.4m-.5,-3.2h6.6m-3.3,-4.7v9.4m-2.3,-7.9l4.6,6.4m0,-6.4l-4.6,6.4m-.5,-3.2h6.6m-3.3,-4.7v9.4m-2.3,-7.9l4.6,6.4m0,-6.4l-4.6,6.4m-.75,-3.2h6.6m-3.3,-4.7v9.4m-2.3,-7.9l4.6,6.4m0,-6.4l-4.6,6.4m-.75,-3.2h6.6m-3.3,-4.7v9.4m-2.3,-7.9l4.6,6.4m0,-6.4l-4.6,6.4m-.25,-3.2h6.6m-3.3,-4.7v9.4m-2.3,-7.9l4.6,6.4m0,-6.4l-4.6,6.4m-.25,-3.2h6.6m-3.3,-4.7v9.4m-2.3,-7.9l4.6,6.4m0,-6.4l-4.6,6.4m.25,-3.2h6.6m-3.3,-4.7v9.4m-2.3,-7.9l4.6,6.4m0,-6.4l-4.6,6.4m-.5,-3.2h6.6m-3.3,-4.7v9.4m-2.3,-7.9l4.6,6.4m0,-6.4l-4.6,6.4m0,-3.2h6.6m-3.3,-4.7v9.4m-2.3,-7.9l4.6,6.4m0,-6.4l-4.6,6.4m-.25,-3.2h6.6m-3.3,-4.7v9.4m-2.3,-7.9l4.6,6.4m0,-6.4l-4.6,6.4m-.5,-3.2h6.6m-3.3,-4.7v9.4m-2.3,-7.9l4.6,6.4m0,-6.4l-4.6,6.4m-.25,-3.2h6.6m-3.3,-4.7v9.4m-2.3,-7.9l4.6,6.4m0,-6.4l-4.6,6.4m0,-3.2h6.6m-3.3,-4.7v9.4m-2.3,-7.9l4.6,6.4m0,-6.4l-4.6,6.4m-.5,-3.2h6.6m-3.3,-4.7v9.4m-2.3,-7.9l4.6,6.4m0,-6.4l-4.6,6.4m0,-3.2h6.6m-3.3,-4.7v9.4m-2.3,-7.9l4.6,6.4m0,-6.4l-4.6,6.4m-.75,-3.2h6.6m-3.3,-4.7v9.4m-2.3,-7.9l4.6,6.4m0,-6.4l-4.6,6.4m3.75,-3.2h6.6m-3.3,-4.7v9.4m-2.3,-7.9l4.6,6.4m0,-6.4l-4.6,6.4m-.5,-3.2h6.6m-3.3,-4.7v9.4m-2.3,-7.9l4.6,6.4m0,-6.4l-4.6,6.4m0,-3.2h6.6m-3.3,-4.7v9.4m-2.3,-7.9l4.6,6.4m0,-6.4l-4.6,6.4m-.75,-3.2h6.6m-3.3,-4.7v9.4m-2.3,-7.9l4.6,6.4m0,-6.4l-4.6,6.4m.5,-3.2h6.6m-3.3,-4.7v9.4m-2.3,-7.9l4.6,6.4m0,-6.4l-4.6,6.4m-.5,-3.2h6.6m-3.3,-4.7v9.4m-2.3,-7.9l4.6,6.4m0,-6.4l-4.6,6.4m1.75,-3.2h6.6m-3.3,-4.7v9.4m-2.3,-7.9l4.6,6.4m0,-6.4l-4.6,6.4m-.75,-3.2h6.6m-3.3,-4.7v9.4m-2.3,-7.9l4.6,6.4m0,-6.4l-4.6,6.4m-.75,-3.2h6.6m-3.3,-4.7v9.4m-2.3,-7.9l4.6,6.4m0,-6.4l-4.6,6.4m-.5,-3.2h6.6m-3.3,-4.7v9.4m-2.3,-7.9l4.6,6.4m0,-6.4l-4.6,6.4m-.5,-3.2h6.6m-3.3,-4.7v9.4m-2.3,-7.9l4.6,6.4m0,-6.4l-4.6,6.4m0,-3.2h6.6m-3.3,-4.7v9.4m-2.3,-7.9l4.6,6.4m0,-6.4l-4.6,6.4m-.5,-3.2h6.6m-3.3,-4.7v9.4m-2.3,-7.9l4.6,6.4m0,-6.4l-4.6,6.4m-.75,-3.2h6.6m-3.3,-4.7v9.4m-2.3,-7.9l4.6,6.4m0,-6.4l-4.6,6.4m1.25,-3.2h6.6m-3.3,-4.7v9.4m-2.3,-7.9l4.6,6.4m0,-6.4l-4.6,6.4m-.5,-3.2h6.6m-3.3,-4.7v9.4m-2.3,-7.9l4.6,6.4m0,-6.4l-4.6,6.4m-.75,-3.2h6.6m-3.3,-4.7v9.4m-2.3,-7.9l4.6,6.4m0,-6.4l-4.6,6.4m-.5,-3.2h6.6m-3.3,-4.7v9.4m-2.3,-7.9l4.6,6.4m0,-6.4l-4.6,6.4m-.5,-3.2h6.6m-3.3,-4.7v9.4m-2.3,-7.9l4.6,6.4m0,-6.4l-4.6,6.4m-.75,-3.2h6.6m-3.3,-4.7v9.4m-2.3,-7.9l4.6,6.4m0,-6.4l-4.6,6.4m.5,-3.2h6.6m-3.3,-4.7v9.4m-2.3,-7.9l4.6,6.4m0,-6.4l-4.6,6.4m-.5,-3.2h6.6m-3.3,-4.7v9.4m-2.3,-7.9l4.6,6.4m0,-6.4l-4.6,6.4m-.75,-3.2h6.6m-3.3,-4.7v9.4m-2.3,-7.9l4.6,6.4m0,-6.4l-4.6,6.4m0,-3.2h6.6m-3.3,-4.7v9.4m-2.3,-7.9l4.6,6.4m0,-6.4l-4.6,6.4m-.75,-3.2h6.6m-3.3,-4.7v9.4m-2.3,-7.9l4.6,6.4m0,-6.4l-4.6,6.4m-.75,-3.2h6.6m-3.3,-4.7v9.4m-2.3,-7.9l4.6,6.4m0,-6.4l-4.6,6.4m-.75,-3.2h6.6m-3.3,-4.7v9.4m-2.3,-7.9l4.6,6.4m0,-6.4l-4.6,6.4m-.75,-3.2h6.6m-3.3,-4.7v9.4m-2.3,-7.9l4.6,6.4m0,-6.4l-4.6,6.4m1.5,-3.2h6.6m-3.3,-4.7v9.4m-2.3,-7.9l4.6,6.4m0,-6.4l-4.6,6.4m-.75,-3.2h6.6m-3.3,-4.7v9.4m-2.3,-7.9l4.6,6.4m0,-6.4l-4.6,6.4m.5,-3.2h6.6m-3.3,-4.7v9.4m-2.3,-7.9l4.6,6.4m0,-6.4l-4.6,6.4m.5,-3.2h6.6m-3.3,-4.7v9.4m-2.3,-7.9l4.6,6.4m0,-6.4l-4.6,6.4m-.75,-3.2h6.6m-3.3,-4.7v9.4m-2.3,-7.9l4.6,6.4m0,-6.4l-4.6,6.4m-.5,-3.2h6.6m-3.3,-4.7v9.4m-2.3,-7.9l4.6,6.4m0,-6.4l-4.6,6.4m-.75,-3.2h6.6m-3.3,-4.7v9.4m-2.3,-7.9l4.6,6.4m0,-6.4l-4.6,6.4m-.75,-3.2h6.6m-3.3,-4.7v9.4m-2.3,-7.9l4.6,6.4m0,-6.4l-4.6,6.4m0,-3.2h6.6m-3.3,-4.7v9.4m-2.3,-7.9l4.6,6.4m0,-6.4l-4.6,6.4m-.25,-3.2h6.6m-3.3,-4.7v9.4m-2.3,-7.9l4.6,6.4m0,-6.4l-4.6,6.4m-.25,-3.2h6.6m-3.3,-4.7v9.4m-2.3,-7.9l4.6,6.4m0,-6.4l-4.6,6.4m-.5,-3.2h6.6m-3.3,-4.7v9.4m-2.3,-7.9l4.6,6.4m0,-6.4l-4.6,6.4m-.5,-3.2h6.6m-3.3,-4.7v9.4m-2.3,-7.9l4.6,6.4m0,-6.4l-4.6,6.4m-.75,-3.2h6.6m-3.3,-4.7v9.4m-2.3,-7.9l4.6,6.4m0,-6.4l-4.6,6.4m0,-3.2h6.6m-3.3,-4.7v9.4m-2.3,-7.9l4.6,6.4m0,-6.4l-4.6,6.4m-.25,-3.2h6.6m-3.3,-4.7v9.4m-2.3,-7.9l4.6,6.4m0,-6.4l-4.6,6.4m-.25,-3.2h6.6m-3.3,-4.7v9.4m-2.3,-7.9l4.6,6.4m0,-6.4l-4.6,6.4m.5,-3.2h6.6m-3.3,-4.7v9.4m-2.3,-7.9l4.6,6.4m0,-6.4l-4.6,6.4m-.75,-3.2h6.6m-3.3,-4.7v9.4m-2.3,-7.9l4.6,6.4m0,-6.4l-4.6,6.4m1.5,-3.2h6.6m-3.3,-4.7v9.4m-2.3,-7.9l4.6,6.4m0,-6.4l-4.6,6.4m-.75,-3.2h6.6m-3.3,-4.7v9.4m-2.3,-7.9l4.6,6.4m0,-6.4l-4.6,6.4m-.5,-3.2h6.6m-3.3,-4.7v9.4m-2.3,-7.9l4.6,6.4m0,-6.4l-4.6,6.4m-.75,-3.2h6.6m-3.3,-4.7v9.4m-2.3,-7.9l4.6,6.4m0,-6.4l-4.6,6.4m-.25,-3.2h6.6m-3.3,-4.7v9.4m-2.3,-7.9l4.6,6.4m0,-6.4l-4.6,6.4m-.75,-3.2h6.6m-3.3,-4.7v9.4m-2.3,-7.9l4.6,6.4m0,-6.4l-4.6,6.4m-.5,-3.2h6.6m-3.3,-4.7v9.4m-2.3,-7.9l4.6,6.4m0,-6.4l-4.6,6.4m-.5,-3.2h6.6m-3.3,-4.7v9.4m-2.3,-7.9l4.6,6.4m0,-6.4l-4.6,6.4m-.25,-3.2h6.6m-3.3,-4.7v9.4m-2.3,-7.9l4.6,6.4m0,-6.4l-4.6,6.4m-.25,-3.2h6.6m-3.3,-4.7v9.4m-2.3,-7.9l4.6,6.4m0,-6.4l-4.6,6.4m-.5,-3.2h6.6m-3.3,-4.7v9.4m-2.3,-7.9l4.6,6.4m0,-6.4l-4.6,6.4m-.5,-3.2h6.6m-3.3,-4.7v9.4m-2.3,-7.9l4.6,6.4m0,-6.4l-4.6,6.4m-.75,-3.2h6.6m-3.3,-4.7v9.4m-2.3,-7.9l4.6,6.4m0,-6.4l-4.6,6.4m.25,-3.2h6.6m-3.3,-4.7v9.4m-2.3,-7.9l4.6,6.4m0,-6.4l-4.6,6.4m-.75,-3.2h6.6m-3.3,-4.7v9.4m-2.3,-7.9l4.6,6.4m0,-6.4l-4.6,6.4m-.5,-3.2h6.6m-3.3,-4.7v9.4m-2.3,-7.9l4.6,6.4m0,-6.4l-4.6,6.4m-.5,-3.2h6.6m-3.3,-4.7v9.4m-2.3,-7.9l4.6,6.4m0,-6.4l-4.6,6.4m-.5,-3.2h6.6m-3.3,-4.7v9.4m-2.3,-7.9l4.6,6.4m0,-6.4l-4.6,6.4m-.5,-3.2h6.6m-3.3,-4.7v9.4m-2.3,-7.9l4.6,6.4m0,-6.4l-4.6,6.4m0,-3.2h6.6m-3.3,-4.7v9.4m-2.3,-7.9l4.6,6.4m0,-6.4l-4.6,6.4m.25,-3.2h6.6m-3.3,-4.7v9.4m-2.3,-7.9l4.6,6.4m0,-6.4l-4.6,6.4m-.25,-3.2h6.6m-3.3,-4.7v9.4m-2.3,-7.9l4.6,6.4m0,-6.4l-4.6,6.4m-.75,-3.2h6.6m-3.3,-4.7v9.4m-2.3,-7.9l4.6,6.4m0,-6.4l-4.6,6.4m-.75,-3.2h6.6m-3.3,-4.7v9.4m-2.3,-7.9l4.6,6.4m0,-6.4l-4.6,6.4m-.75,-3.2h6.6m-3.3,-4.7v9.4m-2.3,-7.9l4.6,6.4m0,-6.4l-4.6,6.4m-.5,-3.2h6.6m-3.3,-4.7v9.4m-2.3,-7.9l4.6,6.4m0,-6.4l-4.6,6.4m-.75,-3.2h6.6m-3.3,-4.7v9.4m-2.3,-7.9l4.6,6.4m0,-6.4l-4.6,6.4m-.75,-3.2h6.6m-3.3,-4.7v9.4m-2.3,-7.9l4.6,6.4m0,-6.4l-4.6,6.4m-.5,-3.2h6.6m-3.3,-4.7v9.4m-2.3,-7.9l4.6,6.4m0,-6.4l-4.6,6.4m-.5,-3.2h6.6m-3.3,-4.7v9.4m-2.3,-7.9l4.6,6.4m0,-6.4l-4.6,6.4m-.25,-3.2h6.6m-3.3,-4.7v9.4m-2.3,-7.9l4.6,6.4m0,-6.4l-4.6,6.4m-.5,-3.2h6.6m-3.3,-4.7v9.4m-2.3,-7.9l4.6,6.4m0,-6.4l-4.6,6.4m-.5,-3.2h6.6m-3.3,-4.7v9.4m-2.3,-7.9l4.6,6.4m0,-6.4l-4.6,6.4m0,-3.2h6.6m-3.3,-4.7v9.4m-2.3,-7.9l4.6,6.4m0,-6.4l-4.6,6.4m-.75,-3.2h6.6m-3.3,-4.7v9.4m-2.3,-7.9l4.6,6.4m0,-6.4l-4.6,6.4m.5,-3.2h6.6m-3.3,-4.7v9.4m-2.3,-7.9l4.6,6.4m0,-6.4l-4.6,6.4m-.75,-3.2h6.6m-3.3,-4.7v9.4m-2.3,-7.9l4.6,6.4m0,-6.4l-4.6,6.4m-.25,-3.2h6.6m-3.3,-4.7v9.4m-2.3,-7.9l4.6,6.4m0,-6.4l-4.6,6.4m-.5,-3.2h6.6m-3.3,-4.7v9.4m-2.3,-7.9l4.6,6.4m0,-6.4l-4.6,6.4m-.5,-3.2h6.6m-3.3,-4.7v9.4m-2.3,-7.9l4.6,6.4m0,-6.4l-4.6,6.4m.75,-3.2h6.6m-3.3,-4.7v9.4m-2.3,-7.9l4.6,6.4m0,-6.4l-4.6,6.4m.75,-3.2h6.6m-3.3,-4.7v9.4m-2.3,-7.9l4.6,6.4m0,-6.4l-4.6,6.4m0,-3.2h6.6m-3.3,-4.7v9.4m-2.3,-7.9l4.6,6.4m0,-6.4l-4.6,6.4m-.75,-3.2h6.6m-3.3,-4.7v9.4m-2.3,-7.9l4.6,6.4m0,-6.4l-4.6,6.4m-.5,-3.2h6.6m-3.3,-4.7v9.4m-2.3,-7.9l4.6,6.4m0,-6.4l-4.6,6.4m-.75,-3.2h6.6m-3.3,-4.7v9.4m-2.3,-7.9l4.6,6.4m0,-6.4l-4.6,6.4m.25,-3.2h6.6m-3.3,-4.7v9.4m-2.3,-7.9l4.6,6.4m0,-6.4l-4.6,6.4m1.25,-3.2h6.6m-3.3,-4.7v9.4m-2.3,-7.9l4.6,6.4m0,-6.4l-4.6,6.4m-.75,-3.2h6.6m-3.3,-4.7v9.4m-2.3,-7.9l4.6,6.4m0,-6.4l-4.6,6.4m-.75,-3.2h6.6m-3.3,-4.7v9.4m-2.3,-7.9l4.6,6.4m0,-6.4l-4.6,6.4m-.75,-3.2h6.6m-3.3,-4.7v9.4m-2.3,-7.9l4.6,6.4m0,-6.4l-4.6,6.4m-.25,-3.2h6.6m-3.3,-4.7v9.4m-2.3,-7.9l4.6,6.4m0,-6.4l-4.6,6.4m-.75,-3.2h6.6m-3.3,-4.7v9.4m-2.3,-7.9l4.6,6.4m0,-6.4l-4.6,6.4m.75,-3.2h6.6m-3.3,-4.7v9.4m-2.3,-7.9l4.6,6.4m0,-6.4l-4.6,6.4m-.5,-3.2h6.6m-3.3,-4.7v9.4m-2.3,-7.9l4.6,6.4m0,-6.4l-4.6,6.4m-.75,-3.2h6.6m-3.3,-4.7v9.4m-2.3,-7.9l4.6,6.4m0,-6.4l-4.6,6.4m.5,-3.2h6.6m-3.3,-4.7v9.4m-2.3,-7.9l4.6,6.4m0,-6.4l-4.6,6.4m-.75,-3.2h6.6m-3.3,-4.7v9.4m-2.3,-7.9l4.6,6.4m0,-6.4l-4.6,6.4m-.5,-3.2h6.6m-3.3,-4.7v9.4m-2.3,-7.9l4.6,6.4m0,-6.4l-4.6,6.4m-.75,-3.2h6.6m-3.3,-4.7v9.4m-2.3,-7.9l4.6,6.4m0,-6.4l-4.6,6.4m-.25,-3.2h6.6m-3.3,-4.7v9.4m-2.3,-7.9l4.6,6.4m0,-6.4l-4.6,6.4m-.5,-3.2h6.6m-3.3,-4.7v9.4m-2.3,-7.9l4.6,6.4m0,-6.4l-4.6,6.4m.75,-3.2h6.6m-3.3,-4.7v9.4m-2.3,-7.9l4.6,6.4m0,-6.4l-4.6,6.4m-.75,-3.2h6.6m-3.3,-4.7v9.4m-2.3,-7.9l4.6,6.4m0,-6.4l-4.6,6.4m2,-3.2h6.6m-3.3,-4.7v9.4m-2.3,-7.9l4.6,6.4m0,-6.4l-4.6,6.4m-.5,-3.2h6.6m-3.3,-4.7v9.4m-2.3,-7.9l4.6,6.4m0,-6.4l-4.6,6.4m-.25,-3.2h6.6m-3.3,-4.7v9.4m-2.3,-7.9l4.6,6.4m0,-6.4l-4.6,6.4m.5,-3.2h6.6m-3.3,-4.7v9.4m-2.3,-7.9l4.6,6.4m0,-6.4l-4.6,6.4m0,-3.2h6.6m-3.3,-4.7v9.4m-2.3,-7.9l4.6,6.4m0,-6.4l-4.6,6.4m-.75,-3.2h6.6m-3.3,-4.7v9.4m-2.3,-7.9l4.6,6.4m0,-6.4l-4.6,6.4m-.5,-3.2h6.6m-3.3,-4.7v9.4m-2.3,-7.9l4.6,6.4m0,-6.4l-4.6,6.4m1.75,-3.2h6.6m-3.3,-4.7v9.4m-2.3,-7.9l4.6,6.4m0,-6.4l-4.6,6.4m-.25,-3.2h6.6m-3.3,-4.7v9.4m-2.3,-7.9l4.6,6.4m0,-6.4l-4.6,6.4m-.5,-3.2h6.6m-3.3,-4.7v9.4m-2.3,-7.9l4.6,6.4m0,-6.4l-4.6,6.4m-.5,-3.2h6.6m-3.3,-4.7v9.4m-2.3,-7.9l4.6,6.4m0,-6.4l-4.6,6.4m-.25,-3.2h6.6m-3.3,-4.7v9.4m-2.3,-7.9l4.6,6.4m0,-6.4l-4.6,6.4m-.25,-3.2h6.6m-3.3,-4.7v9.4m-2.3,-7.9l4.6,6.4m0,-6.4l-4.6,6.4m-.75,-3.2h6.6m-3.3,-4.7v9.4m-2.3,-7.9l4.6,6.4m0,-6.4l-4.6,6.4m0,-3.2h6.6m-3.3,-4.7v9.4m-2.3,-7.9l4.6,6.4m0,-6.4l-4.6,6.4m-.75,-3.2h6.6m-3.3,-4.7v9.4m-2.3,-7.9l4.6,6.4m0,-6.4l-4.6,6.4m0,-3.2h6.6m-3.3,-4.7v9.4m-2.3,-7.9l4.6,6.4m0,-6.4l-4.6,6.4m-.25,-3.2h6.6m-3.3,-4.7v9.4m-2.3,-7.9l4.6,6.4m0,-6.4l-4.6,6.4m-.75,-3.2h6.6m-3.3,-4.7v9.4m-2.3,-7.9l4.6,6.4m0,-6.4l-4.6,6.4m-.5,-3.2h6.6m-3.3,-4.7v9.4m-2.3,-7.9l4.6,6.4m0,-6.4l-4.6,6.4m-.75,-3.2h6.6m-3.3,-4.7v9.4m-2.3,-7.9l4.6,6.4m0,-6.4l-4.6,6.4m-.75,-3.2h6.6m-3.3,-4.7v9.4m-2.3,-7.9l4.6,6.4m0,-6.4l-4.6,6.4m0,-3.2h6.6m-3.3,-4.7v9.4m-2.3,-7.9l4.6,6.4m0,-6.4l-4.6,6.4m-.25,-3.2h6.6m-3.3,-4.7v9.4m-2.3,-7.9l4.6,6.4m0,-6.4l-4.6,6.4m-.75,-3.2h6.6m-3.3,-4.7v9.4m-2.3,-7.9l4.6,6.4m0,-6.4l-4.6,6.4m-.75,-3.2h6.6m-3.3,-4.7v9.4m-2.3,-7.9l4.6,6.4m0,-6.4l-4.6,6.4m-.25,-3.2h6.6m-3.3,-4.7v9.4m-2.3,-7.9l4.6,6.4m0,-6.4l-4.6,6.4m-.75,-3.2h6.6m-3.3,-4.7v9.4m-2.3,-7.9l4.6,6.4m0,-6.4l-4.6,6.4m-.75,-3.2h6.6m-3.3,-4.7v9.4m-2.3,-7.9l4.6,6.4m0,-6.4l-4.6,6.4m.25,-3.2h6.6m-3.3,-4.7v9.4m-2.3,-7.9l4.6,6.4m0,-6.4l-4.6,6.4m-.75,-3.2h6.6m-3.3,-4.7v9.4m-2.3,-7.9l4.6,6.4m0,-6.4l-4.6,6.4m-.5,-3.2h6.6m-3.3,-4.7v9.4m-2.3,-7.9l4.6,6.4m0,-6.4l-4.6,6.4m.75,-3.2h6.6m-3.3,-4.7v9.4m-2.3,-7.9l4.6,6.4m0,-6.4l-4.6,6.4m-.75,-3.2h6.6m-3.3,-4.7v9.4m-2.3,-7.9l4.6,6.4m0,-6.4l-4.6,6.4m-.25,-3.2h6.6m-3.3,-4.7v9.4m-2.3,-7.9l4.6,6.4m0,-6.4l-4.6,6.4m-.75,-3.2h6.6m-3.3,-4.7v9.4m-2.3,-7.9l4.6,6.4m0,-6.4l-4.6,6.4m-.5,-3.2h6.6m-3.3,-4.7v9.4m-2.3,-7.9l4.6,6.4m0,-6.4l-4.6,6.4m-.5,-3.2h6.6m-3.3,-4.7v9.4m-2.3,-7.9l4.6,6.4m0,-6.4l-4.6,6.4m-.75,-3.2h6.6m-3.3,-4.7v9.4m-2.3,-7.9l4.6,6.4m0,-6.4l-4.6,6.4m-.75,-3.2h6.6m-3.3,-4.7v9.4m-2.3,-7.9l4.6,6.4m0,-6.4l-4.6,6.4m-.75,-3.2h6.6m-3.3,-4.7v9.4m-2.3,-7.9l4.6,6.4m0,-6.4l-4.6,6.4m.25,-3.2h6.6m-3.3,-4.7v9.4m-2.3,-7.9l4.6,6.4m0,-6.4l-4.6,6.4m-.75,-3.2h6.6m-3.3,-4.7v9.4m-2.3,-7.9l4.6,6.4m0,-6.4l-4.6,6.4m-.25,-3.2h6.6m-3.3,-4.7v9.4m-2.3,-7.9l4.6,6.4m0,-6.4l-4.6,6.4m-.25,-3.2h6.6m-3.3,-4.7v9.4m-2.3,-7.9l4.6,6.4m0,-6.4l-4.6,6.4m.25,-3.2h6.6m-3.3,-4.7v9.4m-2.3,-7.9l4.6,6.4m0,-6.4l-4.6,6.4m-.5,-3.2h6.6m-3.3,-4.7v9.4m-2.3,-7.9l4.6,6.4m0,-6.4l-4.6,6.4m-.75,-3.2h6.6m-3.3,-4.7v9.4m-2.3,-7.9l4.6,6.4m0,-6.4l-4.6,6.4m-.75,-3.2h6.6m-3.3,-4.7v9.4m-2.3,-7.9l4.6,6.4m0,-6.4l-4.6,6.4m-.5,-3.2h6.6m-3.3,-4.7v9.4m-2.3,-7.9l4.6,6.4m0,-6.4l-4.6,6.4m-.75,-3.2h6.6m-3.3,-4.7v9.4m-2.3,-7.9l4.6,6.4m0,-6.4l-4.6,6.4m-.5,-3.2h6.6m-3.3,-4.7v9.4m-2.3,-7.9l4.6,6.4m0,-6.4l-4.6,6.4m.25,-3.2h6.6m-3.3,-4.7v9.4m-2.3,-7.9l4.6,6.4m0,-6.4l-4.6,6.4m-.75,-3.2h6.6m-3.3,-4.7v9.4m-2.3,-7.9l4.6,6.4m0,-6.4l-4.6,6.4m-.5,-3.2h6.6m-3.3,-4.7v9.4m-2.3,-7.9l4.6,6.4m0,-6.4l-4.6,6.4m-.5,-3.2h6.6m-3.3,-4.7v9.4m-2.3,-7.9l4.6,6.4m0,-6.4l-4.6,6.4m-.25,-3.2h6.6m-3.3,-4.7v9.4m-2.3,-7.9l4.6,6.4m0,-6.4l-4.6,6.4m-.75,-3.2h6.6m-3.3,-4.7v9.4m-2.3,-7.9l4.6,6.4m0,-6.4l-4.6,6.4m-.75,-3.2h6.6m-3.3,-4.7v9.4m-2.3,-7.9l4.6,6.4m0,-6.4l-4.6,6.4m-.5,-3.2h6.6m-3.3,-4.7v9.4m-2.3,-7.9l4.6,6.4m0,-6.4l-4.6,6.4m-.5,-3.2h6.6m-3.3,-4.7v9.4m-2.3,-7.9l4.6,6.4m0,-6.4l-4.6,6.4m-.75,-3.2h6.6m-3.3,-4.7v9.4m-2.3,-7.9l4.6,6.4m0,-6.4l-4.6,6.4m0,-3.2h6.6m-3.3,-4.7v9.4m-2.3,-7.9l4.6,6.4m0,-6.4l-4.6,6.4m-.5,-3.2h6.6m-3.3,-4.7v9.4m-2.3,-7.9l4.6,6.4m0,-6.4l-4.6,6.4m.5,-3.2h6.6m-3.3,-4.7v9.4m-2.3,-7.9l4.6,6.4m0,-6.4l-4.6,6.4m2.75,-3.2h6.6m-3.3,-4.7v9.4m-2.3,-7.9l4.6,6.4m0,-6.4l-4.6,6.4m-.25,-3.2h6.6m-3.3,-4.7v9.4m-2.3,-7.9l4.6,6.4m0,-6.4l-4.6,6.4m-.5,-3.2h6.6m-3.3,-4.7v9.4m-2.3,-7.9l4.6,6.4m0,-6.4l-4.6,6.4m-.75,-3.2h6.6m-3.3,-4.7v9.4m-2.3,-7.9l4.6,6.4m0,-6.4l-4.6,6.4m-.5,-3.2h6.6m-3.3,-4.7v9.4m-2.3,-7.9l4.6,6.4m0,-6.4l-4.6,6.4m-.5,-3.2h6.6m-3.3,-4.7v9.4m-2.3,-7.9l4.6,6.4m0,-6.4l-4.6,6.4m-.5,-3.2h6.6m-3.3,-4.7v9.4m-2.3,-7.9l4.6,6.4m0,-6.4l-4.6,6.4m0,-3.2h6.6m-3.3,-4.7v9.4m-2.3,-7.9l4.6,6.4m0,-6.4l-4.6,6.4m-.75,-3.2h6.6m-3.3,-4.7v9.4m-2.3,-7.9l4.6,6.4m0,-6.4l-4.6,6.4m.5,-3.2h6.6m-3.3,-4.7v9.4m-2.3,-7.9l4.6,6.4m0,-6.4l-4.6,6.4m-.75,-3.2h6.6m-3.3,-4.7v9.4m-2.3,-7.9l4.6,6.4m0,-6.4l-4.6,6.4m-.5,-3.2h6.6m-3.3,-4.7v9.4m-2.3,-7.9l4.6,6.4m0,-6.4l-4.6,6.4m-.25,-3.2h6.6m-3.3,-4.7v9.4m-2.3,-7.9l4.6,6.4m0,-6.4l-4.6,6.4m.5,-3.2h6.6m-3.3,-4.7v9.4m-2.3,-7.9l4.6,6.4m0,-6.4l-4.6,6.4m-.25,-3.2h6.6m-3.3,-4.7v9.4m-2.3,-7.9l4.6,6.4m0,-6.4l-4.6,6.4m-.75,-3.2h6.6m-3.3,-4.7v9.4m-2.3,-7.9l4.6,6.4m0,-6.4l-4.6,6.4m-.75,-3.2h6.6m-3.3,-4.7v9.4m-2.3,-7.9l4.6,6.4m0,-6.4l-4.6,6.4m-.75,-3.2h6.6m-3.3,-4.7v9.4m-2.3,-7.9l4.6,6.4m0,-6.4l-4.6,6.4m-.75,-3.2h6.6m-3.3,-4.7v9.4m-2.3,-7.9l4.6,6.4m0,-6.4l-4.6,6.4m.75,-3.2h6.6m-3.3,-4.7v9.4m-2.3,-7.9l4.6,6.4m0,-6.4l-4.6,6.4m-.5,-3.2h6.6m-3.3,-4.7v9.4m-2.3,-7.9l4.6,6.4m0,-6.4l-4.6,6.4m0,-3.2h6.6m-3.3,-4.7v9.4m-2.3,-7.9l4.6,6.4m0,-6.4l-4.6,6.4m-.5,-3.2h6.6m-3.3,-4.7v9.4m-2.3,-7.9l4.6,6.4m0,-6.4l-4.6,6.4m1,-3.2h6.6m-3.3,-4.7v9.4m-2.3,-7.9l4.6,6.4m0,-6.4l-4.6,6.4" fill="none" stroke="#ff00ff" stroke-width="0.85"/>
<path d="M354.95,176.6h6.6m-3.3,-4.7v9.4m-2.3,-7.9l4.6,6.4m0,-6.4l-4.6,6.4m0,-3.2h6.6m-3.3,-4.7v9.4m-2.3,-7.9l4.6,6.4m0,-6.4l-4.6,6.4m-.75,-3.2h6.6m-3.3,-4.7v9.4m-2.3,-7.9l4.6,6.4m0,-6.4l-4.6,6.4m1.25,-3.2h6.6m-3.3,-4.7v9.4m-2.3,-7.9l4.6,6.4m0,-6.4l-4.6,6.4m.5,-3.2h6.6m-3.3,-4.7v9.4m-2.3,-7.9l4.6,6.4m0,-6.4l-4.6,6.4m-.75,-3.2h6.6m-3.3,-4.7v9.4m-2.3,-7.9l4.6,6.4m0,-6.4l-4.6,6.4m.25,-3.2h6.6m-3.3,-4.7v9.4m-2.3,-7.9l4.6,6.4m0,-6.4l-4.6,6.4m-.5,-3.2h6.6m-3.3,-4.7v9.4m-2.3,-7.9l4.6,6.4m0,-6.4l-4.6,6.4m-.75,-3.2h6.6m-3.3,-4.7v9.4m-2.3,-7.9l4.6,6.4m0,-6.4l-4.6,6.4m-.75,-3.2h6.6m-3.3,-4.7v9.4m-2.3,-7.9l4.6,6.4m0,-6.4l-4.6,6.4m-.5,-3.2h6.6m-3.3,-4.7v9.4m-2.3,-7.9l4.6,6.4m0,-6.4l-4.6,6.4m1,-3.2h6.6m-3.3,-4.7v9.4m-2.3,-7.9l4.6,6.4m0,-6.4l-4.6,6.4m-.5,-3.2h6.6m-3.3,-4.7v9.4m-2.3,-7.9l4.6,6.4m0,-6.4l-4.6,6.4m0,-3.2h6.6m-3.3,-4.7v9.4m-2.3,-7.9l4.6,6.4m0,-6.4l-4.6,6.4m-.75,-3.2h6.6m-3.3,-4.7v9.4m-2.3,-7.9l4.6,6.4m0,-6.4l-4.6,6.4m.25,-3.2h6.6m-3.3,-4.7v9.4m-2.3,-7.9l4.6,6.4m0,-6.4l-4.6,6.4m-.25,-3.2h6.6m-3.3,-4.7v9.4m-2.3,-7.9l4.6,6.4m0,-6.4l-4.6,6.4m-.75,-3.2h6.6m-3.3,-4.7v9.4m-2.3,-7.9l4.6,6.4m0,-6.4l-4.6,6.4m-.25,-3.2h6.6m-3.3,-4.7v9.4m-2.3,-7.9l4.6,6.4m0,-6.4l-4.6,6.4m-.5,-3.2h6.6m-3.3,-4.7v9.4m-2.3,-7.9l4.6,6.4m0,-6.4l-4.6,6.4m0,-3.2h6.6m-3.3,-4.7v9.4m-2.3,-7.9l4.6,6.4m0,-6.4l-4.6,6.4m1,-3.2h6.6m-3.3,-4.7v9.4m-2.3,-7.9l4.6,6.4m0,-6.4l-4.6,6.4m-.25,-3.2h6.6m-3.3,-4.7v9.4m-2.3,-7.9l4.6,6.4m0,-6.4l-4.6,6.4m.5,-3.2h6.6m-3.3,-4.7v9.4m-2.3,-7.9l4.6,6.4m0,-6.4l-4.6,6.4m-.75,-3.2h6.6m-3.3,-4.7v9.4m-2.3,-7.9l4.6,6.4m0,-6.4l-4.6,6.4m-.5,-3.2h6.6m-3.3,-4.7v9.4m-2.3,-7.9l4.6,6.4m0,-6.4l-4.6,6.4m-.75,-3.2h6.6m-3.3,-4.7v9.4m-2.3,-7.9l4.6,6.4m0,-6.4l-4.6,6.4m.75,-3.2h6.6m-3.3,-4.7v9.4m-2.3,-7.9l4.6,6.4m0,-6.4l-4.6,6.4m-.75,-3.2h6.6m-3.3,-4.7v9.4m-2.3,-7.9l4.6,6.4m0,-6.4l-4.6,6.4m2.5,-3.2h6.6m-3.3,-4.7v9.4m-2.3,-7.9l4.6,6.4m0,-6.4l-4.6,6.4m-.75,-3.2h6.6m-3.3,-4.7v9.4m-2.3,-7.9l4.6,6.4m0,-6.4l-4.6,6.4m-.5,-3.2h6.6m-3.3,-4.7v9.4m-2.3,-7.9l4.6,6.4m0,-6.4l-4.6,6.4m1,-3.2h6.6m-3.3,-4.7v9.4m-2.3,-7.9l4.6,6.4m0,-6.4l-4.6,6.4m-.5,-3.2h6.6m-3.3,-4.7v9.4m-2.3,-7.9l4.6,6.4m0,-6.4l-4.6,6.4m-.5,-3.2h6.6m-3.3,-4.7v9.4m-2.3,-7.9l4.6,6.4m0,-6.4l-4.6,6.4m-.75,-3.2h6.6m-3.3,-4.7v9.4m-2.3,-7.9l4.6,6.4m0,-6.4l-4.6,6.4m-.75,-3.2h6.6m-3.3,-4.7v9.4m-2.3,-7.9l4.6,6.4m0,-6.4l-4.6,6.4m.25,-3.2h6.6m-3.3,-4.7v9.4m-2.3,-7.9l4.6,6.4m0,-6.4l-4.6,6.4m-.5,-3.2h6.6m-3.3,-4.7v9.4m-2.3,-7.9l4.6,6.4m0,-6.4l-4.6,6.4m-.75,-3.2h6.6m-3.3,-4.7v9.4m-2.3,-7.9l4.6,6.4m0,-6.4l-4.6,6.4m.25,-3.2h6.6m-3.3,-4.7v9.4m-2.3,-7.9l4.6,6.4m0,-6.4l-4.6,6.4m0,-3.2h6.6m-3.3,-4.7v9.4m-2.3,-7.9l4.6,6.4m0,-6.4l-4.6,6.4m-.25,-3.2h6.6m-3.3,-4.7v9.4m-2.3,-7.9l4.6,6.4m0,-6.4l-4.6,6.4m-.25,-3.2h6.6m-3.3,-4.7v9.4m-2.3,-7.9l4.6,6.4m0,-6.4l-4.6,6.4m1,-3.2h6.6m-3.3,-4.7v9.4m-2.3,-7.9l4.6,6.4m0,-6.4l-4.6,6.4m-.25,-3.2h6.6m-3.3,-4.7v9.4m-2.3,-7.9l4.6,6.4m0,-6.4l-4.6,6.4m-.75,-3.2h6.6m-3.3,-4.7v9.4m-2.3,-7.9l4.6,6.4m0,-6.4l-4.6,6.4m0,-3.2h6.6m-3.3,-4.7v9.4m-2.3,-7.9l4.6,6.4m0,-6.4l-4.6,6.4m-.75,-3.2h6.6m-3.3,-4.7v9.4m-2.3,-7.9l4.6,6.4m0,-6.4l-4.6,6.4m.5,-3.2h6.6m-3.3,-4.7v9.4m-2.3,-7.9l4.6,6.4m0,-6.4l-4.6,6.4m-.25,-3.2h6.6m-3.3,-4.7v9.4m-2.3,-7.9l4.6,6.4m0,-6.4l-4.6,6.4m-.25,-3.2h6.6m-3.3,-4.7v9.4m-2.3,-7.9l4.6,6.4m0,-6.4l-4.6,6.4m.5,-3.2h6.6m-3.3,-4.7v9.4m-2.3,-7.9l4.6,6.4m0,-6.4l-4.6,6.4m-.75,-3.2h6.6m-3.3,-4.7v9.4m-2.3,-7.9l4.6,6.4m0,-6.4l-4.6,6.4m.5,-3.2h6.6m-3.3,-4.7v9.4m-2.3,-7.9l4.6,6.4m0,-6.4l-4.6,6.4m-.75,-3.2h6.6m-3.3,-4.7v9.4m-2.3,-7.9l4.6,6.4m0,-6.4l-4.6,6.4m-.75,-3.2h6.6m-3.3,-4.7v9.4m-2.3,-7.9l4.6,6.4m0,-6.4l-4.6,6.4m-.25,-3.2h6.6m-3.3,-4.7v9.4m-2.3,-7.9l4.6,6.4m0,-6.4l-4.6,6.4m-.5,-3.2h6.6m-3.3,-4.7v9.4m-2.3,-7.9l4.6,6.4m0,-6.4l-4.6,6.4m-.75,-3.2h6.6m-3.3,-4.7v9.4m-2.3,-7.9l4.6,6.4m0,-6.4l-4.6,6.4m-.75,-3.2h6.6m-3.3,-4.7v9.4m-2.3,-7.9l4.6,6.4m0,-6.4l-4.6,6.4m-.75,-3.2h6.6m-3.3,-4.7v9.4m-2.3,-7.9l4.6,6.4m0,-6.4l-4.6,6.4m0,-3.2h6.6m-3.3,-4.7v9.4m-2.3,-7.9l4.6,6.4m0,-6.4l-4.6,6.4m-.5,-3.2h6.6m-3.3,-4.7v9.4m-2.3,-7.9l4.6,6.4m0,-6.4l-4.6,6.4m-.75,-3.2h6.6m-3.3,-4.7v9.4m-2.3,-7.9l4.6,6.4m0,-6.4l-4.6,6.4m-.75,-3.2h6.6m-3.3,-4.7v9.4m-2.3,-7.9l4.6,6.4m0,-6.4l-4.6,6.4m-.75,-3.2h6.6m-3.3,-4.7v9.4m-2.3,-7.9l4.6,6.4m0,-6.4l-4.6,6.4m-.5,-3.2h6.6m-3.3,-4.7v9.4m-2.3,-7.9l4.6,6.4m0,-6.4l-4.6,6.4m2.75,-3.2h6.6m-3.3,-4.7v9.4m-2.3,-7.9l4.6,6.4m0,-6.4l-4.6,6.4m-.25,-3.2h6.6m-3.3,-4.7v9.4m-2.3,-7.9l4.6,6.4m0,-6.4l-4.6,6.4m-.75,-3.2h6.6m-3.3,-4.7v9.4m-2.3,-7.9l4.6,6.4m0,-6.4l-4.6,6.4m.25,-3.2h6.6m-3.3,-4.7v9.4m-2.3,-7.9l4.6,6.4m0,-6.4l-4.6,6.4m-.75,-3.2h6.6m-3.3,-4.7v9.4m-2.3,-7.9l4.6,6.4m0,-6.4l-4.6,6.4m-.5,-3.2h6.6m-3.3,-4.7v9.4m-2.3,-7.9l4.6,6.4m0,-6.4l-4.6,6.4m.75,-3.2h6.6m-3.3,-4.7v9.4m-2.3,-7.9l4.6,6.4m0,-6.4l-4.6,6.4m-.5,-3.2h6.6m-3.3,-4.7v9.4m-2.3,-7.9l4.6,6.4m0,-6.4l-4.6,6.4m-.5,-3.2h6.6m-3.3,-4.7v9.4m-2.3,-7.9l4.6,6.4m0,-6.4l-4.6,6.4m-.5,-3.2h6.6m-3.3,-4.7v9.4m-2.3,-7.9l4.6,6.4m0,-6.4l-4.6,6.4m-.25,-3.2h6.6m-3.3,-4.7v9.4m-2.3,-7.9l4.6,6.4m0,-6.4l-4.6,6.4m-.5,-3.2h6.6m-3.3,-4.7v9.4m-2.3,-7.9l4.6,6.4m0,-6.4l-4.6,6.4m-.25,-3.2h6.6m-3.3,-4.7v9.4m-2.3,-7.9l4.6,6.4m0,-6.4l-4.6,6.4m-.5,-3.2h6.6m-3.3,-4.7v9.4m-2.3,-7.9l4.6,6.4m0,-6.4l-4.6,6.4m-.5,-3.2h6.6m-3.3,-4.7v9.4m-2.3,-7.9l4.6,6.4m0,-6.4l-4.6,6.4m-.75,-3.2h6.6m-3.3,-4.7v9.4m-2.3,-7.9l4.6,6.4m0,-6.4l-4.6,6.4m0,-3.2h6.6m-3.3,-4.7v9.4m-2.3,-7.9l4.6,6.4m0,-6.4l-4.6,6.4m-.5,-3.2h6.6m-3.3,-4.7v9.4m-2.3,-7.9l4.6,6.4m0,-6.4l-4.6,6.4m0,-3.2h6.6m-3.3,-4.7v9.4m-2.3,-7.9l4.6,6.4m0,-6.4l-4.6,6.4m-.75,-3.2h6.6m-3.3,-4.7v9.4m-2.3,-7.9l4.6,6.4m0,-6.4l-4.6,6.4m.25,-3.2h6.6m-3.3,-4.7v9.4m-2.3,-7.9l4.6,6.4m0,-6.4l-4.6,6.4m-.75,-3.2h6.6m-3.3,-4.7v9.4m-2.3,-7.9l4.6,6.4m0,-6.4l-4.6,6.4m-.25,-3.2h6.6m-3.3,-4.7v9.4m-2.3,-7.9l4.6,6.4m0,-6.4l-4.6,6.4m-.5,-3.2h6.6m-3.3,-4.7v9.4m-2.3,-7.9l4.6,6.4m0,-6.4l-4.6,6.4m-.25,-3.2h6.6m-3.3,-4.7v9.4m-2.3,-7.9l4.6,6.4m0,-6.4l-4.6,6.4m-.75,-3.2h6.6m-3.3,-4.7v9.4m-2.3,-7.9l4.6,6.4m0,-6.4l-4.6,6.4m.75,-3.2h6.6m-3.3,-4.7v9.4m-2.3,-7.9l4.6,6.4m0,-6.4l-4.6,6.4m-.75,-3.2h6.6m-3.3,-4.7v9.4m-2.3,-7.9l4.6,6.4m0,-6.4l-4.6,6.4m-.5,-3.2h6.6m-3.3,-4.7v9.4m-2.3,-7.9l4.6,6.4m0,-6.4l-4.6,6.4m0,-3.2h6.6m-3.3,-4.7v9.4m-2.3,-7.9l4.6,6.4m0,-6.4l-4.6,6.4m-.75,-3.2h6.6m-3.3,-4.7v9.4m-2.3,-7.9l4.6,6.4m0,-6.4l-4.6,6.4m-.25,-3.2h6.6m-3.3,-4.7v9.4m-2.3,-7.9l4.6,6.4m0,-6.4l-4.6,6.4m0,-3.2h6.6m-3.3,-4.7v9.4m-2.3,-7.9l4.6,6.4m0,-6.4l-4.6,6.4m-.25,-3.2h6.6m-3.3,-4.7v9.4m-2.3,-7.9l4.6,6.4m0,-6.4l-4.6,6.4m-.5,-3.2h6.6m-3.3,-4.7v9.4m-2.3,-7.9l4.6,6.4m0,-6.4l-4.6,6.4m0,-3.2h6.6m-3.3,-4.7v9.4m-2.3,-7.9l4.6,6.4m0,-6.4l-4.6,6.4m-.25,-3.2h6.6m-3.3,-4.7v9.4m-2.3,-7.9l4.6,6.4m0,-6.4l-4.6,6.4m-.5,-3.2h6.6m-3.3,-4.7v9.4m-2.3,-7.9l4.6,6.4m0,-6.4l-4.6,6.4m-.75,-3.2h6.6m-3.3,-4.7v9.4m-2.3,-7.9l4.6,6.4m0,-6.4l-4.6,6.4m-.75,-3.2h6.6m-3.3,-4.7v9.4m-2.3,-7.9l4.6,6.4m0,-6.4l-4.6,6.4m-.75,-3.2h6.6m-3.3,-4.7v9.4m-2.3,-7.9l4.6,6.4m0,-6.4l-4.6,6.4m-.5,-3.2h6.6m-3.3,-4.7v9.4m-2.3,-7.9l4.6,6.4m0,-6.4l-4.6,6.4m-.5,-3.2h6.6m-3.3,-4.7v9.4m-2.3,-7.9l4.6,6.4m0,-6.4l-4.6,6.4m-.75,-3.2h6.6m-3.3,-4.7v9.4m-2.3,-7.9l4.6,6.4m0,-6.4l-4.6,6.4m-.25,-3.2h6.6m-3.3,-4.7v9.4m-2.3,-7.9l4.6,6.4m0,-6.4l-4.6,6.4m-.5,-3.2h6.6m-3.3,-4.7v9.4m-2.3,-7.9l4.6,6.4m0,-6.4l-4.6,6.4m-.75,-3.2h6.6m-3.3,-4.7v9.4m-2.3,-7.9l4.6,6.4m0,-6.4l-4.6,6.4m-.5,-3.2h6.6m-3.3,-4.7v9.4m-2.3,-7.9l4.6,6.4m0,-6.4l-4.6,6.4m-.5,-3.2h6.6m-3.3,-4.7v9.4m-2.3,-7.9l4.6,6.4m0,-6.4l-4.6,6.4m-.75,-3.2h6.6m-3.3,-4.7v9.4m-2.3,-7.9l4.6,6.4m0,-6.4l-4.6,6.4m.25,-3.2h6.6m-3.3,-4.7v9.4m-2.3,-7.9l4.6,6.4m0,-6.4l-4.6,6.4m-.5,-3.2h6.6m-3.3,-4.7v9.4m-2.3,-7.9l4.6,6.4m0,-6.4l-4.6,6.4m-.75,-3.2h6.6m-3.3,-4.7v9.4m-2.3,-7.9l4.6,6.4m0,-6.4l-4.6,6.4m-.5,-3.2h6.6m-3.3,-4.7v9.4m-2.3,-7.9l4.6,6.4m0,-6.4l-4.6,6.4m.5,-3.2h6.6m-3.3,-4.7v9.4m-2.3,-7.9l4.6,6.4m0,-6.4l-4.6,6.4m-.25,-3.2h6.6m-3.3,-4.7v9.4m-2.3,-7.9l4.6,6.4m0,-6.4l-4.6,6.4m0,-3.2h6.6m-3.3,-4.7v9.4m-2.3,-7.9l4.6,6.4m0,-6.4l-4.6,6.4m-.25,-3.2h6.6m-3.3,-4.7v9.4m-2.3,-7.9l4.6,6.4m0,-6.4l-4.6,6.4m.25,-3.2h6.6m-3.3,-4.7v9.4m-2.3,-7.9l4.6,6.4m0,-6.4l-4.6,6.4m0,-3.2h6.6m-3.3,-4.7v9.4m-2.3,-7.9l4.6,6.4m0,-6.4l-4.6,6.4m-.5,-3.2h6.6m-3.3,-4.7v9.4m-2.3,-7.9l4.6,6.4m0,-6.4l-4.6,6.4m0,-3.2h6.6m-3.3,-4.7v9.4m-2.3,-7.9l4.6,6.4m0,-6.4l-4.6,6.4m-.5,-3.2h6.6m-3.3,-4.7v9.4m-2.3,-7.9l4.6,6.4m0,-6.4l-4.6,6.4m-.75,-3.2h6.6m-3.3,-4.7v9.4m-2.3,-7.9l4.6,6.4m0,-6.4l-4.6,6.4m1.75,-3.2h6.6m-3.3,-4.7v9.4m-2.3,-7.9l4.6,6.4m0,-6.4l-4.6,6.4m.75,-3.2h6.6m-3.3,-4.7v9.4m-2.3,-7.9l4.6,6.4m0,-6.4l-4.6,6.4m-.5,-3.2h6.6m-3.3,-4.7v9.4m-2.3,-7.9l4.6,6.4m0,-6.4l-4.6,6.4m-.25,-3.2h6.6m-3.3,-4.7v9.4m-2.3,-7.9l4.6,6.4m0,-6.4l-4.6,6.4m.25,-3.2h6.6m-3.3,-4.7v9.4m-2.3,-7.9l4.6,6.4m0,-6.4l-4.6,6.4m-.5,-3.2h6.6m-3.3,-4.7v9.4m-2.3,-7.9l4.6,6.4m0,-6.4l-4.6,6.4m-.25,-3.2h6.6m-3.3,-4.7v9.4m-2.3,-7.9l4.6,6.4m0,-6.4l-4.6,6.4m-.25,-3.2h6.6m-3.3,-4.7v9.4m-2.3,-7.9l4.6,6.4m0,-6.4l-4.6,6.4m-.75,-3.2h6.6m-3.3,-4.7v9.4m-2.3,-7.9l4.6,6.4m0,-6.4l-4.6,6.4m3.25,-3.2h6.6m-3.3,-4.7v9.4m-2.3,-7.9l4.6,6.4m0,-6.4l-4.6,6.4m-.75,-3.2h6.6m-3.3,-4.7v9.4m-2.3,-7.9l4.6,6.4m0,-6.4l-4.6,6.4m.75,-3.2h6.6m-3.3,-4.7v9.4m-2.3,-7.9l4.6,6.4m0,-6.4l-4.6,6.4m0,-3.2h6.6m-3.3,-4.7v9.4m-2.3,-7.9l4.6,6.4m0,-6.4l-4.6,6.4m-.75,-3.2h6.6m-3.3,-4.7v9.4m-2.3,-7.9l4.6,6.4m0,-6.4l-4.6,6.4m-.25,-3.2h6.6m-3.3,-4.7v9.4m-2.3,-7.9l4.6,6.4m0,-6.4l-4.6,6.4m-.75,-3.2h6.6m-3.3,-4.7v9.4m-2.3,-7.9l4.6,6.4m0,-6.4l-4.6,6.4m-.75,-3.2h6.6m-3.3,-4.7v9.4m-2.3,-7.9l4.6,6.4m0,-6.4l-4.6,6.4m-.5,-3.2h6.6m-3.3,-4.7v9.4m-2.3,-7.9l4.6,6.4m0,-6.4l-4.6,6.4m-.75,-3.2h6.6m-3.3,-4.7v9.4m-2.3,-7.9l4.6,6.4m0,-6.4l-4.6,6.4m0,-3.2h6.6m-3.3,-4.7v9.4m-2.3,-7.9l4.6,6.4m0,-6.4l-4.6,6.4m-.75,-3.2h6.6m-3.3,-4.7v9.4m-2.3,-7.9l4.6,6.4m0,-6.4l-4.6,6.4m-.5,-3.2h6.6m-3.3,-4.7v9.4m-2.3,-7.9l4.6,6.4m0,-6.4l-4.6,6.4m-.25,-3.2h6.6m-3.3,-4.7v9.4m-2.3,-7.9l4.6,6.4m0,-6.4l-4.6,6.4m-.75,-3.2h6.6m-3.3,-4.7v9.4m-2.3,-7.9l4.6,6.4m0,-6.4l-4.6,6.4m-.5,-3.2h6.6m-3.3,-4.7v9.4m-2.3,-7.9l4.6,6.4m0,-6.4l-4.6,6.4m.25,-3.2h6.6m-3.3,-4.7v9.4m-2.3,-7.9l4.6,6.4m0,-6.4l-4.6,6.4m-.75,-3.2h6.6m-3.3,-4.7v9.4m-2.3,-7.9l4.6,6.4m0,-6.4l-4.6,6.4m-.25,-3.2h6.6m-3.3,-4.7v9.4m-2.3,-7.9l4.6,6.4m0,-6.4l-4.6,6.4m-.75,-3.2h6.6m-3.3,-4.7v9.4m-2.3,-7.9l4.6,6.4m0,-6.4l-4.6,6.4m-.25,-3.2h6.6m-3.3,-4.7v9.4m-2.3,-7.9l4.6,6.4m0,-6.4l-4.6,6.4m-.75,-3.2h6.6m-3.3,-4.7v9.4m-2.3,-7.9l4.6,6.4m0,-6.4l-4.6,6.4m-.75,-3.2h6.6m-3.3,-4.7v9.4m-2.3,-7.9l4.6,6.4m0,-6.4l-4.6,6.4m-.5,-3.2h6.6m-3.3,-4.7v9.4m-2.3,-7.9l4.6,6.4m0,-6.4l-4.6,6.4m.5,-3.2h6.6m-3.3,-4.7v9.4m-2.3,-7.9l4.6,6.4m0,-6.4l-4.6,6.4m-.25,-3.2h6.6m-3.3,-4.7v9.4m-2.3,-7.9l4.6,6.4m0,-6.4l-4.6,6.4m-.75,-3.2h6.6m-3.3,-4.7v9.4m-2.3,-7.9l4.6,6.4m0,-6.4l-4.6,6.4m-.5,-3.2h6.6m-3.3,-4.7v9.4m-2.3,-7.9l4.6,6.4m0,-6.4l-4.6,6.4m-.25,-3.2h6.6m-3.3,-4.7v9.4m-2.3,-7.9l4.6,6.4m0,-6.4l-4.6,6.4m.25,-3.2h6.6m-3.3,-4.7v9.4m-2.3,-7.9l4.6,6.4m0,-6.4l-4.6,6.4m-.75,-3.2h6.6m-3.3,-4.7v9.4m-2.3,-7.9l4.6,6.4m0,-6.4l-4.6,6.4m-.75,-3.2h6.6m-3.3,-4.7v9.4m-2.3,-7.9l4.6,6.4m0,-6.4l-4.6,6.4m.5,-3.2h6.6m-3.3,-4.7v9.4m-2.3,-7.9l4.6,6.4m0,-6.4l-4.6,6.4m.5,-3.2h6.6m-3.3,-4.7v9.4m-2.3,-7.9l4.6,6.4m0,-6.4l-4.6,6.4m0,-3.2h6.6m-3.3,-4.7v9.4m-2.3,-7.9l4.6,6.4m0,-6.4l-4.6,6.4m-.5,-3.2h6.6m-3.3,-4.7v9.4m-2.3,-7.9l4.6,6.4m0,-6.4l-4.6,6.4m-.5,-3.2h6.6m-3.3,-4.7v9.4m-2.3,-7.9l4.6,6.4m0,-6.4l-4.6,6.4m-.5,-3.2h6.6m-3.3,-4.7v9.4m-2.3,-7.9l4.6,6.4m0,-6.4l-4.6,6.4m.25,-3.2h6.6m-3.3,-4.7v9.4m-2.3,-7.9l4.6,6.4m0,-6.4l-4.6,6.4m-.5,-3.2h6.6m-3.3,-4.7v9.4m-2.3,-7.9l4.6,6.4m0,-6.4l-4.6,6.4m0,-3.2h6.6m-3.3,-4.7v9.4m-2.3,-7.9l4.6,6.4m0,-6.4l-4.6,6.4m-.75,-3.2h6.6m-3.3,-4.7v9.4m-2.3,-7.9l4.6,6.4m0,-6.4l-4.6,6.4m.25,-3.2h6.6m-3.3,-4.7v9.4m-2.3,-7.9l4.6,6.4m0,-6.4l-4.6,6.4m-.75,-3.2h6.6m-3.3,-4.7v9.4m-2.3,-7.9l4.6,6.4m0,-6.4l-4.6,6.4m-.5,-3.2h6.6m-3.3,-4.7v9.4m-2.3,-7.9l4.6,6.4m0,-6.4l-4.6,6.4m1,-3.2h6.6m-3.3,-4.7v9.4m-2.3,-7.9l4.6,6.4m0,-6.4l-4.6,6.4m-.75,-3.2h6.6m-3.3,-4.7v9.4m-2.3,-7.9l4.6,6.4m0,-6.4l-4.6,6.4m1,-3.2h6.6m-3.3,-4.7v9.4m-2.3,-7.9l4.6,6.4m0,-6.4l-4.6,6.4m.75,-3.2h6.6m-3.3,-4.7v9.4m-2.3,-7.9l4.6,6.4m0,-6.4l-4.6,6.4m-.75,-3.2h6.6m-3.3,-4.7v9.4m-2.3,-7.9l4.6,6.4m0,-6.4l-4.6,6.4m-.75,-3.2h6.6m-3.3,-4.7v9.4m-2.3,-7.9l4.6,6.4m0,-6.4l-4.6,6.4m-.75,-3.2h6.6m-3.3,-4.7v9.4m-2.3,-7.9l4.6,6.4m0,-6.4l-4.6,6.4m0,-3.2h6.6m-3.3,-4.7v9.4m-2.3,-7.9l4.6,6.4m0,-6.4l-4.6,6.4m-.75,-3.2h6.6m-3.3,-4.7v9.4m-2.3,-7.9l4.6,6.4m0,-6.4l-4.6,6.4m1,-3.2h6.6m-3.3,-4.7v9.4m-2.3,-7.9l4.6,6.4m0,-6.4l-4.6,6.4m1.25,-3.2h6.6m-3.3,-4.7v9.4m-2.3,-7.9l4.6,6.4m0,-6.4l-4.6,6.4m-.5,-3.2h6.6m-3.3,-4.7v9.4m-2.3,-7.9l4.6,6.4m0,-6.4l-4.6,6.4m-.75,-3.2h6.6m-3.3,-4.7v9.4m-2.3,-7.9l4.6,6.4m0,-6.4l-4.6,6.4m-.75,-3.2h6.6m-3.3,-4.7v9.4m-2.3,-7.9l4.6,6.4m0,-6.4l-4.6,6.4m.25,-3.2h6.6m-3.3,-4.7v9.4m-2.3,-7.9l4.6,6.4m0,-6.4l-4.6,6.4m-.25,-3.2h6.6m-3.3,-4.7v9.4m-2.3,-7.9l4.6,6.4m0,-6.4l-4.6,6.4m.75,-3.2h6.6m-3.3,-4.7v9.4m-2.3,-7.9l4.6,6.4m0,-6.4l-4.6,6.4m-.5,-3.2h6.6m-3.3,-4.7v9.4m-2.3,-7.9l4.6,6.4m0,-6.4l-4.6,6.4m-.5,-3.2h6.6m-3.3,-4.7v9.4m-2.3,-7.9l4.6,6.4m0,-6.4l-4.6,6.4m-.25,-3.2h6.6m-3.3,-4.7v9.4m-2.3,-7.9l4.6,6.4m0,-6.4l-4.6,6.4m-.75,-3.2h6.6m-3.3,-4.7v9.4m-2.3,-7.9l4.6,6.4m0,-6.4l-4.6,6.4m-.75,-3.2h6.6m-3.3,-4.7v9.4m-2.3,-7.9l4.6,6.4m0,-6.4l-4.6,6.4m1,-3.2h6.6m-3.3,-4.7v9.4m-2.3,-7.9l4.6,6.4m0,-6.4l-4.6,6.4m-.5,-3.2h6.6m-3.3,-4.7v9.4m-2.3,-7.9l4.6,6.4m0,-6.4l-4.6,6.4m-.5,-3.2h6.6m-3.3,-4.7v9.4m-2.3,-7.9l4.6,6.4m0,-6.4l-4.6,6.4m-.75,-3.2h6.6m-3.3,-4.7v9.4m-2.3,-7.9l4.6,6.4m0,-6.4l-4.6,6.4m1.25,-3.2h6.6m-3.3,-4.7v9.4m-2.3,-7.9l4.6,6.4m0,-6.4l-4.6,6.4m-.25,-3.2h6.6m-3.3,-4.7v9.4m-2.3,-7.9l4.6,6.4m0,-6.4l-4.6,6.4m-.25,-3.2h6.6m-3.3,-4.7v9.4m-2.3,-7.9l4.6,6.4m0,-6.4l-4.6,6.4m-.75,-3.2h6.6m-3.3,-4.7v9.4m-2.3,-7.9l4.6,6.4m0,-6.4l-4.6,6.4m-.5,-3.2h6.6m-3.3,-4.7v9.4m-2.3,-7.9l4.6,6.4m0,-6.4l-4.6,6.4m-.75,-3.2h6.6m-3.3,-4.7v9.4m-2.3,-7.9l4.6,6.4m0,-6.4l-4.6,6.4m0,-3.2h6.6m-3.3,-4.7v9.4m-2.3,-7.9l4.6,6.4m0,-6.4l-4.6,6.4m-.75,-3.2h6.6m-3.3,-4.7v9.4m-2.3,-7.9l4.6,6.4m0,-6.4l-4.6,6.4m-.75,-3.2h6.6m-3.3,-4.7v9.4m-2.3,-7.9l4.6,6.4m0,-6.4l-4.6,6.4m-.75,-3.2h6.6m-3.3,-4.7v9.4m-2.3,-7.9l4.6,6.4m0,-6.4l-4.6,6.4m-.5,-3.2h6.6m-3.3,-4.7v9.4m-2.3,-7.9l4.6,6.4m0,-6.4l-4.6,6.4m-.5,-3.2h6.6m-3.3,-4.7v9.4m-2.3,-7.9l4.6,6.4m0,-6.4l-4.6,6.4m0,-3.2h6.6m-3.3,-4.7v9.4m-2.3,-7.9l4.6,6.4m0,-6.4l-4.6,6.4m1,-3.2h6.6m-3.3,-4.7v9.4m-2.3,-7.9l4.6,6.4m0,-6.4l-4.6,6.4m-.5,-3.2h6.6m-3.3,-4.7v9.4m-2.3,-7.9l4.6,6.4m0,-6.4l-4.6,6.4m-.75,-3.2h6.6m-3.3,-4.7v9.4m-2.3,-7.9l4.6,6.4m0,-6.4l-4.6,6.4m-.5,-3.2h6.6m-3.3,-4.7v9.4m-2.3,-7.9l4.6,6.4m0,-6.4l-4.6,6.4m-.75,-3.2h6.6m-3.3,-4.7v9.4m-2.3,-7.9l4.6,6.4m0,-6.4l-4.6,6.4m-.75,-3.2h6.6m-3.3,-4.7v9.4m-2.3,-7.9l4.6,6.4m0,-6.4l-4.6,6.4m-.25,-3.2h6.6m-3.3,-4.7v9.4m-2.3,-7.9l4.6,6.4m0,-6.4l-4.6,6.4m-.25,-3.2h6.6m-3.3,-4.7v9.4m-2.3,-7.9l4.6,6.4m0,-6.4l-4.6,6.4m-.5,-3.2h6.6m-3.3,-4.7v9.4m-2.3,-7.9l4.6,6.4m0,-6.4l-4.6,6.4m-.75,-3.2h6.6m-3.3,-4.7v9.4m-2.3,-7.9l4.6,6.4m0,-6.4l-4.6,6.4m-.5,-3.2h6.6m-3.3,-4.7v9.4m-2.3,-7.9l4.6,6.4m0,-6.4l-4.6,6.4m1.25,-3.2h6.6m-3.3,-4.7v9.4m-2.3,-7.9l4.6,6.4m0,-6.4l-4.6,6.4m1.25,-3.2h6.6m-3.3,-4.7v9.4m-2.3,-7.9l4.6,6.4m0,-6.4l-4.6,6.4m-.75,-3.2h6.6m-3.3,-4.7v9.4m-2.3,-7.9l4.6,6.4m0,-6.4l-4.6,6.4m-.75,-3.2h6.6m-3.3,-4.7v9.4m-2.3,-7.9l4.6,6.4m0,-6.4l-4.6,6.4m-.75,-3.2h6.6m-3.3,-4.7v9.4m-2.3,-7.9l4.6,6.4m0,-6.4l-4.6,6.4m-.5,-3.2h6.6m-3.3,-4.7v9.4m-2.3,-7.9l4.6,6.4m0,-6.4l-4.6,6.4m1,-3.2h6.6m-3.3,-4.7v9.4m-2.3,-7.9l4.6,6.4m0,-6.4l-4.6,6.4m0,-3.2h6.6m-3.3,-4.7v9.4m-2.3,-7.9l4.6,6.4m0,-6.4l-4.6,6.4m-.75,-3.2h6.6m-3.3,-4.7v9.4m-2.3,-7.9l4.6,6.4m0,-6.4l-4.6,6.4m-.5,-3.2h6.6m-3.3,-4.7v9.4m-2.3,-7.9l4.6,6.4m0,-6.4l-4.6,6.4m-.5,-3.2h6.6m-3.3,-4.7v9.4m-2.3,-7.9l4.6,6.4m0,-6.4l-4.6,6.4m-.75,-3.2h6.6m-3.3,-4.7v9.4m-2.3,-7.9l4.6,6.4m0,-6.4l-4.6,6.4m.25,-3.2h6.6m-3.3,-4.7v9.4m-2.3,-7.9l4.6,6.4m0,-6.4l-4.6,6.4m-.5,-3.2h6.6m-3.3,-4.7v9.4m-2.3,-7.9l4.6,6.4m0,-6.4l-4.6,6.4m-.75,-3.2h6.6m-3.3,-4.7v9.4m-2.3,-7.9l4.6,6.4m0,-6.4l-4.6,6.4m0,-3.2h6.6m-3.3,-4.7v9.4m-2.3,-7.9l4.6,6.4m0,-6.4l-4.6,6.4m0,-3.2h6.6m-3.3,-4.7v9.4m-2.3,-7.9l4.6,6.4m0,-6.4l-4.6,6.4m.5,-3.2h6.6m-3.3,-4.7v9.4m-2.3,-7.9l4.6,6.4m0,-6.4l-4.6,6.4m-.75,-3.2h6.6m-3.3,-4.7v9.4m-2.3,-7.9l4.6,6.4m0,-6.4l-4.6,6.4m-.75,-3.2h6.6m-3.3,-4.7v9.4m-2.3,-7.9l4.6,6.4m0,-6.4l-4.6,6.4m-.25,-3.2h6.6m-3.3,-4.7v9.4m-2.3,-7.9l4.6,6.4m0,-6.4l-4.6,6.4m0,-3.2h6.6m-3.3,-4.7v9.4m-2.3,-7.9l4.6,6.4m0,-6.4l-4.6,6.4m.25,-3.2h6.6m-3.3,-4.7v9.4m-2.3,-7.9l4.6,6.4m0,-6.4l-4.6,6.4m-.75,-3.2h6.6m-3.3,-4.7v9.4m-2.3,-7.9l4.6,6.4m0,-6.4l-4.6,6.4m.5,-3.2h6.6m-3.3,-4.7v9.4m-2.3,-7.9l4.6,6.4m0,-6.4l-4.6,6.4m.25,-3.2h6.6m-3.3,-4.7v9.4m-2.3,-7.9l4.6,6.4m0,-6.4l-4.6,6.4m.5,-3.2h6.6m-3.3,-4.7v9.4m-2.3,-7.9l4.6,6.4m0,-6.4l-4.6,6.4m-.75,-3.2h6.6m-3.3,-4.7v9.4m-2.3,-7.9l4.6,6.4m0,-6.4l-4.6,6.4m-.75,-3.2h6.6m-3.3,-4.7v9.4m-2.3,-7.9l4.6,6.4m0,-6.4l-4.6,6.4m-.5,-3.2h6.6m-3.3,-4.7v9.4m-2.3,-7.9l4.6,6.4m0,-6.4l-4.6,6.4m-.25,-3.2h6.6m-3.3,-4.7v9.4m-2.3,-7.9l4.6,6.4m0,-6.4l-4.6,6.4m-.5,-3.2h6.6m-3.3,-4.7v9.4m-2.3,-7.9l4.6,6.4m0,-6.4l-4.6,6.4m.25,-3.2h6.6m-3.3,-4.7v9.4m-2.3,-7.9l4.6,6.4m0,-6.4l-4.6,6.4m-.75,-3.2h6.6m-3.3,-4.7v9.4m-2.3,-7.9l4.6,6.4m0,-6.4l-4.6,6.4m-.5,-3.2h6.6m-3.3,-4.7v9.4m-2.3,-7.9l4.6,6.4m0,-6.4l-4.6,6.4m-.5,-3.2h6.6m-3.3,-4.7v9.4m-2.3,-7.9l4.6,6.4m0,-6.4l-4.6,6.4m-.75,-3.2h6.6m-3.3,-4.7v9.4m-2.3,-7.9l4.6,6.4m0,-6.4l-4.6,6.4m-.25,-3.2h6.6m-3.3,-4.7v9.4m-2.3,-7.9l4.6,6.4m0,-6.4l-4.6,6.4m.5,-3.2h6.6m-3.3,-4.7v9.4m-2.3,-7.9l4.6,6.4m0,-6.4l-4.6,6.4m-.25,-3.2h6.6m-3.3,-4.7v9.4m-2.3,-7.9l4.6,6.4m0,-6.4l-4.6,6.4m.75,-3.2h6.6m-3.3,-4.7v9.4m-2.3,-7.9l4.6,6.4m0,-6.4l-4.6,6.4m-.5,-3.2h6.6m-3.3,-4.7v9.4m-2.3,-7.9l4.6,6.4m0,-6.4l-4.6,6.4m-.75,-3.2h6.6m-3.3,-4.7v9.4m-2.3,-7.9l4.6,6.4m0,-6.4l-4.6,6.4m-.5,-3.2h6.6m-3.3,-4.7v9.4m-2.3,-7.9l4.6,6.4m0,-6.4l-4.6,6.4m.75,-3.2h6.6m-3.3,-4.7v9.4m-2.3,-7.9l4.6,6.4m0,-6.4l-4.6,6.4m-.75,-3.2h6.6m-3.3,-4.7v9.4m-2.3,-7.9l4.6,6.4m0,-6.4l-4.6,6.4m-.75,-3.2h6.6m-3.3,-4.7v9.4m-2.3,-7.9l4.6,6.4m0,-6.4l-4.6,6.4m-.25,-3.2h6.6m-3.3,-4.7v9.4m-2.3,-7.9l4.6,6.4m0,-6.4l-4.6,6.4m-.75,-3.2h6.6m-3.3,-4.7v9.4m-2.3,-7.9l4.6,6.4m0,-6.4l-4.6,6.4m.75,-3.2h6.6m-3.3,-4.7v9.4m-2.3,-7.9l4.6,6.4m0,-6.4l-4.6,6.4m2,-3.2h6.6m-3.3,-4.7v9.4m-2.3,-7.9l4.6,6.4m0,-6.4l-4.6,6.4m.5,-3.2h6.6m-3.3,-4.7v9.4m-2.3,-7.9l4.6,6.4m0,-6.4l-4.6,6.4m.75,-3.2h6.6m-3.3,-4.7v9.4m-2.3,-7.9l4.6,6.4m0,-6.4l-4.6,6.4m-.75,-3.2h6.6m-3.3,-4.7v9.4m-2.3,-7.9l4.6,6.4m0,-6.4l-4.6,6.4m-.75,-3.2h6.6m-3.3,-4.7v9.4m-2.3,-7.9l4.6,6.4m0,-6.4l-4.6,6.4m-.75,-3.2h6.6m-3.3,-4.7v9.4m-2.3,-7.9l4.6,6.4m0,-6.4l-4.6,6.4m-.75,-3.2h6.6m-3.3,-4.7v9.4m-2.3,-7.9l4.6,6.4m0,-6.4l-4.6,6.4m-.5,-3.2h6.6m-3.3,-4.7v9.4m-2.3,-7.9l4.6,6.4m0,-6.4l-4.6,6.4m.5,-3.2h6.6m-3.3,-4.7v9.4m-2.3,-7.9l4.6,6.4m0,-6.4l-4.6,6.4m1.25,-3.2h6.6m-3.3,-4.7v9.4m-2.3,-7.9l4.6,6.4m0,-6.4l-4.6,6.4m-.75,-3.2h6.6m-3.3,-4.7v9.4m-2.3,-7.9l4.6,6.4m0,-6.4l-4.6,6.4m-.25,-3.2h6.6m-3.3,-4.7v9.4m-2.3,-7.9l4.6,6.4m0,-6.4l-4.6,6.4m-.25,-3.2h6.6m-3.3,-4.7v9.4m-2.3,-7.9l4.6,6.4m0,-6.4l-4.6,6.4m.5,-3.2h6.6m-3.3,-4.7v9.4m-2.3,-7.9l4.6,6.4m0,-6.4l-4.6,6.4m-.75,-3.2h6.6m-3.3,-4.7v9.4m-2.3,-7.9l4.6,6.4m0,-6.4l-4.6,6.4m.75,-3.2h6.6m-3.3,-4.7v9.4m-2.3,-7.9l4.6,6.4m0,-6.4l-4.6,6.4m-.75,-3.2h6.6m-3.3,-4.7v9.4m-2.3,-7.9l4.6,6.4m0,-6.4l-4.6,6.4m-.75,-3.2h6.6m-3.3,-4.7v9.4m-2.3,-7.9l4.6,6.4m0,-6.4l-4.6,6.4m.25,-3.2h6.6m-3.3,-4.7v9.4m-2.3,-7.9l4.6,6.4m0,-6.4l-4.6,6.4m.75,-3.2h6.6m-3.3,-4.7v9.4m-2.3,-7.9l4.6,6.4m0,-6.4l-4.6,6.4m-.75,-3.2h6.6m-3.3,-4.7v9.4m-2.3,-7.9l4.6,6.4m0,-6.4l-4.6,6.4m-.25,-3.2h6.6m-3.3,-4.7v9.4m-2.3,-7.9l4.6,6.4m0,-6.4l-4.6,6.4m.25,-3.2h6.6m-3.3,-4.7v9.4m-2.3,-7.9l4.6,6.4m0,-6.4l-4.6,6.4m.25,-3.2h6.6m-3.3,-4.7v9.4m-2.3,-7.9l4.6,6.4m0,-6.4l-4.6,6.4m-.25,-3.2h6.6m-3.3,-4.7v9.4m-2.3,-7.9l4.6,6.4m0,-6.4l-4.6,6.4m-.75,-3.2h6.6m-3.3,-4.7v9.4m-2.3,-7.9l4.6,6.4m0,-6.4l-4.6,6.4m-.5,-3.2h6.6m-3.3,-4.7v9.4m-2.3,-7.9l4.6,6.4m0,-6.4l-4.6,6.4m.5,-3.2h6.6m-3.3,-4.7v9.4m-2.3,-7.9l4.6,6.4m0,-6.4l-4.6,6.4m-.75,-3.2h6.6m-3.3,-4.7v9.4m-2.3,-7.9l4.6,6.4m0,-6.4l-4.6,6.4m-.75,-3.2h6.6m-3.3,-4.7v9.4m-2.3,-7.9l4.6,6.4m0,-6.4l-4.6,6.4m-.25,-3.2h6.6m-3.3,-4.7v9.4m-2.3,-7.9l4.6,6.4m0,-6.4l-4.6,6.4m-.75,-3.2h6.6m-3.3,-4.7v9.4m-2.3,-7.9l4.6,6.4m0,-6.4l-4.6,6.4m-.75,-3.2h6.6m-3.3,-4.7v9.4m-2.3,-7.9l4.6,6.4m0,-6.4l-4.6,6.4m-.25,-3.2h6.6m-3.3,-4.7v9.4m-2.3,-7.9l4.6,6.4m0,-6.4l-4.6,6.4m0,-3.2h6.6m-3.3,-4.7v9.4m-2.3,-7.9l4.6,6.4m0,-6.4l-4.6,6.4m-.25,-3.2h6.6m-3.3,-4.7v9.4m-2.3,-7.9l4.6,6.4m0,-6.4l-4.6,6.4m-.5,-3.2h6.6m-3.3,-4.7v9.4m-2.3,-7.9l4.6,6.4m0,-6.4l-4.6,6.4m.75,-3.2h6.6m-3.3,-4.7v9.4m-2.3,-7.9l4.6,6.4m0,-6.4l-4.6,6.4m-.5,-3.2h6.6m-3.3,-4.7v9.4m-2.3,-7.9l4.6,6.4m0,-6.4l-4.6,6.4m-.75,-3.2h6.6m-3.3,-4.7v9.4m-2.3,-7.9l4.6,6.4m0,-6.4l-4.6,6.4m0,-3.2h6.6m-3.3,-4.7v9.4m-2.3,-7.9l4.6,6.4m0,-6.4l-4.6,6.4m-.75,-3.2h6.6m-3.3,-4.7v9.4m-2.3,-7.9l4.6,6.4m0,-6.4l-4.6,6.4m-.75,-3.2h6.6m-3.3,-4.7v9.4m-2.3,-7.9l4.6,6.4m0,-6.4l-4.6,6.4m.25,-3.2h6.6m-3.3,-4.7v9.4m-2.3,-7.9l4.6,6.4m0,-6.4l-4.6,6.4m-.25,-3.2h6.6m-3.3,-4.7v9.4m-2.3,-7.9l4.6,6.4m0,-6.4l-4.6,6.4m-.75,-3.2h6.6m-3.3,-4.7v9.4m-2.3,-7.9l4.6,6.4m0,-6.4l-4.6,6.4m-.5,-3.2h6.6m-3.3,-4.7v9.4m-2.3,-7.9l4.6,6.4m0,-6.4l-4.6,6.4m-.5,-3.2h6.6m-3.3,-4.7v9.4m-2.3,-7.9l4.6,6.4m0,-6.4l-4.6,6.4m-.25,-3.2h6.6m-3.3,-4.7v9.4m-2.3,-7.9l4.6,6.4m0,-6.4l-4.6,6.4m-.75,-3.2h6.6m-3.3,-4.7v9.4m-2.3,-7.9l4.6,6.4m0,-6.4l-4.6,6.4m-.5,-3.2h6.6m-3.3,-4.7v9.4m-2.3,-7.9l4.6,6.4m0,-6.4l-4.6,6.4m1,-3.2h6.6m-3.3,-4.7v9.4m-2.3,-7.9l4.6,6.4m0,-6.4l-4.6,6.4m.75,-3.2h6.6m-3.3,-4.7v9.4m-2.3,-7.9l4.6,6.4m0,-6.4l-4.6,6.4m-.75,-3.2h6.6m-3.3,-4.7v9.4m-2.3,-7.9l4.6,6.4m0,-6.4l-4.6,6.4m0,-3.2h6.6m-3.3,-4.7v9.4m-2.3,-7.9l4.6,6.4m0,-6.4l-4.6,6.4m0,-3.2h6.6m-3.3,-4.7v9.4m-2.3,-7.9l4.6,6.4m0,-6.4l-4.6,6.4m1.25,-3.2h6.6m-3.3,-4.7v9.4m-2.3,-7.9l4.6,6.4m0,-6.4l-4.6,6.4m-.5,-3.2h6.6m-3.3,-4.7v9.4m-2.3,-7.9l4.6,6.4m0,-6.4l-4.6,6.4m-.5,-3.2h6.6m-3.3,-4.7v9.4m-2.3,-7.9l4.6,6.4m0,-6.4l-4.6,6.4m.25,-3.2h6.6m-3.3,-4.7v9.4m-2.3,-7.9l4.6,6.4m0,-6.4l-4.6,6.4m-.5,-3.2h6.6m-3.3,-4.7v9.4m-2.3,-7.9l4.6,6.4m0,-6.4l-4.6,6.4m-.75,-3.2h6.6m-3.3,-4.7v9.4m-2.3,-7.9l4.6,6.4m0,-6.4l-4.6,6.4m-.75,-3.2h6.6m-3.3,-4.7v9.4m-2.3,-7.9l4.6,6.4m0,-6.4l-4.6,6.4m-.75,-3.2h6.6m-3.3,-4.7v9.4m-2.3,-7.9l4.6,6.4m0,-6.4l-4.6,6.4m-.25,-3.2h6.6m-3.3,-4.7v9.4m-2.3,-7.9l4.6,6.4m0,-6.4l-4.6,6.4m1,-3.2h6.6m-3.3,-4.7v9.4m-2.3,-7.9l4.6,6.4m0,-6.4l-4.6,6.4m-.75,-3.2h6.6m-3.3,-4.7v9.4m-2.3,-7.9l4.6,6.4m0,-6.4l-4.6,6.4m-.75,-3.2h6.6m-3.3,-4.7v9.4m-2.3,-7.9l4.6,6.4m0,-6.4l-4.6,6.4m-.5,-3.2h6.6m-3.3,-4.7v9.4m-2.3,-7.9l4.6,6.4m0,-6.4l-4.6,6.4m-.5,-3.2h6.6m-3.3,-4.7v9.4m-2.3,-7.9l4.6,6.4m0,-6.4l-4.6,6.4m-.75,-3.2h6.6m-3.3,-4.7v9.4m-2.3,-7.9l4.6,6.4m0,-6.4l-4.6,6.4m.5,-3.2h6.6m-3.3,-4.7v9.4m-2.3,-7.9l4.6,6.4m0,-6.4l-4.6,6.4m1.25,-3.2h6.6m-3.3,-4.7v9.4m-2.3,-7.9l4.6,6.4m0,-6.4l-4.6,6.4m.25,-3.2h6.6m-3.3,-4.7v9.4m-2.3,-7.9l4.6,6.4m0,-6.4l-4.6,6.4m.25,-3.2h6.6m-3.3,-4.7v9.4m-2.3,-7.9l4.6,6.4m0,-6.4l-4.6,6.4m-.5,-3.2h6.6m-3.3,-4.7v9.4m-2.3,-7.9l4.6,6.4m0,-6.4l-4.6,6.4m-.5,-3.2h6.6m-3.3,-4.7v9.4m-2.3,-7.9l4.6,6.4m0,-6.4l-4.6,6.4m-.5,-3.2h6.6m-3.3,-4.7v9.4m-2.3,-7.9l4.6,6.4m0,-6.4l-4.6,6.4m0,-3.2h6.6m-3.3,-4.7v9.4m-2.3,-7.9l4.6,6.4m0,-6.4l-4.6,6.4m-.25,-3.2h6.6m-3.3,-4.7v9.4m-2.3,-7.9l4.6,6.4m0,-6.4l-4.6,6.4m-.5,-3.2h6.6m-3.3,-4.7v9.4m-2.3,-7.9l4.6,6.4m0,-6.4l-4.6,6.4m-.5,-3.2h6.6m-3.3,-4.7v9.4m-2.3,-7.9l4.6,6.4m0,-6.4l-4.6,6.4m-.25,-3.2h6.6m-3.3,-4.7v9.4m-2.3,-7.9l4.6,6.4m0,-6.4l-4.6,6.4m-.75,-3.2h6.6m-3.3,-4.7v9.4m-2.3,-7.9l4.6,6.4m0,-6.4l-4.6,6.4m-.75,-3.2h6.6m-3.3,-4.7v9.4m-2.3,-7.9l4.6,6.4m0,-6.4l-4.6,6.4" fill="none" stroke="#ff00ff" stroke-width="0.85"/>
<path d="M355.45,97.8h6.6m-3.3,-4.7v9.4m-2.3,-7.9l4.6,6.4m0,-6.4l-4.6,6.4m2.75,-3.2h6.6m-3.3,-4.7v9.4m-2.3,-7.9l4.6,6.4m0,-6.4l-4.6,6.4m.75,-3.2h6.6m-3.3,-4.7v9.4m-2.3,-7.9l4.6,6.4m0,-6.4l-4.6,6.4m.75,-3.2h6.6m-3.3,-4.7v9.4m-2.3,-7.9l4.6,6.4m0,-6.4l-4.6,6.4m.5,-3.2h6.6m-3.3,-4.7v9.4m-2.3,-7.9l4.6,6.4m0,-6.4l-4.6,6.4m1,-3.2h6.6m-3.3,-4.7v9.4m-2.3,-7.9l4.6,6.4m0,-6.4l-4.6,6.4m0,-3.2h6.6m-3.3,-4.7v9.4m-2.3,-7.9l4.6,6.4m0,-6.4l-4.6,6.4m1,-3.2h6.6m-3.3,-4.7v9.4m-2.3,-7.9l4.6,6.4m0,-6.4l-4.6,6.4m-.75,-3.2h6.6m-3.3,-4.7v9.4m-2.3,-7.9l4.6,6.4m0,-6.4l-4.6,6.4m.25,-3.2h6.6m-3.3,-4.7v9.4m-2.3,-7.9l4.6,6.4m0,-6.4l-4.6,6.4m0,-3.2h6.6m-3.3,-4.7v9.4m-2.3,-7.9l4.6,6.4m0,-6.4l-4.6,6.4m.5,-3.2h6.6m-3.3,-4.7v9.4m-2.3,-7.9l4.6,6.4m0,-6.4l-4.6,6.4m.75,-3.2h6.6m-3.3,-4.7v9.4m-2.3,-7.9l4.6,6.4m0,-6.4l-4.6,6.4m3,-3.2h6.6m-3.3,-4.7v9.4m-2.3,-7.9l4.6,6.4m0,-6.4l-4.6,6.4m-.75,-3.2h6.6m-3.3,-4.7v9.4m-2.3,-7.9l4.6,6.4m0,-6.4l-4.6,6.4m1.5,-3.2h6.6m-3.3,-4.7v9.4m-2.3,-7.9l4.6,6.4m0,-6.4l-4.6,6.4m-.25,-3.2h6.6m-3.3,-4.7v9.4m-2.3,-7.9l4.6,6.4m0,-6.4l-4.6,6.4m.5,-3.2h6.6m-3.3,-4.7v9.4m-2.3,-7.9l4.6,6.4m0,-6.4l-4.6,6.4m1.5,-3.2h6.6m-3.3,-4.7v9.4m-2.3,-7.9l4.6,6.4m0,-6.4l-4.6,6.4m4.25,-3.2h6.6m-3.3,-4.7v9.4m-2.3,-7.9l4.6,6.4m0,-6.4l-4.6,6.4m-.75,-3.2h6.6m-3.3,-4.7v9.4m-2.3,-7.9l4.6,6.4m0,-6.4l-4.6,6.4m-.25,-3.2h6.6m-3.3,-4.7v9.4m-2.3,-7.9l4.6,6.4m0,-6.4l-4.6,6.4m1.75,-3.2h6.6m-3.3,-4.7v9.4m-2.3,-7.9l4.6,6.4m0,-6.4l-4.6,6.4m-.75,-3.2h6.6m-3.3,-4.7v9.4m-2.3,-7.9l4.6,6.4m0,-6.4l-4.6,6.4m3,-3.2h6.6m-3.3,-4.7v9.4m-2.3,-7.9l4.6,6.4m0,-6.4l-4.6,6.4m.25,-3.2h6.6m-3.3,-4.7v9.4m-2.3,-7.9l4.6,6.4m0,-6.4l-4.6,6.4m1,-3.2h6.6m-3.3,-4.7v9.4m-2.3,-7.9l4.6,6.4m0,-6.4l-4.6,6.4m-.75,-3.2h6.6m-3.3,-4.7v9.4m-2.3,-7.9l4.6,6.4m0,-6.4l-4.6,6.4m.75,-3.2h6.6m-3.3,-4.7v9.4m-2.3,-7.9l4.6,6.4m0,-6.4l-4.6,6.4m-.25,-3.2h6.6m-3.3,-4.7v9.4m-2.3,-7.9l4.6,6.4m0,-6.4l-4.6,6.4m.75,-3.2h6.6m-3.3,-4.7v9.4m-2.3,-7.9l4.6,6.4m0,-6.4l-4.6,6.4m-.25,-3.2h6.6m-3.3,-4.7v9.4m-2.3,-7.9l4.6,6.4m0,-6.4l-4.6,6.4m.25,-3.2h6.6m-3.3,-4.7v9.4m-2.3,-7.9l4.6,6.4m0,-6.4l-4.6,6.4m-.25,-3.2h6.6m-3.3,-4.7v9.4m-2.3,-7.9l4.6,6.4m0,-6.4l-4.6,6.4m-.75,-3.2h6.6m-3.3,-4.7v9.4m-2.3,-7.9l4.6,6.4m0,-6.4l-4.6,6.4m-.5,-3.2h6.6m-3.3,-4.7v9.4m-2.3,-7.9l4.6,6.4m0,-6.4l-4.6,6.4m.75,-3.2h6.6m-3.3,-4.7v9.4m-2.3,-7.9l4.6,6.4m0,-6.4l-4.6,6.4m-.75,-3.2h6.6m-3.3,-4.7v9.4m-2.3,-7.9l4.6,6.4m0,-6.4l-4.6,6.4m.25,-3.2h6.6m-3.3,-4.7v9.4m-2.3,-7.9l4.6,6.4m0,-6.4l-4.6,6.4m.5,-3.2h6.6m-3.3,-4.7v9.4m-2.3,-7.9l4.6,6.4m0,-6.4l-4.6,6.4m.75,-3.2h6.6m-3.3,-4.7v9.4m-2.3,-7.9l4.6,6.4m0,-6.4l-4.6,6.4m-.5,-3.2h6.6m-3.3,-4.7v9.4m-2.3,-7.9l4.6,6.4m0,-6.4l-4.6,6.4m1.5,-3.2h6.6m-3.3,-4.7v9.4m-2.3,-7.9l4.6,6.4m0,-6.4l-4.6,6.4m2.5,-3.2h6.6m-3.3,-4.7v9.4m-2.3,-7.9l4.6,6.4m0,-6.4l-4.6,6.4m.5,-3.2h6.6m-3.3,-4.7v9.4m-2.3,-7.9l4.6,6.4m0,-6.4l-4.6,6.4m1.25,-3.2h6.6m-3.3,-4.7v9.4m-2.3,-7.9l4.6,6.4m0,-6.4l-4.6,6.4m3.5,-3.2h6.6m-3.3,-4.7v9.4m-2.3,-7.9l4.6,6.4m0,-6.4l-4.6,6.4m1.75,-3.2h6.6m-3.3,-4.7v9.4m-2.3,-7.9l4.6,6.4m0,-6.4l-4.6,6.4m-.5,-3.2h6.6m-3.3,-4.7v9.4m-2.3,-7.9l4.6,6.4m0,-6.4l-4.6,6.4m1.5,-3.2h6.6m-3.3,-4.7v9.4m-2.3,-7.9l4.6,6.4m0,-6.4l-4.6,6.4m-.25,-3.2h6.6m-3.3,-4.7v9.4m-2.3,-7.9l4.6,6.4m0,-6.4l-4.6,6.4m-.75,-3.2h6.6m-3.3,-4.7v9.4m-2.3,-7.9l4.6,6.4m0,-6.4l-4.6,6.4m2.75,-3.2h6.6m-3.3,-4.7v9.4m-2.3,-7.9l4.6,6.4m0,-6.4l-4.6,6.4m2,-3.2h6.6m-3.3,-4.7v9.4m-2.3,-7.9l4.6,6.4m0,-6.4l-4.6,6.4m.75,-3.2h6.6m-3.3,-4.7v9.4m-2.3,-7.9l4.6,6.4m0,-6.4l-4.6,6.4m1.75,-3.2h6.6m-3.3,-4.7v9.4m-2.3,-7.9l4.6,6.4m0,-6.4l-4.6,6.4m-.75,-3.2h6.6m-3.3,-4.7v9.4m-2.3,-7.9l4.6,6.4m0,-6.4l-4.6,6.4m0,-3.2h6.6m-3.3,-4.7v9.4m-2.3,-7.9l4.6,6.4m0,-6.4l-4.6,6.4m1,-3.2h6.6m-3.3,-4.7v9.4m-2.3,-7.9l4.6,6.4m0,-6.4l-4.6,6.4m2,-3.2h6.6m-3.3,-4.7v9.4m-2.3,-7.9l4.6,6.4m0,-6.4l-4.6,6.4m-.5,-3.2h6.6m-3.3,-4.7v9.4m-2.3,-7.9l4.6,6.4m0,-6.4l-4.6,6.4m1,-3.2h6.6m-3.3,-4.7v9.4m-2.3,-7.9l4.6,6.4m0,-6.4l-4.6,6.4m-.5,-3.2h6.6m-3.3,-4.7v9.4m-2.3,-7.9l4.6,6.4m0,-6.4l-4.6,6.4m1.75,-3.2h6.6m-3.3,-4.7v9.4m-2.3,-7.9l4.6,6.4m0,-6.4l-4.6,6.4m-.75,-3.2h6.6m-3.3,-4.7v9.4m-2.3,-7.9l4.6,6.4m0,-6.4l-4.6,6.4m.5,-3.2h6.6m-3.3,-4.7v9.4m-2.3,-7.9l4.6,6.4m0,-6.4l-4.6,6.4m-.5,-3.2h6.6m-3.3,-4.7v9.4m-2.3,-7.9l4.6,6.4m0,-6.4l-4.6,6.4m-.5,-3.2h6.6m-3.3,-4.7v9.4m-2.3,-7.9l4.6,6.4m0,-6.4l-4.6,6.4m-.5,-3.2h6.6m-3.3,-4.7v9.4m-2.3,-7.9l4.6,6.4m0,-6.4l-4.6,6.4m-.25,-3.2h6.6m-3.3,-4.7v9.4m-2.3,-7.9l4.6,6.4m0,-6.4l-4.6,6.4m.25,-3.2h6.6m-3.3,-4.7v9.4m-2.3,-7.9l4.6,6.4m0,-6.4l-4.6,6.4m-.25,-3.2h6.6m-3.3,-4.7v9.4m-2.3,-7.9l4.6,6.4m0,-6.4l-4.6,6.4m1.25,-3.2h6.6m-3.3,-4.7v9.4m-2.3,-7.9l4.6,6.4m0,-6.4l-4.6,6.4m-.5,-3.2h6.6m-3.3,-4.7v9.4m-2.3,-7.9l4.6,6.4m0,-6.4l-4.6,6.4m2.75,-3.2h6.6m-3.3,-4.7v9.4m-2.3,-7.9l4.6,6.4m0,-6.4l-4.6,6.4m0,-3.2h6.6m-3.3,-4.7v9.4m-2.3,-7.9l4.6,6.4m0,-6.4l-4.6,6.4m-.5,-3.2h6.6m-3.3,-4.7v9.4m-2.3,-7.9l4.6,6.4m0,-6.4l-4.6,6.4m1,-3.2h6.6m-3.3,-4.7v9.4m-2.3,-7.9l4.6,6.4m0,-6.4l-4.6,6.4m2,-3.2h6.6m-3.3,-4.7v9.4m-2.3,-7.9l4.6,6.4m0,-6.4l-4.6,6.4m-.25,-3.2h6.6m-3.3,-4.7v9.4m-2.3,-7.9l4.6,6.4m0,-6.4l-4.6,6.4m-.25,-3.2h6.6m-3.3,-4.7v9.4m-2.3,-7.9l4.6,6.4m0,-6.4l-4.6,6.4m-.5,-3.2h6.6m-3.3,-4.7v9.4m-2.3,-7.9l4.6,6.4m0,-6.4l-4.6,6.4m.25,-3.2h6.6m-3.3,-4.7v9.4m-2.3,-7.9l4.6,6.4m0,-6.4l-4.6,6.4m-.5,-3.2h6.6m-3.3,-4.7v9.4m-2.3,-7.9l4.6,6.4m0,-6.4l-4.6,6.4m.5,-3.2h6.6m-3.3,-4.7v9.4m-2.3,-7.9l4.6,6.4m0,-6.4l-4.6,6.4m1.5,-3.2h6.6m-3.3,-4.7v9.4m-2.3,-7.9l4.6,6.4m0,-6.4l-4.6,6.4m1,-3.2h6.6m-3.3,-4.7v9.4m-2.3,-7.9l4.6,6.4m0,-6.4l-4.6,6.4m0,-3.2h6.6m-3.3,-4.7v9.4m-2.3,-7.9l4.6,6.4m0,-6.4l-4.6,6.4m.25,-3.2h6.6m-3.3,-4.7v9.4m-2.3,-7.9l4.6,6.4m0,-6.4l-4.6,6.4m1,-3.2h6.6m-3.3,-4.7v9.4m-2.3,-7.9l4.6,6.4m0,-6.4l-4.6,6.4m-.25,-3.2h6.6m-3.3,-4.7v9.4m-2.3,-7.9l4.6,6.4m0,-6.4l-4.6,6.4m.25,-3.2h6.6m-3.3,-4.7v9.4m-2.3,-7.9l4.6,6.4m0,-6.4l-4.6,6.4m-.75,-3.2h6.6m-3.3,-4.7v9.4m-2.3,-7.9l4.6,6.4m0,-6.4l-4.6,6.4m5.5,-3.2h6.6m-3.3,-4.7v9.4m-2.3,-7.9l4.6,6.4m0,-6.4l-4.6,6.4m.25,-3.2h6.6m-3.3,-4.7v9.4m-2.3,-7.9l4.6,6.4m0,-6.4l-4.6,6.4m0,-3.2h6.6m-3.3,-4.7v9.4m-2.3,-7.9l4.6,6.4m0,-6.4l-4.6,6.4m-.25,-3.2h6.6m-3.3,-4.7v9.4m-2.3,-7.9l4.6,6.4m0,-6.4l-4.6,6.4m-.5,-3.2h6.6m-3.3,-4.7v9.4m-2.3,-7.9l4.6,6.4m0,-6.4l-4.6,6.4m1.5,-3.2h6.6m-3.3,-4.7v9.4m-2.3,-7.9l4.6,6.4m0,-6.4l-4.6,6.4m-.25,-3.2h6.6m-3.3,-4.7v9.4m-2.3,-7.9l4.6,6.4m0,-6.4l-4.6,6.4m.75,-3.2h6.6m-3.3,-4.7v9.4m-2.3,-7.9l4.6,6.4m0,-6.4l-4.6,6.4m6.25,-3.2h6.6m-3.3,-4.7v9.4m-2.3,-7.9l4.6,6.4m0,-6.4l-4.6,6.4m.25,-3.2h6.6m-3.3,-4.7v9.4m-2.3,-7.9l4.6,6.4m0,-6.4l-4.6,6.4m3.75,-3.2h6.6m-3.3,-4.7v9.4m-2.3,-7.9l4.6,6.4m0,-6.4l-4.6,6.4m.5,-3.2h6.6m-3.3,-4.7v9.4m-2.3,-7.9l4.6,6.4m0,-6.4l-4.6,6.4m1.25,-3.2h6.6m-3.3,-4.7v9.4m-2.3,-7.9l4.6,6.4m0,-6.4l-4.6,6.4m3.5,-3.2h6.6m-3.3,-4.7v9.4m-2.3,-7.9l4.6,6.4m0,-6.4l-4.6,6.4m.5,-3.2h6.6m-3.3,-4.7v9.4m-2.3,-7.9l4.6,6.4m0,-6.4l-4.6,6.4m-.75,-3.2h6.6m-3.3,-4.7v9.4m-2.3,-7.9l4.6,6.4m0,-6.4l-4.6,6.4m-.75,-3.2h6.6m-3.3,-4.7v9.4m-2.3,-7.9l4.6,6.4m0,-6.4l-4.6,6.4m-.75,-3.2h6.6m-3.3,-4.7v9.4m-2.3,-7.9l4.6,6.4m0,-6.4l-4.6,6.4m-.5,-3.2h6.6m-3.3,-4.7v9.4m-2.3,-7.9l4.6,6.4m0,-6.4l-4.6,6.4m0,-3.2h6.6m-3.3,-4.7v9.4m-2.3,-7.9l4.6,6.4m0,-6.4l-4.6,6.4m0,-3.2h6.6m-3.3,-4.7v9.4m-2.3,-7.9l4.6,6.4m0,-6.4l-4.6,6.4m4.75,-3.2h6.6m-3.3,-4.7v9.4m-2.3,-7.9l4.6,6.4m0,-6.4l-4.6,6.4m.75,-3.2h6.6m-3.3,-4.7v9.4m-2.3,-7.9l4.6,6.4m0,-6.4l-4.6,6.4m-.25,-3.2h6.6m-3.3,-4.7v9.4m-2.3,-7.9l4.6,6.4m0,-6.4l-4.6,6.4m-.25,-3.2h6.6m-3.3,-4.7v9.4m-2.3,-7.9l4.6,6.4m0,-6.4l-4.6,6.4m-.25,-3.2h6.6m-3.3,-4.7v9.4m-2.3,-7.9l4.6,6.4m0,-6.4l-4.6,6.4m2.5,-3.2h6.6m-3.3,-4.7v9.4m-2.3,-7.9l4.6,6.4m0,-6.4l-4.6,6.4m1.25,-3.2h6.6m-3.3,-4.7v9.4m-2.3,-7.9l4.6,6.4m0,-6.4l-4.6,6.4m-.75,-3.2h6.6m-3.3,-4.7v9.4m-2.3,-7.9l4.6,6.4m0,-6.4l-4.6,6.4m.25,-3.2h6.6m-3.3,-4.7v9.4m-2.3,-7.9l4.6,6.4m0,-6.4l-4.6,6.4m-.5,-3.2h6.6m-3.3,-4.7v9.4m-2.3,-7.9l4.6,6.4m0,-6.4l-4.6,6.4m-.75,-3.2h6.6m-3.3,-4.7v9.4m-2.3,-7.9l4.6,6.4m0,-6.4l-4.6,6.4m-.25,-3.2h6.6m-3.3,-4.7v9.4m-2.3,-7.9l4.6,6.4m0,-6.4l-4.6,6.4m.75,-3.2h6.6m-3.3,-4.7v9.4m-2.3,-7.9l4.6,6.4m0,-6.4l-4.6,6.4m-.25,-3.2h6.6m-3.3,-4.7v9.4m-2.3,-7.9l4.6,6.4m0,-6.4l-4.6,6.4m-.75,-3.2h6.6m-3.3,-4.7v9.4m-2.3,-7.9l4.6,6.4m0,-6.4l-4.6,6.4m3.75,-3.2h6.6m-3.3,-4.7v9.4m-2.3,-7.9l4.6,6.4m0,-6.4l-4.6,6.4m3,-3.2h6.6m-3.3,-4.7v9.4m-2.3,-7.9l4.6,6.4m0,-6.4l-4.6,6.4m0,-3.2h6.6m-3.3,-4.7v9.4m-2.3,-7.9l4.6,6.4m0,-6.4l-4.6,6.4m-.25,-3.2h6.6m-3.3,-4.7v9.4m-2.3,-7.9l4.6,6.4m0,-6.4l-4.6,6.4m2.75,-3.2h6.6m-3.3,-4.7v9.4m-2.3,-7.9l4.6,6.4m0,-6.4l-4.6,6.4m1.25,-3.2h6.6m-3.3,-4.7v9.4m-2.3,-7.9l4.6,6.4m0,-6.4l-4.6,6.4m-.75,-3.2h6.6m-3.3,-4.7v9.4m-2.3,-7.9l4.6,6.4m0,-6.4l-4.6,6.4m4.75,-3.2h6.6m-3.3,-4.7v9.4m-2.3,-7.9l4.6,6.4m0,-6.4l-4.6,6.4m2,-3.2h6.6m-3.3,-4.7v9.4m-2.3,-7.9l4.6,6.4m0,-6.4l-4.6,6.4m-.5,-3.2h6.6m-3.3,-4.7v9.4m-2.3,-7.9l4.6,6.4m0,-6.4l-4.6,6.4m.5,-3.2h6.6m-3.3,-4.7v9.4m-2.3,-7.9l4.6,6.4m0,-6.4l-4.6,6.4m1.5,-3.2h6.6m-3.3,-4.7v9.4m-2.3,-7.9l4.6,6.4m0,-6.4l-4.6,6.4m-.75,-3.2h6.6m-3.3,-4.7v9.4m-2.3,-7.9l4.6,6.4m0,-6.4l-4.6,6.4m-.5,-3.2h6.6m-3.3,-4.7v9.4m-2.3,-7.9l4.6,6.4m0,-6.4l-4.6,6.4m-.75,-3.2h6.6m-3.3,-4.7v9.4m-2.3,-7.9l4.6,6.4m0,-6.4l-4.6,6.4m.25,-3.2h6.6m-3.3,-4.7v9.4m-2.3,-7.9l4.6,6.4m0,-6.4l-4.6,6.4m.75,-3.2h6.6m-3.3,-4.7v9.4m-2.3,-7.9l4.6,6.4m0,-6.4l-4.6,6.4m0,-3.2h6.6m-3.3,-4.7v9.4m-2.3,-7.9l4.6,6.4m0,-6.4l-4.6,6.4m1.25,-3.2h6.6m-3.3,-4.7v9.4m-2.3,-7.9l4.6,6.4m0,-6.4l-4.6,6.4m0,-3.2h6.6m-3.3,-4.7v9.4m-2.3,-7.9l4.6,6.4m0,-6.4l-4.6,6.4m.5,-3.2h6.6m-3.3,-4.7v9.4m-2.3,-7.9l4.6,6.4m0,-6.4l-4.6,6.4m1.5,-3.2h6.6m-3.3,-4.7v9.4m-2.3,-7.9l4.6,6.4m0,-6.4l-4.6,6.4m-.75,-3.2h6.6m-3.3,-4.7v9.4m-2.3,-7.9l4.6,6.4m0,-6.4l-4.6,6.4m-.75,-3.2h6.6m-3.3,-4.7v9.4m-2.3,-7.9l4.6,6.4m0,-6.4l-4.6,6.4m-.25,-3.2h6.6m-3.3,-4.7v9.4m-2.3,-7.9l4.6,6.4m0,-6.4l-4.6,6.4m2.25,-3.2h6.6m-3.3,-4.7v9.4m-2.3,-7.9l4.6,6.4m0,-6.4l-4.6,6.4m-.75,-3.2h6.6m-3.3,-4.7v9.4m-2.3,-7.9l4.6,6.4m0,-6.4l-4.6,6.4m-.25,-3.2h6.6m-3.3,-4.7v9.4m-2.3,-7.9l4.6,6.4m0,-6.4l-4.6,6.4m1,-3.2h6.6m-3.3,-4.7v9.4m-2.3,-7.9l4.6,6.4m0,-6.4l-4.6,6.4m0,-3.2h6.6m-3.3,-4.7v9.4m-2.3,-7.9l4.6,6.4m0,-6.4l-4.6,6.4m-.25,-3.2h6.6m-3.3,-4.7v9.4m-2.3,-7.9l4.6,6.4m0,-6.4l-4.6,6.4m.75,-3.2h6.6m-3.3,-4.7v9.4m-2.3,-7.9l4.6,6.4m0,-6.4l-4.6,6.4m-.75,-3.2h6.6m-3.3,-4.7v9.4m-2.3,-7.9l4.6,6.4m0,-6.4l-4.6,6.4m-.75,-3.2h6.6m-3.3,-4.7v9.4m-2.3,-7.9l4.6,6.4m0,-6.4l-4.6,6.4m-.5,-3.2h6.6m-3.3,-4.7v9.4m-2.3,-7.9l4.6,6.4m0,-6.4l-4.6,6.4m-.25,-3.2h6.6m-3.3,-4.7v9.4m-2.3,-7.9l4.6,6.4m0,-6.4l-4.6,6.4m-.5,-3.2h6.6m-3.3,-4.7v9.4m-2.3,-7.9l4.6,6.4m0,-6.4l-4.6,6.4m1.75,-3.2h6.6m-3.3,-4.7v9.4m-2.3,-7.9l4.6,6.4m0,-6.4l-4.6,6.4m0,-3.2h6.6m-3.3,-4.7v9.4m-2.3,-7.9l4.6,6.4m0,-6.4l-4.6,6.4m-.75,-3.2h6.6m-3.3,-4.7v9.4m-2.3,-7.9l4.6,6.4m0,-6.4l-4.6,6.4m-.75,-3.2h6.6m-3.3,-4.7v9.4m-2.3,-7.9l4.6,6.4m0,-6.4l-4.6,6.4m-.75,-3.2h6.6m-3.3,-4.7v9.4m-2.3,-7.9l4.6,6.4m0,-6.4l-4.6,6.4m2,-3.2h6.6m-3.3,-4.7v9.4m-2.3,-7.9l4.6,6.4m0,-6.4l-4.6,6.4m-.25,-3.2h6.6m-3.3,-4.7v9.4m-2.3,-7.9l4.6,6.4m0,-6.4l-4.6,6.4m.5,-3.2h6.6m-3.3,-4.7v9.4m-2.3,-7.9l4.6,6.4m0,-6.4l-4.6,6.4m2.75,-3.2h6.6m-3.3,-4.7v9.4m-2.3,-7.9l4.6,6.4m0,-6.4l-4.6,6.4m-.5,-3.2h6.6m-3.3,-4.7v9.4m-2.3,-7.9l4.6,6.4m0,-6.4l-4.6,6.4m0,-3.2h6.6m-3.3,-4.7v9.4m-2.3,-7.9l4.6,6.4m0,-6.4l-4.6,6.4m-.5,-3.2h6.6m-3.3,-4.7v9.4m-2.3,-7.9l4.6,6.4m0,-6.4l-4.6,6.4m0,-3.2h6.6m-3.3,-4.7v9.4m-2.3,-7.9l4.6,6.4m0,-6.4l-4.6,6.4m1.75,-3.2h6.6m-3.3,-4.7v9.4m-2.3,-7.9l4.6,6.4m0,-6.4l-4.6,6.4m3.25,-3.2h6.6m-3.3,-4.7v9.4m-2.3,-7.9l4.6,6.4m0,-6.4l-4.6,6.4m.5,-3.2h6.6m-3.3,-4.7v9.4m-2.3,-7.9l4.6,6.4m0,-6.4l-4.6,6.4" fill="none" stroke="#ff00ff" stroke-width="0.85"/>
<path d="M355.2,19h6.6m-3.3,-4.7v9.4m-2.3,-7.9l4.6,6.4m0,-6.4l-4.6,6.4m-.5,-3.2h6.6m-3.3,-4.7v9.4m-2.3,-7.9l4.6,6.4m0,-6.4l-4.6,6.4m3.75,-3.2h6.6m-3.3,-4.7v9.4m-2.3,-7.9l4.6,6.4m0,-6.4l-4.6,6.4m.25,-3.2h6.6m-3.3,-4.7v9.4m-2.3,-7.9l4.6,6.4m0,-6.4l-4.6,6.4m1.5,-3.2h6.6m-3.3,-4.7v9.4m-2.3,-7.9l4.6,6.4m0,-6.4l-4.6,6.4m1.25,-3.2h6.6m-3.3,-4.7v9.4m-2.3,-7.9l4.6,6.4m0,-6.4l-4.6,6.4m-.5,-3.2h6.6m-3.3,-4.7v9.4m-2.3,-7.9l4.6,6.4m0,-6.4l-4.6,6.4m-.5,-3.2h6.6m-3.3,-4.7v9.4m-2.3,-7.9l4.6,6.4m0,-6.4l-4.6,6.4m3,-3.2h6.6m-3.3,-4.7v9.4m-2.3,-7.9l4.6,6.4m0,-6.4l-4.6,6.4m-.5,-3.2h6.6m-3.3,-4.7v9.4m-2.3,-7.9l4.6,6.4m0,-6.4l-4.6,6.4m-.75,-3.2h6.6m-3.3,-4.7v9.4m-2.3,-7.9l4.6,6.4m0,-6.4l-4.6,6.4m-.75,-3.2h6.6m-3.3,-4.7v9.4m-2.3,-7.9l4.6,6.4m0,-6.4l-4.6,6.4m1,-3.2h6.6m-3.3,-4.7v9.4m-2.3,-7.9l4.6,6.4m0,-6.4l-4.6,6.4m1.5,-3.2h6.6m-3.3,-4.7v9.4m-2.3,-7.9l4.6,6.4m0,-6.4l-4.6,6.4m.5,-3.2h6.6m-3.3,-4.7v9.4m-2.3,-7.9l4.6,6.4m0,-6.4l-4.6,6.4m-.75,-3.2h6.6m-3.3,-4.7v9.4m-2.3,-7.9l4.6,6.4m0,-6.4l-4.6,6.4m2.25,-3.2h6.6m-3.3,-4.7v9.4m-2.3,-7.9l4.6,6.4m0,-6.4l-4.6,6.4m.5,-3.2h6.6m-3.3,-4.7v9.4m-2.3,-7.9l4.6,6.4m0,-6.4l-4.6,6.4m2.75,-3.2h6.6m-3.3,-4.7v9.4m-2.3,-7.9l4.6,6.4m0,-6.4l-4.6,6.4m1.25,-3.2h6.6m-3.3,-4.7v9.4m-2.3,-7.9l4.6,6.4m0,-6.4l-4.6,6.4m.25,-3.2h6.6m-3.3,-4.7v9.4m-2.3,-7.9l4.6,6.4m0,-6.4l-4.6,6.4m-.5,-3.2h6.6m-3.3,-4.7v9.4m-2.3,-7.9l4.6,6.4m0,-6.4l-4.6,6.4m0,-3.2h6.6m-3.3,-4.7v9.4m-2.3,-7.9l4.6,6.4m0,-6.4l-4.6,6.4m3.25,-3.2h6.6m-3.3,-4.7v9.4m-2.3,-7.9l4.6,6.4m0,-6.4l-4.6,6.4m2.5,-3.2h6.6m-3.3,-4.7v9.4m-2.3,-7.9l4.6,6.4m0,-6.4l-4.6,6.4m-.75,-3.2h6.6m-3.3,-4.7v9.4m-2.3,-7.9l4.6,6.4m0,-6.4l-4.6,6.4m-.75,-3.2h6.6m-3.3,-4.7v9.4m-2.3,-7.9l4.6,6.4m0,-6.4l-4.6,6.4m.25,-3.2h6.6m-3.3,-4.7v9.4m-2.3,-7.9l4.6,6.4m0,-6.4l-4.6,6.4m1.25,-3.2h6.6m-3.3,-4.7v9.4m-2.3,-7.9l4.6,6.4m0,-6.4l-4.6,6.4m1.75,-3.2h6.6m-3.3,-4.7v9.4m-2.3,-7.9l4.6,6.4m0,-6.4l-4.6,6.4m2,-3.2h6.6m-3.3,-4.7v9.4m-2.3,-7.9l4.6,6.4m0,-6.4l-4.6,6.4m1,-3.2h6.6m-3.3,-4.7v9.4m-2.3,-7.9l4.6,6.4m0,-6.4l-4.6,6.4m2.5,-3.2h6.6m-3.3,-4.7v9.4m-2.3,-7.9l4.6,6.4m0,-6.4l-4.6,6.4m-.75,-3.2h6.6m-3.3,-4.7v9.4m-2.3,-7.9l4.6,6.4m0,-6.4l-4.6,6.4m0,-3.2h6.6m-3.3,-4.7v9.4m-2.3,-7.9l4.6,6.4m0,-6.4l-4.6,6.4m2.25,-3.2h6.6m-3.3,-4.7v9.4m-2.3,-7.9l4.6,6.4m0,-6.4l-4.6,6.4m-.25,-3.2h6.6m-3.3,-4.7v9.4m-2.3,-7.9l4.6,6.4m0,-6.4l-4.6,6.4m-.25,-3.2h6.6m-3.3,-4.7v9.4m-2.3,-7.9l4.6,6.4m0,-6.4l-4.6,6.4m-.5,-3.2h6.6m-3.3,-4.7v9.4m-2.3,-7.9l4.6,6.4m0,-6.4l-4.6,6.4m5.5,-3.2h6.6m-3.3,-4.7v9.4m-2.3,-7.9l4.6,6.4m0,-6.4l-4.6,6.4m.5,-3.2h6.6m-3.3,-4.7v9.4m-2.3,-7.9l4.6,6.4m0,-6.4l-4.6,6.4m-.75,-3.2h6.6m-3.3,-4.7v9.4m-2.3,-7.9l4.6,6.4m0,-6.4l-4.6,6.4m-.75,-3.2h6.6m-3.3,-4.7v9.4m-2.3,-7.9l4.6,6.4m0,-6.4l-4.6,6.4m.75,-3.2h6.6m-3.3,-4.7v9.4m-2.3,-7.9l4.6,6.4m0,-6.4l-4.6,6.4m.75,-3.2h6.6m-3.3,-4.7v9.4m-2.3,-7.9l4.6,6.4m0,-6.4l-4.6,6.4m-.5,-3.2h6.6m-3.3,-4.7v9.4m-2.3,-7.9l4.6,6.4m0,-6.4l-4.6,6.4m-.75,-3.2h6.6m-3.3,-4.7v9.4m-2.3,-7.9l4.6,6.4m0,-6.4l-4.6,6.4m0,-3.2h6.6m-3.3,-4.7v9.4m-2.3,-7.9l4.6,6.4m0,-6.4l-4.6,6.4m0,-3.2h6.6m-3.3,-4.7v9.4m-2.3,-7.9l4.6,6.4m0,-6.4l-4.6,6.4m0,-3.2h6.6m-3.3,-4.7v9.4m-2.3,-7.9l4.6,6.4m0,-6.4l-4.6,6.4m.25,-3.2h6.6m-3.3,-4.7v9.4m-2.3,-7.9l4.6,6.4m0,-6.4l-4.6,6.4m2,-3.2h6.6m-3.3,-4.7v9.4m-2.3,-7.9l4.6,6.4m0,-6.4l-4.6,6.4m-.75,-3.2h6.6m-3.3,-4.7v9.4m-2.3,-7.9l4.6,6.4m0,-6.4l-4.6,6.4m4.5,-3.2h6.6m-3.3,-4.7v9.4m-2.3,-7.9l4.6,6.4m0,-6.4l-4.6,6.4m2.75,-3.2h6.6m-3.3,-4.7v9.4m-2.3,-7.9l4.6,6.4m0,-6.4l-4.6,6.4m1.25,-3.2h6.6m-3.3,-4.7v9.4m-2.3,-7.9l4.6,6.4m0,-6.4l-4.6,6.4m4.75,-3.2h6.6m-3.3,-4.7v9.4m-2.3,-7.9l4.6,6.4m0,-6.4l-4.6,6.4m2,-3.2h6.6m-3.3,-4.7v9.4m-2.3,-7.9l4.6,6.4m0,-6.4l-4.6,6.4m-.5,-3.2h6.6m-3.3,-4.7v9.4m-2.3,-7.9l4.6,6.4m0,-6.4l-4.6,6.4m1,-3.2h6.6m-3.3,-4.7v9.4m-2.3,-7.9l4.6,6.4m0,-6.4l-4.6,6.4m-.75,-3.2h6.6m-3.3,-4.7v9.4m-2.3,-7.9l4.6,6.4m0,-6.4l-4.6,6.4m-.75,-3.2h6.6m-3.3,-4.7v9.4m-2.3,-7.9l4.6,6.4m0,-6.4l-4.6,6.4m-.25,-3.2h6.6m-3.3,-4.7v9.4m-2.3,-7.9l4.6,6.4m0,-6.4l-4.6,6.4m-.5,-3.2h6.6m-3.3,-4.7v9.4m-2.3,-7.9l4.6,6.4m0,-6.4l-4.6,6.4m7,-3.2h6.6m-3.3,-4.7v9.4m-2.3,-7.9l4.6,6.4m0,-6.4l-4.6,6.4m0,-3.2h6.6m-3.3,-4.7v9.4m-2.3,-7.9l4.6,6.4m0,-6.4l-4.6,6.4m1.5,-3.2h6.6m-3.3,-4.7v9.4m-2.3,-7.9l4.6,6.4m0,-6.4l-4.6,6.4m.75,-3.2h6.6m-3.3,-4.7v9.4m-2.3,-7.9l4.6,6.4m0,-6.4l-4.6,6.4m.25,-3.2h6.6m-3.3,-4.7v9.4m-2.3,-7.9l4.6,6.4m0,-6.4l-4.6,6.4m1.5,-3.2h6.6m-3.3,-4.7v9.4m-2.3,-7.9l4.6,6.4m0,-6.4l-4.6,6.4m-.5,-3.2h6.6m-3.3,-4.7v9.4m-2.3,-7.9l4.6,6.4m0,-6.4l-4.6,6.4m-.75,-3.2h6.6m-3.3,-4.7v9.4m-2.3,-7.9l4.6,6.4m0,-6.4l-4.6,6.4m-.75,-3.2h6.6m-3.3,-4.7v9.4m-2.3,-7.9l4.6,6.4m0,-6.4l-4.6,6.4m.75,-3.2h6.6m-3.3,-4.7v9.4m-2.3,-7.9l4.6,6.4m0,-6.4l-4.6,6.4m0,-3.2h6.6m-3.3,-4.7v9.4m-2.3,-7.9l4.6,6.4m0,-6.4l-4.6,6.4m1.5,-3.2h6.6m-3.3,-4.7v9.4m-2.3,-7.9l4.6,6.4m0,-6.4l-4.6,6.4m-.75,-3.2h6.6m-3.3,-4.7v9.4m-2.3,-7.9l4.6,6.4m0,-6.4l-4.6,6.4m-.5,-3.2h6.6m-3.3,-4.7v9.4m-2.3,-7.9l4.6,6.4m0,-6.4l-4.6,6.4m0,-3.2h6.6m-3.3,-4.7v9.4m-2.3,-7.9l4.6,6.4m0,-6.4l-4.6,6.4m-.75,-3.2h6.6m-3.3,-4.7v9.4m-2.3,-7.9l4.6,6.4m0,-6.4l-4.6,6.4m-.5,-3.2h6.6m-3.3,-4.7v9.4m-2.3,-7.9l4.6,6.4m0,-6.4l-4.6,6.4m-.5,-3.2h6.6m-3.3,-4.7v9.4m-2.3,-7.9l4.6,6.4m0,-6.4l-4.6,6.4m-.75,-3.2h6.6m-3.3,-4.7v9.4m-2.3,-7.9l4.6,6.4m0,-6.4l-4.6,6.4m-.5,-3.2h6.6m-3.3,-4.7v9.4m-2.3,-7.9l4.6,6.4m0,-6.4l-4.6,6.4m-.25,-3.2h6.6m-3.3,-4.7v9.4m-2.3,-7.9l4.6,6.4m0,-6.4l-4.6,6.4m.75,-3.2h6.6m-3.3,-4.7v9.4m-2.3,-7.9l4.6,6.4m0,-6.4l-4.6,6.4m0,-3.2h6.6m-3.3,-4.7v9.4m-2.3,-7.9l4.6,6.4m0,-6.4l-4.6,6.4m-.25,-3.2h6.6m-3.3,-4.7v9.4m-2.3,-7.9l4.6,6.4m0,-6.4l-4.6,6.4m-.25,-3.2h6.6m-3.3,-4.7v9.4m-2.3,-7.9l4.6,6.4m0,-6.4l-4.6,6.4m-.25,-3.2h6.6m-3.3,-4.7v9.4m-2.3,-7.9l4.6,6.4m0,-6.4l-4.6,6.4m-.75,-3.2h6.6m-3.3,-4.7v9.4m-2.3,-7.9l4.6,6.4m0,-6.4l-4.6,6.4m-.75,-3.2h6.6m-3.3,-4.7v9.4m-2.3,-7.9l4.6,6.4m0,-6.4l-4.6,6.4m-.75,-3.2h6.6m-3.3,-4.7v9.4m-2.3,-7.9l4.6,6.4m0,-6.4l-4.6,6.4m-.75,-3.2h6.6m-3.3,-4.7v9.4m-2.3,-7.9l4.6,6.4m0,-6.4l-4.6,6.4m-.25,-3.2h6.6m-3.3,-4.7v9.4m-2.3,-7.9l4.6,6.4m0,-6.4l-4.6,6.4m-.5,-3.2h6.6m-3.3,-4.7v9.4m-2.3,-7.9l4.6,6.4m0,-6.4l-4.6,6.4m-.75,-3.2h6.6m-3.3,-4.7v9.4m-2.3,-7.9l4.6,6.4m0,-6.4l-4.6,6.4m.25,-3.2h6.6m-3.3,-4.7v9.4m-2.3,-7.9l4.6,6.4m0,-6.4l-4.6,6.4m-.75,-3.2h6.6m-3.3,-4.7v9.4m-2.3,-7.9l4.6,6.4m0,-6.4l-4.6,6.4m-.5,-3.2h6.6m-3.3,-4.7v9.4m-2.3,-7.9l4.6,6.4m0,-6.4l-4.6,6.4m1,-3.2h6.6m-3.3,-4.7v9.4m-2.3,-7.9l4.6,6.4m0,-6.4l-4.6,6.4m-.75,-3.2h6.6m-3.3,-4.7v9.4m-2.3,-7.9l4.6,6.4m0,-6.4l-4.6,6.4m1.25,-3.2h6.6m-3.3,-4.7v9.4m-2.3,-7.9l4.6,6.4m0,-6.4l-4.6,6.4m3.5,-3.2h6.6m-3.3,-4.7v9.4m-2.3,-7.9l4.6,6.4m0,-6.4l-4.6,6.4m-.75,-3.2h6.6m-3.3,-4.7v9.4m-2.3,-7.9l4.6,6.4m0,-6.4l-4.6,6.4m.25,-3.2h6.6m-3.3,-4.7v9.4m-2.3,-7.9l4.6,6.4m0,-6.4l-4.6,6.4m-.75,-3.2h6.6m-3.3,-4.7v9.4m-2.3,-7.9l4.6,6.4m0,-6.4l-4.6,6.4m.5,-3.2h6.6m-3.3,-4.7v9.4m-2.3,-7.9l4.6,6.4m0,-6.4l-4.6,6.4m-.5,-3.2h6.6m-3.3,-4.7v9.4m-2.3,-7.9l4.6,6.4m0,-6.4l-4.6,6.4m-.25,-3.2h6.6m-3.3,-4.7v9.4m-2.3,-7.9l4.6,6.4m0,-6.4l-4.6,6.4m-.75,-3.2h6.6m-3.3,-4.7v9.4m-2.3,-7.9l4.6,6.4m0,-6.4l-4.6,6.4m0,-3.2h6.6m-3.3,-4.7v9.4m-2.3,-7.9l4.6,6.4m0,-6.4l-4.6,6.4m0,-3.2h6.6m-3.3,-4.7v9.4m-2.3,-7.9l4.6,6.4m0,-6.4l-4.6,6.4m0,-3.2h6.6m-3.3,-4.7v9.4m-2.3,-7.9l4.6,6.4m0,-6.4l-4.6,6.4m-.75,-3.2h6.6m-3.3,-4.7v9.4m-2.3,-7.9l4.6,6.4m0,-6.4l-4.6,6.4m.25,-3.2h6.6m-3.3,-4.7v9.4m-2.3,-7.9l4.6,6.4m0,-6.4l-4.6,6.4m.75,-3.2h6.6m-3.3,-4.7v9.4m-2.3,-7.9l4.6,6.4m0,-6.4l-4.6,6.4m0,-3.2h6.6m-3.3,-4.7v9.4m-2.3,-7.9l4.6,6.4m0,-6.4l-4.6,6.4m.25,-3.2h6.6m-3.3,-4.7v9.4m-2.3,-7.9l4.6,6.4m0,-6.4l-4.6,6.4m-.75,-3.2h6.6m-3.3,-4.7v9.4m-2.3,-7.9l4.6,6.4m0,-6.4l-4.6,6.4m-.25,-3.2h6.6m-3.3,-4.7v9.4m-2.3,-7.9l4.6,6.4m0,-6.4l-4.6,6.4m.25,-3.2h6.6m-3.3,-4.7v9.4m-2.3,-7.9l4.6,6.4m0,-6.4l-4.6,6.4m2,-3.2h6.6m-3.3,-4.7v9.4m-2.3,-7.9l4.6,6.4m0,-6.4l-4.6,6.4m.25,-3.2h6.6m-3.3,-4.7v9.4m-2.3,-7.9l4.6,6.4m0,-6.4l-4.6,6.4m1.75,-3.2h6.6m-3.3,-4.7v9.4m-2.3,-7.9l4.6,6.4m0,-6.4l-4.6,6.4m-.75,-3.2h6.6m-3.3,-4.7v9.4m-2.3,-7.9l4.6,6.4m0,-6.4l-4.6,6.4m-.5,-3.2h6.6m-3.3,-4.7v9.4m-2.3,-7.9l4.6,6.4m0,-6.4l-4.6,6.4m0,-3.2h6.6m-3.3,-4.7v9.4m-2.3,-7.9l4.6,6.4m0,-6.4l-4.6,6.4m1.5,-3.2h6.6m-3.3,-4.7v9.4m-2.3,-7.9l4.6,6.4m0,-6.4l-4.6,6.4m-.25,-3.2h6.6m-3.3,-4.7v9.4m-2.3,-7.9l4.6,6.4m0,-6.4l-4.6,6.4m0,-3.2h6.6m-3.3,-4.7v9.4m-2.3,-7.9l4.6,6.4m0,-6.4l-4.6,6.4m.25,-3.2h6.6m-3.3,-4.7v9.4m-2.3,-7.9l4.6,6.4m0,-6.4l-4.6,6.4m.5,-3.2h6.6m-3.3,-4.7v9.4m-2.3,-7.9l4.6,6.4m0,-6.4l-4.6,6.4m.25,-3.2h6.6m-3.3,-4.7v9.4m-2.3,-7.9l4.6,6.4m0,-6.4l-4.6,6.4m.25,-3.2h6.6m-3.3,-4.7v9.4m-2.3,-7.9l4.6,6.4m0,-6.4l-4.6,6.4m2.25,-3.2h6.6m-3.3,-4.7v9.4m-2.3,-7.9l4.6,6.4m0,-6.4l-4.6,6.4m0,-3.2h6.6m-3.3,-4.7v9.4m-2.3,-7.9l4.6,6.4m0,-6.4l-4.6,6.4m-.25,-3.2h6.6m-3.3,-4.7v9.4m-2.3,-7.9l4.6,6.4m0,-6.4l-4.6,6.4m0,-3.2h6.6m-3.3,-4.7v9.4m-2.3,-7.9l4.6,6.4m0,-6.4l-4.6,6.4m1.5,-3.2h6.6m-3.3,-4.7v9.4m-2.3,-7.9l4.6,6.4m0,-6.4l-4.6,6.4m-.5,-3.2h6.6m-3.3,-4.7v9.4m-2.3,-7.9l4.6,6.4m0,-6.4l-4.6,6.4m1,-3.2h6.6m-3.3,-4.7v9.4m-2.3,-7.9l4.6,6.4m0,-6.4l-4.6,6.4m1.75,-3.2h6.6m-3.3,-4.7v9.4m-2.3,-7.9l4.6,6.4m0,-6.4l-4.6,6.4m2.25,-3.2h6.6m-3.3,-4.7v9.4m-2.3,-7.9l4.6,6.4m0,-6.4l-4.6,6.4m0,-3.2h6.6m-3.3,-4.7v9.4m-2.3,-7.9l4.6,6.4m0,-6.4l-4.6,6.4m-.25,-3.2h6.6m-3.3,-4.7v9.4m-2.3,-7.9l4.6,6.4m0,-6.4l-4.6,6.4m.25,-3.2h6.6m-3.3,-4.7v9.4m-2.3,-7.9l4.6,6.4m0,-6.4l-4.6,6.4m.75,-3.2h6.6m-3.3,-4.7v9.4m-2.3,-7.9l4.6,6.4m0,-6.4l-4.6,6.4m1.25,-3.2h6.6m-3.3,-4.7v9.4m-2.3,-7.9l4.6,6.4m0,-6.4l-4.6,6.4m2.5,-3.2h6.6m-3.3,-4.7v9.4m-2.3,-7.9l4.6,6.4m0,-6.4l-4.6,6.4m2.25,-3.2h6.6m-3.3,-4.7v9.4m-2.3,-7.9l4.6,6.4m0,-6.4l-4.6,6.4m0,-3.2h6.6m-3.3,-4.7v9.4m-2.3,-7.9l4.6,6.4m0,-6.4l-4.6,6.4m0,-3.2h6.6m-3.3,-4.7v9.4m-2.3,-7.9l4.6,6.4m0,-6.4l-4.6,6.4m0,-3.2h6.6m-3.3,-4.7v9.4m-2.3,-7.9l4.6,6.4m0,-6.4l-4.6,6.4m2.5,-3.2h6.6m-3.3,-4.7v9.4m-2.3,-7.9l4.6,6.4m0,-6.4l-4.6,6.4m-.75,-3.2h6.6m-3.3,-4.7v9.4m-2.3,-7.9l4.6,6.4m0,-6.4l-4.6,6.4m.25,-3.2h6.6m-3.3,-4.7v9.4m-2.3,-7.9l4.6,6.4m0,-6.4l-4.6,6.4m.75,-3.2h6.6m-3.3,-4.7v9.4m-2.3,-7.9l4.6,6.4m0,-6.4l-4.6,6.4m-.75,-3.2h6.6m-3.3,-4.7v9.4m-2.3,-7.9l4.6,6.4m0,-6.4l-4.6,6.4m-.25,-3.2h6.6m-3.3,-4.7v9.4m-2.3,-7.9l4.6,6.4m0,-6.4l-4.6,6.4m.5,-3.2h6.6m-3.3,-4.7v9.4m-2.3,-7.9l4.6,6.4m0,-6.4l-4.6,6.4m-.5,-3.2h6.6m-3.3,-4.7v9.4m-2.3,-7.9l4.6,6.4m0,-6.4l-4.6,6.4m5,-3.2h6.6m-3.3,-4.7v9.4m-2.3,-7.9l4.6,6.4m0,-6.4l-4.6,6.4m1.25,-3.2h6.6m-3.3,-4.7v9.4m-2.3,-7.9l4.6,6.4m0,-6.4l-4.6,6.4m.25,-3.2h6.6m-3.3,-4.7v9.4m-2.3,-7.9l4.6,6.4m0,-6.4l-4.6,6.4m1.5,-3.2h6.6m-3.3,-4.7v9.4m-2.3,-7.9l4.6,6.4m0,-6.4l-4.6,6.4m2.25,-3.2h6.6m-3.3,-4.7v9.4m-2.3,-7.9l4.6,6.4m0,-6.4l-4.6,6.4m1.75,-3.2h6.6m-3.3,-4.7v9.4m-2.3,-7.9l4.6,6.4m0,-6.4l-4.6,6.4m-.5,-3.2h6.6m-3.3,-4.7v9.4m-2.3,-7.9l4.6,6.4m0,-6.4l-4.6,6.4m3.5,-3.2h6.6m-3.3,-4.7v9.4m-2.3,-7.9l4.6,6.4m0,-6.4l-4.6,6.4m3.75,-3.2h6.6m-3.3,-4.7v9.4m-2.3,-7.9l4.6,6.4m0,-6.4l-4.6,6.4m0,-3.2h6.6m-3.3,-4.7v9.4m-2.3,-7.9l4.6,6.4m0,-6.4l-4.6,6.4m1.75,-3.2h6.6m-3.3,-4.7v9.4m-2.3,-7.9l4.6,6.4m0,-6.4l-4.6,6.4m1.5,-3.2h6.6m-3.3,-4.7v9.4m-2.3,-7.9l4.6,6.4m0,-6.4l-4.6,6.4m-.5,-3.2h6.6m-3.3,-4.7v9.4m-2.3,-7.9l4.6,6.4m0,-6.4l-4.6,6.4m2.5,-3.2h6.6m-3.3,-4.7v9.4m-2.3,-7.9l4.6,6.4m0,-6.4l-4.6,6.4m-.25,-3.2h6.6m-3.3,-4.7v9.4m-2.3,-7.9l4.6,6.4m0,-6.4l-4.6,6.4m2.75,-3.2h6.6m-3.3,-4.7v9.4m-2.3,-7.9l4.6,6.4m0,-6.4l-4.6,6.4m-.75,-3.2h6.6m-3.3,-4.7v9.4m-2.3,-7.9l4.6,6.4m0,-6.4l-4.6,6.4m-.25,-3.2h6.6m-3.3,-4.7v9.4m-2.3,-7.9l4.6,6.4m0,-6.4l-4.6,6.4m.75,-3.2h6.6m-3.3,-4.7v9.4m-2.3,-7.9l4.6,6.4m0,-6.4l-4.6,6.4m.5,-3.2h6.6m-3.3,-4.7v9.4m-2.3,-7.9l4.6,6.4m0,-6.4l-4.6,6.4m1.5,-3.2h6.6m-3.3,-4.7v9.4m-2.3,-7.9l4.6,6.4m0,-6.4l-4.6,6.4m-.25,-3.2h6.6m-3.3,-4.7v9.4m-2.3,-7.9l4.6,6.4m0,-6.4l-4.6,6.4m-.75,-3.2h6.6m-3.3,-4.7v9.4m-2.3,-7.9l4.6,6.4m0,-6.4l-4.6,6.4" fill="none" stroke="#ff00ff" stroke-width="0.85"/>
<text class="s" transform="translate(353.80,340.10) scale(0.77,1.0)" font-size="12.5" fill="#333333" font-weight="normal" text-anchor="end">1</text>
<text class="s" transform="translate(353.80,300.70) scale(0.77,1.0)" font-size="12.5" fill="#333333" font-weight="normal" text-anchor="end">1.5</text>
<text class="s" transform="translate(353.80,261.30) scale(0.77,1.0)" font-size="12.5" fill="#333333" font-weight="normal" text-anchor="end">2</text>
<text class="s" transform="translate(353.80,221.90) scale(0.77,1.0)" font-size="12.5" fill="#333333" font-weight="normal" text-anchor="end">2.5</text>
<text class="s" transform="translate(353.80,182.50) scale(0.77,1.0)" font-size="12.5" fill="#333333" font-weight="normal" text-anchor="end">3</text>
<text class="s" transform="translate(353.80,143.10) scale(0.77,1.0)" font-size="12.5" fill="#333333" font-weight="normal" text-anchor="end">3.5</text>
<text class="s" transform="translate(353.80,103.70) scale(0.77,1.0)" font-size="12.5" fill="#333333" font-weight="normal" text-anchor="end">4</text>
<text class="s" transform="translate(353.80,64.30) scale(0.77,1.0)" font-size="12.5" fill="#333333" font-weight="normal" text-anchor="end">4.5</text>
<text class="s" transform="translate(353.80,24.90) scale(0.77,1.0)" font-size="12.5" fill="#333333" font-weight="normal" text-anchor="end">5</text>
<text class="s" transform="translate(358.00,351.90) scale(0.79,1.0)" font-size="12" fill="#333333" font-weight="normal" text-anchor="middle">0</text>
<text class="s" transform="translate(421.52,351.90) scale(0.79,1.0)" font-size="12" fill="#333333" font-weight="normal" text-anchor="middle">500</text>
<text class="s" transform="translate(485.04,351.90) scale(0.79,1.0)" font-size="12" fill="#333333" font-weight="normal" text-anchor="middle">1000</text>
<text class="s" transform="translate(548.56,351.90) scale(0.79,1.0)" font-size="12" fill="#333333" font-weight="normal" text-anchor="middle">1500</text>
<text class="s" transform="translate(612.08,351.90) scale(0.79,1.0)" font-size="12" fill="#333333" font-weight="normal" text-anchor="middle">2000</text>
<text class="s" transform="translate(675.60,351.90) scale(0.79,1.0)" font-size="12" fill="#333333" font-weight="normal" text-anchor="middle">2500</text>
<text class="s" transform="translate(516.70,12.30) scale(0.827,1.0)" font-size="13" fill="#222222" font-weight="normal" text-anchor="middle">Test prediction accuracy=81.6444%</text>
<text class="s" transform="translate(516.80,369.40) scale(0.815,1.0)" font-size="13" fill="#333333" font-weight="normal" text-anchor="middle">Sample point</text>
<text class="s" transform="translate(333.0,176.5) rotate(-90) scale(1.03,0.74)" font-size="13" fill="#333333" stroke="#333333" stroke-width="0.3" text-anchor="middle">Fault type</text>
<rect x="570.6" y="29.5" width="97.2" height="31.7" fill="#ffffff" stroke="#2a2a2a" stroke-width="1.1"/>
<ellipse cx="588.1" cy="38.8" rx="2.8" ry="3.15" fill="none" stroke="#0000ff" stroke-width="2.2"/>
<path d="M585.1999999999999,53.9h6.2M588.3,49.8v8.2M586.0999999999999,51.0l4.4,5.8M590.5,51.0l-4.4,5.8" stroke="#ff00ff" stroke-width="1" fill="none"/>
<text class="s" transform="translate(605.10,42.80) scale(0.877,1.0)" font-size="10" fill="#222222" font-weight="normal" text-anchor="start">predicted value</text>
<text class="s" transform="translate(605.10,57.50) scale(0.877,1.0)" font-size="10" fill="#222222" font-weight="normal" text-anchor="start">actual label</text>
</svg></body></html>
